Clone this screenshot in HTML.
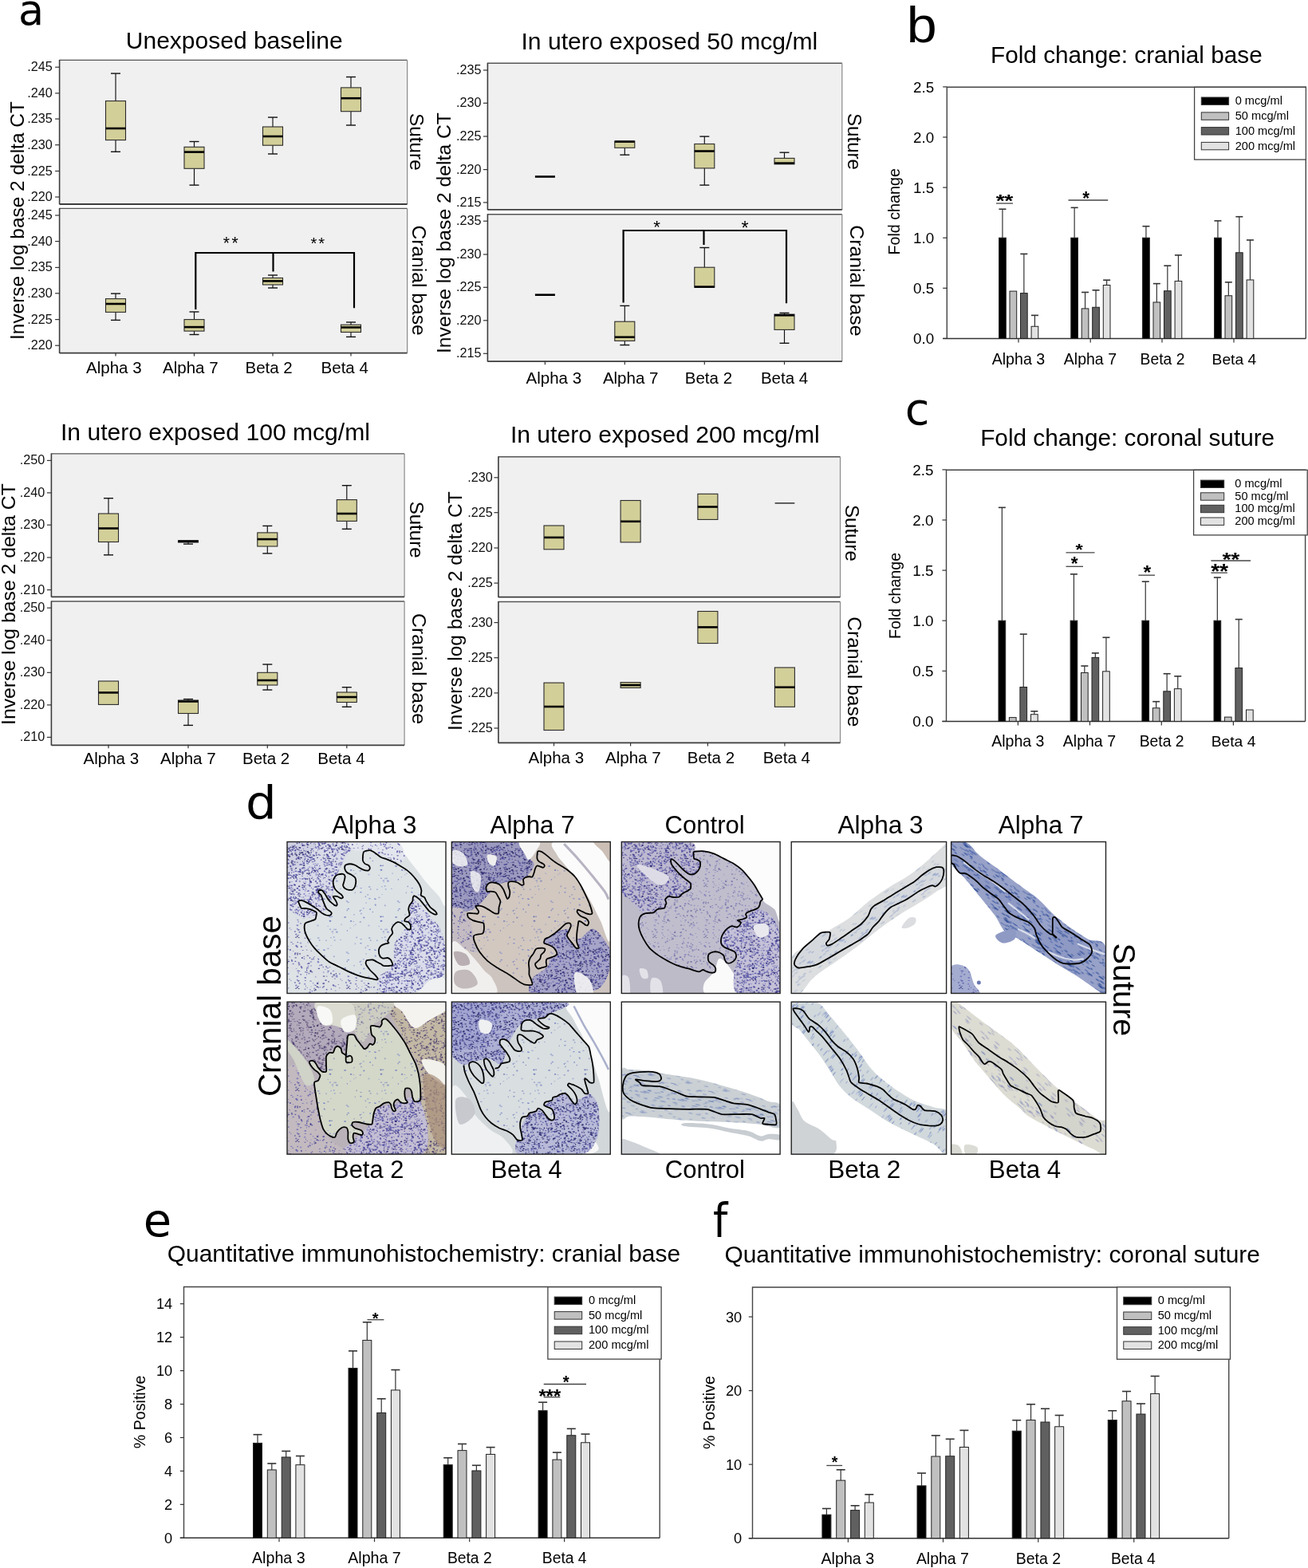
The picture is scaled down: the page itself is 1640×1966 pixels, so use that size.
<!DOCTYPE html>
<html><head><meta charset="utf-8"><title>Figure</title>
<style>html,body{margin:0;padding:0;background:#fff;}svg{display:block;}</style>
</head><body>
<svg width="1640" height="1966" viewBox="0 0 1640 1966">
<rect x="0" y="0" width="1640" height="1966" fill="#fff"/>
<g font-family="'Liberation Sans', Arial, Helvetica, sans-serif">
<text transform="matrix(0.5239 0 0 0.5397 22.96 31.26)" font-family="DejaVu Sans" font-size="100">a</text>
<rect x="74.60" y="75.40" width="436.00" height="180.10" fill="#f0f0f0" stroke="none" stroke-width="1" />
<line x1="74.60" y1="75.40" x2="510.60" y2="75.40" stroke="#555" stroke-width="1.4" />
<line x1="510.60" y1="75.40" x2="510.60" y2="256.00" stroke="#8a8a8a" stroke-width="1.2" />
<line x1="74.60" y1="74.90" x2="74.60" y2="256.30" stroke="#3c3c3c" stroke-width="1.6" />
<line x1="74.60" y1="256.00" x2="510.60" y2="256.00" stroke="#3c3c3c" stroke-width="1.8" />
<rect x="74.60" y="261.40" width="436.00" height="180.70" fill="#f0f0f0" stroke="none" stroke-width="1" />
<line x1="74.60" y1="261.40" x2="510.60" y2="261.40" stroke="#555" stroke-width="1.4" />
<line x1="510.60" y1="261.40" x2="510.60" y2="442.60" stroke="#8a8a8a" stroke-width="1.2" />
<line x1="74.60" y1="260.90" x2="74.60" y2="442.90" stroke="#3c3c3c" stroke-width="1.6" />
<line x1="74.60" y1="442.60" x2="510.60" y2="442.60" stroke="#3c3c3c" stroke-width="1.8" />
<line x1="69.10" y1="84.20" x2="74.60" y2="84.20" stroke="#333" stroke-width="1.2" />
<text x="34.19" y="89.23" font-size="16.20" fill="#111">.245</text>
<line x1="69.10" y1="116.90" x2="74.60" y2="116.90" stroke="#333" stroke-width="1.2" />
<text x="34.19" y="121.93" font-size="16.20" fill="#111">.240</text>
<line x1="69.10" y1="149.10" x2="74.60" y2="149.10" stroke="#333" stroke-width="1.2" />
<text x="34.19" y="154.13" font-size="16.20" fill="#111">.235</text>
<line x1="69.10" y1="181.70" x2="74.60" y2="181.70" stroke="#333" stroke-width="1.2" />
<text x="34.19" y="186.73" font-size="16.20" fill="#111">.230</text>
<line x1="69.10" y1="214.50" x2="74.60" y2="214.50" stroke="#333" stroke-width="1.2" />
<text x="34.19" y="219.53" font-size="16.20" fill="#111">.225</text>
<line x1="69.10" y1="247.00" x2="74.60" y2="247.00" stroke="#333" stroke-width="1.2" />
<text x="34.19" y="252.03" font-size="16.20" fill="#111">.220</text>
<line x1="69.10" y1="270.00" x2="74.60" y2="270.00" stroke="#333" stroke-width="1.2" />
<text x="34.19" y="275.03" font-size="16.20" fill="#111">.245</text>
<line x1="69.10" y1="302.60" x2="74.60" y2="302.60" stroke="#333" stroke-width="1.2" />
<text x="34.19" y="307.63" font-size="16.20" fill="#111">.240</text>
<line x1="69.10" y1="335.40" x2="74.60" y2="335.40" stroke="#333" stroke-width="1.2" />
<text x="34.19" y="340.43" font-size="16.20" fill="#111">.235</text>
<line x1="69.10" y1="367.80" x2="74.60" y2="367.80" stroke="#333" stroke-width="1.2" />
<text x="34.19" y="372.83" font-size="16.20" fill="#111">.230</text>
<line x1="69.10" y1="400.60" x2="74.60" y2="400.60" stroke="#333" stroke-width="1.2" />
<text x="34.19" y="405.63" font-size="16.20" fill="#111">.225</text>
<line x1="69.10" y1="433.20" x2="74.60" y2="433.20" stroke="#333" stroke-width="1.2" />
<text x="34.19" y="438.23" font-size="16.20" fill="#111">.220</text>
<line x1="145.00" y1="442.10" x2="145.00" y2="446.60" stroke="#333" stroke-width="1.2" />
<line x1="243.50" y1="442.10" x2="243.50" y2="446.60" stroke="#333" stroke-width="1.2" />
<line x1="342.00" y1="442.10" x2="342.00" y2="446.60" stroke="#333" stroke-width="1.2" />
<line x1="440.00" y1="442.10" x2="440.00" y2="446.60" stroke="#333" stroke-width="1.2" />
<line x1="145.00" y1="92.10" x2="145.00" y2="126.60" stroke="#111" stroke-width="1.15" />
<line x1="139.00" y1="92.10" x2="151.00" y2="92.10" stroke="#111" stroke-width="1.4" />
<line x1="145.00" y1="175.60" x2="145.00" y2="190.30" stroke="#111" stroke-width="1.15" />
<line x1="139.00" y1="190.30" x2="151.00" y2="190.30" stroke="#111" stroke-width="1.4" />
<rect x="132.50" y="126.60" width="25.00" height="49.00" fill="#d3cf99" stroke="#2a2a2a" stroke-width="1.1" />
<line x1="132.50" y1="161.00" x2="157.50" y2="161.00" stroke="#000" stroke-width="2.6" />
<line x1="243.50" y1="177.50" x2="243.50" y2="184.30" stroke="#111" stroke-width="1.15" />
<line x1="237.50" y1="177.50" x2="249.50" y2="177.50" stroke="#111" stroke-width="1.4" />
<line x1="243.50" y1="211.30" x2="243.50" y2="232.10" stroke="#111" stroke-width="1.15" />
<line x1="237.50" y1="232.10" x2="249.50" y2="232.10" stroke="#111" stroke-width="1.4" />
<rect x="231.00" y="184.30" width="25.00" height="27.00" fill="#d3cf99" stroke="#2a2a2a" stroke-width="1.1" />
<line x1="231.00" y1="190.60" x2="256.00" y2="190.60" stroke="#000" stroke-width="2.6" />
<line x1="342.00" y1="147.10" x2="342.00" y2="159.00" stroke="#111" stroke-width="1.15" />
<line x1="336.00" y1="147.10" x2="348.00" y2="147.10" stroke="#111" stroke-width="1.4" />
<line x1="342.00" y1="182.20" x2="342.00" y2="193.00" stroke="#111" stroke-width="1.15" />
<line x1="336.00" y1="193.00" x2="348.00" y2="193.00" stroke="#111" stroke-width="1.4" />
<rect x="329.50" y="159.00" width="25.00" height="23.20" fill="#d3cf99" stroke="#2a2a2a" stroke-width="1.1" />
<line x1="329.50" y1="171.00" x2="354.50" y2="171.00" stroke="#000" stroke-width="2.6" />
<line x1="440.00" y1="96.50" x2="440.00" y2="109.90" stroke="#111" stroke-width="1.15" />
<line x1="434.00" y1="96.50" x2="446.00" y2="96.50" stroke="#111" stroke-width="1.4" />
<line x1="440.00" y1="139.70" x2="440.00" y2="157.00" stroke="#111" stroke-width="1.15" />
<line x1="434.00" y1="157.00" x2="446.00" y2="157.00" stroke="#111" stroke-width="1.4" />
<rect x="427.50" y="109.90" width="25.00" height="29.80" fill="#d3cf99" stroke="#2a2a2a" stroke-width="1.1" />
<line x1="427.50" y1="123.20" x2="452.50" y2="123.20" stroke="#000" stroke-width="2.6" />
<line x1="145.00" y1="368.10" x2="145.00" y2="374.60" stroke="#111" stroke-width="1.15" />
<line x1="139.00" y1="368.10" x2="151.00" y2="368.10" stroke="#111" stroke-width="1.4" />
<line x1="145.00" y1="391.40" x2="145.00" y2="401.40" stroke="#111" stroke-width="1.15" />
<line x1="139.00" y1="401.40" x2="151.00" y2="401.40" stroke="#111" stroke-width="1.4" />
<rect x="132.50" y="374.60" width="25.00" height="16.80" fill="#d3cf99" stroke="#2a2a2a" stroke-width="1.1" />
<line x1="132.50" y1="381.00" x2="157.50" y2="381.00" stroke="#000" stroke-width="2.6" />
<line x1="243.50" y1="391.00" x2="243.50" y2="400.60" stroke="#111" stroke-width="1.15" />
<line x1="237.50" y1="391.00" x2="249.50" y2="391.00" stroke="#111" stroke-width="1.4" />
<line x1="243.50" y1="415.10" x2="243.50" y2="419.50" stroke="#111" stroke-width="1.15" />
<line x1="237.50" y1="419.50" x2="249.50" y2="419.50" stroke="#111" stroke-width="1.4" />
<rect x="231.00" y="400.60" width="25.00" height="14.50" fill="#d3cf99" stroke="#2a2a2a" stroke-width="1.1" />
<line x1="231.00" y1="410.10" x2="256.00" y2="410.10" stroke="#000" stroke-width="2.6" />
<line x1="342.00" y1="345.00" x2="342.00" y2="348.50" stroke="#111" stroke-width="1.15" />
<line x1="336.00" y1="345.00" x2="348.00" y2="345.00" stroke="#111" stroke-width="1.4" />
<line x1="342.00" y1="357.00" x2="342.00" y2="361.00" stroke="#111" stroke-width="1.15" />
<line x1="336.00" y1="361.00" x2="348.00" y2="361.00" stroke="#111" stroke-width="1.4" />
<rect x="329.50" y="348.50" width="25.00" height="8.50" fill="#d3cf99" stroke="#2a2a2a" stroke-width="1.1" />
<line x1="329.50" y1="352.40" x2="354.50" y2="352.40" stroke="#000" stroke-width="2.6" />
<line x1="440.00" y1="404.00" x2="440.00" y2="407.20" stroke="#111" stroke-width="1.15" />
<line x1="434.00" y1="404.00" x2="446.00" y2="404.00" stroke="#111" stroke-width="1.4" />
<line x1="440.00" y1="416.50" x2="440.00" y2="422.40" stroke="#111" stroke-width="1.15" />
<line x1="434.00" y1="422.40" x2="446.00" y2="422.40" stroke="#111" stroke-width="1.4" />
<rect x="427.50" y="407.20" width="25.00" height="9.30" fill="#d3cf99" stroke="#2a2a2a" stroke-width="1.1" />
<line x1="427.50" y1="410.50" x2="452.50" y2="410.50" stroke="#000" stroke-width="2.6" />
<text x="108.00" y="467.70" font-size="20.50" fill="#000" >Alpha 3</text>
<text x="204.00" y="467.70" font-size="20.50" fill="#000" >Alpha 7</text>
<text x="307.50" y="467.70" font-size="20.50" fill="#000" >Beta 2</text>
<text x="402.60" y="467.70" font-size="20.50" fill="#000" >Beta 4</text>
<polyline points="245.3,388 245.3,317 444,317 444,386.2" fill="none" stroke="#000" stroke-width="2.2"/>
<line x1="342.50" y1="317.00" x2="342.50" y2="340.50" stroke="#000" stroke-width="2.2" />
<text x="279.68" y="311.60" font-size="21.16">*</text>
<text x="290.57" y="311.60" font-size="21.16">*</text>
<text x="389.50" y="312.00" font-size="20.29">*</text>
<text x="399.29" y="312.00" font-size="20.29">*</text>
<text x="157.80" y="61.30" font-size="30.01" fill="#000" >Unexposed baseline</text>
<text transform="translate(514.07,142.00) rotate(90)" x="0" y="0" font-size="24.35">Suture</text>
<text transform="translate(517.36,282.40) rotate(90)" x="0" y="0" font-size="24.63">Cranial base</text>
<text transform="translate(30.00,426.00) rotate(-90)" x="0" y="0" font-size="24.45">Inverse log base 2 delta CT</text>
<rect x="611.40" y="79.20" width="444.40" height="183.20" fill="#f0f0f0" stroke="none" stroke-width="1" />
<line x1="611.40" y1="79.20" x2="1055.80" y2="79.20" stroke="#555" stroke-width="1.4" />
<line x1="1055.80" y1="79.20" x2="1055.80" y2="262.90" stroke="#8a8a8a" stroke-width="1.2" />
<line x1="611.40" y1="78.70" x2="611.40" y2="263.20" stroke="#3c3c3c" stroke-width="1.6" />
<line x1="611.40" y1="262.90" x2="1055.80" y2="262.90" stroke="#3c3c3c" stroke-width="1.8" />
<rect x="611.40" y="268.70" width="444.40" height="184.00" fill="#f0f0f0" stroke="none" stroke-width="1" />
<line x1="611.40" y1="268.70" x2="1055.80" y2="268.70" stroke="#555" stroke-width="1.4" />
<line x1="1055.80" y1="268.70" x2="1055.80" y2="453.20" stroke="#8a8a8a" stroke-width="1.2" />
<line x1="611.40" y1="268.20" x2="611.40" y2="453.50" stroke="#3c3c3c" stroke-width="1.6" />
<line x1="611.40" y1="453.20" x2="1055.80" y2="453.20" stroke="#3c3c3c" stroke-width="1.8" />
<line x1="605.90" y1="88.00" x2="611.40" y2="88.00" stroke="#333" stroke-width="1.2" />
<text x="571.99" y="93.03" font-size="16.20" fill="#111">.235</text>
<line x1="605.90" y1="129.30" x2="611.40" y2="129.30" stroke="#333" stroke-width="1.2" />
<text x="571.99" y="134.33" font-size="16.20" fill="#111">.230</text>
<line x1="605.90" y1="171.00" x2="611.40" y2="171.00" stroke="#333" stroke-width="1.2" />
<text x="571.99" y="176.03" font-size="16.20" fill="#111">.225</text>
<line x1="605.90" y1="212.60" x2="611.40" y2="212.60" stroke="#333" stroke-width="1.2" />
<text x="571.99" y="217.63" font-size="16.20" fill="#111">.220</text>
<line x1="605.90" y1="253.90" x2="611.40" y2="253.90" stroke="#333" stroke-width="1.2" />
<text x="571.99" y="258.93" font-size="16.20" fill="#111">.215</text>
<line x1="605.90" y1="277.20" x2="611.40" y2="277.20" stroke="#333" stroke-width="1.2" />
<text x="571.99" y="282.23" font-size="16.20" fill="#111">.235</text>
<line x1="605.90" y1="319.00" x2="611.40" y2="319.00" stroke="#333" stroke-width="1.2" />
<text x="571.99" y="324.03" font-size="16.20" fill="#111">.230</text>
<line x1="605.90" y1="360.30" x2="611.40" y2="360.30" stroke="#333" stroke-width="1.2" />
<text x="571.99" y="365.33" font-size="16.20" fill="#111">.225</text>
<line x1="605.90" y1="401.80" x2="611.40" y2="401.80" stroke="#333" stroke-width="1.2" />
<text x="571.99" y="406.83" font-size="16.20" fill="#111">.220</text>
<line x1="605.90" y1="443.30" x2="611.40" y2="443.30" stroke="#333" stroke-width="1.2" />
<text x="571.99" y="448.33" font-size="16.20" fill="#111">.215</text>
<line x1="683.40" y1="452.70" x2="683.40" y2="457.20" stroke="#333" stroke-width="1.2" />
<line x1="783.30" y1="452.70" x2="783.30" y2="457.20" stroke="#333" stroke-width="1.2" />
<line x1="883.30" y1="452.70" x2="883.30" y2="457.20" stroke="#333" stroke-width="1.2" />
<line x1="983.50" y1="452.70" x2="983.50" y2="457.20" stroke="#333" stroke-width="1.2" />
<line x1="670.90" y1="221.50" x2="695.90" y2="221.50" stroke="#000" stroke-width="2.6" />
<line x1="783.30" y1="185.30" x2="783.30" y2="194.20" stroke="#111" stroke-width="1.15" />
<line x1="777.30" y1="194.20" x2="789.30" y2="194.20" stroke="#111" stroke-width="1.4" />
<rect x="770.80" y="177.10" width="25.00" height="8.20" fill="#d3cf99" stroke="#2a2a2a" stroke-width="1.1" />
<line x1="770.80" y1="177.60" x2="795.80" y2="177.60" stroke="#000" stroke-width="2.6" />
<line x1="883.30" y1="171.10" x2="883.30" y2="180.50" stroke="#111" stroke-width="1.15" />
<line x1="877.30" y1="171.10" x2="889.30" y2="171.10" stroke="#111" stroke-width="1.4" />
<line x1="883.30" y1="210.90" x2="883.30" y2="232.10" stroke="#111" stroke-width="1.15" />
<line x1="877.30" y1="232.10" x2="889.30" y2="232.10" stroke="#111" stroke-width="1.4" />
<rect x="870.80" y="180.50" width="25.00" height="30.40" fill="#d3cf99" stroke="#2a2a2a" stroke-width="1.1" />
<line x1="870.80" y1="189.50" x2="895.80" y2="189.50" stroke="#000" stroke-width="2.6" />
<line x1="983.50" y1="191.20" x2="983.50" y2="198.40" stroke="#111" stroke-width="1.15" />
<line x1="977.50" y1="191.20" x2="989.50" y2="191.20" stroke="#111" stroke-width="1.4" />
<rect x="971.00" y="198.40" width="25.00" height="7.40" fill="#d3cf99" stroke="#2a2a2a" stroke-width="1.1" />
<line x1="971.00" y1="204.60" x2="996.00" y2="204.60" stroke="#000" stroke-width="2.6" />
<line x1="670.90" y1="369.70" x2="695.90" y2="369.70" stroke="#000" stroke-width="2.6" />
<line x1="783.30" y1="383.40" x2="783.30" y2="403.20" stroke="#111" stroke-width="1.15" />
<line x1="777.30" y1="383.40" x2="789.30" y2="383.40" stroke="#111" stroke-width="1.4" />
<line x1="783.30" y1="427.40" x2="783.30" y2="432.60" stroke="#111" stroke-width="1.15" />
<line x1="777.30" y1="432.60" x2="789.30" y2="432.60" stroke="#111" stroke-width="1.4" />
<rect x="770.80" y="403.20" width="25.00" height="24.20" fill="#d3cf99" stroke="#2a2a2a" stroke-width="1.1" />
<line x1="770.80" y1="422.70" x2="795.80" y2="422.70" stroke="#000" stroke-width="2.6" />
<line x1="883.30" y1="310.50" x2="883.30" y2="335.20" stroke="#111" stroke-width="1.15" />
<line x1="877.30" y1="310.50" x2="889.30" y2="310.50" stroke="#111" stroke-width="1.4" />
<rect x="870.80" y="335.20" width="25.00" height="25.10" fill="#d3cf99" stroke="#2a2a2a" stroke-width="1.1" />
<line x1="870.80" y1="359.60" x2="895.80" y2="359.60" stroke="#000" stroke-width="2.6" />
<line x1="983.50" y1="392.40" x2="983.50" y2="394.10" stroke="#111" stroke-width="1.15" />
<line x1="977.50" y1="392.40" x2="989.50" y2="392.40" stroke="#111" stroke-width="1.4" />
<line x1="983.50" y1="413.40" x2="983.50" y2="430.30" stroke="#111" stroke-width="1.15" />
<line x1="977.50" y1="430.30" x2="989.50" y2="430.30" stroke="#111" stroke-width="1.4" />
<rect x="971.00" y="394.10" width="25.00" height="19.30" fill="#d3cf99" stroke="#2a2a2a" stroke-width="1.1" />
<line x1="971.00" y1="395.30" x2="996.00" y2="395.30" stroke="#000" stroke-width="2.6" />
<text x="659.50" y="481.20" font-size="20.50" fill="#000" >Alpha 3</text>
<text x="755.90" y="481.20" font-size="20.50" fill="#000" >Alpha 7</text>
<text x="858.80" y="481.20" font-size="20.50" fill="#000" >Beta 2</text>
<text x="953.90" y="481.20" font-size="20.50" fill="#000" >Beta 4</text>
<polyline points="781.6,379.6 781.6,289 986,289 986,380.2" fill="none" stroke="#000" stroke-width="2.2"/>
<line x1="882.50" y1="289.00" x2="882.50" y2="307.00" stroke="#000" stroke-width="2.2" />
<text x="819.27" y="291.70" font-size="22.32">*</text>
<text x="929.45" y="294.00" font-size="23.19">*</text>
<text x="653.50" y="61.80" font-size="30.14" fill="#000" >In utero exposed 50 mcg/ml</text>
<text transform="translate(1062.74,142.00) rotate(90)" x="0" y="0" font-size="24.11">Suture</text>
<text transform="translate(1065.75,282.30) rotate(90)" x="0" y="0" font-size="24.79">Cranial base</text>
<text transform="translate(565.38,443.00) rotate(-90)" x="0" y="0" font-size="24.69">Inverse log base 2 delta CT</text>
<rect x="64.40" y="568.90" width="442.70" height="178.90" fill="#f0f0f0" stroke="none" stroke-width="1" />
<line x1="64.40" y1="568.90" x2="507.10" y2="568.90" stroke="#555" stroke-width="1.4" />
<line x1="507.10" y1="568.90" x2="507.10" y2="748.30" stroke="#8a8a8a" stroke-width="1.2" />
<line x1="64.40" y1="568.40" x2="64.40" y2="748.60" stroke="#3c3c3c" stroke-width="1.6" />
<line x1="64.40" y1="748.30" x2="507.10" y2="748.30" stroke="#3c3c3c" stroke-width="1.8" />
<rect x="64.40" y="754.00" width="442.70" height="179.80" fill="#f0f0f0" stroke="none" stroke-width="1" />
<line x1="64.40" y1="754.00" x2="507.10" y2="754.00" stroke="#555" stroke-width="1.4" />
<line x1="507.10" y1="754.00" x2="507.10" y2="934.30" stroke="#8a8a8a" stroke-width="1.2" />
<line x1="64.40" y1="753.50" x2="64.40" y2="934.60" stroke="#3c3c3c" stroke-width="1.6" />
<line x1="64.40" y1="934.30" x2="507.10" y2="934.30" stroke="#3c3c3c" stroke-width="1.8" />
<line x1="58.90" y1="577.40" x2="64.40" y2="577.40" stroke="#333" stroke-width="1.2" />
<text x="24.79" y="582.43" font-size="16.20" fill="#111">.250</text>
<line x1="58.90" y1="617.90" x2="64.40" y2="617.90" stroke="#333" stroke-width="1.2" />
<text x="24.79" y="622.93" font-size="16.20" fill="#111">.240</text>
<line x1="58.90" y1="658.20" x2="64.40" y2="658.20" stroke="#333" stroke-width="1.2" />
<text x="24.79" y="663.23" font-size="16.20" fill="#111">.230</text>
<line x1="58.90" y1="699.00" x2="64.40" y2="699.00" stroke="#333" stroke-width="1.2" />
<text x="24.79" y="704.03" font-size="16.20" fill="#111">.220</text>
<line x1="58.90" y1="739.60" x2="64.40" y2="739.60" stroke="#333" stroke-width="1.2" />
<text x="24.79" y="744.63" font-size="16.20" fill="#111">.210</text>
<line x1="58.90" y1="762.20" x2="64.40" y2="762.20" stroke="#333" stroke-width="1.2" />
<text x="24.79" y="767.23" font-size="16.20" fill="#111">.250</text>
<line x1="58.90" y1="802.80" x2="64.40" y2="802.80" stroke="#333" stroke-width="1.2" />
<text x="24.79" y="807.83" font-size="16.20" fill="#111">.240</text>
<line x1="58.90" y1="843.30" x2="64.40" y2="843.30" stroke="#333" stroke-width="1.2" />
<text x="24.79" y="848.33" font-size="16.20" fill="#111">.230</text>
<line x1="58.90" y1="883.90" x2="64.40" y2="883.90" stroke="#333" stroke-width="1.2" />
<text x="24.79" y="888.93" font-size="16.20" fill="#111">.220</text>
<line x1="58.90" y1="924.40" x2="64.40" y2="924.40" stroke="#333" stroke-width="1.2" />
<text x="24.79" y="929.43" font-size="16.20" fill="#111">.210</text>
<line x1="136.00" y1="933.80" x2="136.00" y2="938.30" stroke="#333" stroke-width="1.2" />
<line x1="236.00" y1="933.80" x2="236.00" y2="938.30" stroke="#333" stroke-width="1.2" />
<line x1="335.30" y1="933.80" x2="335.30" y2="938.30" stroke="#333" stroke-width="1.2" />
<line x1="434.80" y1="933.80" x2="434.80" y2="938.30" stroke="#333" stroke-width="1.2" />
<line x1="136.00" y1="624.70" x2="136.00" y2="644.00" stroke="#111" stroke-width="1.15" />
<line x1="130.00" y1="624.70" x2="142.00" y2="624.70" stroke="#111" stroke-width="1.4" />
<line x1="136.00" y1="679.50" x2="136.00" y2="695.80" stroke="#111" stroke-width="1.15" />
<line x1="130.00" y1="695.80" x2="142.00" y2="695.80" stroke="#111" stroke-width="1.4" />
<rect x="123.50" y="644.00" width="25.00" height="35.50" fill="#d3cf99" stroke="#2a2a2a" stroke-width="1.1" />
<line x1="123.50" y1="662.50" x2="148.50" y2="662.50" stroke="#000" stroke-width="2.6" />
<line x1="236.00" y1="680.00" x2="236.00" y2="682.10" stroke="#111" stroke-width="1.15" />
<line x1="230.00" y1="682.10" x2="242.00" y2="682.10" stroke="#111" stroke-width="1.4" />
<rect x="223.50" y="677.80" width="25.00" height="2.20" fill="#d3cf99" stroke="#2a2a2a" stroke-width="1.1" />
<line x1="223.50" y1="678.70" x2="248.50" y2="678.70" stroke="#000" stroke-width="2.6" />
<line x1="335.30" y1="659.40" x2="335.30" y2="667.90" stroke="#111" stroke-width="1.15" />
<line x1="329.30" y1="659.40" x2="341.30" y2="659.40" stroke="#111" stroke-width="1.4" />
<line x1="335.30" y1="685.00" x2="335.30" y2="693.90" stroke="#111" stroke-width="1.15" />
<line x1="329.30" y1="693.90" x2="341.30" y2="693.90" stroke="#111" stroke-width="1.4" />
<rect x="322.80" y="667.90" width="25.00" height="17.10" fill="#d3cf99" stroke="#2a2a2a" stroke-width="1.1" />
<line x1="322.80" y1="676.10" x2="347.80" y2="676.10" stroke="#000" stroke-width="2.6" />
<line x1="434.80" y1="608.70" x2="434.80" y2="626.60" stroke="#111" stroke-width="1.15" />
<line x1="428.80" y1="608.70" x2="440.80" y2="608.70" stroke="#111" stroke-width="1.4" />
<line x1="434.80" y1="653.40" x2="434.80" y2="663.30" stroke="#111" stroke-width="1.15" />
<line x1="428.80" y1="663.30" x2="440.80" y2="663.30" stroke="#111" stroke-width="1.4" />
<rect x="422.30" y="626.60" width="25.00" height="26.80" fill="#d3cf99" stroke="#2a2a2a" stroke-width="1.1" />
<line x1="422.30" y1="644.00" x2="447.30" y2="644.00" stroke="#000" stroke-width="2.6" />
<rect x="123.50" y="854.00" width="25.00" height="29.40" fill="#d3cf99" stroke="#2a2a2a" stroke-width="1.1" />
<line x1="123.50" y1="868.40" x2="148.50" y2="868.40" stroke="#000" stroke-width="2.6" />
<line x1="236.00" y1="876.60" x2="236.00" y2="878.00" stroke="#111" stroke-width="1.15" />
<line x1="230.00" y1="876.60" x2="242.00" y2="876.60" stroke="#111" stroke-width="1.4" />
<line x1="236.00" y1="894.50" x2="236.00" y2="909.40" stroke="#111" stroke-width="1.15" />
<line x1="230.00" y1="909.40" x2="242.00" y2="909.40" stroke="#111" stroke-width="1.4" />
<rect x="223.50" y="878.00" width="25.00" height="16.50" fill="#d3cf99" stroke="#2a2a2a" stroke-width="1.1" />
<line x1="223.50" y1="879.50" x2="248.50" y2="879.50" stroke="#000" stroke-width="2.6" />
<line x1="335.30" y1="833.00" x2="335.30" y2="843.30" stroke="#111" stroke-width="1.15" />
<line x1="329.30" y1="833.00" x2="341.30" y2="833.00" stroke="#111" stroke-width="1.4" />
<line x1="335.30" y1="859.00" x2="335.30" y2="865.00" stroke="#111" stroke-width="1.15" />
<line x1="329.30" y1="865.00" x2="341.30" y2="865.00" stroke="#111" stroke-width="1.4" />
<rect x="322.80" y="843.30" width="25.00" height="15.70" fill="#d3cf99" stroke="#2a2a2a" stroke-width="1.1" />
<line x1="322.80" y1="853.00" x2="347.80" y2="853.00" stroke="#000" stroke-width="2.6" />
<line x1="434.80" y1="861.70" x2="434.80" y2="868.00" stroke="#111" stroke-width="1.15" />
<line x1="428.80" y1="861.70" x2="440.80" y2="861.70" stroke="#111" stroke-width="1.4" />
<line x1="434.80" y1="880.50" x2="434.80" y2="886.30" stroke="#111" stroke-width="1.15" />
<line x1="428.80" y1="886.30" x2="440.80" y2="886.30" stroke="#111" stroke-width="1.4" />
<rect x="422.30" y="868.00" width="25.00" height="12.50" fill="#d3cf99" stroke="#2a2a2a" stroke-width="1.1" />
<line x1="422.30" y1="874.00" x2="447.30" y2="874.00" stroke="#000" stroke-width="2.6" />
<text x="104.50" y="958.00" font-size="20.50" fill="#000" >Alpha 3</text>
<text x="201.10" y="958.00" font-size="20.50" fill="#000" >Alpha 7</text>
<text x="304.00" y="958.00" font-size="20.50" fill="#000" >Beta 2</text>
<text x="398.30" y="958.00" font-size="20.50" fill="#000" >Beta 4</text>
<text x="76.00" y="551.80" font-size="30.09" fill="#000" >In utero exposed 100 mcg/ml</text>
<text transform="translate(514.29,628.70) rotate(90)" x="0" y="0" font-size="24.04">Suture</text>
<text transform="translate(517.25,769.00) rotate(90)" x="0" y="0" font-size="24.79">Cranial base</text>
<text transform="translate(19.44,909.00) rotate(-90)" x="0" y="0" font-size="24.78">Inverse log base 2 delta CT</text>
<rect x="624.90" y="572.70" width="428.60" height="175.50" fill="#f0f0f0" stroke="none" stroke-width="1" />
<line x1="624.90" y1="572.70" x2="1053.50" y2="572.70" stroke="#555" stroke-width="1.4" />
<line x1="1053.50" y1="572.70" x2="1053.50" y2="748.70" stroke="#8a8a8a" stroke-width="1.2" />
<line x1="624.90" y1="572.20" x2="624.90" y2="749.00" stroke="#3c3c3c" stroke-width="1.6" />
<line x1="624.90" y1="748.70" x2="1053.50" y2="748.70" stroke="#3c3c3c" stroke-width="1.8" />
<rect x="624.90" y="754.50" width="428.60" height="176.40" fill="#f0f0f0" stroke="none" stroke-width="1" />
<line x1="624.90" y1="754.50" x2="1053.50" y2="754.50" stroke="#555" stroke-width="1.4" />
<line x1="1053.50" y1="754.50" x2="1053.50" y2="931.40" stroke="#8a8a8a" stroke-width="1.2" />
<line x1="624.90" y1="754.00" x2="624.90" y2="931.70" stroke="#3c3c3c" stroke-width="1.6" />
<line x1="624.90" y1="931.40" x2="1053.50" y2="931.40" stroke="#3c3c3c" stroke-width="1.8" />
<line x1="619.40" y1="598.80" x2="624.90" y2="598.80" stroke="#333" stroke-width="1.2" />
<text x="586.19" y="603.83" font-size="16.20" fill="#111">.230</text>
<line x1="619.40" y1="642.70" x2="624.90" y2="642.70" stroke="#333" stroke-width="1.2" />
<text x="586.19" y="647.73" font-size="16.20" fill="#111">.225</text>
<line x1="619.40" y1="687.00" x2="624.90" y2="687.00" stroke="#333" stroke-width="1.2" />
<text x="586.19" y="692.03" font-size="16.20" fill="#111">.220</text>
<line x1="619.40" y1="731.10" x2="624.90" y2="731.10" stroke="#333" stroke-width="1.2" />
<text x="586.19" y="736.13" font-size="16.20" fill="#111">.225</text>
<line x1="619.40" y1="780.60" x2="624.90" y2="780.60" stroke="#333" stroke-width="1.2" />
<text x="586.19" y="785.63" font-size="16.20" fill="#111">.230</text>
<line x1="619.40" y1="824.70" x2="624.90" y2="824.70" stroke="#333" stroke-width="1.2" />
<text x="586.19" y="829.73" font-size="16.20" fill="#111">.225</text>
<line x1="619.40" y1="868.90" x2="624.90" y2="868.90" stroke="#333" stroke-width="1.2" />
<text x="586.19" y="873.93" font-size="16.20" fill="#111">.220</text>
<line x1="619.40" y1="913.00" x2="624.90" y2="913.00" stroke="#333" stroke-width="1.2" />
<text x="586.19" y="918.03" font-size="16.20" fill="#111">.225</text>
<line x1="694.50" y1="930.90" x2="694.50" y2="935.40" stroke="#333" stroke-width="1.2" />
<line x1="790.60" y1="930.90" x2="790.60" y2="935.40" stroke="#333" stroke-width="1.2" />
<line x1="887.40" y1="930.90" x2="887.40" y2="935.40" stroke="#333" stroke-width="1.2" />
<line x1="983.90" y1="930.90" x2="983.90" y2="935.40" stroke="#333" stroke-width="1.2" />
<rect x="682.00" y="659.00" width="25.00" height="29.80" fill="#d3cf99" stroke="#2a2a2a" stroke-width="1.1" />
<line x1="682.00" y1="673.90" x2="707.00" y2="673.90" stroke="#000" stroke-width="2.6" />
<rect x="778.10" y="627.50" width="25.00" height="52.40" fill="#d3cf99" stroke="#2a2a2a" stroke-width="1.1" />
<line x1="778.10" y1="653.80" x2="803.10" y2="653.80" stroke="#000" stroke-width="2.6" />
<rect x="874.90" y="619.30" width="25.00" height="32.10" fill="#d3cf99" stroke="#2a2a2a" stroke-width="1.1" />
<line x1="874.90" y1="635.50" x2="899.90" y2="635.50" stroke="#000" stroke-width="2.6" />
<rect x="682.00" y="856.10" width="25.00" height="59.40" fill="#d3cf99" stroke="#2a2a2a" stroke-width="1.1" />
<line x1="682.00" y1="886.00" x2="707.00" y2="886.00" stroke="#000" stroke-width="2.6" />
<rect x="778.10" y="855.60" width="25.00" height="6.80" fill="#d3cf99" stroke="#2a2a2a" stroke-width="1.1" />
<line x1="778.10" y1="859.00" x2="803.10" y2="859.00" stroke="#000" stroke-width="2.6" />
<rect x="874.90" y="766.50" width="25.00" height="40.10" fill="#d3cf99" stroke="#2a2a2a" stroke-width="1.1" />
<line x1="874.90" y1="786.40" x2="899.90" y2="786.40" stroke="#000" stroke-width="2.6" />
<rect x="971.40" y="837.00" width="25.00" height="49.30" fill="#d3cf99" stroke="#2a2a2a" stroke-width="1.1" />
<line x1="971.40" y1="861.70" x2="996.40" y2="861.70" stroke="#000" stroke-width="2.6" />
<text x="662.60" y="957.20" font-size="20.50" fill="#000" >Alpha 3</text>
<text x="759.00" y="957.20" font-size="20.50" fill="#000" >Alpha 7</text>
<text x="861.80" y="957.20" font-size="20.50" fill="#000" >Beta 2</text>
<text x="956.70" y="957.20" font-size="20.50" fill="#000" >Beta 4</text>
<line x1="971.60" y1="630.90" x2="996.30" y2="630.90" stroke="#111" stroke-width="1.3" />
<text x="639.90" y="555.20" font-size="30.09" fill="#000" >In utero exposed 200 mcg/ml</text>
<text transform="translate(1060.19,633.00) rotate(90)" x="0" y="0" font-size="24.04">Suture</text>
<text transform="translate(1063.36,773.30) rotate(90)" x="0" y="0" font-size="24.63">Cranial base</text>
<text transform="translate(579.16,916.00) rotate(-90)" x="0" y="0" font-size="24.53">Inverse log base 2 delta CT</text>
<polyline points="1187.3,424.4 1187.3,109.3 1637.3,109.3 1637.3,424.4" fill="none" stroke="#444" stroke-width="1.4"/>
<line x1="1182.20" y1="424.40" x2="1637.30" y2="424.40" stroke="#333" stroke-width="1.5" />
<line x1="1182.20" y1="424.40" x2="1187.30" y2="424.40" stroke="#333" stroke-width="1.2" />
<text x="1144.97" y="431.17" font-size="18.80" fill="#000">0.0</text>
<line x1="1182.20" y1="361.30" x2="1187.30" y2="361.30" stroke="#333" stroke-width="1.2" />
<text x="1144.97" y="368.07" font-size="18.80" fill="#000">0.5</text>
<line x1="1182.20" y1="298.20" x2="1187.30" y2="298.20" stroke="#333" stroke-width="1.2" />
<text x="1144.97" y="304.97" font-size="18.80" fill="#000">1.0</text>
<line x1="1182.20" y1="235.10" x2="1187.30" y2="235.10" stroke="#333" stroke-width="1.2" />
<text x="1144.97" y="241.87" font-size="18.80" fill="#000">1.5</text>
<line x1="1182.20" y1="172.00" x2="1187.30" y2="172.00" stroke="#333" stroke-width="1.2" />
<text x="1144.97" y="178.77" font-size="18.80" fill="#000">2.0</text>
<line x1="1182.20" y1="108.90" x2="1187.30" y2="108.90" stroke="#333" stroke-width="1.2" />
<text x="1144.97" y="115.67" font-size="18.80" fill="#000">2.5</text>
<line x1="1277.00" y1="424.40" x2="1277.00" y2="429.40" stroke="#333" stroke-width="1.2" />
<line x1="1367.20" y1="424.40" x2="1367.20" y2="429.40" stroke="#333" stroke-width="1.2" />
<line x1="1457.00" y1="424.40" x2="1457.00" y2="429.40" stroke="#333" stroke-width="1.2" />
<line x1="1547.00" y1="424.40" x2="1547.00" y2="429.40" stroke="#333" stroke-width="1.2" />
<line x1="1256.95" y1="262.23" x2="1256.95" y2="298.20" stroke="#333" stroke-width="1.2" />
<line x1="1252.45" y1="262.23" x2="1261.45" y2="262.23" stroke="#333" stroke-width="1.6" />
<rect x="1252.60" y="298.20" width="8.70" height="126.20" fill="#000000" stroke="#222" stroke-width="1.0" />
<rect x="1266.00" y="365.09" width="8.70" height="59.31" fill="#c0c0c0" stroke="#222" stroke-width="1.0" />
<line x1="1283.85" y1="318.39" x2="1283.85" y2="367.61" stroke="#333" stroke-width="1.2" />
<line x1="1279.35" y1="318.39" x2="1288.35" y2="318.39" stroke="#333" stroke-width="1.6" />
<rect x="1279.50" y="367.61" width="8.70" height="56.79" fill="#606060" stroke="#222" stroke-width="1.0" />
<line x1="1297.45" y1="395.37" x2="1297.45" y2="409.26" stroke="#333" stroke-width="1.2" />
<line x1="1292.95" y1="395.37" x2="1301.95" y2="395.37" stroke="#333" stroke-width="1.6" />
<rect x="1293.10" y="409.26" width="8.70" height="15.14" fill="#e2e2e2" stroke="#222" stroke-width="1.0" />
<line x1="1347.15" y1="260.34" x2="1347.15" y2="298.20" stroke="#333" stroke-width="1.2" />
<line x1="1342.65" y1="260.34" x2="1351.65" y2="260.34" stroke="#333" stroke-width="1.6" />
<rect x="1342.80" y="298.20" width="8.70" height="126.20" fill="#000000" stroke="#222" stroke-width="1.0" />
<line x1="1360.55" y1="366.47" x2="1360.55" y2="386.92" stroke="#333" stroke-width="1.2" />
<line x1="1356.05" y1="366.47" x2="1365.05" y2="366.47" stroke="#333" stroke-width="1.6" />
<rect x="1356.20" y="386.92" width="8.70" height="37.48" fill="#c0c0c0" stroke="#222" stroke-width="1.0" />
<line x1="1374.05" y1="363.82" x2="1374.05" y2="385.28" stroke="#333" stroke-width="1.2" />
<line x1="1369.55" y1="363.82" x2="1378.55" y2="363.82" stroke="#333" stroke-width="1.6" />
<rect x="1369.70" y="385.28" width="8.70" height="39.12" fill="#606060" stroke="#222" stroke-width="1.0" />
<line x1="1387.65" y1="351.20" x2="1387.65" y2="357.51" stroke="#333" stroke-width="1.2" />
<line x1="1383.15" y1="351.20" x2="1392.15" y2="351.20" stroke="#333" stroke-width="1.6" />
<rect x="1383.30" y="357.51" width="8.70" height="66.89" fill="#e2e2e2" stroke="#222" stroke-width="1.0" />
<line x1="1436.95" y1="283.69" x2="1436.95" y2="298.20" stroke="#333" stroke-width="1.2" />
<line x1="1432.45" y1="283.69" x2="1441.45" y2="283.69" stroke="#333" stroke-width="1.6" />
<rect x="1432.60" y="298.20" width="8.70" height="126.20" fill="#000000" stroke="#222" stroke-width="1.0" />
<line x1="1450.35" y1="355.62" x2="1450.35" y2="378.97" stroke="#333" stroke-width="1.2" />
<line x1="1445.85" y1="355.62" x2="1454.85" y2="355.62" stroke="#333" stroke-width="1.6" />
<rect x="1446.00" y="378.97" width="8.70" height="45.43" fill="#c0c0c0" stroke="#222" stroke-width="1.0" />
<line x1="1463.85" y1="333.16" x2="1463.85" y2="364.71" stroke="#333" stroke-width="1.2" />
<line x1="1459.35" y1="333.16" x2="1468.35" y2="333.16" stroke="#333" stroke-width="1.6" />
<rect x="1459.50" y="364.71" width="8.70" height="59.69" fill="#606060" stroke="#222" stroke-width="1.0" />
<line x1="1477.45" y1="319.91" x2="1477.45" y2="352.47" stroke="#333" stroke-width="1.2" />
<line x1="1472.95" y1="319.91" x2="1481.95" y2="319.91" stroke="#333" stroke-width="1.6" />
<rect x="1473.10" y="352.47" width="8.70" height="71.93" fill="#e2e2e2" stroke="#222" stroke-width="1.0" />
<line x1="1526.95" y1="276.87" x2="1526.95" y2="298.20" stroke="#333" stroke-width="1.2" />
<line x1="1522.45" y1="276.87" x2="1531.45" y2="276.87" stroke="#333" stroke-width="1.6" />
<rect x="1522.60" y="298.20" width="8.70" height="126.20" fill="#000000" stroke="#222" stroke-width="1.0" />
<line x1="1540.35" y1="353.85" x2="1540.35" y2="370.76" stroke="#333" stroke-width="1.2" />
<line x1="1535.85" y1="353.85" x2="1544.85" y2="353.85" stroke="#333" stroke-width="1.6" />
<rect x="1536.00" y="370.76" width="8.70" height="53.63" fill="#c0c0c0" stroke="#222" stroke-width="1.0" />
<line x1="1553.85" y1="271.70" x2="1553.85" y2="316.75" stroke="#333" stroke-width="1.2" />
<line x1="1549.35" y1="271.70" x2="1558.35" y2="271.70" stroke="#333" stroke-width="1.6" />
<rect x="1549.50" y="316.75" width="8.70" height="107.65" fill="#606060" stroke="#222" stroke-width="1.0" />
<line x1="1567.45" y1="300.98" x2="1567.45" y2="350.95" stroke="#333" stroke-width="1.2" />
<line x1="1562.95" y1="300.98" x2="1571.95" y2="300.98" stroke="#333" stroke-width="1.6" />
<rect x="1563.10" y="350.95" width="8.70" height="73.45" fill="#e2e2e2" stroke="#222" stroke-width="1.0" />
<rect x="1497.60" y="109.30" width="139.80" height="90.80" fill="#fff" stroke="#444" stroke-width="1.3" />
<rect x="1506.30" y="122.00" width="34.30" height="9.40" fill="#000000" stroke="#333" stroke-width="1.0" />
<text x="1548.70" y="131.10" font-size="14.60" fill="#000" >0 mcg/ml</text>
<rect x="1506.30" y="140.90" width="34.30" height="9.40" fill="#c0c0c0" stroke="#333" stroke-width="1.0" />
<text x="1548.70" y="150.00" font-size="14.60" fill="#000" >50 mcg/ml</text>
<rect x="1506.30" y="159.60" width="34.30" height="9.40" fill="#606060" stroke="#333" stroke-width="1.0" />
<text x="1548.70" y="168.70" font-size="14.60" fill="#000" >100 mcg/ml</text>
<rect x="1506.30" y="178.40" width="34.30" height="9.40" fill="#e2e2e2" stroke="#333" stroke-width="1.0" />
<text x="1548.70" y="187.50" font-size="14.60" fill="#000" >200 mcg/ml</text>
<text x="1243.70" y="457.00" font-size="19.62" fill="#000" >Alpha 3</text>
<text x="1333.80" y="457.00" font-size="19.53" fill="#000" >Alpha 7</text>
<text x="1429.60" y="457.00" font-size="19.31" fill="#000" >Beta 2</text>
<text x="1519.60" y="457.00" font-size="19.24" fill="#000" >Beta 4</text>
<line x1="1249.00" y1="255.00" x2="1270.00" y2="255.00" stroke="#444" stroke-width="1.3" />
<text transform="translate(1248.66,259.12) scale(1.296,1)" font-size="21.92" font-weight="bold">*</text>
<text transform="translate(1259.31,259.12) scale(1.296,1)" font-size="21.92" font-weight="bold">*</text>
<line x1="1339.50" y1="251.00" x2="1389.20" y2="251.00" stroke="#444" stroke-width="1.3" />
<text transform="translate(1357.29,256.64) scale(0.940,1)" font-size="24.11" font-weight="bold">*</text>
<text transform="matrix(0.6822 0 0 0.6205 1136.81 53.18)" font-family="Liberation Sans" font-size="100">b</text>
<text x="1242.00" y="78.50" font-size="29.76" fill="#000" >Fold change: cranial base</text>
<text transform="translate(1128.00,319.50) rotate(-90)" x="0" y="0" font-size="19.69">Fold change</text>
<polyline points="1186.5,904.4 1186.5,589.3 1636.6,589.3 1636.6,904.4" fill="none" stroke="#444" stroke-width="1.4"/>
<line x1="1181.40" y1="904.40" x2="1636.60" y2="904.40" stroke="#333" stroke-width="1.5" />
<line x1="1181.40" y1="904.40" x2="1186.50" y2="904.40" stroke="#333" stroke-width="1.2" />
<text x="1144.37" y="911.17" font-size="18.80" fill="#000">0.0</text>
<line x1="1181.40" y1="841.30" x2="1186.50" y2="841.30" stroke="#333" stroke-width="1.2" />
<text x="1144.37" y="848.07" font-size="18.80" fill="#000">0.5</text>
<line x1="1181.40" y1="778.20" x2="1186.50" y2="778.20" stroke="#333" stroke-width="1.2" />
<text x="1144.37" y="784.97" font-size="18.80" fill="#000">1.0</text>
<line x1="1181.40" y1="715.10" x2="1186.50" y2="715.10" stroke="#333" stroke-width="1.2" />
<text x="1144.37" y="721.87" font-size="18.80" fill="#000">1.5</text>
<line x1="1181.40" y1="652.00" x2="1186.50" y2="652.00" stroke="#333" stroke-width="1.2" />
<text x="1144.37" y="658.77" font-size="18.80" fill="#000">2.0</text>
<line x1="1181.40" y1="588.90" x2="1186.50" y2="588.90" stroke="#333" stroke-width="1.2" />
<text x="1144.37" y="595.67" font-size="18.80" fill="#000">2.5</text>
<line x1="1276.40" y1="904.40" x2="1276.40" y2="909.40" stroke="#333" stroke-width="1.2" />
<line x1="1366.50" y1="904.40" x2="1366.50" y2="909.40" stroke="#333" stroke-width="1.2" />
<line x1="1456.30" y1="904.40" x2="1456.30" y2="909.40" stroke="#333" stroke-width="1.2" />
<line x1="1546.40" y1="904.40" x2="1546.40" y2="909.40" stroke="#333" stroke-width="1.2" />
<line x1="1256.35" y1="636.35" x2="1256.35" y2="778.20" stroke="#333" stroke-width="1.2" />
<line x1="1251.85" y1="636.35" x2="1260.85" y2="636.35" stroke="#333" stroke-width="1.6" />
<rect x="1252.00" y="778.20" width="8.70" height="126.20" fill="#000000" stroke="#222" stroke-width="1.0" />
<rect x="1265.40" y="899.60" width="8.70" height="4.80" fill="#c0c0c0" stroke="#222" stroke-width="1.0" />
<line x1="1283.25" y1="795.11" x2="1283.25" y2="861.49" stroke="#333" stroke-width="1.2" />
<line x1="1278.75" y1="795.11" x2="1287.75" y2="795.11" stroke="#333" stroke-width="1.6" />
<rect x="1278.90" y="861.49" width="8.70" height="42.91" fill="#606060" stroke="#222" stroke-width="1.0" />
<line x1="1296.85" y1="891.78" x2="1296.85" y2="895.69" stroke="#333" stroke-width="1.2" />
<line x1="1292.35" y1="891.78" x2="1301.35" y2="891.78" stroke="#333" stroke-width="1.6" />
<rect x="1292.50" y="895.69" width="8.70" height="8.71" fill="#e2e2e2" stroke="#222" stroke-width="1.0" />
<line x1="1346.45" y1="719.90" x2="1346.45" y2="778.20" stroke="#333" stroke-width="1.2" />
<line x1="1341.95" y1="719.90" x2="1350.95" y2="719.90" stroke="#333" stroke-width="1.6" />
<rect x="1342.10" y="778.20" width="8.70" height="126.20" fill="#000000" stroke="#222" stroke-width="1.0" />
<line x1="1359.85" y1="834.99" x2="1359.85" y2="843.45" stroke="#333" stroke-width="1.2" />
<line x1="1355.35" y1="834.99" x2="1364.35" y2="834.99" stroke="#333" stroke-width="1.6" />
<rect x="1355.50" y="843.45" width="8.70" height="60.95" fill="#c0c0c0" stroke="#222" stroke-width="1.0" />
<line x1="1373.35" y1="818.84" x2="1373.35" y2="824.39" stroke="#333" stroke-width="1.2" />
<line x1="1368.85" y1="818.84" x2="1377.85" y2="818.84" stroke="#333" stroke-width="1.6" />
<rect x="1369.00" y="824.39" width="8.70" height="80.01" fill="#606060" stroke="#222" stroke-width="1.0" />
<line x1="1386.95" y1="799.28" x2="1386.95" y2="841.80" stroke="#333" stroke-width="1.2" />
<line x1="1382.45" y1="799.28" x2="1391.45" y2="799.28" stroke="#333" stroke-width="1.6" />
<rect x="1382.60" y="841.80" width="8.70" height="62.60" fill="#e2e2e2" stroke="#222" stroke-width="1.0" />
<line x1="1436.25" y1="729.23" x2="1436.25" y2="778.20" stroke="#333" stroke-width="1.2" />
<line x1="1431.75" y1="729.23" x2="1440.75" y2="729.23" stroke="#333" stroke-width="1.6" />
<rect x="1431.90" y="778.20" width="8.70" height="126.20" fill="#000000" stroke="#222" stroke-width="1.0" />
<line x1="1449.65" y1="879.66" x2="1449.65" y2="887.74" stroke="#333" stroke-width="1.2" />
<line x1="1445.15" y1="879.66" x2="1454.15" y2="879.66" stroke="#333" stroke-width="1.6" />
<rect x="1445.30" y="887.74" width="8.70" height="16.66" fill="#c0c0c0" stroke="#222" stroke-width="1.0" />
<line x1="1463.15" y1="844.71" x2="1463.15" y2="866.79" stroke="#333" stroke-width="1.2" />
<line x1="1458.65" y1="844.71" x2="1467.65" y2="844.71" stroke="#333" stroke-width="1.6" />
<rect x="1458.80" y="866.79" width="8.70" height="37.61" fill="#606060" stroke="#222" stroke-width="1.0" />
<line x1="1476.75" y1="847.86" x2="1476.75" y2="863.64" stroke="#333" stroke-width="1.2" />
<line x1="1472.25" y1="847.86" x2="1481.25" y2="847.86" stroke="#333" stroke-width="1.6" />
<rect x="1472.40" y="863.64" width="8.70" height="40.76" fill="#e2e2e2" stroke="#222" stroke-width="1.0" />
<line x1="1526.35" y1="724.06" x2="1526.35" y2="778.20" stroke="#333" stroke-width="1.2" />
<line x1="1521.85" y1="724.06" x2="1530.85" y2="724.06" stroke="#333" stroke-width="1.6" />
<rect x="1522.00" y="778.20" width="8.70" height="126.20" fill="#000000" stroke="#222" stroke-width="1.0" />
<rect x="1535.40" y="899.10" width="8.70" height="5.30" fill="#c0c0c0" stroke="#222" stroke-width="1.0" />
<line x1="1553.25" y1="776.56" x2="1553.25" y2="837.51" stroke="#333" stroke-width="1.2" />
<line x1="1548.75" y1="776.56" x2="1557.75" y2="776.56" stroke="#333" stroke-width="1.6" />
<rect x="1548.90" y="837.51" width="8.70" height="66.89" fill="#606060" stroke="#222" stroke-width="1.0" />
<rect x="1562.50" y="890.01" width="8.70" height="14.39" fill="#e2e2e2" stroke="#222" stroke-width="1.0" />
<rect x="1496.60" y="589.30" width="142.60" height="81.60" fill="#fff" stroke="#444" stroke-width="1.3" />
<rect x="1505.50" y="602.10" width="29.20" height="9.40" fill="#000000" stroke="#333" stroke-width="1.0" />
<text x="1548.30" y="611.20" font-size="14.60" fill="#000" >0 mcg/ml</text>
<rect x="1505.50" y="617.80" width="29.20" height="9.40" fill="#c0c0c0" stroke="#333" stroke-width="1.0" />
<text x="1548.30" y="626.90" font-size="14.60" fill="#000" >50 mcg/ml</text>
<rect x="1505.50" y="633.30" width="29.20" height="9.40" fill="#606060" stroke="#333" stroke-width="1.0" />
<text x="1548.30" y="642.40" font-size="14.60" fill="#000" >100 mcg/ml</text>
<rect x="1505.50" y="649.00" width="29.20" height="9.40" fill="#e2e2e2" stroke="#333" stroke-width="1.0" />
<text x="1548.30" y="658.10" font-size="14.60" fill="#000" >200 mcg/ml</text>
<text x="1243.20" y="936.30" font-size="19.53" fill="#000" >Alpha 3</text>
<text x="1332.80" y="936.30" font-size="19.53" fill="#000" >Alpha 7</text>
<text x="1428.70" y="936.30" font-size="19.34" fill="#000" >Beta 2</text>
<text x="1518.70" y="936.30" font-size="19.27" fill="#000" >Beta 4</text>
<line x1="1336.50" y1="692.90" x2="1372.50" y2="692.90" stroke="#444" stroke-width="1.3" />
<text transform="translate(1348.38,696.48) scale(1.155,1)" font-size="20.55" font-weight="bold">*</text>
<line x1="1336.50" y1="710.30" x2="1358.00" y2="710.30" stroke="#444" stroke-width="1.3" />
<text transform="translate(1342.79,714.97) scale(0.973,1)" font-size="23.29" font-weight="bold">*</text>
<line x1="1427.40" y1="721.20" x2="1448.00" y2="721.20" stroke="#444" stroke-width="1.3" />
<text transform="translate(1433.47,726.46) scale(1.064,1)" font-size="23.56" font-weight="bold">*</text>
<line x1="1518.40" y1="703.00" x2="1568.00" y2="703.00" stroke="#444" stroke-width="1.3" />
<text transform="translate(1532.46,710.02) scale(1.170,1)" font-size="24.38" font-weight="bold">*</text>
<text transform="translate(1543.16,710.02) scale(1.170,1)" font-size="24.38" font-weight="bold">*</text>
<line x1="1518.40" y1="718.20" x2="1538.90" y2="718.20" stroke="#444" stroke-width="1.3" />
<text transform="translate(1518.36,725.39) scale(1.127,1)" font-size="25.21" font-weight="bold">*</text>
<text transform="translate(1529.01,725.39) scale(1.127,1)" font-size="25.21" font-weight="bold">*</text>
<text transform="matrix(0.5581 0 0 0.5466 1134.65 532.45)" font-family="DejaVu Sans" font-size="100">c</text>
<text x="1229.20" y="558.50" font-size="29.77" fill="#000" >Fold change: coronal suture</text>
<text transform="translate(1128.86,800.90) rotate(-90)" x="0" y="0" font-size="19.64">Fold change</text>
<polyline points="230.5,1928.3 230.5,1613.5 827.2,1613.5 827.2,1928.3" fill="none" stroke="#444" stroke-width="1.4"/>
<line x1="225.80" y1="1928.30" x2="827.20" y2="1928.30" stroke="#333" stroke-width="1.5" />
<line x1="225.80" y1="1928.30" x2="230.50" y2="1928.30" stroke="#333" stroke-width="1.2" />
<text x="206.10" y="1934.85" font-size="18.20" fill="#000">0</text>
<line x1="225.80" y1="1886.36" x2="230.50" y2="1886.36" stroke="#333" stroke-width="1.2" />
<text x="206.10" y="1892.91" font-size="18.20" fill="#000">2</text>
<line x1="225.80" y1="1844.42" x2="230.50" y2="1844.42" stroke="#333" stroke-width="1.2" />
<text x="206.10" y="1850.97" font-size="18.20" fill="#000">4</text>
<line x1="225.80" y1="1802.48" x2="230.50" y2="1802.48" stroke="#333" stroke-width="1.2" />
<text x="206.10" y="1809.03" font-size="18.20" fill="#000">6</text>
<line x1="225.80" y1="1760.54" x2="230.50" y2="1760.54" stroke="#333" stroke-width="1.2" />
<text x="206.10" y="1767.09" font-size="18.20" fill="#000">8</text>
<line x1="225.80" y1="1718.60" x2="230.50" y2="1718.60" stroke="#333" stroke-width="1.2" />
<text x="196.00" y="1725.15" font-size="18.20" fill="#000">10</text>
<line x1="225.80" y1="1676.66" x2="230.50" y2="1676.66" stroke="#333" stroke-width="1.2" />
<text x="196.00" y="1683.21" font-size="18.20" fill="#000">12</text>
<line x1="225.80" y1="1634.72" x2="230.50" y2="1634.72" stroke="#333" stroke-width="1.2" />
<text x="196.00" y="1641.27" font-size="18.20" fill="#000">14</text>
<line x1="350.00" y1="1928.30" x2="350.00" y2="1933.30" stroke="#333" stroke-width="1.2" />
<line x1="469.50" y1="1928.30" x2="469.50" y2="1933.30" stroke="#333" stroke-width="1.2" />
<line x1="588.70" y1="1928.30" x2="588.70" y2="1933.30" stroke="#333" stroke-width="1.2" />
<line x1="707.60" y1="1928.30" x2="707.60" y2="1933.30" stroke="#333" stroke-width="1.2" />
<line x1="323.00" y1="1798.71" x2="323.00" y2="1809.40" stroke="#333" stroke-width="1.2" />
<line x1="317.50" y1="1798.71" x2="328.50" y2="1798.71" stroke="#333" stroke-width="1.6" />
<rect x="317.50" y="1809.40" width="11.00" height="118.90" fill="#000000" stroke="#222" stroke-width="1.0" />
<line x1="340.80" y1="1834.98" x2="340.80" y2="1842.95" stroke="#333" stroke-width="1.2" />
<line x1="335.30" y1="1834.98" x2="346.30" y2="1834.98" stroke="#333" stroke-width="1.6" />
<rect x="335.30" y="1842.95" width="11.00" height="85.35" fill="#c0c0c0" stroke="#222" stroke-width="1.0" />
<line x1="358.70" y1="1819.47" x2="358.70" y2="1827.01" stroke="#333" stroke-width="1.2" />
<line x1="353.20" y1="1819.47" x2="364.20" y2="1819.47" stroke="#333" stroke-width="1.6" />
<rect x="353.20" y="1827.01" width="11.00" height="101.29" fill="#606060" stroke="#222" stroke-width="1.0" />
<line x1="376.40" y1="1825.55" x2="376.40" y2="1836.66" stroke="#333" stroke-width="1.2" />
<line x1="370.90" y1="1825.55" x2="381.90" y2="1825.55" stroke="#333" stroke-width="1.6" />
<rect x="370.90" y="1836.66" width="11.00" height="91.64" fill="#e2e2e2" stroke="#222" stroke-width="1.0" />
<line x1="442.50" y1="1693.86" x2="442.50" y2="1715.45" stroke="#333" stroke-width="1.2" />
<line x1="437.00" y1="1693.86" x2="448.00" y2="1693.86" stroke="#333" stroke-width="1.6" />
<rect x="437.00" y="1715.45" width="11.00" height="212.85" fill="#000000" stroke="#222" stroke-width="1.0" />
<line x1="460.30" y1="1657.79" x2="460.30" y2="1680.43" stroke="#333" stroke-width="1.2" />
<line x1="454.80" y1="1657.79" x2="465.80" y2="1657.79" stroke="#333" stroke-width="1.6" />
<rect x="454.80" y="1680.43" width="11.00" height="247.87" fill="#c0c0c0" stroke="#222" stroke-width="1.0" />
<line x1="478.20" y1="1753.83" x2="478.20" y2="1771.44" stroke="#333" stroke-width="1.2" />
<line x1="472.70" y1="1753.83" x2="483.70" y2="1753.83" stroke="#333" stroke-width="1.6" />
<rect x="472.70" y="1771.44" width="11.00" height="156.86" fill="#606060" stroke="#222" stroke-width="1.0" />
<line x1="495.90" y1="1717.55" x2="495.90" y2="1742.93" stroke="#333" stroke-width="1.2" />
<line x1="490.40" y1="1717.55" x2="501.40" y2="1717.55" stroke="#333" stroke-width="1.6" />
<rect x="490.40" y="1742.93" width="11.00" height="185.37" fill="#e2e2e2" stroke="#222" stroke-width="1.0" />
<line x1="561.70" y1="1827.85" x2="561.70" y2="1836.66" stroke="#333" stroke-width="1.2" />
<line x1="556.20" y1="1827.85" x2="567.20" y2="1827.85" stroke="#333" stroke-width="1.6" />
<rect x="556.20" y="1836.66" width="11.00" height="91.64" fill="#000000" stroke="#222" stroke-width="1.0" />
<line x1="579.50" y1="1810.45" x2="579.50" y2="1818.63" stroke="#333" stroke-width="1.2" />
<line x1="574.00" y1="1810.45" x2="585.00" y2="1810.45" stroke="#333" stroke-width="1.6" />
<rect x="574.00" y="1818.63" width="11.00" height="109.67" fill="#c0c0c0" stroke="#222" stroke-width="1.0" />
<line x1="597.40" y1="1837.29" x2="597.40" y2="1844.00" stroke="#333" stroke-width="1.2" />
<line x1="591.90" y1="1837.29" x2="602.90" y2="1837.29" stroke="#333" stroke-width="1.6" />
<rect x="591.90" y="1844.00" width="11.00" height="84.30" fill="#606060" stroke="#222" stroke-width="1.0" />
<line x1="615.10" y1="1814.64" x2="615.10" y2="1823.45" stroke="#333" stroke-width="1.2" />
<line x1="609.60" y1="1814.64" x2="620.60" y2="1814.64" stroke="#333" stroke-width="1.6" />
<rect x="609.60" y="1823.45" width="11.00" height="104.85" fill="#e2e2e2" stroke="#222" stroke-width="1.0" />
<line x1="680.60" y1="1758.23" x2="680.60" y2="1768.72" stroke="#333" stroke-width="1.2" />
<line x1="675.10" y1="1758.23" x2="686.10" y2="1758.23" stroke="#333" stroke-width="1.6" />
<rect x="675.10" y="1768.72" width="11.00" height="159.58" fill="#000000" stroke="#222" stroke-width="1.0" />
<line x1="698.40" y1="1821.14" x2="698.40" y2="1830.16" stroke="#333" stroke-width="1.2" />
<line x1="692.90" y1="1821.14" x2="703.90" y2="1821.14" stroke="#333" stroke-width="1.6" />
<rect x="692.90" y="1830.16" width="11.00" height="98.14" fill="#c0c0c0" stroke="#222" stroke-width="1.0" />
<line x1="716.30" y1="1791.37" x2="716.30" y2="1799.75" stroke="#333" stroke-width="1.2" />
<line x1="710.80" y1="1791.37" x2="721.80" y2="1791.37" stroke="#333" stroke-width="1.6" />
<rect x="710.80" y="1799.75" width="11.00" height="128.55" fill="#606060" stroke="#222" stroke-width="1.0" />
<line x1="734.00" y1="1798.08" x2="734.00" y2="1808.77" stroke="#333" stroke-width="1.2" />
<line x1="728.50" y1="1798.08" x2="739.50" y2="1798.08" stroke="#333" stroke-width="1.6" />
<rect x="728.50" y="1808.77" width="11.00" height="119.53" fill="#e2e2e2" stroke="#222" stroke-width="1.0" />
<rect x="686.90" y="1613.70" width="142.20" height="90.40" fill="#fff" stroke="#444" stroke-width="1.3" />
<rect x="695.20" y="1626.10" width="34.50" height="9.50" fill="#000000" stroke="#333" stroke-width="1.0" />
<text x="738.00" y="1635.30" font-size="14.60" fill="#000" >0 mcg/ml</text>
<rect x="695.20" y="1644.60" width="34.50" height="9.50" fill="#c0c0c0" stroke="#333" stroke-width="1.0" />
<text x="738.00" y="1653.80" font-size="14.60" fill="#000" >50 mcg/ml</text>
<rect x="695.20" y="1663.20" width="34.50" height="9.50" fill="#606060" stroke="#333" stroke-width="1.0" />
<text x="738.00" y="1672.40" font-size="14.60" fill="#000" >100 mcg/ml</text>
<rect x="695.20" y="1682.00" width="34.50" height="9.50" fill="#e2e2e2" stroke="#333" stroke-width="1.0" />
<text x="738.00" y="1691.20" font-size="14.60" fill="#000" >200 mcg/ml</text>
<text x="316.00" y="1960.00" font-size="19.65" fill="#000" >Alpha 3</text>
<text x="436.30" y="1960.00" font-size="19.59" fill="#000" >Alpha 7</text>
<text x="560.90" y="1960.00" font-size="19.31" fill="#000" >Beta 2</text>
<text x="679.80" y="1960.00" font-size="19.31" fill="#000" >Beta 4</text>
<line x1="460.50" y1="1654.70" x2="481.40" y2="1654.70" stroke="#444" stroke-width="1.3" />
<text transform="translate(466.80,1659.79) scale(0.986,1)" font-size="20.27" font-weight="bold">*</text>
<line x1="681.70" y1="1751.70" x2="702.40" y2="1751.70" stroke="#444" stroke-width="1.3" />
<text transform="translate(675.38,1758.86) scale(1.037,1)" font-size="23.56" font-weight="bold">*</text>
<text transform="translate(684.54,1758.86) scale(1.037,1)" font-size="23.56" font-weight="bold">*</text>
<text transform="translate(693.71,1758.86) scale(1.037,1)" font-size="23.56" font-weight="bold">*</text>
<line x1="681.70" y1="1735.50" x2="735.00" y2="1735.50" stroke="#444" stroke-width="1.3" />
<text transform="translate(705.80,1740.31) scale(0.913,1)" font-size="22.19" font-weight="bold">*</text>
<text transform="matrix(0.5760 0 0 0.5707 179.64 1550.23)" font-family="DejaVu Sans" font-size="100">e</text>
<text x="209.80" y="1582.20" font-size="29.92" fill="#000" >Quantitative immunohistochemistry: cranial base</text>
<text transform="translate(182.17,1816.30) rotate(-90)" x="0" y="0" font-size="19.66">% Positive</text>
<polyline points="943.5,1928.7 943.5,1614.0 1540.75,1614.0 1540.75,1928.7" fill="none" stroke="#444" stroke-width="1.4"/>
<line x1="938.80" y1="1928.70" x2="1540.75" y2="1928.70" stroke="#333" stroke-width="1.5" />
<line x1="938.80" y1="1928.70" x2="943.50" y2="1928.70" stroke="#333" stroke-width="1.2" />
<text x="920.10" y="1935.25" font-size="18.20" fill="#000">0</text>
<line x1="938.80" y1="1836.15" x2="943.50" y2="1836.15" stroke="#333" stroke-width="1.2" />
<text x="910.00" y="1842.70" font-size="18.20" fill="#000">10</text>
<line x1="938.80" y1="1743.60" x2="943.50" y2="1743.60" stroke="#333" stroke-width="1.2" />
<text x="910.00" y="1750.15" font-size="18.20" fill="#000">20</text>
<line x1="938.80" y1="1651.05" x2="943.50" y2="1651.05" stroke="#333" stroke-width="1.2" />
<text x="910.00" y="1657.60" font-size="18.20" fill="#000">30</text>
<line x1="1063.40" y1="1928.70" x2="1063.40" y2="1933.70" stroke="#333" stroke-width="1.2" />
<line x1="1182.50" y1="1928.70" x2="1182.50" y2="1933.70" stroke="#333" stroke-width="1.2" />
<line x1="1301.75" y1="1928.70" x2="1301.75" y2="1933.70" stroke="#333" stroke-width="1.2" />
<line x1="1421.75" y1="1928.70" x2="1421.75" y2="1933.70" stroke="#333" stroke-width="1.2" />
<line x1="1036.40" y1="1891.49" x2="1036.40" y2="1899.18" stroke="#333" stroke-width="1.2" />
<line x1="1030.90" y1="1891.49" x2="1041.90" y2="1891.49" stroke="#333" stroke-width="1.6" />
<rect x="1030.90" y="1899.18" width="11.00" height="29.52" fill="#000000" stroke="#222" stroke-width="1.0" />
<line x1="1054.20" y1="1842.81" x2="1054.20" y2="1856.14" stroke="#333" stroke-width="1.2" />
<line x1="1048.70" y1="1842.81" x2="1059.70" y2="1842.81" stroke="#333" stroke-width="1.6" />
<rect x="1048.70" y="1856.14" width="11.00" height="72.56" fill="#c0c0c0" stroke="#222" stroke-width="1.0" />
<line x1="1072.10" y1="1887.79" x2="1072.10" y2="1893.62" stroke="#333" stroke-width="1.2" />
<line x1="1066.60" y1="1887.79" x2="1077.60" y2="1887.79" stroke="#333" stroke-width="1.6" />
<rect x="1066.60" y="1893.62" width="11.00" height="35.08" fill="#606060" stroke="#222" stroke-width="1.0" />
<line x1="1089.80" y1="1873.82" x2="1089.80" y2="1884.00" stroke="#333" stroke-width="1.2" />
<line x1="1084.30" y1="1873.82" x2="1095.30" y2="1873.82" stroke="#333" stroke-width="1.6" />
<rect x="1084.30" y="1884.00" width="11.00" height="44.70" fill="#e2e2e2" stroke="#222" stroke-width="1.0" />
<line x1="1155.50" y1="1847.07" x2="1155.50" y2="1862.90" stroke="#333" stroke-width="1.2" />
<line x1="1150.00" y1="1847.07" x2="1161.00" y2="1847.07" stroke="#333" stroke-width="1.6" />
<rect x="1150.00" y="1862.90" width="11.00" height="65.80" fill="#000000" stroke="#222" stroke-width="1.0" />
<line x1="1173.30" y1="1799.87" x2="1173.30" y2="1826.06" stroke="#333" stroke-width="1.2" />
<line x1="1167.80" y1="1799.87" x2="1178.80" y2="1799.87" stroke="#333" stroke-width="1.6" />
<rect x="1167.80" y="1826.06" width="11.00" height="102.64" fill="#c0c0c0" stroke="#222" stroke-width="1.0" />
<line x1="1191.20" y1="1804.31" x2="1191.20" y2="1825.78" stroke="#333" stroke-width="1.2" />
<line x1="1185.70" y1="1804.31" x2="1196.70" y2="1804.31" stroke="#333" stroke-width="1.6" />
<rect x="1185.70" y="1825.78" width="11.00" height="102.92" fill="#606060" stroke="#222" stroke-width="1.0" />
<line x1="1208.90" y1="1793.39" x2="1208.90" y2="1814.49" stroke="#333" stroke-width="1.2" />
<line x1="1203.40" y1="1793.39" x2="1214.40" y2="1793.39" stroke="#333" stroke-width="1.6" />
<rect x="1203.40" y="1814.49" width="11.00" height="114.21" fill="#e2e2e2" stroke="#222" stroke-width="1.0" />
<line x1="1274.75" y1="1780.71" x2="1274.75" y2="1794.22" stroke="#333" stroke-width="1.2" />
<line x1="1269.25" y1="1780.71" x2="1280.25" y2="1780.71" stroke="#333" stroke-width="1.6" />
<rect x="1269.25" y="1794.22" width="11.00" height="134.48" fill="#000000" stroke="#222" stroke-width="1.0" />
<line x1="1292.55" y1="1760.72" x2="1292.55" y2="1780.53" stroke="#333" stroke-width="1.2" />
<line x1="1287.05" y1="1760.72" x2="1298.05" y2="1760.72" stroke="#333" stroke-width="1.6" />
<rect x="1287.05" y="1780.53" width="11.00" height="148.17" fill="#c0c0c0" stroke="#222" stroke-width="1.0" />
<line x1="1310.45" y1="1766.27" x2="1310.45" y2="1783.03" stroke="#333" stroke-width="1.2" />
<line x1="1304.95" y1="1766.27" x2="1315.95" y2="1766.27" stroke="#333" stroke-width="1.6" />
<rect x="1304.95" y="1783.03" width="11.00" height="145.67" fill="#606060" stroke="#222" stroke-width="1.0" />
<line x1="1328.15" y1="1774.51" x2="1328.15" y2="1788.76" stroke="#333" stroke-width="1.2" />
<line x1="1322.65" y1="1774.51" x2="1333.65" y2="1774.51" stroke="#333" stroke-width="1.6" />
<rect x="1322.65" y="1788.76" width="11.00" height="139.94" fill="#e2e2e2" stroke="#222" stroke-width="1.0" />
<line x1="1394.75" y1="1768.77" x2="1394.75" y2="1780.53" stroke="#333" stroke-width="1.2" />
<line x1="1389.25" y1="1768.77" x2="1400.25" y2="1768.77" stroke="#333" stroke-width="1.6" />
<rect x="1389.25" y="1780.53" width="11.00" height="148.17" fill="#000000" stroke="#222" stroke-width="1.0" />
<line x1="1412.55" y1="1744.53" x2="1412.55" y2="1756.74" stroke="#333" stroke-width="1.2" />
<line x1="1407.05" y1="1744.53" x2="1418.05" y2="1744.53" stroke="#333" stroke-width="1.6" />
<rect x="1407.05" y="1756.74" width="11.00" height="171.96" fill="#c0c0c0" stroke="#222" stroke-width="1.0" />
<line x1="1430.45" y1="1759.98" x2="1430.45" y2="1773.03" stroke="#333" stroke-width="1.2" />
<line x1="1424.95" y1="1759.98" x2="1435.95" y2="1759.98" stroke="#333" stroke-width="1.6" />
<rect x="1424.95" y="1773.03" width="11.00" height="155.67" fill="#606060" stroke="#222" stroke-width="1.0" />
<line x1="1448.15" y1="1725.46" x2="1448.15" y2="1747.49" stroke="#333" stroke-width="1.2" />
<line x1="1442.65" y1="1725.46" x2="1453.65" y2="1725.46" stroke="#333" stroke-width="1.6" />
<rect x="1442.65" y="1747.49" width="11.00" height="181.21" fill="#e2e2e2" stroke="#222" stroke-width="1.0" />
<rect x="1400.50" y="1613.75" width="142.00" height="90.50" fill="#fff" stroke="#444" stroke-width="1.3" />
<rect x="1408.75" y="1626.25" width="35.00" height="9.50" fill="#000000" stroke="#333" stroke-width="1.0" />
<text x="1451.75" y="1635.45" font-size="14.60" fill="#000" >0 mcg/ml</text>
<rect x="1408.75" y="1645.00" width="35.00" height="9.50" fill="#c0c0c0" stroke="#333" stroke-width="1.0" />
<text x="1451.75" y="1654.20" font-size="14.60" fill="#000" >50 mcg/ml</text>
<rect x="1408.75" y="1663.75" width="35.00" height="9.50" fill="#606060" stroke="#333" stroke-width="1.0" />
<text x="1451.75" y="1672.95" font-size="14.60" fill="#000" >100 mcg/ml</text>
<rect x="1408.75" y="1682.00" width="35.00" height="9.50" fill="#e2e2e2" stroke="#333" stroke-width="1.0" />
<text x="1451.75" y="1691.20" font-size="14.60" fill="#000" >200 mcg/ml</text>
<text x="1029.50" y="1961.00" font-size="19.65" fill="#000" >Alpha 3</text>
<text x="1148.90" y="1961.00" font-size="19.41" fill="#000" >Alpha 7</text>
<text x="1273.75" y="1961.00" font-size="19.46" fill="#000" >Beta 2</text>
<text x="1393.00" y="1961.00" font-size="19.29" fill="#000" >Beta 4</text>
<line x1="1036.30" y1="1837.50" x2="1056.10" y2="1837.50" stroke="#444" stroke-width="1.3" />
<text transform="translate(1042.70,1840.21) scale(0.987,1)" font-size="19.73" font-weight="bold">*</text>
<text transform="matrix(0.5200 0 0 0.5855 894.06 1551.00)" font-family="DejaVu Sans" font-size="100">f</text>
<text x="908.40" y="1582.70" font-size="29.91" fill="#000" >Quantitative immunohistochemistry: coronal suture</text>
<text transform="translate(895.91,1816.90) rotate(-90)" x="0" y="0" font-size="19.70">% Positive</text>
<defs><pattern id="cdense" width="64" height="64" patternUnits="userSpaceOnUse"><ellipse cx="20.7" cy="9.7" rx="0.7" ry="0.8" fill="#5552a8" fill-opacity="0.66"/><ellipse cx="3.7" cy="32.5" rx="0.7" ry="0.8" fill="#5552a8" fill-opacity="0.61"/><ellipse cx="35.3" cy="3.8" rx="0.7" ry="0.6" fill="#4a4aa0" fill-opacity="0.78"/><ellipse cx="60.7" cy="36.9" rx="0.6" ry="0.6" fill="#2c2870" fill-opacity="0.75"/><ellipse cx="8.5" cy="26.8" rx="0.7" ry="0.7" fill="#4a4aa0" fill-opacity="0.87"/><ellipse cx="11.6" cy="37.2" rx="0.9" ry="0.8" fill="#3f3a90" fill-opacity="0.53"/><ellipse cx="3.8" cy="13.2" rx="1.0" ry="0.7" fill="#4a4aa0" fill-opacity="0.76"/><ellipse cx="29.0" cy="19.2" rx="1.2" ry="0.6" fill="#3f3a90" fill-opacity="0.76"/><ellipse cx="33.6" cy="56.0" rx="0.9" ry="1.1" fill="#2c2870" fill-opacity="0.55"/><ellipse cx="26.8" cy="48.5" rx="1.4" ry="0.8" fill="#3f3a90" fill-opacity="0.93"/><ellipse cx="5.0" cy="35.7" rx="0.9" ry="0.7" fill="#6a68b8" fill-opacity="0.72"/><ellipse cx="51.0" cy="4.4" rx="1.5" ry="0.8" fill="#5552a8" fill-opacity="0.80"/><ellipse cx="3.9" cy="44.9" rx="1.5" ry="1.0" fill="#4a4aa0" fill-opacity="0.63"/><ellipse cx="24.7" cy="42.8" rx="1.4" ry="0.7" fill="#5552a8" fill-opacity="0.77"/><ellipse cx="31.6" cy="14.0" rx="0.7" ry="0.6" fill="#6a68b8" fill-opacity="0.68"/><ellipse cx="55.8" cy="5.2" rx="1.0" ry="0.7" fill="#2c2870" fill-opacity="0.56"/><ellipse cx="27.6" cy="35.2" rx="1.5" ry="0.9" fill="#2c2870" fill-opacity="0.67"/><ellipse cx="14.8" cy="5.3" rx="0.8" ry="0.6" fill="#3f3a90" fill-opacity="0.72"/><ellipse cx="37.7" cy="16.8" rx="0.7" ry="0.8" fill="#5552a8" fill-opacity="0.77"/><ellipse cx="20.4" cy="8.0" rx="1.5" ry="0.9" fill="#4a4aa0" fill-opacity="0.83"/><ellipse cx="29.2" cy="55.7" rx="1.0" ry="0.7" fill="#4a4aa0" fill-opacity="0.55"/><ellipse cx="40.6" cy="4.0" rx="1.5" ry="0.8" fill="#5552a8" fill-opacity="0.55"/><ellipse cx="38.4" cy="6.6" rx="0.7" ry="0.6" fill="#4a4aa0" fill-opacity="0.66"/><ellipse cx="1.6" cy="56.0" rx="0.9" ry="0.9" fill="#4a4aa0" fill-opacity="0.93"/><ellipse cx="38.5" cy="30.3" rx="1.4" ry="1.1" fill="#5552a8" fill-opacity="0.71"/><ellipse cx="31.0" cy="5.5" rx="1.3" ry="0.9" fill="#5552a8" fill-opacity="0.72"/><ellipse cx="44.3" cy="33.0" rx="1.5" ry="0.8" fill="#3f3a90" fill-opacity="0.57"/><ellipse cx="34.8" cy="1.7" rx="0.9" ry="0.9" fill="#4a4aa0" fill-opacity="0.54"/><ellipse cx="54.1" cy="33.2" rx="0.9" ry="0.6" fill="#3f3a90" fill-opacity="0.74"/><ellipse cx="32.2" cy="40.7" rx="1.3" ry="1.1" fill="#4a4aa0" fill-opacity="0.88"/><ellipse cx="51.6" cy="52.4" rx="0.8" ry="0.8" fill="#3f3a90" fill-opacity="0.83"/><ellipse cx="63.3" cy="50.6" rx="0.8" ry="0.9" fill="#2c2870" fill-opacity="0.93"/><ellipse cx="28.6" cy="60.0" rx="1.5" ry="0.7" fill="#6a68b8" fill-opacity="0.60"/><ellipse cx="14.5" cy="12.6" rx="1.0" ry="1.1" fill="#3f3a90" fill-opacity="0.77"/><ellipse cx="0.1" cy="58.2" rx="1.3" ry="0.6" fill="#6a68b8" fill-opacity="0.80"/><ellipse cx="58.2" cy="50.1" rx="1.0" ry="0.6" fill="#3f3a90" fill-opacity="0.86"/><ellipse cx="21.3" cy="51.3" rx="1.0" ry="0.9" fill="#2c2870" fill-opacity="0.54"/><ellipse cx="10.2" cy="63.6" rx="0.7" ry="1.0" fill="#5552a8" fill-opacity="0.86"/><ellipse cx="9.4" cy="52.9" rx="1.2" ry="0.7" fill="#2c2870" fill-opacity="0.75"/><ellipse cx="8.4" cy="0.9" rx="1.1" ry="1.1" fill="#5552a8" fill-opacity="0.70"/><ellipse cx="55.8" cy="52.9" rx="0.6" ry="0.6" fill="#3f3a90" fill-opacity="0.73"/><ellipse cx="48.9" cy="20.9" rx="1.0" ry="0.6" fill="#4a4aa0" fill-opacity="0.91"/><ellipse cx="22.6" cy="29.3" rx="1.3" ry="0.8" fill="#4a4aa0" fill-opacity="0.87"/><ellipse cx="56.2" cy="8.4" rx="1.1" ry="0.5" fill="#3f3a90" fill-opacity="0.70"/><ellipse cx="11.7" cy="0.3" rx="0.8" ry="0.8" fill="#3f3a90" fill-opacity="0.83"/><ellipse cx="35.6" cy="20.9" rx="1.1" ry="0.8" fill="#4a4aa0" fill-opacity="0.85"/><ellipse cx="56.5" cy="3.6" rx="0.8" ry="1.0" fill="#3f3a90" fill-opacity="0.73"/><ellipse cx="36.0" cy="48.6" rx="1.0" ry="0.9" fill="#5552a8" fill-opacity="0.73"/><ellipse cx="32.8" cy="44.3" rx="1.1" ry="1.0" fill="#2c2870" fill-opacity="0.73"/><ellipse cx="15.8" cy="33.5" rx="1.4" ry="1.0" fill="#6a68b8" fill-opacity="0.59"/><ellipse cx="28.6" cy="26.7" rx="1.0" ry="0.5" fill="#2c2870" fill-opacity="0.61"/><ellipse cx="4.7" cy="42.8" rx="1.4" ry="0.6" fill="#5552a8" fill-opacity="0.82"/><ellipse cx="42.3" cy="9.2" rx="1.5" ry="0.6" fill="#3f3a90" fill-opacity="0.93"/><ellipse cx="25.5" cy="31.2" rx="0.7" ry="0.8" fill="#3f3a90" fill-opacity="0.73"/><ellipse cx="21.7" cy="12.5" rx="0.7" ry="0.7" fill="#6a68b8" fill-opacity="0.65"/><ellipse cx="29.4" cy="45.0" rx="0.9" ry="0.9" fill="#2c2870" fill-opacity="0.73"/><ellipse cx="4.1" cy="63.0" rx="1.5" ry="0.6" fill="#3f3a90" fill-opacity="0.62"/><ellipse cx="2.5" cy="49.9" rx="1.3" ry="1.0" fill="#6a68b8" fill-opacity="0.88"/><ellipse cx="43.3" cy="60.5" rx="0.7" ry="1.1" fill="#2c2870" fill-opacity="0.76"/><ellipse cx="44.8" cy="5.7" rx="1.3" ry="0.6" fill="#5552a8" fill-opacity="0.90"/><ellipse cx="17.2" cy="1.1" rx="1.3" ry="0.6" fill="#5552a8" fill-opacity="0.89"/><ellipse cx="4.3" cy="55.2" rx="0.6" ry="1.1" fill="#2c2870" fill-opacity="0.69"/><ellipse cx="58.6" cy="39.8" rx="1.1" ry="0.6" fill="#5552a8" fill-opacity="0.55"/><ellipse cx="10.3" cy="3.2" rx="1.4" ry="0.9" fill="#3f3a90" fill-opacity="0.74"/><ellipse cx="13.2" cy="28.5" rx="0.8" ry="1.0" fill="#3f3a90" fill-opacity="0.95"/><ellipse cx="2.4" cy="1.2" rx="1.1" ry="0.6" fill="#4a4aa0" fill-opacity="0.71"/><ellipse cx="59.8" cy="6.8" rx="1.2" ry="0.8" fill="#2c2870" fill-opacity="0.90"/><ellipse cx="62.1" cy="19.7" rx="1.5" ry="0.7" fill="#3f3a90" fill-opacity="0.87"/><ellipse cx="45.2" cy="40.7" rx="1.5" ry="1.1" fill="#2c2870" fill-opacity="0.88"/><ellipse cx="0.9" cy="40.0" rx="1.0" ry="0.5" fill="#6a68b8" fill-opacity="0.80"/><ellipse cx="24.4" cy="32.4" rx="1.1" ry="0.9" fill="#6a68b8" fill-opacity="0.52"/><ellipse cx="11.9" cy="17.2" rx="0.8" ry="1.1" fill="#5552a8" fill-opacity="0.94"/><ellipse cx="35.0" cy="15.6" rx="0.8" ry="0.6" fill="#6a68b8" fill-opacity="0.65"/><ellipse cx="5.4" cy="17.9" rx="0.8" ry="1.0" fill="#3f3a90" fill-opacity="0.54"/><ellipse cx="52.3" cy="9.2" rx="0.6" ry="0.5" fill="#4a4aa0" fill-opacity="0.64"/><ellipse cx="14.9" cy="37.5" rx="1.4" ry="0.6" fill="#4a4aa0" fill-opacity="0.90"/><ellipse cx="50.2" cy="38.2" rx="1.2" ry="0.8" fill="#6a68b8" fill-opacity="0.63"/><ellipse cx="39.6" cy="9.3" rx="1.2" ry="0.9" fill="#4a4aa0" fill-opacity="0.87"/><ellipse cx="8.9" cy="33.5" rx="1.1" ry="1.0" fill="#4a4aa0" fill-opacity="0.51"/><ellipse cx="43.9" cy="51.1" rx="0.7" ry="0.5" fill="#3f3a90" fill-opacity="0.79"/><ellipse cx="61.4" cy="24.1" rx="1.1" ry="0.9" fill="#2c2870" fill-opacity="0.78"/><ellipse cx="43.6" cy="31.3" rx="1.0" ry="0.5" fill="#5552a8" fill-opacity="0.92"/><ellipse cx="57.5" cy="5.9" rx="0.7" ry="0.9" fill="#4a4aa0" fill-opacity="0.61"/><ellipse cx="4.8" cy="17.0" rx="0.8" ry="0.9" fill="#3f3a90" fill-opacity="0.71"/><ellipse cx="54.1" cy="4.9" rx="1.3" ry="0.9" fill="#6a68b8" fill-opacity="0.79"/><ellipse cx="5.0" cy="9.4" rx="1.2" ry="0.9" fill="#6a68b8" fill-opacity="0.78"/><ellipse cx="8.5" cy="30.9" rx="0.8" ry="0.9" fill="#2c2870" fill-opacity="0.81"/><ellipse cx="43.2" cy="18.6" rx="0.9" ry="0.8" fill="#4a4aa0" fill-opacity="0.85"/><ellipse cx="63.6" cy="35.1" rx="1.5" ry="1.1" fill="#6a68b8" fill-opacity="0.51"/><ellipse cx="29.4" cy="52.5" rx="1.5" ry="0.7" fill="#2c2870" fill-opacity="0.91"/><ellipse cx="59.6" cy="4.8" rx="0.7" ry="0.8" fill="#5552a8" fill-opacity="0.93"/><ellipse cx="8.5" cy="52.5" rx="0.9" ry="0.6" fill="#4a4aa0" fill-opacity="0.66"/><ellipse cx="31.9" cy="56.1" rx="0.6" ry="0.5" fill="#2c2870" fill-opacity="0.72"/><ellipse cx="28.8" cy="19.3" rx="1.0" ry="0.7" fill="#3f3a90" fill-opacity="0.55"/><ellipse cx="21.2" cy="20.8" rx="1.4" ry="0.6" fill="#6a68b8" fill-opacity="0.92"/><ellipse cx="45.6" cy="57.7" rx="0.8" ry="0.5" fill="#6a68b8" fill-opacity="0.68"/><ellipse cx="55.7" cy="4.9" rx="1.3" ry="1.0" fill="#2c2870" fill-opacity="0.63"/><ellipse cx="3.3" cy="42.4" rx="0.8" ry="0.7" fill="#3f3a90" fill-opacity="0.73"/><ellipse cx="12.2" cy="23.9" rx="1.4" ry="1.0" fill="#2c2870" fill-opacity="0.78"/><ellipse cx="58.5" cy="60.2" rx="0.8" ry="0.5" fill="#4a4aa0" fill-opacity="0.92"/><ellipse cx="26.3" cy="39.4" rx="1.2" ry="0.7" fill="#3f3a90" fill-opacity="0.52"/><ellipse cx="59.3" cy="8.1" rx="1.0" ry="0.7" fill="#2c2870" fill-opacity="0.62"/><ellipse cx="47.3" cy="41.8" rx="1.2" ry="0.7" fill="#2c2870" fill-opacity="0.75"/><ellipse cx="25.2" cy="10.7" rx="0.7" ry="0.8" fill="#3f3a90" fill-opacity="0.87"/><ellipse cx="35.2" cy="29.0" rx="1.5" ry="0.8" fill="#6a68b8" fill-opacity="0.56"/><ellipse cx="12.3" cy="5.8" rx="1.1" ry="0.7" fill="#6a68b8" fill-opacity="0.67"/><ellipse cx="51.8" cy="12.9" rx="1.3" ry="0.7" fill="#5552a8" fill-opacity="0.69"/><ellipse cx="33.5" cy="24.1" rx="1.3" ry="0.8" fill="#6a68b8" fill-opacity="0.76"/><ellipse cx="23.0" cy="44.0" rx="1.2" ry="1.0" fill="#4a4aa0" fill-opacity="0.60"/><ellipse cx="17.3" cy="15.9" rx="1.2" ry="0.8" fill="#2c2870" fill-opacity="0.64"/><ellipse cx="52.1" cy="62.0" rx="0.6" ry="0.9" fill="#3f3a90" fill-opacity="0.90"/><ellipse cx="30.3" cy="37.6" rx="0.7" ry="1.1" fill="#5552a8" fill-opacity="0.92"/><ellipse cx="33.8" cy="30.0" rx="0.8" ry="0.6" fill="#2c2870" fill-opacity="0.57"/><ellipse cx="33.4" cy="43.7" rx="0.7" ry="1.0" fill="#2c2870" fill-opacity="0.50"/><ellipse cx="8.0" cy="36.4" rx="1.2" ry="0.7" fill="#5552a8" fill-opacity="0.56"/><ellipse cx="16.1" cy="40.7" rx="0.7" ry="0.7" fill="#5552a8" fill-opacity="0.92"/><ellipse cx="12.3" cy="16.7" rx="0.6" ry="0.8" fill="#4a4aa0" fill-opacity="0.95"/><ellipse cx="17.8" cy="20.2" rx="1.0" ry="0.6" fill="#3f3a90" fill-opacity="0.61"/><ellipse cx="61.5" cy="45.1" rx="0.6" ry="0.6" fill="#6a68b8" fill-opacity="0.90"/><ellipse cx="41.4" cy="5.2" rx="1.2" ry="1.1" fill="#3f3a90" fill-opacity="0.60"/><ellipse cx="2.2" cy="21.6" rx="0.9" ry="0.7" fill="#2c2870" fill-opacity="0.50"/><ellipse cx="18.7" cy="54.1" rx="0.8" ry="1.1" fill="#5552a8" fill-opacity="0.64"/><ellipse cx="52.5" cy="14.8" rx="0.8" ry="1.0" fill="#3f3a90" fill-opacity="0.55"/><ellipse cx="39.9" cy="39.0" rx="1.0" ry="1.0" fill="#3f3a90" fill-opacity="0.53"/><ellipse cx="38.1" cy="59.0" rx="0.8" ry="1.1" fill="#5552a8" fill-opacity="0.56"/><ellipse cx="3.3" cy="3.8" rx="1.0" ry="0.9" fill="#2c2870" fill-opacity="0.64"/><ellipse cx="7.2" cy="5.1" rx="0.9" ry="0.6" fill="#3f3a90" fill-opacity="0.92"/><ellipse cx="47.8" cy="2.0" rx="1.4" ry="1.1" fill="#2c2870" fill-opacity="0.70"/><ellipse cx="7.0" cy="5.0" rx="0.9" ry="1.1" fill="#5552a8" fill-opacity="0.56"/><ellipse cx="61.7" cy="13.3" rx="1.3" ry="0.7" fill="#6a68b8" fill-opacity="0.86"/><ellipse cx="5.6" cy="45.1" rx="0.9" ry="1.1" fill="#3f3a90" fill-opacity="0.59"/><ellipse cx="23.3" cy="57.4" rx="1.2" ry="0.6" fill="#5552a8" fill-opacity="0.78"/><ellipse cx="25.9" cy="24.0" rx="0.7" ry="1.1" fill="#2c2870" fill-opacity="0.62"/><ellipse cx="47.8" cy="57.5" rx="0.9" ry="0.7" fill="#6a68b8" fill-opacity="0.93"/><ellipse cx="2.8" cy="47.8" rx="1.4" ry="0.7" fill="#6a68b8" fill-opacity="0.82"/><ellipse cx="38.1" cy="51.6" rx="0.6" ry="0.6" fill="#5552a8" fill-opacity="0.71"/><ellipse cx="61.2" cy="61.1" rx="1.3" ry="1.0" fill="#2c2870" fill-opacity="0.87"/><ellipse cx="8.5" cy="31.8" rx="1.3" ry="0.9" fill="#5552a8" fill-opacity="0.87"/><ellipse cx="49.5" cy="38.9" rx="1.4" ry="0.8" fill="#6a68b8" fill-opacity="0.85"/><ellipse cx="38.1" cy="32.8" rx="1.3" ry="0.6" fill="#2c2870" fill-opacity="0.53"/><ellipse cx="2.2" cy="35.4" rx="0.7" ry="0.8" fill="#6a68b8" fill-opacity="0.55"/><ellipse cx="4.6" cy="40.0" rx="0.7" ry="0.8" fill="#3f3a90" fill-opacity="0.82"/><ellipse cx="28.6" cy="15.0" rx="1.0" ry="1.0" fill="#2c2870" fill-opacity="0.61"/><ellipse cx="34.5" cy="49.5" rx="1.3" ry="0.7" fill="#5552a8" fill-opacity="0.63"/><ellipse cx="17.1" cy="16.3" rx="0.8" ry="0.6" fill="#6a68b8" fill-opacity="0.61"/><ellipse cx="9.8" cy="56.6" rx="0.8" ry="0.5" fill="#4a4aa0" fill-opacity="0.61"/><ellipse cx="15.7" cy="33.7" rx="1.2" ry="1.1" fill="#5552a8" fill-opacity="0.55"/><ellipse cx="30.4" cy="52.4" rx="1.4" ry="0.5" fill="#2c2870" fill-opacity="0.63"/><ellipse cx="7.6" cy="12.1" rx="0.8" ry="0.5" fill="#4a4aa0" fill-opacity="0.73"/><ellipse cx="11.4" cy="38.6" rx="0.7" ry="0.9" fill="#5552a8" fill-opacity="0.78"/><ellipse cx="13.9" cy="23.6" rx="0.6" ry="1.1" fill="#3f3a90" fill-opacity="0.52"/><ellipse cx="46.9" cy="58.5" rx="1.3" ry="0.7" fill="#5552a8" fill-opacity="0.67"/><ellipse cx="39.7" cy="5.0" rx="1.3" ry="0.8" fill="#5552a8" fill-opacity="0.53"/><ellipse cx="6.5" cy="25.3" rx="0.7" ry="0.8" fill="#4a4aa0" fill-opacity="0.79"/><ellipse cx="25.5" cy="17.4" rx="1.2" ry="0.8" fill="#6a68b8" fill-opacity="0.52"/><ellipse cx="47.7" cy="56.6" rx="1.0" ry="1.0" fill="#2c2870" fill-opacity="0.95"/><ellipse cx="23.3" cy="12.6" rx="0.8" ry="0.5" fill="#2c2870" fill-opacity="0.91"/><ellipse cx="27.1" cy="52.5" rx="1.1" ry="0.7" fill="#2c2870" fill-opacity="0.85"/><ellipse cx="8.3" cy="3.3" rx="1.2" ry="1.0" fill="#3f3a90" fill-opacity="0.54"/><ellipse cx="39.8" cy="23.7" rx="0.8" ry="0.7" fill="#4a4aa0" fill-opacity="0.57"/><ellipse cx="11.0" cy="4.3" rx="1.0" ry="1.0" fill="#2c2870" fill-opacity="0.94"/><ellipse cx="12.6" cy="8.1" rx="1.5" ry="0.8" fill="#5552a8" fill-opacity="0.52"/><ellipse cx="59.3" cy="24.8" rx="1.2" ry="1.0" fill="#4a4aa0" fill-opacity="0.79"/><ellipse cx="54.8" cy="39.7" rx="1.4" ry="1.0" fill="#4a4aa0" fill-opacity="0.58"/><ellipse cx="14.0" cy="25.6" rx="0.7" ry="0.7" fill="#4a4aa0" fill-opacity="0.57"/><ellipse cx="62.1" cy="52.2" rx="0.6" ry="0.8" fill="#3f3a90" fill-opacity="0.84"/><ellipse cx="2.4" cy="53.6" rx="1.0" ry="0.8" fill="#5552a8" fill-opacity="0.88"/><ellipse cx="49.8" cy="41.5" rx="1.1" ry="0.8" fill="#6a68b8" fill-opacity="0.80"/><ellipse cx="28.6" cy="28.1" rx="0.6" ry="1.1" fill="#5552a8" fill-opacity="0.71"/><ellipse cx="28.6" cy="39.6" rx="1.4" ry="1.0" fill="#2c2870" fill-opacity="0.68"/><ellipse cx="4.3" cy="22.9" rx="0.7" ry="0.8" fill="#6a68b8" fill-opacity="0.73"/><ellipse cx="2.6" cy="40.7" rx="1.4" ry="0.7" fill="#5552a8" fill-opacity="0.82"/><ellipse cx="5.1" cy="48.1" rx="1.2" ry="1.0" fill="#2c2870" fill-opacity="0.51"/><ellipse cx="4.2" cy="39.3" rx="0.8" ry="1.1" fill="#5552a8" fill-opacity="0.72"/><ellipse cx="61.2" cy="58.6" rx="1.2" ry="0.9" fill="#3f3a90" fill-opacity="0.60"/><ellipse cx="53.3" cy="39.1" rx="0.7" ry="1.0" fill="#6a68b8" fill-opacity="0.62"/><ellipse cx="52.2" cy="9.2" rx="1.5" ry="0.8" fill="#4a4aa0" fill-opacity="0.77"/><ellipse cx="39.4" cy="15.2" rx="0.6" ry="0.6" fill="#6a68b8" fill-opacity="0.57"/><ellipse cx="59.9" cy="43.5" rx="0.8" ry="1.0" fill="#2c2870" fill-opacity="0.55"/><ellipse cx="34.0" cy="40.7" rx="1.5" ry="0.8" fill="#6a68b8" fill-opacity="0.73"/><ellipse cx="44.1" cy="57.4" rx="1.5" ry="0.9" fill="#6a68b8" fill-opacity="0.68"/><ellipse cx="51.1" cy="16.9" rx="1.1" ry="0.7" fill="#6a68b8" fill-opacity="0.84"/><ellipse cx="28.3" cy="11.3" rx="0.9" ry="0.8" fill="#5552a8" fill-opacity="0.64"/><ellipse cx="61.8" cy="55.7" rx="1.3" ry="0.9" fill="#6a68b8" fill-opacity="0.60"/><ellipse cx="18.6" cy="40.0" rx="1.1" ry="1.0" fill="#2c2870" fill-opacity="0.56"/><ellipse cx="14.5" cy="41.8" rx="0.6" ry="0.8" fill="#5552a8" fill-opacity="0.64"/><ellipse cx="33.5" cy="34.2" rx="1.1" ry="0.9" fill="#2c2870" fill-opacity="0.59"/><ellipse cx="39.9" cy="30.4" rx="0.6" ry="1.0" fill="#3f3a90" fill-opacity="0.82"/><ellipse cx="28.9" cy="4.1" rx="1.4" ry="1.0" fill="#3f3a90" fill-opacity="0.68"/><ellipse cx="16.9" cy="0.7" rx="1.4" ry="0.9" fill="#4a4aa0" fill-opacity="0.76"/><ellipse cx="38.5" cy="33.1" rx="0.8" ry="1.0" fill="#2c2870" fill-opacity="0.52"/><ellipse cx="34.0" cy="26.0" rx="0.7" ry="1.0" fill="#3f3a90" fill-opacity="0.55"/><ellipse cx="39.2" cy="42.0" rx="0.7" ry="0.6" fill="#3f3a90" fill-opacity="0.77"/><ellipse cx="32.4" cy="41.1" rx="0.8" ry="0.7" fill="#4a4aa0" fill-opacity="0.64"/><ellipse cx="3.1" cy="56.9" rx="1.2" ry="0.5" fill="#2c2870" fill-opacity="0.88"/><ellipse cx="47.7" cy="29.8" rx="0.8" ry="1.1" fill="#2c2870" fill-opacity="0.62"/><ellipse cx="41.2" cy="7.9" rx="1.2" ry="0.7" fill="#6a68b8" fill-opacity="0.75"/><ellipse cx="27.9" cy="50.5" rx="1.5" ry="0.7" fill="#4a4aa0" fill-opacity="0.92"/><ellipse cx="57.2" cy="5.5" rx="0.6" ry="0.7" fill="#4a4aa0" fill-opacity="0.61"/><ellipse cx="47.6" cy="60.5" rx="0.8" ry="0.7" fill="#6a68b8" fill-opacity="0.77"/><ellipse cx="24.3" cy="54.5" rx="1.0" ry="1.0" fill="#4a4aa0" fill-opacity="0.81"/><ellipse cx="54.9" cy="28.0" rx="1.1" ry="0.7" fill="#3f3a90" fill-opacity="0.60"/><ellipse cx="39.8" cy="5.0" rx="0.7" ry="0.5" fill="#3f3a90" fill-opacity="0.55"/><ellipse cx="59.5" cy="22.1" rx="1.2" ry="0.5" fill="#3f3a90" fill-opacity="0.56"/><ellipse cx="41.2" cy="2.7" rx="1.3" ry="0.5" fill="#5552a8" fill-opacity="0.77"/><ellipse cx="23.3" cy="52.3" rx="1.4" ry="0.5" fill="#4a4aa0" fill-opacity="0.89"/><ellipse cx="58.5" cy="60.4" rx="0.8" ry="0.6" fill="#5552a8" fill-opacity="0.52"/><ellipse cx="60.8" cy="58.3" rx="1.3" ry="0.9" fill="#5552a8" fill-opacity="0.63"/><ellipse cx="6.4" cy="6.3" rx="0.9" ry="0.7" fill="#3f3a90" fill-opacity="0.62"/><ellipse cx="22.5" cy="59.5" rx="1.2" ry="0.7" fill="#5552a8" fill-opacity="0.64"/><ellipse cx="61.7" cy="32.2" rx="1.2" ry="0.5" fill="#6a68b8" fill-opacity="0.69"/><ellipse cx="27.9" cy="49.5" rx="1.0" ry="0.5" fill="#6a68b8" fill-opacity="0.75"/><ellipse cx="45.7" cy="53.0" rx="1.3" ry="0.6" fill="#4a4aa0" fill-opacity="0.50"/><ellipse cx="12.9" cy="48.8" rx="0.6" ry="0.8" fill="#5552a8" fill-opacity="0.72"/><ellipse cx="51.0" cy="11.8" rx="1.1" ry="1.1" fill="#2c2870" fill-opacity="0.73"/><ellipse cx="37.0" cy="10.2" rx="1.4" ry="0.6" fill="#3f3a90" fill-opacity="0.57"/><ellipse cx="60.1" cy="49.1" rx="1.3" ry="0.9" fill="#2c2870" fill-opacity="0.85"/><ellipse cx="40.2" cy="22.8" rx="1.4" ry="1.0" fill="#2c2870" fill-opacity="0.84"/><ellipse cx="27.0" cy="41.3" rx="0.8" ry="0.7" fill="#6a68b8" fill-opacity="0.91"/><ellipse cx="32.1" cy="24.3" rx="1.4" ry="0.6" fill="#3f3a90" fill-opacity="0.77"/><ellipse cx="44.1" cy="38.7" rx="0.9" ry="0.7" fill="#5552a8" fill-opacity="0.57"/><ellipse cx="54.0" cy="42.4" rx="0.8" ry="0.8" fill="#6a68b8" fill-opacity="0.85"/><ellipse cx="37.1" cy="8.1" rx="1.2" ry="0.9" fill="#2c2870" fill-opacity="0.73"/><ellipse cx="17.1" cy="48.3" rx="0.7" ry="0.6" fill="#4a4aa0" fill-opacity="0.61"/><ellipse cx="20.9" cy="33.4" rx="0.8" ry="1.1" fill="#3f3a90" fill-opacity="0.62"/><ellipse cx="61.1" cy="63.7" rx="1.5" ry="0.6" fill="#3f3a90" fill-opacity="0.67"/><ellipse cx="63.0" cy="50.9" rx="1.0" ry="0.6" fill="#6a68b8" fill-opacity="0.79"/><ellipse cx="6.8" cy="13.2" rx="1.0" ry="0.5" fill="#2c2870" fill-opacity="0.88"/><ellipse cx="27.9" cy="14.2" rx="1.0" ry="0.6" fill="#6a68b8" fill-opacity="0.77"/><ellipse cx="25.9" cy="47.4" rx="1.2" ry="0.9" fill="#2c2870" fill-opacity="0.79"/><ellipse cx="54.1" cy="42.7" rx="1.4" ry="0.9" fill="#4a4aa0" fill-opacity="0.79"/><ellipse cx="29.0" cy="20.0" rx="1.4" ry="0.6" fill="#5552a8" fill-opacity="0.68"/><ellipse cx="45.6" cy="10.0" rx="1.0" ry="0.5" fill="#2c2870" fill-opacity="0.89"/><ellipse cx="33.2" cy="42.3" rx="1.4" ry="0.7" fill="#3f3a90" fill-opacity="0.50"/><ellipse cx="53.2" cy="58.1" rx="0.6" ry="0.8" fill="#5552a8" fill-opacity="0.57"/><ellipse cx="50.0" cy="60.2" rx="0.9" ry="1.0" fill="#4a4aa0" fill-opacity="0.71"/><ellipse cx="13.1" cy="30.4" rx="1.2" ry="1.0" fill="#5552a8" fill-opacity="0.73"/><ellipse cx="26.3" cy="60.7" rx="1.5" ry="0.6" fill="#3f3a90" fill-opacity="0.73"/><ellipse cx="59.7" cy="46.7" rx="0.9" ry="0.5" fill="#4a4aa0" fill-opacity="0.62"/><ellipse cx="25.6" cy="0.9" rx="1.4" ry="0.9" fill="#2c2870" fill-opacity="0.80"/><ellipse cx="37.1" cy="7.0" rx="1.3" ry="1.1" fill="#6a68b8" fill-opacity="0.74"/><ellipse cx="14.0" cy="51.3" rx="1.0" ry="0.6" fill="#2c2870" fill-opacity="0.92"/><ellipse cx="4.4" cy="51.1" rx="1.0" ry="0.8" fill="#3f3a90" fill-opacity="0.60"/><ellipse cx="61.7" cy="22.6" rx="1.0" ry="0.7" fill="#2c2870" fill-opacity="0.75"/><ellipse cx="8.0" cy="53.4" rx="1.3" ry="0.6" fill="#6a68b8" fill-opacity="0.82"/><ellipse cx="44.0" cy="62.9" rx="1.0" ry="1.0" fill="#3f3a90" fill-opacity="0.86"/><ellipse cx="22.9" cy="41.9" rx="1.0" ry="0.8" fill="#6a68b8" fill-opacity="0.79"/><ellipse cx="42.2" cy="23.2" rx="1.4" ry="0.5" fill="#6a68b8" fill-opacity="0.87"/><ellipse cx="58.0" cy="50.2" rx="1.1" ry="0.7" fill="#3f3a90" fill-opacity="0.76"/><ellipse cx="42.1" cy="13.4" rx="1.2" ry="0.7" fill="#5552a8" fill-opacity="0.55"/><ellipse cx="9.1" cy="15.0" rx="0.9" ry="0.6" fill="#2c2870" fill-opacity="0.91"/><ellipse cx="50.7" cy="10.7" rx="1.5" ry="0.6" fill="#4a4aa0" fill-opacity="0.91"/><ellipse cx="35.1" cy="40.7" rx="0.8" ry="0.9" fill="#6a68b8" fill-opacity="0.74"/><ellipse cx="47.5" cy="28.1" rx="1.1" ry="0.7" fill="#5552a8" fill-opacity="0.61"/><ellipse cx="8.9" cy="31.6" rx="1.0" ry="1.0" fill="#5552a8" fill-opacity="0.82"/><ellipse cx="15.8" cy="10.5" rx="1.4" ry="0.5" fill="#4a4aa0" fill-opacity="0.88"/><ellipse cx="29.9" cy="36.0" rx="1.4" ry="0.7" fill="#6a68b8" fill-opacity="0.69"/><ellipse cx="61.5" cy="4.8" rx="1.2" ry="0.5" fill="#6a68b8" fill-opacity="0.77"/><ellipse cx="43.7" cy="59.6" rx="1.3" ry="0.6" fill="#6a68b8" fill-opacity="0.72"/><ellipse cx="48.5" cy="9.2" rx="1.2" ry="0.9" fill="#3f3a90" fill-opacity="0.65"/><ellipse cx="55.1" cy="23.4" rx="1.3" ry="0.8" fill="#2c2870" fill-opacity="0.91"/><ellipse cx="18.2" cy="21.9" rx="1.1" ry="1.0" fill="#6a68b8" fill-opacity="0.63"/><ellipse cx="53.0" cy="25.8" rx="1.5" ry="1.0" fill="#4a4aa0" fill-opacity="0.66"/><ellipse cx="13.0" cy="31.5" rx="0.9" ry="0.7" fill="#5552a8" fill-opacity="0.63"/><ellipse cx="37.5" cy="40.6" rx="1.0" ry="0.8" fill="#5552a8" fill-opacity="0.68"/><ellipse cx="36.7" cy="25.5" rx="0.6" ry="0.6" fill="#5552a8" fill-opacity="0.91"/><ellipse cx="39.0" cy="42.1" rx="1.4" ry="0.9" fill="#4a4aa0" fill-opacity="0.78"/><ellipse cx="40.1" cy="44.6" rx="1.4" ry="0.5" fill="#4a4aa0" fill-opacity="0.52"/><ellipse cx="40.5" cy="40.0" rx="0.7" ry="0.6" fill="#3f3a90" fill-opacity="0.52"/><ellipse cx="49.6" cy="58.5" rx="0.9" ry="1.0" fill="#5552a8" fill-opacity="0.85"/><ellipse cx="36.0" cy="16.5" rx="0.8" ry="0.5" fill="#6a68b8" fill-opacity="0.51"/><ellipse cx="36.2" cy="37.0" rx="1.0" ry="0.8" fill="#5552a8" fill-opacity="0.87"/><ellipse cx="49.5" cy="26.9" rx="1.0" ry="0.5" fill="#2c2870" fill-opacity="0.67"/><ellipse cx="37.9" cy="60.0" rx="1.0" ry="0.7" fill="#3f3a90" fill-opacity="0.55"/><ellipse cx="41.2" cy="13.6" rx="1.2" ry="0.8" fill="#3f3a90" fill-opacity="0.50"/><ellipse cx="42.8" cy="63.1" rx="0.8" ry="0.6" fill="#5552a8" fill-opacity="0.71"/><ellipse cx="17.6" cy="36.4" rx="1.3" ry="0.6" fill="#2c2870" fill-opacity="0.52"/><ellipse cx="49.5" cy="45.7" rx="1.3" ry="0.6" fill="#3f3a90" fill-opacity="0.78"/><ellipse cx="45.4" cy="29.5" rx="1.4" ry="0.5" fill="#6a68b8" fill-opacity="0.51"/><ellipse cx="3.9" cy="56.5" rx="0.7" ry="0.7" fill="#4a4aa0" fill-opacity="0.83"/><ellipse cx="10.6" cy="55.1" rx="1.1" ry="0.7" fill="#2c2870" fill-opacity="0.93"/><ellipse cx="46.6" cy="30.1" rx="0.7" ry="1.0" fill="#3f3a90" fill-opacity="0.66"/><ellipse cx="41.3" cy="40.3" rx="1.0" ry="1.0" fill="#2c2870" fill-opacity="0.70"/><ellipse cx="17.4" cy="48.3" rx="0.9" ry="0.5" fill="#6a68b8" fill-opacity="0.94"/><ellipse cx="45.0" cy="53.0" rx="1.4" ry="0.9" fill="#6a68b8" fill-opacity="0.51"/><ellipse cx="9.7" cy="53.3" rx="1.0" ry="1.0" fill="#4a4aa0" fill-opacity="0.67"/><ellipse cx="43.8" cy="38.5" rx="1.3" ry="0.7" fill="#3f3a90" fill-opacity="0.50"/><ellipse cx="16.8" cy="27.0" rx="1.4" ry="1.0" fill="#4a4aa0" fill-opacity="0.85"/><ellipse cx="18.5" cy="9.0" rx="0.7" ry="1.1" fill="#4a4aa0" fill-opacity="0.86"/><ellipse cx="35.1" cy="49.7" rx="0.9" ry="0.6" fill="#2c2870" fill-opacity="0.75"/><ellipse cx="51.0" cy="12.8" rx="0.9" ry="0.5" fill="#3f3a90" fill-opacity="0.68"/><ellipse cx="45.3" cy="59.3" rx="1.3" ry="1.0" fill="#4a4aa0" fill-opacity="0.71"/><ellipse cx="5.6" cy="51.6" rx="0.8" ry="0.8" fill="#5552a8" fill-opacity="0.90"/><ellipse cx="56.6" cy="33.4" rx="1.1" ry="0.6" fill="#2c2870" fill-opacity="0.60"/><ellipse cx="5.9" cy="51.6" rx="0.9" ry="0.8" fill="#6a68b8" fill-opacity="0.68"/><ellipse cx="33.1" cy="9.5" rx="1.4" ry="0.8" fill="#5552a8" fill-opacity="0.89"/><ellipse cx="23.8" cy="29.7" rx="0.7" ry="0.9" fill="#5552a8" fill-opacity="0.66"/><ellipse cx="33.2" cy="1.3" rx="0.8" ry="1.0" fill="#5552a8" fill-opacity="0.75"/><ellipse cx="37.5" cy="13.7" rx="1.0" ry="1.1" fill="#6a68b8" fill-opacity="0.85"/><ellipse cx="52.4" cy="61.7" rx="1.4" ry="0.7" fill="#6a68b8" fill-opacity="0.95"/><ellipse cx="24.2" cy="1.8" rx="1.1" ry="1.0" fill="#5552a8" fill-opacity="0.71"/><ellipse cx="60.6" cy="58.2" rx="1.4" ry="0.9" fill="#5552a8" fill-opacity="0.91"/><ellipse cx="45.2" cy="5.8" rx="1.1" ry="0.9" fill="#6a68b8" fill-opacity="0.93"/><ellipse cx="42.9" cy="25.2" rx="1.4" ry="0.7" fill="#2c2870" fill-opacity="0.61"/><ellipse cx="46.1" cy="11.0" rx="1.4" ry="0.5" fill="#6a68b8" fill-opacity="0.75"/><ellipse cx="1.8" cy="58.8" rx="1.3" ry="0.9" fill="#6a68b8" fill-opacity="0.79"/><ellipse cx="63.1" cy="3.6" rx="0.9" ry="0.5" fill="#3f3a90" fill-opacity="0.59"/><ellipse cx="47.9" cy="37.7" rx="1.3" ry="0.6" fill="#2c2870" fill-opacity="0.65"/><ellipse cx="16.4" cy="7.9" rx="0.9" ry="0.8" fill="#2c2870" fill-opacity="0.86"/><ellipse cx="58.5" cy="57.1" rx="1.2" ry="0.6" fill="#2c2870" fill-opacity="0.52"/><ellipse cx="59.4" cy="14.1" rx="1.4" ry="1.0" fill="#4a4aa0" fill-opacity="0.56"/><ellipse cx="28.6" cy="6.2" rx="1.4" ry="0.9" fill="#2c2870" fill-opacity="0.70"/><ellipse cx="21.7" cy="52.7" rx="0.7" ry="0.7" fill="#2c2870" fill-opacity="0.65"/><ellipse cx="47.1" cy="11.5" rx="1.1" ry="0.6" fill="#2c2870" fill-opacity="0.89"/><ellipse cx="17.0" cy="26.4" rx="0.6" ry="0.8" fill="#3f3a90" fill-opacity="0.63"/><ellipse cx="51.5" cy="16.7" rx="0.9" ry="1.0" fill="#5552a8" fill-opacity="0.55"/><ellipse cx="62.6" cy="3.6" rx="1.1" ry="1.0" fill="#3f3a90" fill-opacity="0.55"/><ellipse cx="48.3" cy="62.1" rx="1.5" ry="1.1" fill="#2c2870" fill-opacity="0.92"/><ellipse cx="6.2" cy="18.5" rx="0.7" ry="0.9" fill="#3f3a90" fill-opacity="0.63"/><ellipse cx="62.6" cy="1.0" rx="0.9" ry="0.6" fill="#4a4aa0" fill-opacity="0.50"/><ellipse cx="53.3" cy="33.7" rx="0.9" ry="0.5" fill="#3f3a90" fill-opacity="0.68"/><ellipse cx="17.7" cy="11.6" rx="1.1" ry="0.6" fill="#3f3a90" fill-opacity="0.58"/><ellipse cx="38.4" cy="53.1" rx="1.3" ry="1.0" fill="#4a4aa0" fill-opacity="0.58"/><ellipse cx="8.8" cy="42.9" rx="1.1" ry="0.6" fill="#3f3a90" fill-opacity="0.53"/><ellipse cx="46.9" cy="26.1" rx="1.1" ry="0.7" fill="#5552a8" fill-opacity="0.63"/><ellipse cx="40.9" cy="60.5" rx="0.6" ry="1.0" fill="#5552a8" fill-opacity="0.71"/><ellipse cx="55.8" cy="17.0" rx="1.1" ry="1.1" fill="#3f3a90" fill-opacity="0.52"/><ellipse cx="44.9" cy="36.8" rx="0.9" ry="1.1" fill="#5552a8" fill-opacity="0.94"/><ellipse cx="4.6" cy="22.8" rx="1.3" ry="1.0" fill="#3f3a90" fill-opacity="0.64"/><ellipse cx="45.5" cy="24.4" rx="0.9" ry="0.6" fill="#5552a8" fill-opacity="0.83"/><ellipse cx="28.6" cy="1.6" rx="0.7" ry="0.6" fill="#4a4aa0" fill-opacity="0.54"/><ellipse cx="39.6" cy="10.7" rx="0.8" ry="1.0" fill="#6a68b8" fill-opacity="0.51"/><ellipse cx="6.2" cy="44.7" rx="0.8" ry="1.0" fill="#3f3a90" fill-opacity="0.79"/><ellipse cx="29.7" cy="15.3" rx="0.7" ry="1.0" fill="#2c2870" fill-opacity="0.82"/><ellipse cx="2.9" cy="7.9" rx="1.1" ry="1.0" fill="#2c2870" fill-opacity="0.55"/><ellipse cx="7.8" cy="56.6" rx="1.1" ry="1.0" fill="#4a4aa0" fill-opacity="0.57"/><ellipse cx="36.7" cy="47.8" rx="1.5" ry="0.5" fill="#3f3a90" fill-opacity="0.79"/><ellipse cx="44.4" cy="38.2" rx="1.1" ry="0.7" fill="#4a4aa0" fill-opacity="0.92"/><ellipse cx="49.7" cy="21.7" rx="1.4" ry="0.9" fill="#3f3a90" fill-opacity="0.88"/><ellipse cx="36.1" cy="63.1" rx="1.3" ry="1.0" fill="#6a68b8" fill-opacity="0.52"/><ellipse cx="33.1" cy="61.3" rx="0.8" ry="0.8" fill="#6a68b8" fill-opacity="0.78"/><ellipse cx="23.3" cy="34.0" rx="0.9" ry="0.6" fill="#5552a8" fill-opacity="0.80"/><ellipse cx="14.4" cy="26.9" rx="1.3" ry="1.1" fill="#2c2870" fill-opacity="0.78"/><ellipse cx="51.8" cy="56.6" rx="0.6" ry="0.9" fill="#5552a8" fill-opacity="0.62"/><ellipse cx="43.4" cy="17.5" rx="1.3" ry="0.5" fill="#4a4aa0" fill-opacity="0.55"/><ellipse cx="7.8" cy="0.9" rx="1.5" ry="0.7" fill="#3f3a90" fill-opacity="0.64"/><ellipse cx="41.4" cy="7.7" rx="1.5" ry="1.1" fill="#4a4aa0" fill-opacity="0.91"/><ellipse cx="5.4" cy="37.8" rx="1.0" ry="0.8" fill="#3f3a90" fill-opacity="0.90"/><ellipse cx="58.6" cy="37.0" rx="0.8" ry="0.6" fill="#6a68b8" fill-opacity="0.75"/><ellipse cx="53.7" cy="39.0" rx="0.8" ry="0.7" fill="#4a4aa0" fill-opacity="0.75"/><ellipse cx="23.5" cy="57.1" rx="1.2" ry="0.8" fill="#6a68b8" fill-opacity="0.64"/><ellipse cx="15.5" cy="14.2" rx="1.1" ry="1.1" fill="#4a4aa0" fill-opacity="0.68"/><ellipse cx="59.1" cy="10.4" rx="0.9" ry="0.7" fill="#3f3a90" fill-opacity="0.62"/><ellipse cx="56.2" cy="13.8" rx="1.3" ry="0.6" fill="#5552a8" fill-opacity="0.53"/><ellipse cx="55.8" cy="28.2" rx="1.1" ry="1.0" fill="#5552a8" fill-opacity="0.66"/><ellipse cx="48.8" cy="33.3" rx="1.0" ry="0.9" fill="#3f3a90" fill-opacity="0.56"/><ellipse cx="13.0" cy="39.1" rx="1.3" ry="0.8" fill="#6a68b8" fill-opacity="0.83"/><ellipse cx="47.6" cy="48.6" rx="0.8" ry="0.9" fill="#2c2870" fill-opacity="0.78"/><ellipse cx="45.0" cy="26.4" rx="0.6" ry="1.0" fill="#5552a8" fill-opacity="0.76"/><ellipse cx="31.9" cy="61.6" rx="0.7" ry="1.0" fill="#4a4aa0" fill-opacity="0.63"/><ellipse cx="39.8" cy="7.1" rx="1.2" ry="0.7" fill="#2c2870" fill-opacity="0.66"/><ellipse cx="22.6" cy="33.7" rx="0.9" ry="0.7" fill="#4a4aa0" fill-opacity="0.85"/><ellipse cx="54.4" cy="32.0" rx="0.9" ry="0.8" fill="#2c2870" fill-opacity="0.86"/><ellipse cx="27.9" cy="24.1" rx="0.7" ry="1.1" fill="#3f3a90" fill-opacity="0.65"/><ellipse cx="54.0" cy="53.6" rx="0.8" ry="0.8" fill="#6a68b8" fill-opacity="0.91"/><ellipse cx="0.7" cy="3.0" rx="1.4" ry="0.7" fill="#4a4aa0" fill-opacity="0.74"/><ellipse cx="20.0" cy="39.7" rx="1.1" ry="0.8" fill="#2c2870" fill-opacity="0.81"/><ellipse cx="24.9" cy="22.9" rx="1.2" ry="0.8" fill="#4a4aa0" fill-opacity="0.50"/><ellipse cx="4.4" cy="14.7" rx="0.9" ry="0.7" fill="#2c2870" fill-opacity="0.75"/><ellipse cx="36.7" cy="56.3" rx="1.0" ry="0.8" fill="#2c2870" fill-opacity="0.78"/><ellipse cx="63.8" cy="22.0" rx="1.3" ry="0.6" fill="#4a4aa0" fill-opacity="0.66"/><ellipse cx="23.5" cy="4.8" rx="1.1" ry="0.6" fill="#6a68b8" fill-opacity="0.90"/><ellipse cx="44.2" cy="52.5" rx="1.4" ry="0.8" fill="#4a4aa0" fill-opacity="0.57"/><ellipse cx="18.6" cy="32.7" rx="1.4" ry="0.7" fill="#4a4aa0" fill-opacity="0.53"/><ellipse cx="36.2" cy="6.8" rx="1.5" ry="0.9" fill="#4a4aa0" fill-opacity="0.52"/><ellipse cx="26.3" cy="50.4" rx="1.2" ry="0.8" fill="#6a68b8" fill-opacity="0.91"/><ellipse cx="25.4" cy="6.3" rx="1.2" ry="0.6" fill="#5552a8" fill-opacity="0.72"/><ellipse cx="35.4" cy="17.0" rx="1.1" ry="0.6" fill="#4a4aa0" fill-opacity="0.59"/><ellipse cx="38.5" cy="9.3" rx="1.3" ry="0.6" fill="#4a4aa0" fill-opacity="0.55"/><ellipse cx="10.9" cy="33.4" rx="1.2" ry="1.0" fill="#2c2870" fill-opacity="0.53"/><ellipse cx="0.8" cy="49.3" rx="0.7" ry="0.6" fill="#6a68b8" fill-opacity="0.62"/><ellipse cx="2.1" cy="40.2" rx="0.7" ry="0.6" fill="#4a4aa0" fill-opacity="0.78"/><ellipse cx="1.3" cy="14.1" rx="1.1" ry="1.1" fill="#2c2870" fill-opacity="0.70"/><ellipse cx="39.7" cy="16.0" rx="0.7" ry="0.9" fill="#5552a8" fill-opacity="0.58"/><ellipse cx="0.4" cy="55.5" rx="0.9" ry="0.9" fill="#2c2870" fill-opacity="0.93"/><ellipse cx="31.7" cy="60.8" rx="1.2" ry="0.9" fill="#3f3a90" fill-opacity="0.76"/><ellipse cx="26.5" cy="25.5" rx="0.6" ry="1.0" fill="#2c2870" fill-opacity="0.54"/><ellipse cx="10.9" cy="24.3" rx="1.5" ry="0.7" fill="#5552a8" fill-opacity="0.75"/><ellipse cx="7.4" cy="34.2" rx="0.9" ry="0.9" fill="#2c2870" fill-opacity="0.93"/><ellipse cx="27.0" cy="58.4" rx="0.8" ry="0.6" fill="#4a4aa0" fill-opacity="0.63"/><ellipse cx="15.2" cy="2.2" rx="0.9" ry="0.6" fill="#5552a8" fill-opacity="0.82"/><ellipse cx="5.9" cy="17.3" rx="1.1" ry="0.8" fill="#3f3a90" fill-opacity="0.86"/><ellipse cx="15.4" cy="23.5" rx="1.3" ry="0.7" fill="#3f3a90" fill-opacity="0.93"/><ellipse cx="13.3" cy="60.9" rx="0.8" ry="1.0" fill="#4a4aa0" fill-opacity="0.80"/><ellipse cx="60.3" cy="63.9" rx="1.4" ry="0.9" fill="#4a4aa0" fill-opacity="0.67"/><ellipse cx="15.8" cy="38.9" rx="0.7" ry="1.0" fill="#3f3a90" fill-opacity="0.81"/><ellipse cx="5.9" cy="54.5" rx="0.6" ry="0.9" fill="#2c2870" fill-opacity="0.57"/><ellipse cx="1.0" cy="45.5" rx="1.3" ry="0.6" fill="#3f3a90" fill-opacity="0.58"/><ellipse cx="57.0" cy="4.4" rx="1.3" ry="1.0" fill="#6a68b8" fill-opacity="0.59"/><ellipse cx="46.0" cy="5.6" rx="0.7" ry="0.9" fill="#6a68b8" fill-opacity="0.63"/><ellipse cx="25.8" cy="58.2" rx="1.4" ry="0.6" fill="#3f3a90" fill-opacity="0.66"/><ellipse cx="51.2" cy="44.2" rx="0.6" ry="0.9" fill="#2c2870" fill-opacity="0.71"/><ellipse cx="64.0" cy="25.6" rx="0.8" ry="0.6" fill="#5552a8" fill-opacity="0.91"/><ellipse cx="47.0" cy="45.6" rx="1.0" ry="0.9" fill="#5552a8" fill-opacity="0.69"/><ellipse cx="48.4" cy="10.0" rx="1.1" ry="0.9" fill="#5552a8" fill-opacity="0.92"/><ellipse cx="36.1" cy="14.6" rx="1.2" ry="0.7" fill="#2c2870" fill-opacity="0.70"/><ellipse cx="43.8" cy="22.3" rx="0.7" ry="1.0" fill="#5552a8" fill-opacity="0.79"/><ellipse cx="57.7" cy="56.0" rx="1.1" ry="0.5" fill="#4a4aa0" fill-opacity="0.61"/><ellipse cx="7.1" cy="50.7" rx="1.3" ry="0.7" fill="#3f3a90" fill-opacity="0.91"/><ellipse cx="26.7" cy="47.6" rx="1.3" ry="0.7" fill="#4a4aa0" fill-opacity="0.54"/><ellipse cx="60.6" cy="27.1" rx="1.2" ry="0.9" fill="#6a68b8" fill-opacity="0.87"/><ellipse cx="40.2" cy="29.0" rx="1.2" ry="0.6" fill="#5552a8" fill-opacity="0.80"/><ellipse cx="54.2" cy="49.8" rx="1.3" ry="0.5" fill="#2c2870" fill-opacity="0.82"/><ellipse cx="51.6" cy="16.7" rx="0.7" ry="1.0" fill="#4a4aa0" fill-opacity="0.61"/><ellipse cx="16.7" cy="61.7" rx="0.9" ry="0.7" fill="#3f3a90" fill-opacity="0.59"/><ellipse cx="19.9" cy="8.7" rx="1.2" ry="0.6" fill="#2c2870" fill-opacity="0.61"/><ellipse cx="33.0" cy="28.5" rx="1.2" ry="0.6" fill="#6a68b8" fill-opacity="0.82"/><ellipse cx="37.6" cy="15.4" rx="1.1" ry="1.0" fill="#5552a8" fill-opacity="0.58"/><ellipse cx="42.7" cy="38.3" rx="1.4" ry="0.7" fill="#2c2870" fill-opacity="0.59"/><ellipse cx="44.2" cy="0.8" rx="0.8" ry="0.5" fill="#2c2870" fill-opacity="0.63"/><ellipse cx="12.6" cy="44.9" rx="1.5" ry="0.6" fill="#2c2870" fill-opacity="0.70"/><ellipse cx="36.4" cy="18.5" rx="0.7" ry="0.5" fill="#4a4aa0" fill-opacity="0.95"/><ellipse cx="48.0" cy="5.4" rx="1.5" ry="0.8" fill="#6a68b8" fill-opacity="0.55"/><ellipse cx="31.3" cy="27.8" rx="1.3" ry="0.7" fill="#3f3a90" fill-opacity="0.66"/><ellipse cx="5.8" cy="18.3" rx="1.4" ry="0.9" fill="#4a4aa0" fill-opacity="0.61"/><ellipse cx="15.7" cy="8.9" rx="0.6" ry="0.7" fill="#5552a8" fill-opacity="0.57"/><ellipse cx="23.5" cy="61.6" rx="1.4" ry="1.1" fill="#4a4aa0" fill-opacity="0.58"/><ellipse cx="50.2" cy="53.1" rx="0.9" ry="0.6" fill="#4a4aa0" fill-opacity="0.87"/><ellipse cx="20.5" cy="23.6" rx="1.4" ry="1.0" fill="#4a4aa0" fill-opacity="0.61"/><ellipse cx="3.7" cy="6.9" rx="1.4" ry="1.1" fill="#2c2870" fill-opacity="0.72"/><ellipse cx="32.0" cy="10.1" rx="1.1" ry="0.9" fill="#6a68b8" fill-opacity="0.56"/><ellipse cx="14.6" cy="8.9" rx="0.7" ry="0.5" fill="#2c2870" fill-opacity="0.70"/><ellipse cx="12.2" cy="46.3" rx="0.6" ry="0.9" fill="#5552a8" fill-opacity="0.88"/><ellipse cx="32.7" cy="9.2" rx="1.2" ry="0.8" fill="#5552a8" fill-opacity="0.69"/><ellipse cx="21.7" cy="28.1" rx="1.4" ry="0.6" fill="#3f3a90" fill-opacity="0.63"/><ellipse cx="28.4" cy="36.1" rx="1.1" ry="0.8" fill="#6a68b8" fill-opacity="0.74"/><ellipse cx="33.1" cy="27.4" rx="1.4" ry="1.0" fill="#4a4aa0" fill-opacity="0.94"/><ellipse cx="61.6" cy="39.7" rx="1.3" ry="0.7" fill="#5552a8" fill-opacity="0.80"/><ellipse cx="36.2" cy="27.0" rx="1.0" ry="0.9" fill="#6a68b8" fill-opacity="0.63"/><ellipse cx="22.0" cy="56.6" rx="1.4" ry="0.6" fill="#5552a8" fill-opacity="0.83"/><ellipse cx="44.2" cy="9.4" rx="0.9" ry="0.8" fill="#4a4aa0" fill-opacity="0.69"/><ellipse cx="33.9" cy="36.1" rx="0.8" ry="0.6" fill="#2c2870" fill-opacity="0.94"/><ellipse cx="13.0" cy="48.0" rx="1.4" ry="0.7" fill="#3f3a90" fill-opacity="0.54"/><ellipse cx="34.0" cy="16.1" rx="0.8" ry="0.8" fill="#2c2870" fill-opacity="0.74"/><ellipse cx="44.6" cy="47.1" rx="1.1" ry="1.0" fill="#4a4aa0" fill-opacity="0.81"/><ellipse cx="51.2" cy="8.6" rx="1.1" ry="0.9" fill="#4a4aa0" fill-opacity="0.84"/><ellipse cx="7.3" cy="63.4" rx="0.7" ry="1.0" fill="#4a4aa0" fill-opacity="0.68"/><ellipse cx="11.0" cy="61.4" rx="1.0" ry="0.6" fill="#4a4aa0" fill-opacity="0.67"/><ellipse cx="39.6" cy="25.9" rx="0.9" ry="0.5" fill="#5552a8" fill-opacity="0.77"/><ellipse cx="13.6" cy="19.2" rx="1.0" ry="1.0" fill="#3f3a90" fill-opacity="0.78"/><ellipse cx="55.8" cy="36.0" rx="0.8" ry="0.9" fill="#6a68b8" fill-opacity="0.65"/><ellipse cx="48.9" cy="43.6" rx="0.7" ry="0.7" fill="#6a68b8" fill-opacity="0.83"/><ellipse cx="60.7" cy="46.2" rx="1.3" ry="0.7" fill="#5552a8" fill-opacity="0.66"/><ellipse cx="21.0" cy="38.6" rx="1.4" ry="0.9" fill="#5552a8" fill-opacity="0.61"/><ellipse cx="12.4" cy="28.6" rx="1.0" ry="1.0" fill="#4a4aa0" fill-opacity="0.72"/><ellipse cx="4.7" cy="16.5" rx="1.1" ry="0.7" fill="#3f3a90" fill-opacity="0.81"/><ellipse cx="24.4" cy="9.2" rx="1.1" ry="0.9" fill="#6a68b8" fill-opacity="0.86"/><ellipse cx="60.7" cy="0.9" rx="1.5" ry="0.8" fill="#6a68b8" fill-opacity="0.72"/><ellipse cx="2.0" cy="53.6" rx="0.8" ry="1.0" fill="#5552a8" fill-opacity="0.81"/><ellipse cx="25.1" cy="30.4" rx="1.2" ry="0.8" fill="#3f3a90" fill-opacity="0.60"/><ellipse cx="61.3" cy="33.1" rx="0.9" ry="0.6" fill="#6a68b8" fill-opacity="0.90"/><ellipse cx="37.7" cy="2.8" rx="1.3" ry="0.9" fill="#3f3a90" fill-opacity="0.65"/><ellipse cx="30.0" cy="60.0" rx="0.6" ry="0.8" fill="#6a68b8" fill-opacity="0.65"/><ellipse cx="1.3" cy="29.4" rx="0.6" ry="0.6" fill="#4a4aa0" fill-opacity="0.80"/><ellipse cx="17.5" cy="17.5" rx="1.5" ry="0.7" fill="#4a4aa0" fill-opacity="0.76"/><ellipse cx="37.4" cy="8.9" rx="1.4" ry="1.0" fill="#5552a8" fill-opacity="0.54"/><ellipse cx="12.8" cy="27.3" rx="1.2" ry="0.7" fill="#4a4aa0" fill-opacity="0.63"/><ellipse cx="50.9" cy="55.9" rx="1.2" ry="0.7" fill="#3f3a90" fill-opacity="0.84"/><ellipse cx="47.3" cy="32.6" rx="0.9" ry="0.8" fill="#3f3a90" fill-opacity="0.68"/><ellipse cx="3.9" cy="21.6" rx="1.4" ry="1.0" fill="#6a68b8" fill-opacity="0.73"/><ellipse cx="57.2" cy="51.8" rx="0.7" ry="0.6" fill="#6a68b8" fill-opacity="0.90"/><ellipse cx="43.0" cy="25.9" rx="1.1" ry="0.7" fill="#2c2870" fill-opacity="0.58"/><ellipse cx="4.2" cy="19.3" rx="0.8" ry="0.8" fill="#6a68b8" fill-opacity="0.80"/><ellipse cx="61.8" cy="4.7" rx="1.1" ry="0.5" fill="#3f3a90" fill-opacity="0.58"/><ellipse cx="37.2" cy="63.2" rx="1.5" ry="0.9" fill="#6a68b8" fill-opacity="0.82"/><ellipse cx="59.0" cy="53.7" rx="1.4" ry="0.7" fill="#6a68b8" fill-opacity="0.62"/><ellipse cx="1.5" cy="10.5" rx="0.8" ry="0.5" fill="#6a68b8" fill-opacity="0.52"/><ellipse cx="28.7" cy="57.1" rx="1.4" ry="0.9" fill="#6a68b8" fill-opacity="0.59"/><ellipse cx="47.0" cy="61.6" rx="0.6" ry="0.5" fill="#4a4aa0" fill-opacity="0.87"/><ellipse cx="36.8" cy="46.0" rx="0.8" ry="0.8" fill="#5552a8" fill-opacity="0.89"/><ellipse cx="41.0" cy="59.1" rx="0.9" ry="1.0" fill="#3f3a90" fill-opacity="0.51"/><ellipse cx="31.1" cy="39.0" rx="0.8" ry="1.0" fill="#6a68b8" fill-opacity="0.86"/><ellipse cx="5.6" cy="39.2" rx="1.5" ry="0.7" fill="#2c2870" fill-opacity="0.92"/><ellipse cx="55.9" cy="1.6" rx="1.1" ry="1.1" fill="#6a68b8" fill-opacity="0.53"/><ellipse cx="39.3" cy="46.3" rx="0.7" ry="0.5" fill="#6a68b8" fill-opacity="0.59"/><ellipse cx="33.9" cy="53.8" rx="1.3" ry="0.8" fill="#6a68b8" fill-opacity="0.74"/><ellipse cx="37.7" cy="35.5" rx="1.1" ry="0.6" fill="#4a4aa0" fill-opacity="0.78"/><ellipse cx="52.1" cy="30.6" rx="1.3" ry="0.7" fill="#5552a8" fill-opacity="0.85"/><ellipse cx="62.6" cy="29.0" rx="0.9" ry="0.8" fill="#6a68b8" fill-opacity="0.62"/><ellipse cx="16.2" cy="35.7" rx="1.2" ry="1.0" fill="#5552a8" fill-opacity="0.66"/><ellipse cx="63.3" cy="14.6" rx="1.4" ry="0.9" fill="#5552a8" fill-opacity="0.56"/><ellipse cx="34.8" cy="13.1" rx="0.8" ry="0.9" fill="#3f3a90" fill-opacity="0.83"/><ellipse cx="57.8" cy="55.7" rx="1.1" ry="0.7" fill="#3f3a90" fill-opacity="0.82"/><ellipse cx="28.3" cy="55.0" rx="1.2" ry="0.7" fill="#3f3a90" fill-opacity="0.86"/><ellipse cx="29.4" cy="20.7" rx="0.7" ry="0.9" fill="#5552a8" fill-opacity="0.53"/><ellipse cx="41.3" cy="25.7" rx="0.7" ry="0.8" fill="#6a68b8" fill-opacity="0.68"/><ellipse cx="58.8" cy="60.5" rx="0.6" ry="0.5" fill="#3f3a90" fill-opacity="0.82"/><ellipse cx="15.5" cy="22.7" rx="1.3" ry="0.9" fill="#6a68b8" fill-opacity="0.63"/><ellipse cx="63.6" cy="13.9" rx="1.3" ry="0.8" fill="#4a4aa0" fill-opacity="0.92"/><ellipse cx="49.2" cy="61.1" rx="1.3" ry="0.7" fill="#3f3a90" fill-opacity="0.65"/><ellipse cx="31.1" cy="57.0" rx="0.9" ry="0.9" fill="#3f3a90" fill-opacity="0.93"/><ellipse cx="13.6" cy="3.3" rx="1.4" ry="0.9" fill="#3f3a90" fill-opacity="0.52"/><ellipse cx="49.5" cy="28.1" rx="1.4" ry="1.1" fill="#2c2870" fill-opacity="0.63"/><ellipse cx="1.6" cy="7.1" rx="0.7" ry="0.7" fill="#5552a8" fill-opacity="0.73"/><ellipse cx="22.5" cy="48.1" rx="1.2" ry="0.6" fill="#2c2870" fill-opacity="0.65"/><ellipse cx="58.8" cy="45.8" rx="1.5" ry="0.5" fill="#6a68b8" fill-opacity="0.61"/><ellipse cx="50.7" cy="44.1" rx="0.7" ry="0.9" fill="#5552a8" fill-opacity="0.76"/><ellipse cx="44.7" cy="46.6" rx="1.5" ry="0.7" fill="#5552a8" fill-opacity="0.90"/><ellipse cx="7.7" cy="31.2" rx="1.1" ry="0.5" fill="#3f3a90" fill-opacity="0.60"/><ellipse cx="34.6" cy="40.5" rx="1.1" ry="0.6" fill="#4a4aa0" fill-opacity="0.66"/><ellipse cx="31.8" cy="58.8" rx="1.5" ry="1.0" fill="#6a68b8" fill-opacity="0.94"/><ellipse cx="14.3" cy="4.6" rx="0.6" ry="0.7" fill="#3f3a90" fill-opacity="0.93"/><ellipse cx="12.6" cy="3.1" rx="1.5" ry="0.7" fill="#4a4aa0" fill-opacity="0.65"/><ellipse cx="2.7" cy="29.0" rx="1.1" ry="0.9" fill="#6a68b8" fill-opacity="0.94"/><ellipse cx="55.9" cy="45.9" rx="1.0" ry="0.8" fill="#2c2870" fill-opacity="0.67"/><ellipse cx="9.7" cy="48.7" rx="1.3" ry="1.0" fill="#2c2870" fill-opacity="0.79"/><ellipse cx="15.3" cy="32.1" rx="1.2" ry="0.9" fill="#6a68b8" fill-opacity="0.95"/><ellipse cx="52.8" cy="42.5" rx="1.4" ry="1.0" fill="#5552a8" fill-opacity="0.91"/><ellipse cx="3.2" cy="44.4" rx="1.2" ry="0.8" fill="#6a68b8" fill-opacity="0.80"/><ellipse cx="29.2" cy="37.0" rx="1.3" ry="1.0" fill="#2c2870" fill-opacity="0.73"/><ellipse cx="37.9" cy="63.7" rx="1.3" ry="1.0" fill="#3f3a90" fill-opacity="0.89"/><ellipse cx="22.7" cy="4.1" rx="0.8" ry="0.9" fill="#4a4aa0" fill-opacity="0.87"/><ellipse cx="4.6" cy="51.0" rx="1.4" ry="1.0" fill="#3f3a90" fill-opacity="0.62"/><ellipse cx="53.8" cy="54.9" rx="1.1" ry="0.8" fill="#6a68b8" fill-opacity="0.60"/><ellipse cx="9.1" cy="59.3" rx="0.9" ry="0.6" fill="#4a4aa0" fill-opacity="0.58"/><ellipse cx="23.4" cy="43.1" rx="1.3" ry="0.8" fill="#3f3a90" fill-opacity="0.79"/><ellipse cx="53.0" cy="57.2" rx="0.9" ry="0.7" fill="#5552a8" fill-opacity="0.89"/><ellipse cx="27.4" cy="26.2" rx="0.9" ry="0.7" fill="#6a68b8" fill-opacity="0.80"/><ellipse cx="33.4" cy="19.4" rx="0.8" ry="0.7" fill="#5552a8" fill-opacity="0.70"/><ellipse cx="7.2" cy="40.6" rx="1.3" ry="0.6" fill="#3f3a90" fill-opacity="0.81"/><ellipse cx="23.5" cy="33.3" rx="1.2" ry="0.8" fill="#3f3a90" fill-opacity="0.86"/><ellipse cx="16.2" cy="35.6" rx="1.1" ry="0.5" fill="#5552a8" fill-opacity="0.58"/><ellipse cx="46.0" cy="17.6" rx="0.8" ry="0.7" fill="#6a68b8" fill-opacity="0.70"/><ellipse cx="33.6" cy="31.6" rx="0.8" ry="0.8" fill="#5552a8" fill-opacity="0.86"/><ellipse cx="39.5" cy="23.8" rx="1.2" ry="0.7" fill="#5552a8" fill-opacity="0.52"/><ellipse cx="48.2" cy="62.1" rx="1.2" ry="1.0" fill="#2c2870" fill-opacity="0.66"/><ellipse cx="24.7" cy="37.0" rx="0.8" ry="1.1" fill="#4a4aa0" fill-opacity="0.82"/><ellipse cx="23.8" cy="42.6" rx="1.4" ry="0.5" fill="#6a68b8" fill-opacity="0.70"/><ellipse cx="25.2" cy="26.5" rx="0.7" ry="0.8" fill="#5552a8" fill-opacity="0.92"/><ellipse cx="44.9" cy="27.9" rx="0.8" ry="0.5" fill="#2c2870" fill-opacity="0.68"/><ellipse cx="8.7" cy="48.2" rx="1.2" ry="0.9" fill="#5552a8" fill-opacity="0.68"/><ellipse cx="2.6" cy="43.5" rx="0.9" ry="0.7" fill="#4a4aa0" fill-opacity="0.71"/><ellipse cx="5.8" cy="54.3" rx="1.3" ry="0.6" fill="#4a4aa0" fill-opacity="0.54"/><ellipse cx="48.2" cy="36.1" rx="1.3" ry="0.6" fill="#5552a8" fill-opacity="0.65"/><ellipse cx="55.2" cy="35.2" rx="1.4" ry="0.6" fill="#2c2870" fill-opacity="0.68"/><ellipse cx="3.2" cy="40.1" rx="0.9" ry="0.8" fill="#6a68b8" fill-opacity="0.50"/><ellipse cx="63.3" cy="17.6" rx="0.7" ry="0.7" fill="#6a68b8" fill-opacity="0.80"/><ellipse cx="19.1" cy="25.3" rx="1.2" ry="0.7" fill="#2c2870" fill-opacity="0.61"/><ellipse cx="24.3" cy="27.9" rx="0.8" ry="0.6" fill="#4a4aa0" fill-opacity="0.52"/><ellipse cx="34.4" cy="23.9" rx="1.2" ry="0.9" fill="#2c2870" fill-opacity="0.56"/><ellipse cx="59.5" cy="21.9" rx="1.4" ry="0.8" fill="#2c2870" fill-opacity="0.52"/><ellipse cx="20.1" cy="34.1" rx="1.5" ry="1.0" fill="#2c2870" fill-opacity="0.52"/><ellipse cx="14.1" cy="28.1" rx="1.2" ry="1.0" fill="#3f3a90" fill-opacity="0.77"/><ellipse cx="29.1" cy="59.8" rx="0.8" ry="0.6" fill="#2c2870" fill-opacity="0.58"/><ellipse cx="54.9" cy="8.0" rx="1.4" ry="0.5" fill="#3f3a90" fill-opacity="0.77"/><ellipse cx="11.5" cy="59.0" rx="1.3" ry="0.6" fill="#4a4aa0" fill-opacity="0.60"/><ellipse cx="46.1" cy="47.9" rx="1.1" ry="0.6" fill="#3f3a90" fill-opacity="0.85"/><ellipse cx="45.8" cy="33.0" rx="0.7" ry="1.0" fill="#2c2870" fill-opacity="0.93"/><ellipse cx="26.5" cy="42.2" rx="1.2" ry="0.8" fill="#6a68b8" fill-opacity="0.69"/><ellipse cx="55.6" cy="59.1" rx="0.6" ry="1.0" fill="#3f3a90" fill-opacity="0.63"/><ellipse cx="14.9" cy="37.3" rx="1.2" ry="0.9" fill="#6a68b8" fill-opacity="0.64"/><ellipse cx="16.5" cy="35.1" rx="0.7" ry="1.0" fill="#3f3a90" fill-opacity="0.94"/><ellipse cx="25.1" cy="2.1" rx="0.7" ry="0.7" fill="#2c2870" fill-opacity="0.79"/><ellipse cx="44.4" cy="12.7" rx="1.3" ry="0.8" fill="#3f3a90" fill-opacity="0.81"/><ellipse cx="7.3" cy="53.0" rx="1.2" ry="0.6" fill="#5552a8" fill-opacity="0.80"/><ellipse cx="33.6" cy="4.7" rx="0.9" ry="1.0" fill="#2c2870" fill-opacity="0.72"/><ellipse cx="59.5" cy="6.0" rx="0.9" ry="0.7" fill="#2c2870" fill-opacity="0.76"/><ellipse cx="48.4" cy="12.9" rx="0.8" ry="1.0" fill="#2c2870" fill-opacity="0.88"/><ellipse cx="14.5" cy="59.2" rx="1.1" ry="0.6" fill="#5552a8" fill-opacity="0.50"/><ellipse cx="12.4" cy="9.7" rx="0.6" ry="0.7" fill="#6a68b8" fill-opacity="0.70"/><ellipse cx="15.8" cy="47.5" rx="0.7" ry="1.0" fill="#3f3a90" fill-opacity="0.86"/><ellipse cx="46.3" cy="29.1" rx="0.7" ry="0.6" fill="#4a4aa0" fill-opacity="0.68"/><ellipse cx="2.3" cy="2.5" rx="0.7" ry="0.9" fill="#4a4aa0" fill-opacity="0.56"/><ellipse cx="37.0" cy="22.6" rx="1.3" ry="0.9" fill="#6a68b8" fill-opacity="0.66"/><ellipse cx="42.4" cy="5.8" rx="1.4" ry="1.0" fill="#5552a8" fill-opacity="0.72"/><ellipse cx="9.5" cy="6.0" rx="0.7" ry="0.8" fill="#3f3a90" fill-opacity="0.74"/><ellipse cx="7.5" cy="29.9" rx="1.1" ry="0.5" fill="#3f3a90" fill-opacity="0.62"/><ellipse cx="60.8" cy="18.1" rx="0.8" ry="0.6" fill="#4a4aa0" fill-opacity="0.61"/><ellipse cx="55.8" cy="32.1" rx="0.6" ry="1.1" fill="#5552a8" fill-opacity="0.72"/><ellipse cx="50.6" cy="36.5" rx="0.7" ry="0.6" fill="#3f3a90" fill-opacity="0.88"/><ellipse cx="63.9" cy="27.1" rx="1.1" ry="0.7" fill="#4a4aa0" fill-opacity="0.90"/><ellipse cx="5.4" cy="37.0" rx="0.8" ry="1.0" fill="#3f3a90" fill-opacity="0.73"/><ellipse cx="52.4" cy="52.6" rx="1.1" ry="1.1" fill="#5552a8" fill-opacity="0.52"/><ellipse cx="39.6" cy="44.3" rx="0.9" ry="1.0" fill="#6a68b8" fill-opacity="0.71"/><ellipse cx="58.9" cy="0.7" rx="1.3" ry="0.5" fill="#2c2870" fill-opacity="0.85"/><ellipse cx="9.5" cy="32.7" rx="0.7" ry="0.7" fill="#3f3a90" fill-opacity="0.56"/><ellipse cx="12.7" cy="14.1" rx="1.2" ry="0.5" fill="#6a68b8" fill-opacity="0.50"/><ellipse cx="56.4" cy="2.4" rx="1.3" ry="1.0" fill="#4a4aa0" fill-opacity="0.84"/><ellipse cx="40.7" cy="12.7" rx="1.4" ry="1.0" fill="#5552a8" fill-opacity="0.54"/><ellipse cx="45.9" cy="22.3" rx="1.3" ry="0.8" fill="#3f3a90" fill-opacity="0.85"/><ellipse cx="31.8" cy="16.6" rx="1.4" ry="0.9" fill="#6a68b8" fill-opacity="0.87"/><ellipse cx="51.3" cy="37.8" rx="0.9" ry="0.9" fill="#2c2870" fill-opacity="0.92"/><ellipse cx="32.8" cy="47.9" rx="1.1" ry="1.1" fill="#4a4aa0" fill-opacity="0.55"/><ellipse cx="62.0" cy="50.4" rx="1.3" ry="1.0" fill="#6a68b8" fill-opacity="0.61"/><ellipse cx="37.6" cy="35.9" rx="1.1" ry="1.1" fill="#2c2870" fill-opacity="0.90"/><ellipse cx="3.2" cy="42.5" rx="1.3" ry="0.9" fill="#2c2870" fill-opacity="0.92"/><ellipse cx="52.8" cy="26.0" rx="0.8" ry="0.9" fill="#5552a8" fill-opacity="0.86"/><ellipse cx="42.4" cy="57.9" rx="1.3" ry="0.5" fill="#2c2870" fill-opacity="0.72"/><ellipse cx="1.0" cy="7.1" rx="1.0" ry="0.9" fill="#2c2870" fill-opacity="0.71"/><ellipse cx="21.5" cy="13.7" rx="1.0" ry="0.8" fill="#6a68b8" fill-opacity="0.51"/></pattern><pattern id="cdark" width="64" height="64" patternUnits="userSpaceOnUse"><ellipse cx="21.5" cy="63.5" rx="1.2" ry="0.8" fill="#2a2670" fill-opacity="0.80"/><ellipse cx="51.7" cy="7.7" rx="0.9" ry="1.0" fill="#3a3688" fill-opacity="0.68"/><ellipse cx="21.3" cy="9.7" rx="0.8" ry="1.0" fill="#2a2670" fill-opacity="0.77"/><ellipse cx="57.2" cy="25.2" rx="0.9" ry="1.0" fill="#1e1c5a" fill-opacity="0.86"/><ellipse cx="38.8" cy="54.8" rx="1.0" ry="0.5" fill="#2a2670" fill-opacity="0.88"/><ellipse cx="6.6" cy="15.7" rx="1.3" ry="0.9" fill="#4a48a0" fill-opacity="0.94"/><ellipse cx="47.0" cy="48.2" rx="0.7" ry="1.0" fill="#1e1c5a" fill-opacity="0.61"/><ellipse cx="26.6" cy="32.9" rx="1.0" ry="1.1" fill="#4a48a0" fill-opacity="0.66"/><ellipse cx="42.3" cy="40.4" rx="1.4" ry="1.0" fill="#1e1c5a" fill-opacity="0.53"/><ellipse cx="41.9" cy="31.6" rx="0.7" ry="1.0" fill="#3a3688" fill-opacity="0.81"/><ellipse cx="35.7" cy="28.7" rx="1.3" ry="0.9" fill="#2a2670" fill-opacity="0.52"/><ellipse cx="20.8" cy="8.8" rx="0.7" ry="0.9" fill="#4a48a0" fill-opacity="0.76"/><ellipse cx="3.0" cy="25.1" rx="1.2" ry="0.6" fill="#4a48a0" fill-opacity="0.85"/><ellipse cx="1.7" cy="35.1" rx="1.2" ry="1.0" fill="#1e1c5a" fill-opacity="0.80"/><ellipse cx="24.4" cy="61.6" rx="1.2" ry="0.7" fill="#4a48a0" fill-opacity="0.57"/><ellipse cx="36.8" cy="52.9" rx="1.4" ry="0.6" fill="#4a48a0" fill-opacity="0.86"/><ellipse cx="3.9" cy="19.7" rx="1.2" ry="1.0" fill="#2a2670" fill-opacity="0.76"/><ellipse cx="62.2" cy="49.7" rx="1.5" ry="0.6" fill="#4a48a0" fill-opacity="0.64"/><ellipse cx="60.4" cy="12.6" rx="1.4" ry="0.7" fill="#4a48a0" fill-opacity="0.81"/><ellipse cx="23.2" cy="20.5" rx="0.8" ry="0.6" fill="#1e1c5a" fill-opacity="0.91"/><ellipse cx="28.8" cy="53.6" rx="1.3" ry="0.7" fill="#2a2670" fill-opacity="0.57"/><ellipse cx="48.5" cy="30.1" rx="1.3" ry="0.7" fill="#1e1c5a" fill-opacity="0.66"/><ellipse cx="58.7" cy="33.9" rx="1.4" ry="0.6" fill="#4a48a0" fill-opacity="0.70"/><ellipse cx="0.8" cy="34.1" rx="0.9" ry="1.1" fill="#4a48a0" fill-opacity="0.62"/><ellipse cx="15.6" cy="4.5" rx="1.3" ry="0.9" fill="#3a3688" fill-opacity="0.69"/><ellipse cx="51.7" cy="7.1" rx="0.7" ry="0.6" fill="#4a48a0" fill-opacity="0.83"/><ellipse cx="47.5" cy="7.5" rx="1.0" ry="1.1" fill="#1e1c5a" fill-opacity="0.83"/><ellipse cx="21.9" cy="25.1" rx="0.9" ry="0.6" fill="#4a48a0" fill-opacity="0.89"/><ellipse cx="34.0" cy="33.4" rx="0.7" ry="0.7" fill="#4a48a0" fill-opacity="0.53"/><ellipse cx="26.4" cy="32.1" rx="1.1" ry="0.7" fill="#2a2670" fill-opacity="0.76"/><ellipse cx="17.5" cy="54.1" rx="0.7" ry="0.9" fill="#2a2670" fill-opacity="0.84"/><ellipse cx="32.0" cy="57.5" rx="1.3" ry="1.0" fill="#3a3688" fill-opacity="0.79"/><ellipse cx="56.2" cy="8.4" rx="1.2" ry="0.7" fill="#1e1c5a" fill-opacity="0.53"/><ellipse cx="38.6" cy="52.8" rx="1.1" ry="1.0" fill="#4a48a0" fill-opacity="0.64"/><ellipse cx="23.0" cy="36.4" rx="0.9" ry="0.9" fill="#3a3688" fill-opacity="0.53"/><ellipse cx="53.7" cy="20.8" rx="1.0" ry="1.0" fill="#3a3688" fill-opacity="0.70"/><ellipse cx="32.2" cy="62.5" rx="0.6" ry="1.0" fill="#3a3688" fill-opacity="0.55"/><ellipse cx="14.4" cy="40.3" rx="1.5" ry="0.8" fill="#4a48a0" fill-opacity="0.60"/><ellipse cx="35.6" cy="52.5" rx="1.4" ry="1.0" fill="#4a48a0" fill-opacity="0.74"/><ellipse cx="2.0" cy="49.8" rx="1.3" ry="0.7" fill="#3a3688" fill-opacity="0.67"/><ellipse cx="61.1" cy="17.5" rx="1.1" ry="0.7" fill="#3a3688" fill-opacity="0.73"/><ellipse cx="37.7" cy="14.5" rx="1.3" ry="1.1" fill="#3a3688" fill-opacity="0.65"/><ellipse cx="63.1" cy="4.6" rx="1.1" ry="0.8" fill="#1e1c5a" fill-opacity="0.94"/><ellipse cx="56.3" cy="39.5" rx="0.9" ry="0.6" fill="#2a2670" fill-opacity="0.68"/><ellipse cx="18.1" cy="12.4" rx="1.0" ry="0.6" fill="#3a3688" fill-opacity="0.82"/><ellipse cx="12.6" cy="17.0" rx="1.3" ry="1.1" fill="#4a48a0" fill-opacity="0.91"/><ellipse cx="46.2" cy="46.0" rx="0.9" ry="0.8" fill="#3a3688" fill-opacity="0.88"/><ellipse cx="41.1" cy="47.8" rx="1.1" ry="0.9" fill="#4a48a0" fill-opacity="0.75"/><ellipse cx="20.2" cy="22.7" rx="0.6" ry="0.6" fill="#3a3688" fill-opacity="0.66"/><ellipse cx="57.5" cy="51.5" rx="1.3" ry="0.7" fill="#1e1c5a" fill-opacity="0.89"/><ellipse cx="23.3" cy="56.6" rx="1.5" ry="1.0" fill="#1e1c5a" fill-opacity="0.86"/><ellipse cx="30.5" cy="52.6" rx="1.4" ry="0.8" fill="#2a2670" fill-opacity="0.61"/><ellipse cx="24.9" cy="22.6" rx="1.4" ry="0.6" fill="#3a3688" fill-opacity="0.63"/><ellipse cx="52.2" cy="33.2" rx="0.7" ry="1.0" fill="#1e1c5a" fill-opacity="0.70"/><ellipse cx="8.9" cy="7.1" rx="0.6" ry="1.0" fill="#1e1c5a" fill-opacity="0.94"/><ellipse cx="5.5" cy="49.9" rx="1.4" ry="0.8" fill="#2a2670" fill-opacity="0.53"/><ellipse cx="20.7" cy="40.0" rx="1.0" ry="0.9" fill="#1e1c5a" fill-opacity="0.59"/><ellipse cx="15.6" cy="58.0" rx="1.4" ry="0.6" fill="#1e1c5a" fill-opacity="0.89"/><ellipse cx="60.5" cy="28.2" rx="1.3" ry="0.8" fill="#1e1c5a" fill-opacity="0.82"/><ellipse cx="55.1" cy="10.8" rx="1.2" ry="0.8" fill="#2a2670" fill-opacity="0.90"/><ellipse cx="38.8" cy="7.6" rx="1.1" ry="0.5" fill="#1e1c5a" fill-opacity="0.61"/><ellipse cx="63.2" cy="14.6" rx="1.1" ry="0.9" fill="#1e1c5a" fill-opacity="0.60"/><ellipse cx="47.3" cy="41.5" rx="0.7" ry="1.1" fill="#2a2670" fill-opacity="0.86"/><ellipse cx="2.4" cy="3.1" rx="1.4" ry="1.1" fill="#2a2670" fill-opacity="0.85"/><ellipse cx="2.8" cy="35.6" rx="0.8" ry="0.6" fill="#1e1c5a" fill-opacity="0.51"/><ellipse cx="48.5" cy="6.6" rx="0.8" ry="1.0" fill="#3a3688" fill-opacity="0.57"/><ellipse cx="32.8" cy="6.8" rx="1.4" ry="0.5" fill="#1e1c5a" fill-opacity="0.88"/><ellipse cx="35.6" cy="52.6" rx="1.2" ry="0.9" fill="#3a3688" fill-opacity="0.78"/><ellipse cx="29.3" cy="42.9" rx="0.6" ry="1.0" fill="#2a2670" fill-opacity="0.87"/><ellipse cx="29.3" cy="7.8" rx="1.2" ry="1.1" fill="#2a2670" fill-opacity="0.78"/><ellipse cx="5.5" cy="33.3" rx="0.7" ry="0.6" fill="#3a3688" fill-opacity="0.90"/><ellipse cx="63.0" cy="5.7" rx="0.9" ry="1.0" fill="#4a48a0" fill-opacity="0.57"/><ellipse cx="38.8" cy="62.6" rx="0.6" ry="0.5" fill="#2a2670" fill-opacity="0.55"/><ellipse cx="44.3" cy="38.3" rx="1.0" ry="0.7" fill="#1e1c5a" fill-opacity="0.77"/><ellipse cx="41.5" cy="58.6" rx="1.4" ry="1.0" fill="#3a3688" fill-opacity="0.82"/><ellipse cx="2.0" cy="43.6" rx="1.3" ry="0.5" fill="#1e1c5a" fill-opacity="0.78"/><ellipse cx="18.8" cy="16.3" rx="0.8" ry="0.7" fill="#2a2670" fill-opacity="0.66"/><ellipse cx="20.8" cy="6.1" rx="0.7" ry="1.1" fill="#1e1c5a" fill-opacity="0.80"/><ellipse cx="30.3" cy="39.9" rx="0.8" ry="0.6" fill="#4a48a0" fill-opacity="0.69"/><ellipse cx="1.3" cy="14.8" rx="1.4" ry="0.7" fill="#4a48a0" fill-opacity="0.85"/><ellipse cx="49.6" cy="56.9" rx="1.1" ry="0.6" fill="#3a3688" fill-opacity="0.87"/><ellipse cx="20.1" cy="40.1" rx="0.7" ry="0.6" fill="#4a48a0" fill-opacity="0.71"/><ellipse cx="13.5" cy="3.4" rx="1.4" ry="0.7" fill="#2a2670" fill-opacity="0.91"/><ellipse cx="44.1" cy="61.9" rx="1.2" ry="0.6" fill="#3a3688" fill-opacity="0.84"/><ellipse cx="56.7" cy="45.7" rx="1.2" ry="1.1" fill="#1e1c5a" fill-opacity="0.58"/><ellipse cx="28.0" cy="44.0" rx="1.3" ry="0.6" fill="#4a48a0" fill-opacity="0.62"/><ellipse cx="1.8" cy="44.2" rx="1.2" ry="0.9" fill="#2a2670" fill-opacity="0.80"/><ellipse cx="47.4" cy="9.1" rx="1.1" ry="0.9" fill="#3a3688" fill-opacity="0.64"/><ellipse cx="4.1" cy="4.3" rx="0.7" ry="0.5" fill="#3a3688" fill-opacity="0.75"/><ellipse cx="46.2" cy="41.5" rx="1.4" ry="0.8" fill="#4a48a0" fill-opacity="0.90"/><ellipse cx="16.3" cy="25.3" rx="1.0" ry="0.9" fill="#2a2670" fill-opacity="0.54"/><ellipse cx="59.7" cy="21.9" rx="0.6" ry="1.0" fill="#2a2670" fill-opacity="0.60"/><ellipse cx="54.7" cy="51.4" rx="0.8" ry="0.5" fill="#4a48a0" fill-opacity="0.59"/><ellipse cx="57.9" cy="10.1" rx="1.2" ry="0.6" fill="#4a48a0" fill-opacity="0.56"/><ellipse cx="6.2" cy="62.9" rx="0.8" ry="0.6" fill="#1e1c5a" fill-opacity="0.76"/><ellipse cx="4.0" cy="18.9" rx="1.4" ry="0.6" fill="#4a48a0" fill-opacity="0.93"/><ellipse cx="23.3" cy="46.2" rx="0.9" ry="0.9" fill="#2a2670" fill-opacity="0.67"/><ellipse cx="10.6" cy="42.4" rx="1.4" ry="0.6" fill="#2a2670" fill-opacity="0.84"/><ellipse cx="59.7" cy="1.9" rx="1.4" ry="1.0" fill="#2a2670" fill-opacity="0.88"/><ellipse cx="15.4" cy="57.1" rx="1.4" ry="0.5" fill="#4a48a0" fill-opacity="0.80"/><ellipse cx="53.5" cy="15.0" rx="1.0" ry="0.8" fill="#3a3688" fill-opacity="0.55"/><ellipse cx="35.5" cy="31.5" rx="0.7" ry="0.8" fill="#1e1c5a" fill-opacity="0.58"/><ellipse cx="14.8" cy="28.2" rx="0.8" ry="0.7" fill="#3a3688" fill-opacity="0.70"/><ellipse cx="15.3" cy="21.7" rx="0.7" ry="0.6" fill="#3a3688" fill-opacity="0.83"/><ellipse cx="36.0" cy="55.7" rx="0.7" ry="1.1" fill="#1e1c5a" fill-opacity="0.74"/><ellipse cx="15.3" cy="10.9" rx="0.8" ry="0.5" fill="#4a48a0" fill-opacity="0.62"/><ellipse cx="59.1" cy="29.5" rx="0.7" ry="0.8" fill="#2a2670" fill-opacity="0.64"/><ellipse cx="13.1" cy="42.4" rx="0.7" ry="0.9" fill="#4a48a0" fill-opacity="0.71"/><ellipse cx="16.5" cy="32.6" rx="1.2" ry="0.9" fill="#3a3688" fill-opacity="0.51"/><ellipse cx="41.5" cy="49.4" rx="1.2" ry="0.6" fill="#2a2670" fill-opacity="0.86"/><ellipse cx="60.5" cy="47.4" rx="1.2" ry="0.9" fill="#4a48a0" fill-opacity="0.81"/><ellipse cx="1.0" cy="29.3" rx="1.0" ry="1.0" fill="#3a3688" fill-opacity="0.63"/><ellipse cx="62.4" cy="53.7" rx="1.3" ry="0.8" fill="#4a48a0" fill-opacity="0.92"/><ellipse cx="25.7" cy="43.5" rx="0.9" ry="0.8" fill="#3a3688" fill-opacity="0.53"/><ellipse cx="23.9" cy="54.6" rx="1.2" ry="0.6" fill="#1e1c5a" fill-opacity="0.91"/><ellipse cx="12.3" cy="30.1" rx="1.5" ry="0.8" fill="#4a48a0" fill-opacity="0.60"/><ellipse cx="61.5" cy="20.6" rx="0.8" ry="0.7" fill="#1e1c5a" fill-opacity="0.82"/><ellipse cx="36.4" cy="49.3" rx="1.3" ry="0.5" fill="#2a2670" fill-opacity="0.77"/><ellipse cx="16.5" cy="29.1" rx="0.7" ry="0.6" fill="#1e1c5a" fill-opacity="0.55"/><ellipse cx="61.5" cy="9.5" rx="1.5" ry="0.6" fill="#2a2670" fill-opacity="0.64"/><ellipse cx="48.2" cy="10.7" rx="0.8" ry="0.9" fill="#1e1c5a" fill-opacity="0.70"/><ellipse cx="26.2" cy="56.9" rx="1.4" ry="1.1" fill="#2a2670" fill-opacity="0.62"/><ellipse cx="60.3" cy="26.1" rx="1.0" ry="1.0" fill="#3a3688" fill-opacity="0.94"/><ellipse cx="57.9" cy="4.5" rx="1.4" ry="0.8" fill="#2a2670" fill-opacity="0.74"/><ellipse cx="54.3" cy="51.7" rx="1.0" ry="0.8" fill="#3a3688" fill-opacity="0.74"/><ellipse cx="43.5" cy="23.7" rx="1.0" ry="0.9" fill="#2a2670" fill-opacity="0.61"/><ellipse cx="24.4" cy="55.0" rx="1.2" ry="0.7" fill="#4a48a0" fill-opacity="0.93"/><ellipse cx="16.5" cy="52.6" rx="1.2" ry="0.8" fill="#3a3688" fill-opacity="0.80"/><ellipse cx="51.2" cy="0.6" rx="0.9" ry="1.0" fill="#1e1c5a" fill-opacity="0.93"/><ellipse cx="56.9" cy="29.8" rx="1.3" ry="0.6" fill="#4a48a0" fill-opacity="0.69"/><ellipse cx="61.3" cy="13.3" rx="1.0" ry="0.6" fill="#1e1c5a" fill-opacity="0.84"/><ellipse cx="23.7" cy="45.3" rx="1.2" ry="1.0" fill="#1e1c5a" fill-opacity="0.56"/><ellipse cx="14.2" cy="13.8" rx="0.7" ry="0.8" fill="#4a48a0" fill-opacity="0.90"/><ellipse cx="39.4" cy="41.4" rx="1.1" ry="1.1" fill="#1e1c5a" fill-opacity="0.76"/><ellipse cx="22.8" cy="45.1" rx="0.9" ry="1.0" fill="#1e1c5a" fill-opacity="0.81"/><ellipse cx="43.3" cy="50.0" rx="0.9" ry="1.1" fill="#1e1c5a" fill-opacity="0.85"/><ellipse cx="53.5" cy="41.1" rx="1.2" ry="1.1" fill="#2a2670" fill-opacity="0.59"/><ellipse cx="49.0" cy="19.3" rx="0.7" ry="0.5" fill="#4a48a0" fill-opacity="0.70"/><ellipse cx="42.6" cy="49.1" rx="0.8" ry="0.5" fill="#3a3688" fill-opacity="0.74"/><ellipse cx="46.4" cy="17.4" rx="1.3" ry="1.0" fill="#3a3688" fill-opacity="0.54"/><ellipse cx="15.9" cy="11.1" rx="0.8" ry="0.9" fill="#2a2670" fill-opacity="0.94"/><ellipse cx="1.2" cy="7.3" rx="1.5" ry="0.6" fill="#3a3688" fill-opacity="0.65"/><ellipse cx="33.4" cy="20.5" rx="1.3" ry="1.0" fill="#1e1c5a" fill-opacity="0.65"/><ellipse cx="59.3" cy="16.9" rx="0.7" ry="0.9" fill="#4a48a0" fill-opacity="0.81"/><ellipse cx="16.8" cy="50.7" rx="0.9" ry="0.8" fill="#4a48a0" fill-opacity="0.58"/><ellipse cx="59.5" cy="35.9" rx="1.3" ry="1.0" fill="#3a3688" fill-opacity="0.69"/><ellipse cx="18.9" cy="1.1" rx="1.3" ry="1.0" fill="#4a48a0" fill-opacity="0.54"/><ellipse cx="37.5" cy="12.2" rx="1.3" ry="1.0" fill="#1e1c5a" fill-opacity="0.60"/><ellipse cx="6.0" cy="42.5" rx="0.7" ry="0.6" fill="#1e1c5a" fill-opacity="0.76"/><ellipse cx="6.9" cy="40.6" rx="1.3" ry="0.8" fill="#2a2670" fill-opacity="0.73"/><ellipse cx="21.2" cy="3.7" rx="1.3" ry="0.6" fill="#2a2670" fill-opacity="0.63"/><ellipse cx="40.9" cy="44.2" rx="1.4" ry="0.6" fill="#2a2670" fill-opacity="0.64"/><ellipse cx="42.4" cy="16.7" rx="0.7" ry="0.8" fill="#2a2670" fill-opacity="0.65"/><ellipse cx="45.1" cy="43.6" rx="1.0" ry="0.8" fill="#4a48a0" fill-opacity="0.64"/><ellipse cx="49.6" cy="20.2" rx="0.6" ry="0.8" fill="#4a48a0" fill-opacity="0.57"/><ellipse cx="59.6" cy="56.1" rx="0.6" ry="0.7" fill="#1e1c5a" fill-opacity="0.85"/><ellipse cx="46.0" cy="55.7" rx="1.1" ry="1.0" fill="#1e1c5a" fill-opacity="0.55"/><ellipse cx="4.5" cy="24.8" rx="0.7" ry="1.0" fill="#1e1c5a" fill-opacity="0.73"/><ellipse cx="28.8" cy="54.5" rx="1.3" ry="0.7" fill="#1e1c5a" fill-opacity="0.70"/><ellipse cx="59.4" cy="59.8" rx="0.7" ry="0.8" fill="#3a3688" fill-opacity="0.79"/><ellipse cx="17.8" cy="2.4" rx="0.7" ry="0.9" fill="#2a2670" fill-opacity="0.52"/><ellipse cx="42.1" cy="54.6" rx="1.0" ry="0.6" fill="#4a48a0" fill-opacity="0.68"/><ellipse cx="6.0" cy="61.7" rx="0.6" ry="1.0" fill="#3a3688" fill-opacity="0.80"/><ellipse cx="33.9" cy="44.8" rx="0.7" ry="0.8" fill="#4a48a0" fill-opacity="0.87"/><ellipse cx="10.8" cy="11.1" rx="1.2" ry="0.7" fill="#1e1c5a" fill-opacity="0.90"/><ellipse cx="29.3" cy="35.3" rx="0.8" ry="0.9" fill="#3a3688" fill-opacity="0.90"/><ellipse cx="57.9" cy="30.3" rx="1.1" ry="0.7" fill="#2a2670" fill-opacity="0.71"/><ellipse cx="45.8" cy="47.0" rx="1.3" ry="1.0" fill="#2a2670" fill-opacity="0.72"/><ellipse cx="55.5" cy="32.8" rx="0.6" ry="0.8" fill="#2a2670" fill-opacity="0.87"/><ellipse cx="44.5" cy="62.5" rx="0.9" ry="0.9" fill="#4a48a0" fill-opacity="0.88"/><ellipse cx="43.7" cy="42.2" rx="1.3" ry="1.0" fill="#3a3688" fill-opacity="0.76"/><ellipse cx="0.7" cy="48.9" rx="1.4" ry="1.1" fill="#3a3688" fill-opacity="0.65"/><ellipse cx="54.3" cy="52.4" rx="1.5" ry="0.7" fill="#4a48a0" fill-opacity="0.78"/><ellipse cx="25.2" cy="18.2" rx="0.6" ry="0.9" fill="#2a2670" fill-opacity="0.84"/><ellipse cx="49.3" cy="36.3" rx="1.3" ry="0.9" fill="#2a2670" fill-opacity="0.52"/><ellipse cx="56.9" cy="11.0" rx="1.3" ry="0.7" fill="#2a2670" fill-opacity="0.80"/><ellipse cx="24.4" cy="53.7" rx="0.8" ry="0.9" fill="#2a2670" fill-opacity="0.80"/><ellipse cx="3.5" cy="57.3" rx="1.4" ry="1.0" fill="#2a2670" fill-opacity="0.56"/><ellipse cx="60.0" cy="47.6" rx="1.3" ry="1.0" fill="#3a3688" fill-opacity="0.94"/><ellipse cx="60.6" cy="30.1" rx="1.3" ry="1.0" fill="#1e1c5a" fill-opacity="0.60"/><ellipse cx="21.8" cy="16.0" rx="0.7" ry="1.0" fill="#3a3688" fill-opacity="0.91"/><ellipse cx="1.6" cy="23.7" rx="1.0" ry="0.5" fill="#3a3688" fill-opacity="0.89"/><ellipse cx="41.0" cy="19.9" rx="1.5" ry="0.7" fill="#1e1c5a" fill-opacity="0.78"/><ellipse cx="57.3" cy="30.1" rx="1.3" ry="0.7" fill="#4a48a0" fill-opacity="0.89"/><ellipse cx="36.7" cy="6.8" rx="1.0" ry="0.7" fill="#3a3688" fill-opacity="0.90"/><ellipse cx="42.6" cy="13.3" rx="1.1" ry="1.1" fill="#4a48a0" fill-opacity="0.80"/><ellipse cx="55.2" cy="41.9" rx="1.0" ry="0.8" fill="#3a3688" fill-opacity="0.51"/><ellipse cx="8.4" cy="63.9" rx="1.1" ry="1.0" fill="#2a2670" fill-opacity="0.85"/><ellipse cx="22.8" cy="14.2" rx="0.8" ry="1.0" fill="#3a3688" fill-opacity="0.95"/><ellipse cx="27.7" cy="24.4" rx="1.4" ry="0.6" fill="#3a3688" fill-opacity="0.64"/><ellipse cx="21.1" cy="46.9" rx="1.0" ry="1.0" fill="#2a2670" fill-opacity="0.50"/><ellipse cx="55.8" cy="38.7" rx="1.5" ry="0.8" fill="#1e1c5a" fill-opacity="0.86"/><ellipse cx="11.7" cy="58.3" rx="1.4" ry="0.7" fill="#3a3688" fill-opacity="0.92"/><ellipse cx="13.3" cy="1.5" rx="1.1" ry="1.1" fill="#2a2670" fill-opacity="0.75"/><ellipse cx="9.2" cy="40.4" rx="1.0" ry="0.9" fill="#3a3688" fill-opacity="0.62"/><ellipse cx="17.7" cy="26.9" rx="0.6" ry="1.0" fill="#1e1c5a" fill-opacity="0.86"/><ellipse cx="57.8" cy="10.6" rx="1.1" ry="0.6" fill="#2a2670" fill-opacity="0.87"/><ellipse cx="14.9" cy="11.2" rx="1.5" ry="0.9" fill="#2a2670" fill-opacity="0.55"/><ellipse cx="29.6" cy="38.0" rx="0.8" ry="1.0" fill="#2a2670" fill-opacity="0.92"/><ellipse cx="3.4" cy="60.4" rx="1.4" ry="1.0" fill="#1e1c5a" fill-opacity="0.90"/><ellipse cx="35.8" cy="26.6" rx="1.0" ry="0.9" fill="#4a48a0" fill-opacity="0.95"/><ellipse cx="21.5" cy="49.1" rx="1.5" ry="0.6" fill="#2a2670" fill-opacity="0.89"/><ellipse cx="22.8" cy="27.9" rx="0.7" ry="0.6" fill="#4a48a0" fill-opacity="0.54"/><ellipse cx="12.4" cy="20.2" rx="0.8" ry="0.8" fill="#4a48a0" fill-opacity="0.70"/><ellipse cx="62.3" cy="31.1" rx="1.0" ry="0.6" fill="#4a48a0" fill-opacity="0.77"/><ellipse cx="9.3" cy="10.8" rx="0.9" ry="0.7" fill="#3a3688" fill-opacity="0.53"/><ellipse cx="6.4" cy="47.0" rx="0.9" ry="0.9" fill="#4a48a0" fill-opacity="0.68"/><ellipse cx="9.7" cy="55.3" rx="0.6" ry="1.0" fill="#3a3688" fill-opacity="0.71"/><ellipse cx="32.6" cy="45.6" rx="1.5" ry="0.9" fill="#1e1c5a" fill-opacity="0.57"/><ellipse cx="41.8" cy="47.8" rx="1.5" ry="0.6" fill="#3a3688" fill-opacity="0.66"/><ellipse cx="54.5" cy="50.6" rx="0.9" ry="1.1" fill="#2a2670" fill-opacity="0.75"/><ellipse cx="25.8" cy="11.7" rx="0.7" ry="1.0" fill="#3a3688" fill-opacity="0.94"/><ellipse cx="39.4" cy="51.6" rx="1.0" ry="0.7" fill="#1e1c5a" fill-opacity="0.90"/><ellipse cx="22.4" cy="34.0" rx="1.2" ry="0.8" fill="#4a48a0" fill-opacity="0.65"/><ellipse cx="24.8" cy="39.0" rx="0.6" ry="1.0" fill="#4a48a0" fill-opacity="0.53"/><ellipse cx="51.9" cy="40.2" rx="0.8" ry="0.7" fill="#3a3688" fill-opacity="0.87"/><ellipse cx="10.3" cy="44.2" rx="0.7" ry="0.6" fill="#3a3688" fill-opacity="0.83"/><ellipse cx="9.0" cy="19.9" rx="0.7" ry="0.7" fill="#2a2670" fill-opacity="0.83"/><ellipse cx="46.1" cy="58.3" rx="1.1" ry="1.1" fill="#2a2670" fill-opacity="0.54"/><ellipse cx="59.2" cy="27.8" rx="0.6" ry="0.8" fill="#2a2670" fill-opacity="0.83"/><ellipse cx="27.0" cy="40.3" rx="1.1" ry="1.1" fill="#2a2670" fill-opacity="0.52"/><ellipse cx="3.6" cy="8.0" rx="0.9" ry="0.9" fill="#3a3688" fill-opacity="0.58"/><ellipse cx="29.7" cy="6.9" rx="1.1" ry="0.9" fill="#2a2670" fill-opacity="0.94"/><ellipse cx="23.1" cy="62.7" rx="0.9" ry="0.7" fill="#1e1c5a" fill-opacity="0.70"/><ellipse cx="30.9" cy="1.6" rx="0.7" ry="1.0" fill="#2a2670" fill-opacity="0.86"/><ellipse cx="40.1" cy="41.9" rx="1.1" ry="0.9" fill="#1e1c5a" fill-opacity="0.52"/><ellipse cx="28.1" cy="50.6" rx="1.0" ry="1.0" fill="#3a3688" fill-opacity="0.77"/><ellipse cx="21.6" cy="25.3" rx="1.4" ry="1.0" fill="#2a2670" fill-opacity="0.75"/><ellipse cx="9.1" cy="11.2" rx="0.7" ry="0.9" fill="#1e1c5a" fill-opacity="0.73"/><ellipse cx="59.1" cy="44.9" rx="1.4" ry="0.7" fill="#3a3688" fill-opacity="0.82"/><ellipse cx="12.1" cy="24.4" rx="0.9" ry="0.8" fill="#1e1c5a" fill-opacity="0.76"/><ellipse cx="62.7" cy="10.3" rx="0.8" ry="1.1" fill="#1e1c5a" fill-opacity="0.59"/><ellipse cx="42.5" cy="39.3" rx="1.5" ry="0.9" fill="#3a3688" fill-opacity="0.64"/><ellipse cx="48.5" cy="16.8" rx="0.7" ry="1.0" fill="#4a48a0" fill-opacity="0.72"/><ellipse cx="17.6" cy="59.1" rx="1.0" ry="1.0" fill="#3a3688" fill-opacity="0.52"/><ellipse cx="27.4" cy="5.3" rx="1.4" ry="0.9" fill="#1e1c5a" fill-opacity="0.69"/><ellipse cx="59.7" cy="5.6" rx="0.7" ry="0.7" fill="#2a2670" fill-opacity="0.55"/><ellipse cx="55.8" cy="28.3" rx="0.7" ry="0.8" fill="#4a48a0" fill-opacity="0.67"/><ellipse cx="2.3" cy="53.4" rx="0.8" ry="0.9" fill="#4a48a0" fill-opacity="0.63"/><ellipse cx="23.7" cy="58.9" rx="1.3" ry="0.9" fill="#1e1c5a" fill-opacity="0.79"/><ellipse cx="17.8" cy="41.2" rx="1.0" ry="1.1" fill="#4a48a0" fill-opacity="0.71"/><ellipse cx="7.6" cy="47.9" rx="1.3" ry="0.7" fill="#2a2670" fill-opacity="0.77"/><ellipse cx="55.4" cy="47.2" rx="0.9" ry="1.0" fill="#2a2670" fill-opacity="0.89"/><ellipse cx="16.6" cy="32.4" rx="1.0" ry="0.6" fill="#1e1c5a" fill-opacity="0.88"/><ellipse cx="57.2" cy="2.2" rx="1.1" ry="1.0" fill="#1e1c5a" fill-opacity="0.54"/><ellipse cx="18.6" cy="53.8" rx="1.5" ry="0.9" fill="#2a2670" fill-opacity="0.84"/><ellipse cx="41.3" cy="53.7" rx="0.9" ry="0.6" fill="#4a48a0" fill-opacity="0.92"/><ellipse cx="30.3" cy="50.3" rx="0.8" ry="0.5" fill="#4a48a0" fill-opacity="0.57"/><ellipse cx="63.8" cy="19.3" rx="1.2" ry="0.8" fill="#3a3688" fill-opacity="0.88"/><ellipse cx="28.4" cy="6.3" rx="1.3" ry="0.9" fill="#1e1c5a" fill-opacity="0.84"/><ellipse cx="14.9" cy="29.7" rx="1.4" ry="0.6" fill="#2a2670" fill-opacity="0.81"/><ellipse cx="35.5" cy="25.9" rx="1.4" ry="1.0" fill="#2a2670" fill-opacity="0.71"/><ellipse cx="59.7" cy="36.0" rx="1.1" ry="1.0" fill="#3a3688" fill-opacity="0.77"/><ellipse cx="10.4" cy="56.7" rx="0.9" ry="0.6" fill="#4a48a0" fill-opacity="0.94"/><ellipse cx="31.9" cy="18.1" rx="0.9" ry="0.8" fill="#4a48a0" fill-opacity="0.64"/><ellipse cx="1.8" cy="13.1" rx="1.5" ry="0.8" fill="#3a3688" fill-opacity="0.67"/><ellipse cx="49.8" cy="60.0" rx="1.0" ry="1.1" fill="#4a48a0" fill-opacity="0.59"/><ellipse cx="61.3" cy="42.6" rx="0.9" ry="0.9" fill="#2a2670" fill-opacity="0.64"/><ellipse cx="62.0" cy="15.6" rx="1.0" ry="0.6" fill="#3a3688" fill-opacity="0.53"/><ellipse cx="33.0" cy="42.4" rx="1.2" ry="0.9" fill="#2a2670" fill-opacity="0.92"/><ellipse cx="63.5" cy="43.4" rx="0.8" ry="1.1" fill="#3a3688" fill-opacity="0.54"/><ellipse cx="18.0" cy="57.3" rx="1.1" ry="0.7" fill="#3a3688" fill-opacity="0.82"/><ellipse cx="34.1" cy="11.6" rx="1.5" ry="1.0" fill="#2a2670" fill-opacity="0.60"/><ellipse cx="13.5" cy="7.8" rx="1.2" ry="0.7" fill="#4a48a0" fill-opacity="0.95"/><ellipse cx="1.7" cy="38.2" rx="0.7" ry="0.9" fill="#1e1c5a" fill-opacity="0.62"/><ellipse cx="9.5" cy="23.3" rx="1.5" ry="1.1" fill="#3a3688" fill-opacity="0.95"/><ellipse cx="39.9" cy="41.8" rx="0.9" ry="0.7" fill="#2a2670" fill-opacity="0.56"/><ellipse cx="58.8" cy="23.7" rx="0.7" ry="0.6" fill="#2a2670" fill-opacity="0.55"/><ellipse cx="51.0" cy="8.0" rx="1.1" ry="0.8" fill="#4a48a0" fill-opacity="0.75"/><ellipse cx="26.4" cy="34.8" rx="1.3" ry="0.6" fill="#3a3688" fill-opacity="0.56"/><ellipse cx="59.2" cy="0.4" rx="0.8" ry="0.6" fill="#4a48a0" fill-opacity="0.71"/><ellipse cx="24.8" cy="21.5" rx="0.8" ry="0.9" fill="#3a3688" fill-opacity="0.88"/><ellipse cx="29.0" cy="32.2" rx="1.1" ry="0.6" fill="#3a3688" fill-opacity="0.53"/><ellipse cx="5.3" cy="21.2" rx="0.9" ry="0.5" fill="#3a3688" fill-opacity="0.84"/><ellipse cx="4.7" cy="49.9" rx="0.8" ry="0.6" fill="#1e1c5a" fill-opacity="0.64"/><ellipse cx="20.8" cy="58.2" rx="1.4" ry="0.9" fill="#1e1c5a" fill-opacity="0.72"/><ellipse cx="63.3" cy="47.0" rx="1.3" ry="1.0" fill="#2a2670" fill-opacity="0.63"/><ellipse cx="2.5" cy="3.1" rx="1.1" ry="0.6" fill="#2a2670" fill-opacity="0.80"/><ellipse cx="27.7" cy="42.3" rx="0.8" ry="0.8" fill="#3a3688" fill-opacity="0.82"/><ellipse cx="42.4" cy="6.5" rx="0.7" ry="0.9" fill="#1e1c5a" fill-opacity="0.95"/><ellipse cx="21.4" cy="17.0" rx="0.8" ry="0.7" fill="#4a48a0" fill-opacity="0.81"/><ellipse cx="27.6" cy="10.0" rx="0.7" ry="0.6" fill="#3a3688" fill-opacity="0.62"/><ellipse cx="40.2" cy="24.5" rx="0.8" ry="0.6" fill="#1e1c5a" fill-opacity="0.92"/><ellipse cx="36.0" cy="28.7" rx="1.4" ry="1.0" fill="#3a3688" fill-opacity="0.71"/><ellipse cx="9.0" cy="31.0" rx="1.2" ry="0.5" fill="#2a2670" fill-opacity="0.58"/><ellipse cx="63.0" cy="46.0" rx="0.7" ry="0.7" fill="#3a3688" fill-opacity="0.52"/><ellipse cx="37.3" cy="46.3" rx="0.8" ry="1.0" fill="#4a48a0" fill-opacity="0.68"/><ellipse cx="53.0" cy="10.4" rx="1.0" ry="0.5" fill="#1e1c5a" fill-opacity="0.54"/><ellipse cx="46.5" cy="55.3" rx="1.2" ry="0.7" fill="#2a2670" fill-opacity="0.55"/><ellipse cx="51.7" cy="5.9" rx="0.6" ry="0.5" fill="#2a2670" fill-opacity="0.66"/><ellipse cx="56.0" cy="63.8" rx="1.4" ry="0.9" fill="#4a48a0" fill-opacity="0.75"/><ellipse cx="59.8" cy="28.3" rx="0.9" ry="0.6" fill="#2a2670" fill-opacity="0.83"/><ellipse cx="8.1" cy="22.7" rx="1.2" ry="0.9" fill="#2a2670" fill-opacity="0.56"/><ellipse cx="1.4" cy="27.5" rx="0.6" ry="0.7" fill="#2a2670" fill-opacity="0.55"/><ellipse cx="40.2" cy="28.5" rx="1.1" ry="0.6" fill="#4a48a0" fill-opacity="0.92"/><ellipse cx="32.7" cy="24.0" rx="0.9" ry="1.0" fill="#4a48a0" fill-opacity="0.51"/><ellipse cx="16.4" cy="20.5" rx="1.3" ry="1.0" fill="#2a2670" fill-opacity="0.82"/><ellipse cx="29.1" cy="5.5" rx="1.3" ry="0.6" fill="#4a48a0" fill-opacity="0.61"/><ellipse cx="50.2" cy="41.9" rx="1.2" ry="0.9" fill="#4a48a0" fill-opacity="0.62"/><ellipse cx="3.9" cy="23.1" rx="1.0" ry="0.9" fill="#3a3688" fill-opacity="0.90"/><ellipse cx="55.6" cy="19.6" rx="0.9" ry="0.8" fill="#2a2670" fill-opacity="0.82"/><ellipse cx="47.2" cy="11.9" rx="0.9" ry="0.7" fill="#3a3688" fill-opacity="0.72"/><ellipse cx="45.6" cy="57.3" rx="1.4" ry="0.8" fill="#1e1c5a" fill-opacity="0.69"/><ellipse cx="20.1" cy="62.3" rx="1.2" ry="0.7" fill="#2a2670" fill-opacity="0.53"/><ellipse cx="43.2" cy="15.7" rx="1.4" ry="1.0" fill="#3a3688" fill-opacity="0.69"/><ellipse cx="12.3" cy="49.5" rx="1.1" ry="0.6" fill="#4a48a0" fill-opacity="0.62"/><ellipse cx="32.7" cy="63.7" rx="1.5" ry="0.7" fill="#4a48a0" fill-opacity="0.58"/><ellipse cx="50.1" cy="47.1" rx="1.3" ry="0.7" fill="#3a3688" fill-opacity="0.81"/><ellipse cx="40.0" cy="12.1" rx="1.1" ry="0.8" fill="#3a3688" fill-opacity="0.60"/><ellipse cx="6.3" cy="45.3" rx="0.8" ry="0.9" fill="#2a2670" fill-opacity="0.76"/><ellipse cx="20.6" cy="2.3" rx="1.1" ry="1.0" fill="#4a48a0" fill-opacity="0.54"/><ellipse cx="29.5" cy="15.2" rx="0.9" ry="0.7" fill="#1e1c5a" fill-opacity="0.66"/><ellipse cx="57.7" cy="7.4" rx="0.8" ry="1.0" fill="#1e1c5a" fill-opacity="0.61"/><ellipse cx="37.6" cy="24.1" rx="1.1" ry="0.8" fill="#3a3688" fill-opacity="0.64"/><ellipse cx="30.0" cy="45.7" rx="1.5" ry="0.5" fill="#1e1c5a" fill-opacity="0.67"/><ellipse cx="14.6" cy="40.0" rx="1.1" ry="0.7" fill="#1e1c5a" fill-opacity="0.86"/><ellipse cx="6.7" cy="16.6" rx="1.4" ry="1.0" fill="#1e1c5a" fill-opacity="0.64"/><ellipse cx="55.8" cy="44.4" rx="0.7" ry="0.6" fill="#3a3688" fill-opacity="0.67"/><ellipse cx="27.7" cy="32.5" rx="1.4" ry="0.7" fill="#4a48a0" fill-opacity="0.67"/><ellipse cx="45.6" cy="6.4" rx="0.7" ry="0.7" fill="#1e1c5a" fill-opacity="0.74"/><ellipse cx="14.1" cy="24.8" rx="1.1" ry="0.8" fill="#4a48a0" fill-opacity="0.62"/><ellipse cx="48.7" cy="39.6" rx="1.4" ry="0.7" fill="#4a48a0" fill-opacity="0.94"/><ellipse cx="41.1" cy="8.8" rx="0.9" ry="0.8" fill="#3a3688" fill-opacity="0.93"/><ellipse cx="23.1" cy="25.7" rx="1.5" ry="0.6" fill="#2a2670" fill-opacity="0.74"/><ellipse cx="23.1" cy="16.5" rx="1.3" ry="0.8" fill="#2a2670" fill-opacity="0.87"/><ellipse cx="24.0" cy="46.9" rx="0.9" ry="1.0" fill="#3a3688" fill-opacity="0.64"/><ellipse cx="25.7" cy="2.7" rx="1.3" ry="0.8" fill="#1e1c5a" fill-opacity="0.53"/><ellipse cx="11.2" cy="11.9" rx="1.2" ry="1.0" fill="#2a2670" fill-opacity="0.80"/><ellipse cx="55.7" cy="18.6" rx="1.2" ry="0.9" fill="#2a2670" fill-opacity="0.55"/><ellipse cx="17.5" cy="19.3" rx="1.1" ry="0.9" fill="#2a2670" fill-opacity="0.85"/><ellipse cx="36.6" cy="14.2" rx="1.3" ry="0.7" fill="#1e1c5a" fill-opacity="0.56"/><ellipse cx="54.6" cy="31.6" rx="1.3" ry="0.9" fill="#2a2670" fill-opacity="0.55"/><ellipse cx="39.2" cy="2.1" rx="0.8" ry="1.0" fill="#2a2670" fill-opacity="0.58"/><ellipse cx="53.0" cy="33.3" rx="1.2" ry="0.6" fill="#3a3688" fill-opacity="0.54"/><ellipse cx="52.9" cy="29.1" rx="1.4" ry="0.6" fill="#2a2670" fill-opacity="0.90"/><ellipse cx="21.7" cy="1.7" rx="0.9" ry="1.0" fill="#4a48a0" fill-opacity="0.51"/><ellipse cx="46.0" cy="3.2" rx="1.2" ry="0.7" fill="#4a48a0" fill-opacity="0.83"/><ellipse cx="5.6" cy="13.1" rx="1.1" ry="1.1" fill="#1e1c5a" fill-opacity="0.75"/><ellipse cx="0.4" cy="3.8" rx="0.8" ry="0.6" fill="#4a48a0" fill-opacity="0.92"/><ellipse cx="35.3" cy="39.2" rx="0.9" ry="0.8" fill="#2a2670" fill-opacity="0.67"/><ellipse cx="51.6" cy="53.1" rx="0.9" ry="0.9" fill="#2a2670" fill-opacity="0.87"/><ellipse cx="15.9" cy="44.5" rx="0.6" ry="0.6" fill="#1e1c5a" fill-opacity="0.70"/><ellipse cx="50.6" cy="29.5" rx="1.1" ry="0.5" fill="#4a48a0" fill-opacity="0.84"/><ellipse cx="47.7" cy="56.1" rx="1.0" ry="0.6" fill="#4a48a0" fill-opacity="0.72"/><ellipse cx="58.4" cy="59.7" rx="1.1" ry="0.6" fill="#2a2670" fill-opacity="0.91"/><ellipse cx="30.2" cy="32.4" rx="1.2" ry="0.6" fill="#2a2670" fill-opacity="0.76"/><ellipse cx="57.7" cy="16.9" rx="1.2" ry="0.8" fill="#4a48a0" fill-opacity="0.67"/><ellipse cx="37.0" cy="13.9" rx="1.3" ry="1.0" fill="#1e1c5a" fill-opacity="0.64"/><ellipse cx="50.8" cy="8.8" rx="1.2" ry="0.6" fill="#2a2670" fill-opacity="0.80"/><ellipse cx="6.1" cy="62.1" rx="1.3" ry="0.8" fill="#1e1c5a" fill-opacity="0.80"/><ellipse cx="61.0" cy="12.1" rx="0.7" ry="0.6" fill="#3a3688" fill-opacity="0.90"/><ellipse cx="20.3" cy="41.2" rx="0.9" ry="0.6" fill="#1e1c5a" fill-opacity="0.58"/><ellipse cx="37.0" cy="12.2" rx="1.1" ry="0.6" fill="#1e1c5a" fill-opacity="0.79"/><ellipse cx="31.1" cy="6.3" rx="1.0" ry="1.0" fill="#2a2670" fill-opacity="0.79"/><ellipse cx="6.5" cy="27.9" rx="1.2" ry="0.9" fill="#4a48a0" fill-opacity="0.92"/><ellipse cx="11.0" cy="22.2" rx="1.0" ry="0.5" fill="#3a3688" fill-opacity="0.79"/><ellipse cx="44.2" cy="9.8" rx="0.7" ry="0.8" fill="#3a3688" fill-opacity="0.90"/><ellipse cx="12.6" cy="13.2" rx="0.8" ry="0.6" fill="#4a48a0" fill-opacity="0.72"/><ellipse cx="16.0" cy="19.2" rx="0.8" ry="0.6" fill="#1e1c5a" fill-opacity="0.90"/><ellipse cx="26.5" cy="48.3" rx="0.7" ry="0.9" fill="#3a3688" fill-opacity="0.70"/><ellipse cx="31.4" cy="1.5" rx="0.8" ry="0.5" fill="#2a2670" fill-opacity="0.84"/><ellipse cx="26.4" cy="59.6" rx="0.8" ry="0.8" fill="#1e1c5a" fill-opacity="0.78"/><ellipse cx="51.7" cy="47.9" rx="1.1" ry="0.8" fill="#1e1c5a" fill-opacity="0.84"/><ellipse cx="17.6" cy="53.0" rx="0.8" ry="0.5" fill="#1e1c5a" fill-opacity="0.60"/><ellipse cx="61.0" cy="57.8" rx="0.7" ry="0.7" fill="#3a3688" fill-opacity="0.90"/><ellipse cx="62.6" cy="0.9" rx="1.2" ry="1.0" fill="#1e1c5a" fill-opacity="0.71"/><ellipse cx="8.4" cy="19.2" rx="0.7" ry="0.7" fill="#2a2670" fill-opacity="0.50"/><ellipse cx="19.0" cy="24.4" rx="1.1" ry="0.6" fill="#4a48a0" fill-opacity="0.53"/><ellipse cx="3.1" cy="5.1" rx="1.3" ry="0.7" fill="#3a3688" fill-opacity="0.75"/><ellipse cx="51.7" cy="7.4" rx="1.5" ry="0.7" fill="#3a3688" fill-opacity="0.85"/><ellipse cx="58.7" cy="45.1" rx="1.2" ry="0.9" fill="#1e1c5a" fill-opacity="0.90"/><ellipse cx="7.5" cy="29.7" rx="1.5" ry="0.7" fill="#1e1c5a" fill-opacity="0.70"/><ellipse cx="14.6" cy="62.0" rx="1.0" ry="0.9" fill="#4a48a0" fill-opacity="0.67"/><ellipse cx="33.2" cy="35.6" rx="1.1" ry="0.9" fill="#3a3688" fill-opacity="0.62"/><ellipse cx="59.2" cy="9.8" rx="1.3" ry="0.7" fill="#1e1c5a" fill-opacity="0.57"/><ellipse cx="33.2" cy="27.2" rx="1.4" ry="0.6" fill="#4a48a0" fill-opacity="0.75"/><ellipse cx="26.6" cy="2.2" rx="1.2" ry="1.0" fill="#1e1c5a" fill-opacity="0.91"/><ellipse cx="28.1" cy="48.8" rx="1.4" ry="0.6" fill="#3a3688" fill-opacity="0.64"/><ellipse cx="45.8" cy="1.2" rx="0.9" ry="1.0" fill="#1e1c5a" fill-opacity="0.54"/><ellipse cx="1.7" cy="32.2" rx="1.3" ry="0.8" fill="#3a3688" fill-opacity="0.77"/><ellipse cx="4.5" cy="18.5" rx="1.0" ry="0.9" fill="#1e1c5a" fill-opacity="0.64"/><ellipse cx="61.7" cy="36.1" rx="1.1" ry="0.9" fill="#3a3688" fill-opacity="0.64"/><ellipse cx="3.7" cy="7.2" rx="0.7" ry="0.9" fill="#1e1c5a" fill-opacity="0.76"/><ellipse cx="46.1" cy="17.8" rx="0.9" ry="0.8" fill="#1e1c5a" fill-opacity="0.51"/><ellipse cx="29.2" cy="20.8" rx="1.2" ry="0.8" fill="#4a48a0" fill-opacity="0.54"/><ellipse cx="33.0" cy="21.8" rx="0.7" ry="0.8" fill="#4a48a0" fill-opacity="0.73"/><ellipse cx="46.0" cy="23.9" rx="1.4" ry="0.8" fill="#1e1c5a" fill-opacity="0.77"/><ellipse cx="38.3" cy="15.4" rx="1.4" ry="0.7" fill="#1e1c5a" fill-opacity="0.87"/><ellipse cx="39.2" cy="13.1" rx="1.3" ry="0.8" fill="#2a2670" fill-opacity="0.54"/><ellipse cx="55.3" cy="11.2" rx="1.2" ry="1.1" fill="#4a48a0" fill-opacity="0.68"/><ellipse cx="11.1" cy="41.6" rx="1.2" ry="0.6" fill="#4a48a0" fill-opacity="0.71"/><ellipse cx="41.6" cy="44.0" rx="1.4" ry="1.1" fill="#3a3688" fill-opacity="0.68"/><ellipse cx="43.8" cy="12.5" rx="1.0" ry="0.8" fill="#4a48a0" fill-opacity="0.73"/><ellipse cx="12.0" cy="60.8" rx="1.5" ry="0.8" fill="#4a48a0" fill-opacity="0.88"/><ellipse cx="15.4" cy="47.5" rx="1.4" ry="1.0" fill="#2a2670" fill-opacity="0.62"/><ellipse cx="50.4" cy="30.4" rx="1.1" ry="1.1" fill="#4a48a0" fill-opacity="0.90"/><ellipse cx="11.8" cy="34.9" rx="0.8" ry="0.6" fill="#2a2670" fill-opacity="0.76"/><ellipse cx="13.6" cy="21.5" rx="1.1" ry="0.6" fill="#3a3688" fill-opacity="0.75"/><ellipse cx="62.7" cy="52.0" rx="0.9" ry="0.7" fill="#4a48a0" fill-opacity="0.68"/><ellipse cx="0.8" cy="27.9" rx="1.0" ry="0.8" fill="#1e1c5a" fill-opacity="0.78"/><ellipse cx="50.3" cy="6.0" rx="1.0" ry="0.6" fill="#2a2670" fill-opacity="0.77"/><ellipse cx="29.6" cy="26.8" rx="0.8" ry="0.7" fill="#3a3688" fill-opacity="0.94"/><ellipse cx="23.8" cy="63.3" rx="1.3" ry="0.9" fill="#3a3688" fill-opacity="0.78"/><ellipse cx="37.5" cy="56.6" rx="1.1" ry="1.0" fill="#1e1c5a" fill-opacity="0.57"/><ellipse cx="34.5" cy="17.0" rx="0.7" ry="0.6" fill="#1e1c5a" fill-opacity="0.94"/><ellipse cx="50.3" cy="42.5" rx="1.1" ry="1.1" fill="#4a48a0" fill-opacity="0.87"/><ellipse cx="36.3" cy="20.9" rx="1.1" ry="0.5" fill="#4a48a0" fill-opacity="0.61"/><ellipse cx="47.6" cy="60.4" rx="1.2" ry="1.1" fill="#4a48a0" fill-opacity="0.85"/><ellipse cx="28.5" cy="29.6" rx="1.4" ry="0.9" fill="#4a48a0" fill-opacity="0.58"/><ellipse cx="7.3" cy="47.5" rx="0.8" ry="0.6" fill="#2a2670" fill-opacity="0.80"/><ellipse cx="12.0" cy="21.3" rx="1.0" ry="0.5" fill="#1e1c5a" fill-opacity="0.88"/><ellipse cx="52.1" cy="3.7" rx="0.7" ry="0.8" fill="#1e1c5a" fill-opacity="0.51"/><ellipse cx="30.8" cy="26.4" rx="1.0" ry="1.0" fill="#3a3688" fill-opacity="0.85"/><ellipse cx="37.5" cy="15.2" rx="1.2" ry="0.7" fill="#4a48a0" fill-opacity="0.53"/><ellipse cx="56.5" cy="0.6" rx="1.1" ry="1.1" fill="#3a3688" fill-opacity="0.59"/><ellipse cx="21.5" cy="0.8" rx="1.4" ry="1.0" fill="#3a3688" fill-opacity="0.89"/><ellipse cx="31.4" cy="31.6" rx="1.4" ry="0.9" fill="#4a48a0" fill-opacity="0.76"/><ellipse cx="0.8" cy="24.5" rx="1.0" ry="1.1" fill="#4a48a0" fill-opacity="0.72"/><ellipse cx="33.7" cy="6.6" rx="1.0" ry="0.6" fill="#3a3688" fill-opacity="0.83"/><ellipse cx="51.2" cy="38.3" rx="1.3" ry="0.8" fill="#3a3688" fill-opacity="0.85"/><ellipse cx="54.2" cy="19.5" rx="1.2" ry="0.7" fill="#1e1c5a" fill-opacity="0.91"/><ellipse cx="52.9" cy="57.3" rx="0.9" ry="0.8" fill="#2a2670" fill-opacity="0.55"/><ellipse cx="40.2" cy="38.6" rx="0.9" ry="0.8" fill="#3a3688" fill-opacity="0.92"/><ellipse cx="36.3" cy="58.5" rx="1.0" ry="1.0" fill="#3a3688" fill-opacity="0.79"/><ellipse cx="37.1" cy="9.4" rx="0.9" ry="1.0" fill="#1e1c5a" fill-opacity="0.52"/><ellipse cx="18.5" cy="42.6" rx="0.9" ry="1.0" fill="#2a2670" fill-opacity="0.53"/><ellipse cx="50.6" cy="2.0" rx="1.3" ry="0.6" fill="#2a2670" fill-opacity="0.67"/><ellipse cx="14.5" cy="45.1" rx="1.2" ry="0.6" fill="#4a48a0" fill-opacity="0.86"/><ellipse cx="52.4" cy="6.5" rx="1.1" ry="0.7" fill="#1e1c5a" fill-opacity="0.66"/><ellipse cx="51.4" cy="11.2" rx="1.4" ry="0.5" fill="#4a48a0" fill-opacity="0.62"/><ellipse cx="31.6" cy="59.9" rx="1.4" ry="0.5" fill="#2a2670" fill-opacity="0.88"/><ellipse cx="43.6" cy="47.8" rx="0.9" ry="0.6" fill="#4a48a0" fill-opacity="0.56"/><ellipse cx="19.4" cy="44.8" rx="1.4" ry="0.8" fill="#3a3688" fill-opacity="0.84"/><ellipse cx="31.2" cy="53.6" rx="0.8" ry="1.1" fill="#3a3688" fill-opacity="0.86"/><ellipse cx="14.7" cy="0.1" rx="0.7" ry="1.0" fill="#4a48a0" fill-opacity="0.85"/><ellipse cx="40.6" cy="53.3" rx="1.5" ry="0.6" fill="#4a48a0" fill-opacity="0.58"/><ellipse cx="45.2" cy="25.1" rx="1.4" ry="0.8" fill="#2a2670" fill-opacity="0.62"/><ellipse cx="16.1" cy="34.7" rx="1.2" ry="0.7" fill="#2a2670" fill-opacity="0.57"/><ellipse cx="44.5" cy="1.3" rx="0.8" ry="0.7" fill="#3a3688" fill-opacity="0.50"/><ellipse cx="20.7" cy="47.4" rx="1.3" ry="0.8" fill="#1e1c5a" fill-opacity="0.70"/><ellipse cx="5.9" cy="25.7" rx="0.7" ry="0.5" fill="#2a2670" fill-opacity="0.84"/><ellipse cx="5.8" cy="42.7" rx="0.7" ry="0.8" fill="#3a3688" fill-opacity="0.52"/><ellipse cx="60.4" cy="40.1" rx="0.6" ry="0.7" fill="#3a3688" fill-opacity="0.61"/><ellipse cx="50.5" cy="45.7" rx="1.1" ry="0.9" fill="#1e1c5a" fill-opacity="0.56"/><ellipse cx="24.6" cy="18.7" rx="0.9" ry="0.6" fill="#4a48a0" fill-opacity="0.70"/><ellipse cx="28.4" cy="12.0" rx="0.9" ry="0.9" fill="#1e1c5a" fill-opacity="0.54"/><ellipse cx="7.6" cy="4.0" rx="1.4" ry="0.7" fill="#1e1c5a" fill-opacity="0.62"/><ellipse cx="6.6" cy="32.1" rx="1.1" ry="0.6" fill="#2a2670" fill-opacity="0.50"/><ellipse cx="56.3" cy="53.5" rx="0.9" ry="0.6" fill="#4a48a0" fill-opacity="0.79"/><ellipse cx="47.4" cy="59.1" rx="0.9" ry="0.8" fill="#2a2670" fill-opacity="0.63"/><ellipse cx="28.5" cy="30.0" rx="1.2" ry="0.9" fill="#1e1c5a" fill-opacity="0.58"/><ellipse cx="16.3" cy="32.0" rx="1.0" ry="1.1" fill="#3a3688" fill-opacity="0.51"/><ellipse cx="54.3" cy="52.4" rx="1.4" ry="1.0" fill="#4a48a0" fill-opacity="0.69"/><ellipse cx="1.3" cy="63.7" rx="1.2" ry="0.9" fill="#2a2670" fill-opacity="0.54"/><ellipse cx="40.8" cy="63.5" rx="0.9" ry="0.7" fill="#4a48a0" fill-opacity="0.76"/><ellipse cx="57.0" cy="60.5" rx="0.9" ry="0.6" fill="#1e1c5a" fill-opacity="0.53"/><ellipse cx="33.2" cy="37.3" rx="1.3" ry="1.1" fill="#1e1c5a" fill-opacity="0.80"/><ellipse cx="36.5" cy="40.5" rx="1.4" ry="0.9" fill="#2a2670" fill-opacity="0.74"/><ellipse cx="27.3" cy="16.0" rx="1.5" ry="0.9" fill="#4a48a0" fill-opacity="0.52"/><ellipse cx="32.0" cy="32.7" rx="1.3" ry="0.5" fill="#3a3688" fill-opacity="0.63"/><ellipse cx="5.0" cy="13.8" rx="1.3" ry="0.8" fill="#1e1c5a" fill-opacity="0.74"/><ellipse cx="34.1" cy="2.7" rx="0.8" ry="0.6" fill="#3a3688" fill-opacity="0.54"/><ellipse cx="9.8" cy="33.8" rx="0.9" ry="0.6" fill="#4a48a0" fill-opacity="0.65"/><ellipse cx="27.4" cy="8.0" rx="1.0" ry="0.5" fill="#3a3688" fill-opacity="0.83"/><ellipse cx="40.0" cy="17.9" rx="1.5" ry="0.7" fill="#1e1c5a" fill-opacity="0.71"/><ellipse cx="10.2" cy="48.8" rx="1.3" ry="0.6" fill="#4a48a0" fill-opacity="0.82"/><ellipse cx="52.0" cy="48.8" rx="0.8" ry="1.1" fill="#3a3688" fill-opacity="0.80"/><ellipse cx="34.1" cy="40.9" rx="1.1" ry="0.7" fill="#3a3688" fill-opacity="0.78"/><ellipse cx="20.4" cy="0.6" rx="1.3" ry="0.9" fill="#1e1c5a" fill-opacity="0.64"/><ellipse cx="14.9" cy="45.1" rx="0.8" ry="0.9" fill="#4a48a0" fill-opacity="0.75"/><ellipse cx="30.6" cy="22.8" rx="0.7" ry="1.0" fill="#1e1c5a" fill-opacity="0.76"/><ellipse cx="48.1" cy="37.7" rx="1.2" ry="0.9" fill="#1e1c5a" fill-opacity="0.72"/><ellipse cx="27.9" cy="41.5" rx="1.0" ry="0.5" fill="#2a2670" fill-opacity="0.85"/><ellipse cx="14.0" cy="30.2" rx="1.2" ry="0.7" fill="#3a3688" fill-opacity="0.81"/><ellipse cx="8.8" cy="48.5" rx="0.9" ry="0.8" fill="#2a2670" fill-opacity="0.58"/><ellipse cx="58.1" cy="63.2" rx="0.9" ry="0.6" fill="#1e1c5a" fill-opacity="0.66"/><ellipse cx="46.7" cy="37.0" rx="1.0" ry="0.7" fill="#2a2670" fill-opacity="0.67"/><ellipse cx="37.7" cy="61.7" rx="0.8" ry="0.8" fill="#4a48a0" fill-opacity="0.62"/><ellipse cx="56.6" cy="60.1" rx="1.3" ry="0.9" fill="#4a48a0" fill-opacity="0.91"/><ellipse cx="22.0" cy="42.1" rx="0.8" ry="0.6" fill="#3a3688" fill-opacity="0.85"/><ellipse cx="51.0" cy="16.8" rx="0.6" ry="1.0" fill="#4a48a0" fill-opacity="0.64"/><ellipse cx="0.9" cy="57.6" rx="0.7" ry="0.7" fill="#4a48a0" fill-opacity="0.79"/><ellipse cx="21.9" cy="32.5" rx="0.8" ry="0.8" fill="#1e1c5a" fill-opacity="0.70"/><ellipse cx="19.5" cy="33.7" rx="0.9" ry="1.1" fill="#3a3688" fill-opacity="0.86"/><ellipse cx="36.0" cy="30.4" rx="1.4" ry="0.6" fill="#4a48a0" fill-opacity="0.62"/><ellipse cx="44.1" cy="15.1" rx="1.4" ry="0.5" fill="#2a2670" fill-opacity="0.82"/><ellipse cx="15.2" cy="34.3" rx="0.9" ry="0.8" fill="#1e1c5a" fill-opacity="0.80"/><ellipse cx="12.3" cy="40.1" rx="1.1" ry="0.8" fill="#1e1c5a" fill-opacity="0.52"/><ellipse cx="22.0" cy="5.5" rx="0.7" ry="0.6" fill="#4a48a0" fill-opacity="0.74"/><ellipse cx="11.2" cy="50.9" rx="1.1" ry="0.6" fill="#3a3688" fill-opacity="0.67"/><ellipse cx="19.4" cy="37.3" rx="1.0" ry="1.1" fill="#4a48a0" fill-opacity="0.65"/><ellipse cx="25.5" cy="61.3" rx="0.6" ry="0.8" fill="#4a48a0" fill-opacity="0.72"/><ellipse cx="12.7" cy="32.2" rx="1.2" ry="0.8" fill="#3a3688" fill-opacity="0.93"/><ellipse cx="14.3" cy="48.9" rx="1.5" ry="0.6" fill="#4a48a0" fill-opacity="0.85"/><ellipse cx="46.3" cy="20.3" rx="1.0" ry="1.0" fill="#3a3688" fill-opacity="0.52"/><ellipse cx="59.7" cy="24.6" rx="1.0" ry="1.0" fill="#1e1c5a" fill-opacity="0.64"/><ellipse cx="34.9" cy="1.6" rx="0.8" ry="0.6" fill="#1e1c5a" fill-opacity="0.65"/><ellipse cx="37.2" cy="12.0" rx="1.5" ry="0.5" fill="#3a3688" fill-opacity="0.82"/><ellipse cx="46.6" cy="38.8" rx="1.1" ry="0.8" fill="#3a3688" fill-opacity="0.92"/><ellipse cx="42.3" cy="16.2" rx="1.0" ry="0.8" fill="#3a3688" fill-opacity="0.74"/><ellipse cx="17.3" cy="29.5" rx="1.3" ry="0.6" fill="#2a2670" fill-opacity="0.57"/><ellipse cx="57.5" cy="42.5" rx="0.7" ry="0.7" fill="#4a48a0" fill-opacity="0.93"/><ellipse cx="0.2" cy="26.8" rx="1.1" ry="1.1" fill="#3a3688" fill-opacity="0.72"/><ellipse cx="37.4" cy="54.3" rx="1.0" ry="0.6" fill="#3a3688" fill-opacity="0.85"/><ellipse cx="11.2" cy="49.8" rx="1.3" ry="0.6" fill="#1e1c5a" fill-opacity="0.89"/><ellipse cx="26.9" cy="17.0" rx="0.7" ry="1.1" fill="#2a2670" fill-opacity="0.66"/><ellipse cx="6.3" cy="54.5" rx="1.5" ry="0.6" fill="#2a2670" fill-opacity="0.51"/><ellipse cx="21.0" cy="20.0" rx="0.6" ry="0.6" fill="#3a3688" fill-opacity="0.54"/><ellipse cx="30.6" cy="55.6" rx="1.3" ry="0.7" fill="#2a2670" fill-opacity="0.83"/><ellipse cx="13.2" cy="35.5" rx="1.3" ry="0.6" fill="#1e1c5a" fill-opacity="0.65"/><ellipse cx="52.8" cy="51.5" rx="1.3" ry="0.8" fill="#3a3688" fill-opacity="0.55"/><ellipse cx="47.9" cy="21.4" rx="1.4" ry="0.9" fill="#2a2670" fill-opacity="0.80"/><ellipse cx="37.7" cy="31.6" rx="1.1" ry="0.6" fill="#1e1c5a" fill-opacity="0.69"/><ellipse cx="27.0" cy="27.7" rx="1.1" ry="0.6" fill="#4a48a0" fill-opacity="0.62"/><ellipse cx="19.0" cy="39.0" rx="0.6" ry="0.9" fill="#1e1c5a" fill-opacity="0.68"/><ellipse cx="28.7" cy="37.9" rx="0.6" ry="0.8" fill="#4a48a0" fill-opacity="0.57"/><ellipse cx="3.3" cy="45.4" rx="1.2" ry="1.0" fill="#1e1c5a" fill-opacity="0.91"/><ellipse cx="15.1" cy="42.8" rx="0.8" ry="0.9" fill="#1e1c5a" fill-opacity="0.86"/><ellipse cx="30.1" cy="24.8" rx="0.8" ry="1.0" fill="#2a2670" fill-opacity="0.86"/><ellipse cx="23.4" cy="22.4" rx="1.4" ry="1.1" fill="#1e1c5a" fill-opacity="0.69"/></pattern><pattern id="cmed" width="64" height="64" patternUnits="userSpaceOnUse"><ellipse cx="13.8" cy="46.4" rx="1.2" ry="0.8" fill="#2c2870" fill-opacity="0.90"/><ellipse cx="59.7" cy="39.5" rx="1.2" ry="0.5" fill="#5552a8" fill-opacity="0.68"/><ellipse cx="32.2" cy="46.0" rx="1.1" ry="0.8" fill="#5552a8" fill-opacity="0.60"/><ellipse cx="57.2" cy="5.8" rx="1.3" ry="0.6" fill="#4a4aa0" fill-opacity="0.82"/><ellipse cx="21.2" cy="60.5" rx="0.9" ry="0.9" fill="#5552a8" fill-opacity="0.55"/><ellipse cx="26.3" cy="39.9" rx="0.9" ry="0.5" fill="#4a4aa0" fill-opacity="0.56"/><ellipse cx="35.9" cy="11.0" rx="1.1" ry="0.6" fill="#6a68b8" fill-opacity="0.94"/><ellipse cx="17.1" cy="58.4" rx="1.0" ry="0.9" fill="#6a68b8" fill-opacity="0.63"/><ellipse cx="44.9" cy="13.6" rx="0.7" ry="0.6" fill="#4a4aa0" fill-opacity="0.56"/><ellipse cx="13.7" cy="21.3" rx="1.3" ry="0.7" fill="#2c2870" fill-opacity="0.88"/><ellipse cx="62.8" cy="9.9" rx="1.4" ry="0.8" fill="#6a68b8" fill-opacity="0.91"/><ellipse cx="16.0" cy="62.6" rx="0.9" ry="0.6" fill="#4a4aa0" fill-opacity="0.94"/><ellipse cx="52.9" cy="8.2" rx="1.5" ry="1.0" fill="#6a68b8" fill-opacity="0.73"/><ellipse cx="38.2" cy="8.8" rx="1.5" ry="1.0" fill="#6a68b8" fill-opacity="0.62"/><ellipse cx="43.1" cy="47.8" rx="0.7" ry="0.7" fill="#3f3a90" fill-opacity="0.60"/><ellipse cx="52.7" cy="35.2" rx="1.1" ry="1.1" fill="#6a68b8" fill-opacity="0.87"/><ellipse cx="50.4" cy="43.3" rx="1.2" ry="1.0" fill="#5552a8" fill-opacity="0.79"/><ellipse cx="7.3" cy="2.8" rx="1.1" ry="1.0" fill="#3f3a90" fill-opacity="0.54"/><ellipse cx="40.3" cy="55.4" rx="0.8" ry="1.1" fill="#3f3a90" fill-opacity="0.84"/><ellipse cx="21.8" cy="2.9" rx="0.8" ry="1.0" fill="#6a68b8" fill-opacity="0.55"/><ellipse cx="41.8" cy="22.8" rx="0.9" ry="0.6" fill="#4a4aa0" fill-opacity="0.59"/><ellipse cx="51.6" cy="62.6" rx="0.9" ry="0.7" fill="#6a68b8" fill-opacity="0.54"/><ellipse cx="63.0" cy="2.8" rx="0.9" ry="0.8" fill="#4a4aa0" fill-opacity="0.79"/><ellipse cx="21.7" cy="17.2" rx="1.4" ry="1.1" fill="#3f3a90" fill-opacity="0.73"/><ellipse cx="18.9" cy="36.9" rx="1.1" ry="0.5" fill="#5552a8" fill-opacity="0.67"/><ellipse cx="32.9" cy="8.7" rx="1.4" ry="0.8" fill="#2c2870" fill-opacity="0.52"/><ellipse cx="53.2" cy="1.2" rx="1.4" ry="0.5" fill="#6a68b8" fill-opacity="0.53"/><ellipse cx="11.8" cy="19.5" rx="1.1" ry="0.6" fill="#5552a8" fill-opacity="0.90"/><ellipse cx="41.5" cy="34.7" rx="0.9" ry="0.6" fill="#6a68b8" fill-opacity="0.57"/><ellipse cx="25.8" cy="8.1" rx="0.7" ry="0.7" fill="#2c2870" fill-opacity="0.61"/><ellipse cx="23.7" cy="50.5" rx="0.9" ry="1.1" fill="#4a4aa0" fill-opacity="0.89"/><ellipse cx="58.9" cy="49.0" rx="1.1" ry="0.9" fill="#4a4aa0" fill-opacity="0.89"/><ellipse cx="36.3" cy="39.0" rx="1.4" ry="0.7" fill="#3f3a90" fill-opacity="0.68"/><ellipse cx="34.4" cy="6.5" rx="1.3" ry="1.0" fill="#2c2870" fill-opacity="0.64"/><ellipse cx="9.3" cy="48.7" rx="0.9" ry="0.7" fill="#5552a8" fill-opacity="0.57"/><ellipse cx="53.2" cy="29.5" rx="0.9" ry="0.7" fill="#5552a8" fill-opacity="0.73"/><ellipse cx="47.7" cy="56.5" rx="1.2" ry="0.8" fill="#6a68b8" fill-opacity="0.81"/><ellipse cx="22.8" cy="35.5" rx="0.9" ry="0.7" fill="#4a4aa0" fill-opacity="0.90"/><ellipse cx="51.3" cy="19.5" rx="1.2" ry="0.9" fill="#5552a8" fill-opacity="0.69"/><ellipse cx="2.6" cy="59.3" rx="1.1" ry="0.8" fill="#6a68b8" fill-opacity="0.68"/><ellipse cx="35.7" cy="5.8" rx="0.7" ry="0.6" fill="#3f3a90" fill-opacity="0.80"/><ellipse cx="41.0" cy="51.6" rx="1.4" ry="0.5" fill="#5552a8" fill-opacity="0.50"/><ellipse cx="15.2" cy="49.8" rx="0.9" ry="1.0" fill="#3f3a90" fill-opacity="0.57"/><ellipse cx="54.5" cy="54.9" rx="1.0" ry="0.8" fill="#4a4aa0" fill-opacity="0.63"/><ellipse cx="61.5" cy="50.1" rx="0.9" ry="0.9" fill="#6a68b8" fill-opacity="0.72"/><ellipse cx="51.1" cy="23.3" rx="1.2" ry="0.8" fill="#3f3a90" fill-opacity="0.75"/><ellipse cx="51.5" cy="33.9" rx="1.2" ry="1.1" fill="#5552a8" fill-opacity="0.82"/><ellipse cx="35.3" cy="35.2" rx="0.9" ry="0.9" fill="#5552a8" fill-opacity="0.87"/><ellipse cx="23.9" cy="63.6" rx="0.6" ry="0.6" fill="#2c2870" fill-opacity="0.53"/><ellipse cx="36.5" cy="20.6" rx="1.2" ry="0.9" fill="#6a68b8" fill-opacity="0.70"/><ellipse cx="34.5" cy="54.1" rx="1.1" ry="0.8" fill="#2c2870" fill-opacity="0.74"/><ellipse cx="31.1" cy="54.3" rx="1.3" ry="0.5" fill="#3f3a90" fill-opacity="0.56"/><ellipse cx="22.1" cy="8.1" rx="1.4" ry="0.9" fill="#2c2870" fill-opacity="0.59"/><ellipse cx="15.3" cy="15.4" rx="0.6" ry="0.7" fill="#6a68b8" fill-opacity="0.53"/><ellipse cx="33.8" cy="19.2" rx="1.0" ry="0.9" fill="#4a4aa0" fill-opacity="0.84"/><ellipse cx="36.7" cy="40.4" rx="1.0" ry="0.8" fill="#3f3a90" fill-opacity="0.63"/><ellipse cx="2.6" cy="29.8" rx="0.9" ry="0.9" fill="#4a4aa0" fill-opacity="0.73"/><ellipse cx="1.8" cy="46.2" rx="1.4" ry="0.6" fill="#2c2870" fill-opacity="0.67"/><ellipse cx="39.1" cy="38.5" rx="0.6" ry="0.7" fill="#6a68b8" fill-opacity="0.66"/><ellipse cx="38.3" cy="7.2" rx="0.9" ry="0.9" fill="#6a68b8" fill-opacity="0.87"/><ellipse cx="9.1" cy="50.6" rx="1.1" ry="1.0" fill="#5552a8" fill-opacity="0.53"/><ellipse cx="34.7" cy="46.9" rx="1.4" ry="0.6" fill="#3f3a90" fill-opacity="0.67"/><ellipse cx="63.9" cy="34.2" rx="0.8" ry="0.5" fill="#6a68b8" fill-opacity="0.93"/><ellipse cx="16.9" cy="35.9" rx="0.7" ry="0.8" fill="#6a68b8" fill-opacity="0.82"/><ellipse cx="24.5" cy="36.8" rx="0.9" ry="0.5" fill="#5552a8" fill-opacity="0.63"/><ellipse cx="1.0" cy="3.2" rx="0.8" ry="0.9" fill="#5552a8" fill-opacity="0.79"/><ellipse cx="6.1" cy="58.9" rx="1.1" ry="0.7" fill="#5552a8" fill-opacity="0.54"/><ellipse cx="61.3" cy="47.5" rx="1.0" ry="0.6" fill="#2c2870" fill-opacity="0.58"/><ellipse cx="45.8" cy="51.8" rx="0.9" ry="1.0" fill="#4a4aa0" fill-opacity="0.71"/><ellipse cx="49.9" cy="16.1" rx="1.1" ry="1.0" fill="#4a4aa0" fill-opacity="0.59"/><ellipse cx="55.0" cy="1.6" rx="1.4" ry="0.5" fill="#4a4aa0" fill-opacity="0.86"/><ellipse cx="52.9" cy="22.0" rx="1.0" ry="0.9" fill="#2c2870" fill-opacity="0.69"/><ellipse cx="0.2" cy="5.9" rx="0.7" ry="0.7" fill="#4a4aa0" fill-opacity="0.86"/><ellipse cx="55.1" cy="56.4" rx="1.2" ry="1.1" fill="#3f3a90" fill-opacity="0.51"/><ellipse cx="54.2" cy="20.5" rx="1.0" ry="0.6" fill="#5552a8" fill-opacity="0.76"/><ellipse cx="62.8" cy="13.4" rx="1.2" ry="0.6" fill="#5552a8" fill-opacity="0.60"/><ellipse cx="6.3" cy="37.4" rx="0.9" ry="0.7" fill="#5552a8" fill-opacity="0.71"/><ellipse cx="10.4" cy="25.7" rx="0.9" ry="1.0" fill="#3f3a90" fill-opacity="0.58"/><ellipse cx="6.5" cy="40.1" rx="1.1" ry="0.8" fill="#2c2870" fill-opacity="0.53"/><ellipse cx="15.4" cy="50.9" rx="0.7" ry="0.9" fill="#3f3a90" fill-opacity="0.69"/><ellipse cx="62.5" cy="24.2" rx="1.1" ry="0.8" fill="#3f3a90" fill-opacity="0.58"/><ellipse cx="29.7" cy="35.2" rx="1.5" ry="0.8" fill="#4a4aa0" fill-opacity="0.65"/><ellipse cx="14.3" cy="40.3" rx="0.8" ry="0.9" fill="#3f3a90" fill-opacity="0.95"/><ellipse cx="25.1" cy="60.1" rx="1.1" ry="1.0" fill="#2c2870" fill-opacity="0.56"/><ellipse cx="14.6" cy="53.4" rx="0.7" ry="0.7" fill="#6a68b8" fill-opacity="0.71"/><ellipse cx="47.7" cy="40.4" rx="0.6" ry="0.5" fill="#2c2870" fill-opacity="0.52"/><ellipse cx="27.6" cy="1.7" rx="1.4" ry="0.6" fill="#4a4aa0" fill-opacity="0.84"/><ellipse cx="22.0" cy="20.8" rx="0.9" ry="0.9" fill="#3f3a90" fill-opacity="0.74"/><ellipse cx="16.8" cy="49.9" rx="1.4" ry="1.1" fill="#5552a8" fill-opacity="0.83"/><ellipse cx="54.1" cy="3.7" rx="0.6" ry="0.9" fill="#6a68b8" fill-opacity="0.93"/><ellipse cx="1.6" cy="61.5" rx="1.4" ry="0.9" fill="#4a4aa0" fill-opacity="0.66"/><ellipse cx="53.7" cy="1.1" rx="1.2" ry="0.6" fill="#4a4aa0" fill-opacity="0.52"/><ellipse cx="53.2" cy="43.1" rx="0.9" ry="0.7" fill="#2c2870" fill-opacity="0.91"/><ellipse cx="34.1" cy="1.3" rx="1.4" ry="0.5" fill="#6a68b8" fill-opacity="0.85"/><ellipse cx="4.6" cy="28.3" rx="1.1" ry="1.0" fill="#5552a8" fill-opacity="0.86"/><ellipse cx="30.7" cy="53.6" rx="1.3" ry="0.6" fill="#5552a8" fill-opacity="0.51"/><ellipse cx="5.9" cy="53.9" rx="1.5" ry="0.7" fill="#4a4aa0" fill-opacity="0.60"/><ellipse cx="43.9" cy="38.9" rx="1.0" ry="1.0" fill="#4a4aa0" fill-opacity="0.86"/><ellipse cx="37.2" cy="63.2" rx="0.7" ry="1.0" fill="#5552a8" fill-opacity="0.60"/><ellipse cx="20.8" cy="21.9" rx="0.9" ry="0.9" fill="#5552a8" fill-opacity="0.73"/><ellipse cx="52.8" cy="12.7" rx="1.1" ry="1.0" fill="#6a68b8" fill-opacity="0.65"/><ellipse cx="26.5" cy="47.6" rx="0.9" ry="1.0" fill="#3f3a90" fill-opacity="0.83"/><ellipse cx="36.7" cy="26.1" rx="0.9" ry="0.6" fill="#4a4aa0" fill-opacity="0.55"/><ellipse cx="34.6" cy="31.1" rx="1.3" ry="0.9" fill="#5552a8" fill-opacity="0.59"/><ellipse cx="46.2" cy="52.9" rx="1.1" ry="0.9" fill="#4a4aa0" fill-opacity="0.69"/><ellipse cx="15.3" cy="22.1" rx="1.2" ry="1.1" fill="#6a68b8" fill-opacity="0.58"/><ellipse cx="16.9" cy="32.6" rx="1.4" ry="0.6" fill="#5552a8" fill-opacity="0.60"/><ellipse cx="19.3" cy="57.9" rx="1.1" ry="1.0" fill="#4a4aa0" fill-opacity="0.66"/><ellipse cx="0.0" cy="62.8" rx="0.7" ry="1.1" fill="#3f3a90" fill-opacity="0.83"/><ellipse cx="41.0" cy="54.1" rx="1.0" ry="0.5" fill="#3f3a90" fill-opacity="0.62"/><ellipse cx="24.5" cy="13.1" rx="1.3" ry="0.9" fill="#5552a8" fill-opacity="0.89"/><ellipse cx="8.6" cy="16.8" rx="0.9" ry="0.5" fill="#6a68b8" fill-opacity="0.88"/><ellipse cx="47.2" cy="31.5" rx="1.2" ry="0.5" fill="#5552a8" fill-opacity="0.71"/><ellipse cx="42.0" cy="53.3" rx="1.4" ry="0.6" fill="#2c2870" fill-opacity="0.73"/><ellipse cx="35.9" cy="7.5" rx="0.8" ry="0.8" fill="#6a68b8" fill-opacity="0.59"/><ellipse cx="38.5" cy="51.8" rx="0.7" ry="0.5" fill="#4a4aa0" fill-opacity="0.88"/><ellipse cx="55.3" cy="57.9" rx="1.4" ry="0.6" fill="#5552a8" fill-opacity="0.70"/><ellipse cx="7.4" cy="36.1" rx="0.9" ry="0.6" fill="#2c2870" fill-opacity="0.68"/><ellipse cx="7.4" cy="26.7" rx="0.9" ry="0.6" fill="#6a68b8" fill-opacity="0.86"/><ellipse cx="11.8" cy="8.7" rx="0.7" ry="0.9" fill="#6a68b8" fill-opacity="0.56"/><ellipse cx="49.9" cy="44.5" rx="1.0" ry="1.1" fill="#3f3a90" fill-opacity="0.59"/><ellipse cx="11.8" cy="25.0" rx="0.9" ry="1.0" fill="#2c2870" fill-opacity="0.80"/><ellipse cx="5.6" cy="14.0" rx="1.4" ry="0.5" fill="#4a4aa0" fill-opacity="0.80"/><ellipse cx="36.8" cy="61.4" rx="0.7" ry="0.7" fill="#5552a8" fill-opacity="0.92"/><ellipse cx="26.9" cy="61.7" rx="1.5" ry="0.7" fill="#6a68b8" fill-opacity="0.69"/><ellipse cx="34.6" cy="53.7" rx="1.3" ry="0.8" fill="#3f3a90" fill-opacity="0.82"/><ellipse cx="40.8" cy="61.4" rx="1.3" ry="0.6" fill="#6a68b8" fill-opacity="0.76"/><ellipse cx="28.1" cy="14.8" rx="0.8" ry="0.9" fill="#2c2870" fill-opacity="0.72"/><ellipse cx="27.3" cy="45.2" rx="1.5" ry="1.1" fill="#6a68b8" fill-opacity="0.86"/><ellipse cx="16.9" cy="42.8" rx="1.2" ry="0.5" fill="#2c2870" fill-opacity="0.72"/><ellipse cx="32.0" cy="41.8" rx="1.1" ry="0.7" fill="#3f3a90" fill-opacity="0.55"/><ellipse cx="31.0" cy="4.5" rx="1.0" ry="1.1" fill="#3f3a90" fill-opacity="0.72"/><ellipse cx="17.7" cy="21.7" rx="0.7" ry="0.5" fill="#4a4aa0" fill-opacity="0.75"/><ellipse cx="62.1" cy="18.0" rx="1.3" ry="0.7" fill="#6a68b8" fill-opacity="0.69"/><ellipse cx="38.7" cy="52.5" rx="0.7" ry="0.6" fill="#3f3a90" fill-opacity="0.67"/><ellipse cx="25.6" cy="24.7" rx="1.0" ry="0.8" fill="#4a4aa0" fill-opacity="0.93"/><ellipse cx="41.1" cy="38.1" rx="0.9" ry="0.5" fill="#3f3a90" fill-opacity="0.93"/><ellipse cx="34.2" cy="37.3" rx="1.4" ry="0.7" fill="#5552a8" fill-opacity="0.69"/><ellipse cx="31.4" cy="24.1" rx="0.9" ry="0.7" fill="#4a4aa0" fill-opacity="0.90"/><ellipse cx="14.2" cy="17.3" rx="1.3" ry="0.8" fill="#2c2870" fill-opacity="0.93"/><ellipse cx="30.0" cy="55.4" rx="1.1" ry="0.9" fill="#2c2870" fill-opacity="0.62"/><ellipse cx="4.5" cy="49.0" rx="0.9" ry="1.0" fill="#5552a8" fill-opacity="0.71"/><ellipse cx="57.0" cy="30.6" rx="1.4" ry="1.0" fill="#6a68b8" fill-opacity="0.56"/><ellipse cx="53.1" cy="44.7" rx="1.1" ry="1.0" fill="#3f3a90" fill-opacity="0.57"/><ellipse cx="30.7" cy="30.0" rx="1.0" ry="0.9" fill="#5552a8" fill-opacity="0.83"/><ellipse cx="15.0" cy="54.3" rx="1.4" ry="1.1" fill="#6a68b8" fill-opacity="0.77"/><ellipse cx="3.2" cy="55.8" rx="1.4" ry="0.9" fill="#3f3a90" fill-opacity="0.78"/><ellipse cx="58.5" cy="61.0" rx="1.0" ry="0.6" fill="#3f3a90" fill-opacity="0.82"/><ellipse cx="34.4" cy="19.8" rx="1.4" ry="1.1" fill="#5552a8" fill-opacity="0.53"/><ellipse cx="24.9" cy="28.8" rx="1.3" ry="1.0" fill="#6a68b8" fill-opacity="0.55"/><ellipse cx="15.8" cy="62.3" rx="1.4" ry="0.8" fill="#3f3a90" fill-opacity="0.55"/><ellipse cx="29.2" cy="33.1" rx="0.8" ry="0.7" fill="#3f3a90" fill-opacity="0.94"/><ellipse cx="0.8" cy="39.1" rx="0.7" ry="0.5" fill="#5552a8" fill-opacity="0.95"/><ellipse cx="10.3" cy="47.4" rx="0.8" ry="0.5" fill="#5552a8" fill-opacity="0.54"/><ellipse cx="4.9" cy="24.9" rx="0.9" ry="0.9" fill="#4a4aa0" fill-opacity="0.52"/><ellipse cx="33.0" cy="34.5" rx="1.0" ry="0.9" fill="#5552a8" fill-opacity="0.88"/><ellipse cx="6.0" cy="21.0" rx="0.7" ry="0.6" fill="#5552a8" fill-opacity="0.52"/><ellipse cx="16.9" cy="40.7" rx="1.5" ry="1.0" fill="#5552a8" fill-opacity="0.56"/><ellipse cx="50.7" cy="48.8" rx="1.5" ry="0.6" fill="#2c2870" fill-opacity="0.72"/><ellipse cx="13.7" cy="44.3" rx="1.1" ry="0.9" fill="#5552a8" fill-opacity="0.89"/><ellipse cx="0.7" cy="0.6" rx="0.8" ry="0.7" fill="#3f3a90" fill-opacity="0.89"/><ellipse cx="7.1" cy="50.7" rx="1.1" ry="0.9" fill="#3f3a90" fill-opacity="0.50"/><ellipse cx="38.8" cy="39.3" rx="1.1" ry="0.6" fill="#4a4aa0" fill-opacity="0.60"/><ellipse cx="41.8" cy="5.1" rx="0.9" ry="0.9" fill="#5552a8" fill-opacity="0.67"/><ellipse cx="25.5" cy="30.5" rx="1.1" ry="0.6" fill="#5552a8" fill-opacity="0.75"/><ellipse cx="54.7" cy="23.6" rx="1.0" ry="0.7" fill="#2c2870" fill-opacity="0.77"/><ellipse cx="27.1" cy="3.4" rx="1.1" ry="0.5" fill="#6a68b8" fill-opacity="0.57"/><ellipse cx="55.6" cy="16.7" rx="1.1" ry="1.0" fill="#4a4aa0" fill-opacity="0.71"/><ellipse cx="40.3" cy="18.5" rx="0.7" ry="0.5" fill="#6a68b8" fill-opacity="0.89"/><ellipse cx="24.6" cy="52.1" rx="0.9" ry="0.7" fill="#3f3a90" fill-opacity="0.88"/><ellipse cx="57.7" cy="60.0" rx="0.9" ry="0.9" fill="#3f3a90" fill-opacity="0.78"/><ellipse cx="1.7" cy="56.5" rx="0.9" ry="0.8" fill="#6a68b8" fill-opacity="0.81"/><ellipse cx="10.3" cy="23.4" rx="1.2" ry="0.9" fill="#5552a8" fill-opacity="0.55"/><ellipse cx="13.9" cy="16.4" rx="0.9" ry="0.9" fill="#5552a8" fill-opacity="0.72"/><ellipse cx="31.0" cy="44.9" rx="1.0" ry="0.8" fill="#2c2870" fill-opacity="0.63"/><ellipse cx="29.7" cy="60.0" rx="1.0" ry="0.7" fill="#2c2870" fill-opacity="0.93"/><ellipse cx="5.5" cy="1.2" rx="1.0" ry="1.1" fill="#4a4aa0" fill-opacity="0.84"/><ellipse cx="5.6" cy="2.0" rx="1.1" ry="0.9" fill="#2c2870" fill-opacity="0.73"/><ellipse cx="2.3" cy="28.9" rx="1.1" ry="0.5" fill="#5552a8" fill-opacity="0.56"/><ellipse cx="57.9" cy="34.9" rx="0.8" ry="1.0" fill="#3f3a90" fill-opacity="0.95"/><ellipse cx="58.4" cy="61.6" rx="0.8" ry="1.1" fill="#5552a8" fill-opacity="0.69"/><ellipse cx="43.2" cy="11.7" rx="1.2" ry="0.5" fill="#4a4aa0" fill-opacity="0.53"/><ellipse cx="35.7" cy="61.1" rx="1.0" ry="1.1" fill="#4a4aa0" fill-opacity="0.77"/><ellipse cx="21.0" cy="48.2" rx="1.4" ry="0.9" fill="#3f3a90" fill-opacity="0.90"/><ellipse cx="54.4" cy="13.8" rx="1.3" ry="0.5" fill="#3f3a90" fill-opacity="0.89"/><ellipse cx="34.7" cy="59.9" rx="1.5" ry="0.7" fill="#2c2870" fill-opacity="0.91"/><ellipse cx="50.4" cy="53.4" rx="1.0" ry="0.7" fill="#3f3a90" fill-opacity="0.80"/><ellipse cx="45.4" cy="29.4" rx="1.4" ry="0.7" fill="#6a68b8" fill-opacity="0.74"/><ellipse cx="10.3" cy="19.0" rx="1.2" ry="0.5" fill="#6a68b8" fill-opacity="0.62"/><ellipse cx="62.2" cy="17.1" rx="0.7" ry="0.6" fill="#6a68b8" fill-opacity="0.57"/><ellipse cx="63.9" cy="20.5" rx="1.0" ry="1.0" fill="#4a4aa0" fill-opacity="0.59"/><ellipse cx="37.4" cy="4.7" rx="0.7" ry="0.7" fill="#2c2870" fill-opacity="0.88"/><ellipse cx="36.4" cy="32.7" rx="1.0" ry="0.7" fill="#2c2870" fill-opacity="0.75"/><ellipse cx="1.4" cy="22.5" rx="0.8" ry="0.8" fill="#5552a8" fill-opacity="0.53"/><ellipse cx="23.7" cy="31.3" rx="0.9" ry="1.0" fill="#3f3a90" fill-opacity="0.79"/><ellipse cx="38.7" cy="47.5" rx="0.9" ry="1.0" fill="#6a68b8" fill-opacity="0.88"/><ellipse cx="54.1" cy="14.3" rx="1.0" ry="0.7" fill="#5552a8" fill-opacity="0.53"/><ellipse cx="56.0" cy="43.9" rx="1.0" ry="0.8" fill="#2c2870" fill-opacity="0.70"/><ellipse cx="3.4" cy="4.6" rx="1.1" ry="0.8" fill="#3f3a90" fill-opacity="0.62"/><ellipse cx="14.3" cy="42.9" rx="0.6" ry="0.9" fill="#6a68b8" fill-opacity="0.81"/></pattern><pattern id="csparse" width="64" height="64" patternUnits="userSpaceOnUse"><ellipse cx="21.7" cy="38.6" rx="0.7" ry="0.7" fill="#5a68b8" fill-opacity="0.38"/><ellipse cx="32.1" cy="61.2" rx="0.9" ry="0.7" fill="#5a68b8" fill-opacity="0.77"/><ellipse cx="3.4" cy="54.1" rx="0.7" ry="1.1" fill="#5a68b8" fill-opacity="0.64"/><ellipse cx="24.9" cy="27.2" rx="0.9" ry="1.0" fill="#7080c8" fill-opacity="0.51"/><ellipse cx="34.9" cy="13.5" rx="1.2" ry="0.9" fill="#7080c8" fill-opacity="0.38"/><ellipse cx="4.9" cy="57.5" rx="1.1" ry="1.1" fill="#4a58b0" fill-opacity="0.36"/><ellipse cx="36.9" cy="13.3" rx="1.1" ry="0.9" fill="#4a58b0" fill-opacity="0.42"/><ellipse cx="48.6" cy="62.0" rx="1.5" ry="0.9" fill="#5a68b8" fill-opacity="0.60"/><ellipse cx="52.8" cy="51.6" rx="1.3" ry="0.8" fill="#7080c8" fill-opacity="0.74"/><ellipse cx="4.4" cy="30.8" rx="1.3" ry="0.7" fill="#7080c8" fill-opacity="0.80"/><ellipse cx="3.8" cy="3.9" rx="1.3" ry="0.8" fill="#4a58b0" fill-opacity="0.43"/><ellipse cx="63.5" cy="23.4" rx="1.1" ry="0.9" fill="#5a68b8" fill-opacity="0.55"/><ellipse cx="29.5" cy="61.3" rx="1.2" ry="0.9" fill="#4a58b0" fill-opacity="0.80"/><ellipse cx="13.2" cy="33.9" rx="1.3" ry="0.8" fill="#5a68b8" fill-opacity="0.38"/><ellipse cx="59.8" cy="8.8" rx="0.6" ry="0.9" fill="#7080c8" fill-opacity="0.42"/><ellipse cx="16.7" cy="27.0" rx="1.0" ry="0.8" fill="#4a58b0" fill-opacity="0.53"/><ellipse cx="33.3" cy="18.0" rx="0.8" ry="0.6" fill="#7080c8" fill-opacity="0.60"/><ellipse cx="22.5" cy="46.2" rx="0.9" ry="1.0" fill="#5a68b8" fill-opacity="0.43"/><ellipse cx="60.0" cy="58.8" rx="0.9" ry="0.8" fill="#5a68b8" fill-opacity="0.48"/><ellipse cx="42.9" cy="26.3" rx="0.9" ry="0.6" fill="#7080c8" fill-opacity="0.61"/><ellipse cx="22.7" cy="39.4" rx="1.0" ry="0.7" fill="#4a58b0" fill-opacity="0.57"/><ellipse cx="22.4" cy="39.2" rx="1.3" ry="0.6" fill="#7080c8" fill-opacity="0.73"/><ellipse cx="51.2" cy="53.4" rx="0.7" ry="0.9" fill="#4a58b0" fill-opacity="0.61"/><ellipse cx="16.1" cy="51.9" rx="1.0" ry="1.0" fill="#7080c8" fill-opacity="0.69"/><ellipse cx="34.8" cy="47.3" rx="1.0" ry="1.1" fill="#4a58b0" fill-opacity="0.40"/><ellipse cx="4.7" cy="25.6" rx="1.4" ry="0.7" fill="#5a68b8" fill-opacity="0.52"/><ellipse cx="32.8" cy="16.1" rx="1.4" ry="0.5" fill="#5a68b8" fill-opacity="0.75"/><ellipse cx="15.2" cy="24.0" rx="1.5" ry="1.0" fill="#4a58b0" fill-opacity="0.36"/><ellipse cx="8.3" cy="62.5" rx="1.2" ry="0.9" fill="#4a58b0" fill-opacity="0.55"/><ellipse cx="27.2" cy="9.3" rx="1.0" ry="0.6" fill="#7080c8" fill-opacity="0.48"/><ellipse cx="27.4" cy="37.3" rx="1.3" ry="0.9" fill="#4a58b0" fill-opacity="0.37"/><ellipse cx="4.8" cy="53.3" rx="1.1" ry="0.7" fill="#5a68b8" fill-opacity="0.39"/><ellipse cx="31.1" cy="33.5" rx="0.8" ry="0.6" fill="#7080c8" fill-opacity="0.49"/><ellipse cx="51.4" cy="14.9" rx="0.7" ry="0.8" fill="#7080c8" fill-opacity="0.79"/><ellipse cx="34.7" cy="23.0" rx="1.0" ry="1.1" fill="#7080c8" fill-opacity="0.53"/><ellipse cx="35.7" cy="26.9" rx="1.1" ry="0.7" fill="#7080c8" fill-opacity="0.67"/><ellipse cx="56.1" cy="2.9" rx="1.3" ry="0.9" fill="#5a68b8" fill-opacity="0.69"/><ellipse cx="59.5" cy="3.5" rx="0.8" ry="0.5" fill="#7080c8" fill-opacity="0.68"/><ellipse cx="10.4" cy="36.2" rx="0.9" ry="1.0" fill="#5a68b8" fill-opacity="0.45"/><ellipse cx="61.9" cy="7.2" rx="1.2" ry="0.8" fill="#7080c8" fill-opacity="0.36"/><ellipse cx="61.3" cy="31.3" rx="0.8" ry="1.1" fill="#5a68b8" fill-opacity="0.39"/><ellipse cx="7.8" cy="50.8" rx="1.1" ry="0.6" fill="#7080c8" fill-opacity="0.67"/><ellipse cx="11.1" cy="44.1" rx="0.7" ry="0.8" fill="#7080c8" fill-opacity="0.61"/><ellipse cx="30.0" cy="2.8" rx="1.4" ry="1.0" fill="#4a58b0" fill-opacity="0.69"/><ellipse cx="38.4" cy="16.7" rx="1.5" ry="1.1" fill="#5a68b8" fill-opacity="0.50"/><ellipse cx="52.6" cy="43.4" rx="1.3" ry="0.8" fill="#7080c8" fill-opacity="0.53"/><ellipse cx="50.9" cy="41.9" rx="1.2" ry="0.6" fill="#7080c8" fill-opacity="0.79"/><ellipse cx="15.4" cy="38.7" rx="1.4" ry="0.6" fill="#7080c8" fill-opacity="0.75"/><ellipse cx="14.4" cy="8.6" rx="1.4" ry="1.0" fill="#7080c8" fill-opacity="0.36"/><ellipse cx="23.0" cy="47.0" rx="1.1" ry="0.8" fill="#5a68b8" fill-opacity="0.54"/><ellipse cx="44.2" cy="7.1" rx="1.0" ry="0.9" fill="#7080c8" fill-opacity="0.39"/><ellipse cx="31.0" cy="23.8" rx="0.7" ry="0.8" fill="#7080c8" fill-opacity="0.75"/><ellipse cx="55.4" cy="11.7" rx="1.0" ry="0.6" fill="#7080c8" fill-opacity="0.42"/><ellipse cx="30.0" cy="13.2" rx="1.1" ry="0.9" fill="#7080c8" fill-opacity="0.55"/><ellipse cx="19.3" cy="55.5" rx="0.6" ry="0.7" fill="#4a58b0" fill-opacity="0.74"/></pattern><pattern id="cbrown" width="64" height="64" patternUnits="userSpaceOnUse"><ellipse cx="27.8" cy="30.1" rx="1.3" ry="0.6" fill="#6a5a80" fill-opacity="0.66"/><ellipse cx="50.4" cy="18.5" rx="0.8" ry="0.5" fill="#5a4a7a" fill-opacity="0.59"/><ellipse cx="9.8" cy="54.5" rx="0.6" ry="0.7" fill="#5a4a7a" fill-opacity="0.73"/><ellipse cx="11.2" cy="19.6" rx="1.1" ry="1.0" fill="#6a5a80" fill-opacity="0.55"/><ellipse cx="42.3" cy="0.7" rx="1.3" ry="0.8" fill="#4a4070" fill-opacity="0.75"/><ellipse cx="57.1" cy="11.6" rx="1.0" ry="0.6" fill="#5a4a7a" fill-opacity="0.83"/><ellipse cx="9.6" cy="33.9" rx="0.9" ry="0.8" fill="#4a4070" fill-opacity="0.89"/><ellipse cx="35.8" cy="47.6" rx="0.7" ry="1.0" fill="#3a3060" fill-opacity="0.62"/><ellipse cx="4.8" cy="45.3" rx="0.8" ry="1.0" fill="#5a4a7a" fill-opacity="0.57"/><ellipse cx="20.0" cy="54.4" rx="1.4" ry="0.8" fill="#3a3060" fill-opacity="0.86"/><ellipse cx="8.3" cy="4.7" rx="0.7" ry="1.0" fill="#4a4070" fill-opacity="0.50"/><ellipse cx="7.9" cy="22.9" rx="1.1" ry="0.6" fill="#4a4070" fill-opacity="0.70"/><ellipse cx="7.1" cy="49.9" rx="0.8" ry="1.1" fill="#4a4070" fill-opacity="0.90"/><ellipse cx="36.2" cy="33.7" rx="0.8" ry="0.6" fill="#5a4a7a" fill-opacity="0.82"/><ellipse cx="21.4" cy="1.6" rx="1.3" ry="0.8" fill="#4a4070" fill-opacity="0.87"/><ellipse cx="5.6" cy="54.2" rx="1.2" ry="0.6" fill="#3a3060" fill-opacity="0.81"/><ellipse cx="26.0" cy="46.2" rx="0.7" ry="0.7" fill="#3a3060" fill-opacity="0.84"/><ellipse cx="1.0" cy="40.4" rx="1.2" ry="0.7" fill="#3a3060" fill-opacity="0.71"/><ellipse cx="30.5" cy="47.9" rx="1.5" ry="0.6" fill="#4a4070" fill-opacity="0.91"/><ellipse cx="44.8" cy="31.2" rx="0.8" ry="1.0" fill="#5a4a7a" fill-opacity="0.66"/><ellipse cx="56.3" cy="47.1" rx="0.8" ry="1.0" fill="#3a3060" fill-opacity="0.94"/><ellipse cx="46.7" cy="53.6" rx="1.0" ry="1.0" fill="#6a5a80" fill-opacity="0.73"/><ellipse cx="35.6" cy="28.5" rx="1.3" ry="1.0" fill="#5a4a7a" fill-opacity="0.64"/><ellipse cx="45.5" cy="55.1" rx="0.7" ry="1.0" fill="#4a4070" fill-opacity="0.61"/><ellipse cx="51.3" cy="43.9" rx="1.0" ry="1.1" fill="#6a5a80" fill-opacity="0.91"/><ellipse cx="61.6" cy="20.7" rx="1.3" ry="0.9" fill="#5a4a7a" fill-opacity="0.68"/><ellipse cx="31.9" cy="32.5" rx="1.5" ry="0.8" fill="#5a4a7a" fill-opacity="0.57"/><ellipse cx="21.7" cy="17.7" rx="1.1" ry="0.8" fill="#4a4070" fill-opacity="0.80"/><ellipse cx="0.5" cy="28.4" rx="0.8" ry="0.8" fill="#6a5a80" fill-opacity="0.53"/><ellipse cx="16.3" cy="52.7" rx="0.9" ry="0.9" fill="#4a4070" fill-opacity="0.69"/><ellipse cx="8.2" cy="33.0" rx="0.9" ry="0.8" fill="#6a5a80" fill-opacity="0.93"/><ellipse cx="34.8" cy="43.6" rx="0.7" ry="0.9" fill="#4a4070" fill-opacity="0.69"/><ellipse cx="5.0" cy="51.7" rx="1.3" ry="0.9" fill="#5a4a7a" fill-opacity="0.88"/><ellipse cx="57.7" cy="46.5" rx="1.3" ry="0.8" fill="#4a4070" fill-opacity="0.81"/><ellipse cx="21.8" cy="8.2" rx="1.3" ry="0.8" fill="#3a3060" fill-opacity="0.58"/><ellipse cx="5.9" cy="58.6" rx="0.6" ry="0.5" fill="#4a4070" fill-opacity="0.70"/><ellipse cx="8.6" cy="56.9" rx="0.9" ry="0.9" fill="#5a4a7a" fill-opacity="0.88"/><ellipse cx="48.1" cy="36.8" rx="1.2" ry="0.7" fill="#4a4070" fill-opacity="0.94"/><ellipse cx="16.6" cy="61.1" rx="1.2" ry="1.0" fill="#3a3060" fill-opacity="0.94"/><ellipse cx="57.0" cy="48.6" rx="0.8" ry="1.1" fill="#4a4070" fill-opacity="0.83"/><ellipse cx="32.4" cy="54.4" rx="0.9" ry="0.7" fill="#4a4070" fill-opacity="0.83"/><ellipse cx="22.8" cy="49.3" rx="1.0" ry="0.7" fill="#4a4070" fill-opacity="0.77"/><ellipse cx="25.4" cy="29.2" rx="0.9" ry="0.7" fill="#6a5a80" fill-opacity="0.58"/><ellipse cx="7.2" cy="54.4" rx="0.7" ry="0.7" fill="#5a4a7a" fill-opacity="0.91"/><ellipse cx="55.3" cy="62.6" rx="0.9" ry="0.5" fill="#3a3060" fill-opacity="0.61"/><ellipse cx="32.2" cy="1.0" rx="1.4" ry="0.8" fill="#3a3060" fill-opacity="0.84"/><ellipse cx="52.7" cy="32.5" rx="0.7" ry="0.9" fill="#4a4070" fill-opacity="0.89"/><ellipse cx="56.9" cy="38.1" rx="1.4" ry="0.9" fill="#6a5a80" fill-opacity="0.63"/><ellipse cx="52.5" cy="5.2" rx="0.7" ry="0.7" fill="#4a4070" fill-opacity="0.56"/><ellipse cx="51.9" cy="45.0" rx="1.0" ry="1.0" fill="#4a4070" fill-opacity="0.84"/><ellipse cx="18.9" cy="31.0" rx="1.0" ry="0.6" fill="#6a5a80" fill-opacity="0.89"/><ellipse cx="40.4" cy="44.2" rx="0.7" ry="1.0" fill="#5a4a7a" fill-opacity="0.85"/><ellipse cx="33.0" cy="37.8" rx="1.3" ry="0.8" fill="#6a5a80" fill-opacity="0.62"/><ellipse cx="13.9" cy="51.5" rx="0.6" ry="0.8" fill="#6a5a80" fill-opacity="0.89"/><ellipse cx="46.0" cy="13.4" rx="1.0" ry="0.8" fill="#4a4070" fill-opacity="0.81"/><ellipse cx="56.4" cy="33.0" rx="1.2" ry="0.6" fill="#4a4070" fill-opacity="0.62"/><ellipse cx="20.1" cy="22.7" rx="1.5" ry="0.8" fill="#6a5a80" fill-opacity="0.61"/><ellipse cx="19.9" cy="34.3" rx="0.7" ry="0.9" fill="#3a3060" fill-opacity="0.93"/><ellipse cx="24.0" cy="56.2" rx="1.2" ry="0.8" fill="#3a3060" fill-opacity="0.77"/><ellipse cx="28.1" cy="23.2" rx="1.4" ry="1.0" fill="#6a5a80" fill-opacity="0.84"/><ellipse cx="11.3" cy="23.6" rx="0.7" ry="0.7" fill="#4a4070" fill-opacity="0.91"/><ellipse cx="42.6" cy="31.6" rx="0.8" ry="0.7" fill="#6a5a80" fill-opacity="0.50"/><ellipse cx="17.7" cy="53.2" rx="1.3" ry="1.0" fill="#5a4a7a" fill-opacity="0.63"/><ellipse cx="16.9" cy="44.6" rx="0.6" ry="1.0" fill="#5a4a7a" fill-opacity="0.51"/><ellipse cx="14.7" cy="5.2" rx="1.2" ry="0.9" fill="#6a5a80" fill-opacity="0.78"/><ellipse cx="41.2" cy="49.3" rx="1.3" ry="1.0" fill="#5a4a7a" fill-opacity="0.84"/><ellipse cx="11.5" cy="15.4" rx="1.4" ry="0.9" fill="#4a4070" fill-opacity="0.60"/><ellipse cx="54.5" cy="2.4" rx="0.9" ry="1.1" fill="#4a4070" fill-opacity="0.57"/><ellipse cx="9.0" cy="24.4" rx="0.7" ry="1.0" fill="#3a3060" fill-opacity="0.74"/><ellipse cx="51.1" cy="21.5" rx="0.6" ry="0.8" fill="#4a4070" fill-opacity="0.56"/><ellipse cx="47.1" cy="62.1" rx="0.9" ry="0.6" fill="#6a5a80" fill-opacity="0.88"/><ellipse cx="45.0" cy="9.9" rx="1.1" ry="0.9" fill="#4a4070" fill-opacity="0.57"/><ellipse cx="34.5" cy="59.4" rx="0.8" ry="0.5" fill="#4a4070" fill-opacity="0.79"/><ellipse cx="44.5" cy="0.6" rx="1.4" ry="0.6" fill="#3a3060" fill-opacity="0.69"/><ellipse cx="62.7" cy="47.6" rx="1.3" ry="0.8" fill="#6a5a80" fill-opacity="0.51"/><ellipse cx="35.0" cy="26.5" rx="1.3" ry="0.5" fill="#3a3060" fill-opacity="0.89"/><ellipse cx="51.1" cy="13.8" rx="0.8" ry="0.8" fill="#6a5a80" fill-opacity="0.54"/><ellipse cx="13.9" cy="6.3" rx="1.0" ry="1.1" fill="#6a5a80" fill-opacity="0.82"/><ellipse cx="31.9" cy="5.9" rx="0.6" ry="0.6" fill="#4a4070" fill-opacity="0.88"/><ellipse cx="19.5" cy="9.3" rx="1.3" ry="0.6" fill="#5a4a7a" fill-opacity="0.76"/><ellipse cx="8.5" cy="59.7" rx="1.2" ry="0.9" fill="#3a3060" fill-opacity="0.80"/><ellipse cx="16.3" cy="31.2" rx="1.2" ry="1.0" fill="#3a3060" fill-opacity="0.54"/><ellipse cx="49.6" cy="0.8" rx="1.1" ry="0.5" fill="#3a3060" fill-opacity="0.69"/><ellipse cx="42.8" cy="55.5" rx="1.4" ry="0.9" fill="#4a4070" fill-opacity="0.91"/><ellipse cx="40.7" cy="48.3" rx="1.1" ry="1.0" fill="#3a3060" fill-opacity="0.58"/><ellipse cx="55.9" cy="9.1" rx="1.4" ry="0.8" fill="#3a3060" fill-opacity="0.93"/><ellipse cx="27.3" cy="42.1" rx="0.7" ry="0.5" fill="#4a4070" fill-opacity="0.55"/><ellipse cx="59.7" cy="12.0" rx="1.1" ry="0.7" fill="#3a3060" fill-opacity="0.61"/><ellipse cx="33.3" cy="12.3" rx="1.0" ry="0.6" fill="#5a4a7a" fill-opacity="0.72"/><ellipse cx="23.8" cy="64.0" rx="1.1" ry="0.5" fill="#4a4070" fill-opacity="0.77"/><ellipse cx="35.3" cy="1.7" rx="0.7" ry="0.8" fill="#6a5a80" fill-opacity="0.66"/><ellipse cx="62.5" cy="45.2" rx="0.8" ry="0.8" fill="#6a5a80" fill-opacity="0.74"/><ellipse cx="24.2" cy="36.1" rx="1.3" ry="0.6" fill="#4a4070" fill-opacity="0.55"/><ellipse cx="52.4" cy="36.8" rx="1.3" ry="0.9" fill="#3a3060" fill-opacity="0.67"/><ellipse cx="45.6" cy="12.8" rx="0.6" ry="0.6" fill="#5a4a7a" fill-opacity="0.58"/><ellipse cx="22.5" cy="47.2" rx="1.4" ry="1.1" fill="#4a4070" fill-opacity="0.54"/><ellipse cx="22.4" cy="61.0" rx="1.4" ry="0.8" fill="#4a4070" fill-opacity="0.89"/><ellipse cx="2.2" cy="50.0" rx="1.3" ry="0.6" fill="#3a3060" fill-opacity="0.54"/><ellipse cx="33.5" cy="38.8" rx="0.8" ry="0.8" fill="#6a5a80" fill-opacity="0.94"/><ellipse cx="16.2" cy="52.5" rx="1.5" ry="1.1" fill="#6a5a80" fill-opacity="0.78"/><ellipse cx="15.0" cy="36.5" rx="1.4" ry="0.8" fill="#5a4a7a" fill-opacity="0.75"/><ellipse cx="31.0" cy="45.4" rx="1.0" ry="0.5" fill="#6a5a80" fill-opacity="0.90"/><ellipse cx="13.1" cy="54.8" rx="1.2" ry="0.7" fill="#6a5a80" fill-opacity="0.69"/><ellipse cx="34.7" cy="62.9" rx="1.0" ry="0.8" fill="#3a3060" fill-opacity="0.57"/><ellipse cx="53.7" cy="23.0" rx="0.9" ry="1.0" fill="#6a5a80" fill-opacity="0.69"/><ellipse cx="21.7" cy="2.3" rx="0.7" ry="0.8" fill="#5a4a7a" fill-opacity="0.53"/><ellipse cx="11.6" cy="62.8" rx="1.2" ry="1.0" fill="#6a5a80" fill-opacity="0.66"/><ellipse cx="52.5" cy="16.5" rx="0.8" ry="0.7" fill="#5a4a7a" fill-opacity="0.86"/><ellipse cx="34.9" cy="51.2" rx="1.0" ry="0.8" fill="#4a4070" fill-opacity="0.51"/><ellipse cx="22.5" cy="33.5" rx="0.8" ry="1.0" fill="#3a3060" fill-opacity="0.81"/><ellipse cx="11.6" cy="14.7" rx="1.0" ry="0.8" fill="#3a3060" fill-opacity="0.88"/><ellipse cx="7.5" cy="14.4" rx="1.2" ry="0.6" fill="#4a4070" fill-opacity="0.79"/><ellipse cx="38.3" cy="47.9" rx="0.7" ry="0.9" fill="#6a5a80" fill-opacity="0.66"/><ellipse cx="39.0" cy="39.4" rx="1.0" ry="0.7" fill="#4a4070" fill-opacity="0.67"/><ellipse cx="11.3" cy="50.6" rx="0.9" ry="1.1" fill="#3a3060" fill-opacity="0.51"/><ellipse cx="15.2" cy="19.8" rx="0.7" ry="0.9" fill="#3a3060" fill-opacity="0.90"/><ellipse cx="62.4" cy="51.6" rx="1.3" ry="0.8" fill="#4a4070" fill-opacity="0.58"/><ellipse cx="28.4" cy="26.8" rx="0.7" ry="0.6" fill="#5a4a7a" fill-opacity="0.82"/><ellipse cx="61.1" cy="51.7" rx="1.5" ry="1.1" fill="#4a4070" fill-opacity="0.59"/><ellipse cx="16.3" cy="12.2" rx="1.1" ry="0.8" fill="#6a5a80" fill-opacity="0.85"/><ellipse cx="33.9" cy="20.1" rx="0.6" ry="0.8" fill="#4a4070" fill-opacity="0.56"/><ellipse cx="47.8" cy="27.6" rx="1.2" ry="1.1" fill="#4a4070" fill-opacity="0.76"/><ellipse cx="38.1" cy="62.4" rx="0.9" ry="0.7" fill="#3a3060" fill-opacity="0.65"/><ellipse cx="34.4" cy="45.3" rx="1.2" ry="1.1" fill="#4a4070" fill-opacity="0.77"/><ellipse cx="47.7" cy="38.1" rx="0.7" ry="0.8" fill="#5a4a7a" fill-opacity="0.63"/><ellipse cx="30.0" cy="0.6" rx="0.8" ry="0.7" fill="#4a4070" fill-opacity="0.89"/><ellipse cx="39.6" cy="47.9" rx="0.8" ry="0.9" fill="#6a5a80" fill-opacity="0.60"/><ellipse cx="21.5" cy="4.0" rx="0.9" ry="0.9" fill="#6a5a80" fill-opacity="0.60"/><ellipse cx="0.5" cy="43.9" rx="0.9" ry="1.1" fill="#5a4a7a" fill-opacity="0.82"/><ellipse cx="20.5" cy="48.7" rx="1.0" ry="0.6" fill="#5a4a7a" fill-opacity="0.94"/><ellipse cx="41.7" cy="42.1" rx="1.1" ry="0.7" fill="#5a4a7a" fill-opacity="0.53"/><ellipse cx="40.4" cy="45.9" rx="1.0" ry="1.0" fill="#4a4070" fill-opacity="0.51"/><ellipse cx="8.3" cy="1.2" rx="1.1" ry="0.6" fill="#3a3060" fill-opacity="0.74"/><ellipse cx="0.2" cy="2.3" rx="1.0" ry="0.8" fill="#4a4070" fill-opacity="0.65"/><ellipse cx="14.8" cy="51.1" rx="1.2" ry="1.0" fill="#5a4a7a" fill-opacity="0.55"/><ellipse cx="52.6" cy="20.5" rx="1.3" ry="1.1" fill="#6a5a80" fill-opacity="0.84"/><ellipse cx="25.0" cy="33.5" rx="0.9" ry="0.9" fill="#4a4070" fill-opacity="0.51"/><ellipse cx="55.1" cy="36.6" rx="0.9" ry="0.9" fill="#3a3060" fill-opacity="0.91"/><ellipse cx="23.6" cy="33.7" rx="0.9" ry="1.0" fill="#6a5a80" fill-opacity="0.84"/><ellipse cx="25.2" cy="39.5" rx="0.7" ry="1.1" fill="#6a5a80" fill-opacity="0.73"/><ellipse cx="46.8" cy="26.4" rx="0.8" ry="0.9" fill="#4a4070" fill-opacity="0.87"/><ellipse cx="18.6" cy="13.1" rx="0.9" ry="0.5" fill="#6a5a80" fill-opacity="0.81"/><ellipse cx="60.3" cy="9.5" rx="1.0" ry="0.7" fill="#5a4a7a" fill-opacity="0.75"/><ellipse cx="44.0" cy="33.1" rx="1.2" ry="0.6" fill="#3a3060" fill-opacity="0.80"/><ellipse cx="31.0" cy="48.6" rx="0.9" ry="1.0" fill="#6a5a80" fill-opacity="0.60"/><ellipse cx="41.6" cy="0.4" rx="1.0" ry="0.8" fill="#5a4a7a" fill-opacity="0.72"/><ellipse cx="23.8" cy="14.7" rx="1.2" ry="0.5" fill="#5a4a7a" fill-opacity="0.62"/><ellipse cx="59.6" cy="18.1" rx="0.7" ry="0.5" fill="#3a3060" fill-opacity="0.77"/><ellipse cx="10.1" cy="25.3" rx="0.8" ry="0.6" fill="#3a3060" fill-opacity="0.70"/><ellipse cx="18.2" cy="43.2" rx="1.2" ry="0.5" fill="#4a4070" fill-opacity="0.70"/><ellipse cx="31.0" cy="9.1" rx="0.9" ry="0.9" fill="#5a4a7a" fill-opacity="0.94"/><ellipse cx="62.6" cy="26.9" rx="1.0" ry="0.6" fill="#5a4a7a" fill-opacity="0.51"/><ellipse cx="18.0" cy="58.7" rx="1.4" ry="0.9" fill="#5a4a7a" fill-opacity="0.84"/><ellipse cx="4.3" cy="39.6" rx="0.7" ry="0.7" fill="#4a4070" fill-opacity="0.94"/><ellipse cx="20.3" cy="18.7" rx="1.5" ry="0.9" fill="#4a4070" fill-opacity="0.66"/><ellipse cx="21.1" cy="52.0" rx="0.9" ry="0.6" fill="#6a5a80" fill-opacity="0.95"/><ellipse cx="27.4" cy="28.3" rx="1.3" ry="0.6" fill="#3a3060" fill-opacity="0.88"/><ellipse cx="14.1" cy="6.1" rx="1.0" ry="1.0" fill="#3a3060" fill-opacity="0.94"/><ellipse cx="48.3" cy="45.1" rx="1.4" ry="1.1" fill="#5a4a7a" fill-opacity="0.74"/><ellipse cx="24.8" cy="0.4" rx="0.9" ry="0.5" fill="#3a3060" fill-opacity="0.95"/><ellipse cx="19.7" cy="59.6" rx="1.2" ry="1.0" fill="#4a4070" fill-opacity="0.50"/><ellipse cx="50.8" cy="21.7" rx="0.7" ry="0.8" fill="#4a4070" fill-opacity="0.81"/><ellipse cx="48.3" cy="10.3" rx="1.0" ry="0.8" fill="#6a5a80" fill-opacity="0.72"/><ellipse cx="47.1" cy="47.1" rx="1.1" ry="0.6" fill="#3a3060" fill-opacity="0.81"/><ellipse cx="52.8" cy="0.4" rx="0.9" ry="0.7" fill="#4a4070" fill-opacity="0.70"/><ellipse cx="38.7" cy="2.2" rx="1.4" ry="0.5" fill="#3a3060" fill-opacity="0.90"/><ellipse cx="36.6" cy="63.8" rx="1.2" ry="1.0" fill="#6a5a80" fill-opacity="0.69"/><ellipse cx="7.5" cy="54.7" rx="1.2" ry="0.6" fill="#5a4a7a" fill-opacity="0.72"/><ellipse cx="32.9" cy="23.3" rx="1.3" ry="0.8" fill="#6a5a80" fill-opacity="0.72"/><ellipse cx="15.2" cy="46.1" rx="0.8" ry="0.5" fill="#5a4a7a" fill-opacity="0.78"/><ellipse cx="48.9" cy="41.6" rx="0.9" ry="0.9" fill="#3a3060" fill-opacity="0.67"/><ellipse cx="50.1" cy="31.6" rx="0.9" ry="0.5" fill="#4a4070" fill-opacity="0.90"/><ellipse cx="33.6" cy="41.4" rx="1.0" ry="0.7" fill="#6a5a80" fill-opacity="0.70"/><ellipse cx="60.1" cy="15.7" rx="0.9" ry="1.1" fill="#6a5a80" fill-opacity="0.57"/><ellipse cx="13.1" cy="42.7" rx="1.5" ry="1.0" fill="#5a4a7a" fill-opacity="0.75"/><ellipse cx="41.1" cy="19.2" rx="1.4" ry="0.7" fill="#5a4a7a" fill-opacity="0.72"/><ellipse cx="14.0" cy="16.0" rx="1.3" ry="0.9" fill="#6a5a80" fill-opacity="0.94"/><ellipse cx="48.5" cy="45.1" rx="0.8" ry="0.8" fill="#3a3060" fill-opacity="0.65"/><ellipse cx="16.8" cy="47.4" rx="1.4" ry="0.6" fill="#3a3060" fill-opacity="0.79"/><ellipse cx="12.6" cy="37.5" rx="1.1" ry="0.8" fill="#4a4070" fill-opacity="0.81"/><ellipse cx="35.1" cy="58.1" rx="1.1" ry="0.8" fill="#4a4070" fill-opacity="0.76"/><ellipse cx="22.6" cy="15.2" rx="1.1" ry="0.5" fill="#6a5a80" fill-opacity="0.78"/><ellipse cx="26.4" cy="36.7" rx="1.0" ry="0.6" fill="#5a4a7a" fill-opacity="0.59"/><ellipse cx="6.8" cy="50.9" rx="0.8" ry="0.8" fill="#3a3060" fill-opacity="0.92"/><ellipse cx="11.0" cy="18.5" rx="0.7" ry="0.7" fill="#3a3060" fill-opacity="0.85"/><ellipse cx="34.2" cy="18.6" rx="1.1" ry="0.9" fill="#6a5a80" fill-opacity="0.56"/><ellipse cx="3.1" cy="42.8" rx="0.8" ry="0.6" fill="#4a4070" fill-opacity="0.54"/><ellipse cx="25.8" cy="45.6" rx="1.4" ry="1.0" fill="#4a4070" fill-opacity="0.52"/><ellipse cx="59.9" cy="62.1" rx="1.1" ry="0.8" fill="#6a5a80" fill-opacity="0.80"/><ellipse cx="31.8" cy="25.5" rx="1.4" ry="0.8" fill="#3a3060" fill-opacity="0.74"/><ellipse cx="22.1" cy="21.5" rx="1.4" ry="0.5" fill="#6a5a80" fill-opacity="0.91"/><ellipse cx="46.4" cy="41.6" rx="0.9" ry="0.8" fill="#5a4a7a" fill-opacity="0.85"/><ellipse cx="7.4" cy="31.1" rx="0.8" ry="0.9" fill="#5a4a7a" fill-opacity="0.88"/><ellipse cx="30.9" cy="35.9" rx="1.5" ry="1.0" fill="#3a3060" fill-opacity="0.92"/><ellipse cx="17.9" cy="59.6" rx="1.3" ry="0.9" fill="#5a4a7a" fill-opacity="0.72"/><ellipse cx="50.0" cy="33.8" rx="1.1" ry="0.8" fill="#3a3060" fill-opacity="0.58"/><ellipse cx="40.6" cy="25.5" rx="1.3" ry="0.7" fill="#6a5a80" fill-opacity="0.61"/><ellipse cx="38.3" cy="3.2" rx="1.0" ry="0.7" fill="#5a4a7a" fill-opacity="0.53"/><ellipse cx="35.5" cy="49.5" rx="1.1" ry="1.1" fill="#4a4070" fill-opacity="0.93"/><ellipse cx="48.1" cy="29.2" rx="1.4" ry="0.7" fill="#4a4070" fill-opacity="0.74"/><ellipse cx="37.6" cy="28.8" rx="1.3" ry="0.7" fill="#4a4070" fill-opacity="0.73"/><ellipse cx="34.8" cy="37.3" rx="0.8" ry="0.6" fill="#4a4070" fill-opacity="0.87"/><ellipse cx="5.8" cy="8.0" rx="1.3" ry="0.9" fill="#4a4070" fill-opacity="0.91"/><ellipse cx="3.6" cy="21.3" rx="1.2" ry="0.7" fill="#5a4a7a" fill-opacity="0.84"/><ellipse cx="6.4" cy="54.8" rx="1.0" ry="0.8" fill="#3a3060" fill-opacity="0.51"/><ellipse cx="33.8" cy="16.2" rx="1.3" ry="0.5" fill="#4a4070" fill-opacity="0.88"/><ellipse cx="60.9" cy="63.9" rx="0.7" ry="0.8" fill="#5a4a7a" fill-opacity="0.95"/><ellipse cx="39.9" cy="59.2" rx="0.7" ry="1.0" fill="#4a4070" fill-opacity="0.80"/><ellipse cx="61.4" cy="62.9" rx="1.4" ry="1.0" fill="#4a4070" fill-opacity="0.70"/><ellipse cx="32.8" cy="54.3" rx="0.6" ry="0.6" fill="#6a5a80" fill-opacity="0.61"/><ellipse cx="32.9" cy="60.1" rx="0.9" ry="0.7" fill="#5a4a7a" fill-opacity="0.94"/><ellipse cx="44.2" cy="27.8" rx="1.3" ry="0.7" fill="#4a4070" fill-opacity="0.84"/><ellipse cx="9.2" cy="59.0" rx="1.1" ry="0.9" fill="#3a3060" fill-opacity="0.63"/><ellipse cx="44.0" cy="8.5" rx="0.9" ry="1.0" fill="#4a4070" fill-opacity="0.69"/><ellipse cx="62.9" cy="35.7" rx="1.4" ry="0.7" fill="#4a4070" fill-opacity="0.81"/><ellipse cx="46.6" cy="41.9" rx="1.4" ry="0.7" fill="#4a4070" fill-opacity="0.58"/><ellipse cx="51.4" cy="25.5" rx="1.1" ry="0.6" fill="#3a3060" fill-opacity="0.88"/><ellipse cx="26.6" cy="63.7" rx="0.6" ry="1.0" fill="#6a5a80" fill-opacity="0.92"/><ellipse cx="35.6" cy="22.2" rx="0.6" ry="1.1" fill="#3a3060" fill-opacity="0.63"/><ellipse cx="2.5" cy="41.7" rx="1.2" ry="1.0" fill="#5a4a7a" fill-opacity="0.56"/><ellipse cx="60.5" cy="42.7" rx="0.9" ry="1.0" fill="#4a4070" fill-opacity="0.54"/><ellipse cx="57.6" cy="39.7" rx="1.0" ry="0.8" fill="#6a5a80" fill-opacity="0.92"/><ellipse cx="19.4" cy="57.1" rx="1.1" ry="1.1" fill="#6a5a80" fill-opacity="0.90"/><ellipse cx="48.0" cy="34.9" rx="1.4" ry="0.5" fill="#4a4070" fill-opacity="0.69"/><ellipse cx="9.6" cy="62.1" rx="0.9" ry="1.0" fill="#5a4a7a" fill-opacity="0.88"/><ellipse cx="47.8" cy="28.6" rx="1.5" ry="1.1" fill="#4a4070" fill-opacity="0.77"/><ellipse cx="5.0" cy="57.7" rx="1.3" ry="0.9" fill="#4a4070" fill-opacity="0.66"/><ellipse cx="48.3" cy="29.2" rx="0.7" ry="1.0" fill="#4a4070" fill-opacity="0.95"/><ellipse cx="42.0" cy="62.9" rx="1.0" ry="1.0" fill="#3a3060" fill-opacity="0.92"/><ellipse cx="44.5" cy="5.4" rx="1.0" ry="0.6" fill="#3a3060" fill-opacity="0.53"/><ellipse cx="42.0" cy="61.0" rx="1.1" ry="0.7" fill="#6a5a80" fill-opacity="0.52"/><ellipse cx="27.9" cy="46.6" rx="1.2" ry="0.9" fill="#5a4a7a" fill-opacity="0.59"/><ellipse cx="40.1" cy="35.1" rx="1.2" ry="0.7" fill="#5a4a7a" fill-opacity="0.89"/><ellipse cx="43.5" cy="51.8" rx="1.4" ry="0.5" fill="#6a5a80" fill-opacity="0.72"/><ellipse cx="32.9" cy="27.5" rx="1.4" ry="0.9" fill="#4a4070" fill-opacity="0.85"/><ellipse cx="45.6" cy="25.8" rx="0.6" ry="0.5" fill="#6a5a80" fill-opacity="0.87"/><ellipse cx="48.6" cy="12.6" rx="0.7" ry="0.7" fill="#3a3060" fill-opacity="0.66"/><ellipse cx="64.0" cy="33.5" rx="1.4" ry="1.1" fill="#5a4a7a" fill-opacity="0.76"/><ellipse cx="2.8" cy="8.6" rx="0.7" ry="1.0" fill="#6a5a80" fill-opacity="0.52"/><ellipse cx="3.5" cy="63.7" rx="0.8" ry="0.8" fill="#6a5a80" fill-opacity="0.64"/><ellipse cx="0.9" cy="4.7" rx="1.3" ry="1.0" fill="#6a5a80" fill-opacity="0.81"/><ellipse cx="11.6" cy="29.5" rx="0.8" ry="0.7" fill="#3a3060" fill-opacity="0.78"/><ellipse cx="63.7" cy="1.6" rx="0.7" ry="1.1" fill="#6a5a80" fill-opacity="0.94"/><ellipse cx="55.8" cy="27.3" rx="1.3" ry="0.9" fill="#6a5a80" fill-opacity="0.69"/><ellipse cx="9.7" cy="48.9" rx="1.3" ry="1.1" fill="#5a4a7a" fill-opacity="0.61"/><ellipse cx="44.1" cy="51.6" rx="1.3" ry="1.0" fill="#3a3060" fill-opacity="0.80"/><ellipse cx="54.9" cy="5.5" rx="0.8" ry="0.7" fill="#3a3060" fill-opacity="0.62"/><ellipse cx="58.3" cy="8.4" rx="0.8" ry="0.8" fill="#5a4a7a" fill-opacity="0.57"/><ellipse cx="10.9" cy="18.6" rx="1.3" ry="1.0" fill="#4a4070" fill-opacity="0.72"/><ellipse cx="41.1" cy="43.0" rx="1.0" ry="1.1" fill="#4a4070" fill-opacity="0.85"/><ellipse cx="35.5" cy="23.0" rx="1.1" ry="0.7" fill="#4a4070" fill-opacity="0.80"/><ellipse cx="55.8" cy="53.1" rx="1.0" ry="1.1" fill="#5a4a7a" fill-opacity="0.84"/><ellipse cx="17.8" cy="21.0" rx="0.7" ry="1.0" fill="#3a3060" fill-opacity="0.80"/><ellipse cx="38.0" cy="26.0" rx="1.2" ry="1.1" fill="#6a5a80" fill-opacity="0.70"/><ellipse cx="6.3" cy="53.0" rx="1.5" ry="0.7" fill="#4a4070" fill-opacity="0.64"/><ellipse cx="9.2" cy="4.1" rx="0.8" ry="0.5" fill="#4a4070" fill-opacity="0.69"/><ellipse cx="38.4" cy="3.5" rx="1.1" ry="0.6" fill="#4a4070" fill-opacity="0.90"/><ellipse cx="49.5" cy="29.9" rx="1.0" ry="0.9" fill="#5a4a7a" fill-opacity="0.63"/><ellipse cx="22.7" cy="32.2" rx="1.3" ry="0.7" fill="#5a4a7a" fill-opacity="0.82"/><ellipse cx="11.7" cy="11.4" rx="0.8" ry="0.7" fill="#4a4070" fill-opacity="0.75"/><ellipse cx="23.3" cy="11.7" rx="0.7" ry="1.0" fill="#5a4a7a" fill-opacity="0.54"/><ellipse cx="35.5" cy="34.9" rx="1.3" ry="0.6" fill="#6a5a80" fill-opacity="0.84"/><ellipse cx="51.5" cy="20.2" rx="1.4" ry="0.9" fill="#4a4070" fill-opacity="0.84"/><ellipse cx="24.9" cy="20.7" rx="1.4" ry="0.6" fill="#5a4a7a" fill-opacity="0.65"/><ellipse cx="44.2" cy="58.0" rx="1.1" ry="0.8" fill="#6a5a80" fill-opacity="0.87"/><ellipse cx="47.0" cy="30.4" rx="0.9" ry="0.6" fill="#4a4070" fill-opacity="0.62"/><ellipse cx="46.3" cy="45.6" rx="1.0" ry="0.5" fill="#6a5a80" fill-opacity="0.86"/><ellipse cx="16.4" cy="45.9" rx="1.0" ry="1.0" fill="#6a5a80" fill-opacity="0.92"/><ellipse cx="1.5" cy="25.9" rx="1.4" ry="1.0" fill="#3a3060" fill-opacity="0.74"/><ellipse cx="62.9" cy="0.2" rx="1.1" ry="0.8" fill="#6a5a80" fill-opacity="0.52"/><ellipse cx="9.8" cy="6.7" rx="1.1" ry="0.9" fill="#3a3060" fill-opacity="0.88"/><ellipse cx="28.2" cy="28.2" rx="0.6" ry="0.8" fill="#4a4070" fill-opacity="0.92"/><ellipse cx="0.7" cy="0.2" rx="1.4" ry="0.7" fill="#6a5a80" fill-opacity="0.55"/><ellipse cx="6.0" cy="52.3" rx="0.7" ry="0.7" fill="#3a3060" fill-opacity="0.83"/><ellipse cx="6.4" cy="17.1" rx="0.9" ry="1.0" fill="#5a4a7a" fill-opacity="0.70"/><ellipse cx="25.0" cy="40.9" rx="1.3" ry="0.6" fill="#4a4070" fill-opacity="0.82"/><ellipse cx="13.5" cy="42.8" rx="0.8" ry="0.8" fill="#3a3060" fill-opacity="0.66"/><ellipse cx="35.4" cy="25.0" rx="0.8" ry="0.9" fill="#3a3060" fill-opacity="0.89"/><ellipse cx="28.4" cy="10.8" rx="1.1" ry="0.9" fill="#3a3060" fill-opacity="0.80"/><ellipse cx="42.1" cy="27.5" rx="0.8" ry="1.0" fill="#6a5a80" fill-opacity="0.66"/><ellipse cx="61.0" cy="36.3" rx="0.8" ry="0.6" fill="#3a3060" fill-opacity="0.87"/><ellipse cx="14.3" cy="14.3" rx="1.2" ry="0.6" fill="#6a5a80" fill-opacity="0.87"/><ellipse cx="41.0" cy="41.5" rx="1.0" ry="0.6" fill="#3a3060" fill-opacity="0.82"/><ellipse cx="23.6" cy="32.3" rx="1.4" ry="0.9" fill="#4a4070" fill-opacity="0.67"/><ellipse cx="61.1" cy="58.0" rx="1.1" ry="0.7" fill="#6a5a80" fill-opacity="0.67"/><ellipse cx="13.2" cy="22.2" rx="1.0" ry="0.6" fill="#6a5a80" fill-opacity="0.71"/><ellipse cx="62.4" cy="27.7" rx="0.9" ry="0.9" fill="#3a3060" fill-opacity="0.68"/><ellipse cx="0.1" cy="8.2" rx="1.4" ry="0.8" fill="#6a5a80" fill-opacity="0.70"/><ellipse cx="1.9" cy="6.6" rx="1.0" ry="1.0" fill="#4a4070" fill-opacity="0.72"/><ellipse cx="45.0" cy="3.8" rx="1.3" ry="0.7" fill="#5a4a7a" fill-opacity="0.61"/><ellipse cx="27.6" cy="63.8" rx="1.0" ry="0.6" fill="#4a4070" fill-opacity="0.87"/><ellipse cx="43.2" cy="18.0" rx="1.3" ry="1.0" fill="#6a5a80" fill-opacity="0.51"/><ellipse cx="37.5" cy="54.5" rx="0.7" ry="0.5" fill="#6a5a80" fill-opacity="0.53"/><ellipse cx="20.9" cy="49.5" rx="1.4" ry="0.6" fill="#5a4a7a" fill-opacity="0.71"/><ellipse cx="1.9" cy="11.3" rx="1.3" ry="0.6" fill="#6a5a80" fill-opacity="0.73"/><ellipse cx="43.7" cy="34.2" rx="0.7" ry="1.0" fill="#3a3060" fill-opacity="0.58"/><ellipse cx="56.4" cy="2.7" rx="1.3" ry="0.6" fill="#3a3060" fill-opacity="0.94"/><ellipse cx="47.9" cy="55.8" rx="1.4" ry="0.8" fill="#5a4a7a" fill-opacity="0.58"/><ellipse cx="6.0" cy="14.6" rx="0.7" ry="0.6" fill="#6a5a80" fill-opacity="0.87"/><ellipse cx="46.8" cy="23.2" rx="0.7" ry="0.6" fill="#5a4a7a" fill-opacity="0.77"/><ellipse cx="15.4" cy="28.2" rx="1.2" ry="0.9" fill="#5a4a7a" fill-opacity="0.84"/><ellipse cx="4.3" cy="14.1" rx="1.1" ry="0.5" fill="#4a4070" fill-opacity="0.82"/><ellipse cx="35.0" cy="59.7" rx="1.2" ry="1.0" fill="#6a5a80" fill-opacity="0.73"/><ellipse cx="18.6" cy="3.9" rx="1.0" ry="1.1" fill="#4a4070" fill-opacity="0.67"/><ellipse cx="9.0" cy="60.9" rx="1.5" ry="0.8" fill="#3a3060" fill-opacity="0.57"/><ellipse cx="31.5" cy="31.4" rx="1.4" ry="0.7" fill="#6a5a80" fill-opacity="0.70"/><ellipse cx="57.4" cy="13.3" rx="1.3" ry="0.6" fill="#6a5a80" fill-opacity="0.83"/><ellipse cx="17.5" cy="26.2" rx="1.5" ry="0.7" fill="#6a5a80" fill-opacity="0.81"/><ellipse cx="23.8" cy="18.8" rx="0.6" ry="0.8" fill="#6a5a80" fill-opacity="0.83"/><ellipse cx="35.0" cy="61.5" rx="1.2" ry="0.7" fill="#5a4a7a" fill-opacity="0.68"/><ellipse cx="4.2" cy="25.2" rx="0.9" ry="0.6" fill="#3a3060" fill-opacity="0.74"/><ellipse cx="57.3" cy="41.3" rx="1.1" ry="0.7" fill="#4a4070" fill-opacity="0.57"/><ellipse cx="32.3" cy="33.1" rx="0.9" ry="0.8" fill="#5a4a7a" fill-opacity="0.94"/><ellipse cx="19.6" cy="34.5" rx="0.7" ry="0.7" fill="#3a3060" fill-opacity="0.65"/><ellipse cx="46.1" cy="24.4" rx="0.8" ry="0.7" fill="#6a5a80" fill-opacity="0.70"/><ellipse cx="45.3" cy="29.4" rx="1.1" ry="0.8" fill="#6a5a80" fill-opacity="0.82"/><ellipse cx="4.3" cy="8.0" rx="1.3" ry="0.8" fill="#4a4070" fill-opacity="0.69"/><ellipse cx="20.3" cy="12.0" rx="0.9" ry="0.8" fill="#6a5a80" fill-opacity="0.85"/><ellipse cx="29.6" cy="46.1" rx="1.3" ry="0.8" fill="#4a4070" fill-opacity="0.83"/><ellipse cx="31.6" cy="37.2" rx="1.0" ry="1.1" fill="#6a5a80" fill-opacity="0.87"/><ellipse cx="42.0" cy="33.5" rx="1.3" ry="0.6" fill="#5a4a7a" fill-opacity="0.80"/><ellipse cx="55.9" cy="17.9" rx="0.6" ry="0.6" fill="#4a4070" fill-opacity="0.77"/><ellipse cx="19.9" cy="52.7" rx="1.3" ry="0.6" fill="#5a4a7a" fill-opacity="0.53"/><ellipse cx="14.8" cy="40.6" rx="0.7" ry="0.7" fill="#6a5a80" fill-opacity="0.84"/><ellipse cx="44.1" cy="11.8" rx="1.1" ry="0.9" fill="#6a5a80" fill-opacity="0.61"/><ellipse cx="42.7" cy="8.9" rx="1.4" ry="0.9" fill="#5a4a7a" fill-opacity="0.60"/><ellipse cx="46.9" cy="39.3" rx="0.7" ry="1.0" fill="#6a5a80" fill-opacity="0.75"/><ellipse cx="42.3" cy="45.8" rx="1.0" ry="1.1" fill="#3a3060" fill-opacity="0.95"/><ellipse cx="22.0" cy="12.2" rx="0.8" ry="0.8" fill="#5a4a7a" fill-opacity="0.63"/><ellipse cx="1.8" cy="44.8" rx="1.2" ry="0.7" fill="#6a5a80" fill-opacity="0.82"/><ellipse cx="16.6" cy="30.6" rx="0.7" ry="0.6" fill="#5a4a7a" fill-opacity="0.65"/><ellipse cx="48.9" cy="61.7" rx="0.9" ry="0.8" fill="#6a5a80" fill-opacity="0.56"/><ellipse cx="26.4" cy="56.0" rx="1.3" ry="1.0" fill="#3a3060" fill-opacity="0.60"/><ellipse cx="3.4" cy="8.3" rx="0.8" ry="0.5" fill="#3a3060" fill-opacity="0.74"/><ellipse cx="28.8" cy="3.5" rx="0.8" ry="1.0" fill="#5a4a7a" fill-opacity="0.84"/><ellipse cx="28.0" cy="29.0" rx="1.1" ry="0.7" fill="#5a4a7a" fill-opacity="0.71"/><ellipse cx="1.9" cy="2.7" rx="1.0" ry="0.6" fill="#3a3060" fill-opacity="0.69"/><ellipse cx="41.3" cy="2.0" rx="0.9" ry="0.6" fill="#5a4a7a" fill-opacity="0.88"/><ellipse cx="29.9" cy="8.0" rx="1.4" ry="0.9" fill="#5a4a7a" fill-opacity="0.87"/><ellipse cx="27.0" cy="28.0" rx="0.8" ry="0.9" fill="#4a4070" fill-opacity="0.60"/><ellipse cx="17.8" cy="3.8" rx="1.4" ry="0.6" fill="#5a4a7a" fill-opacity="0.84"/><ellipse cx="17.1" cy="32.0" rx="0.8" ry="0.7" fill="#4a4070" fill-opacity="0.78"/><ellipse cx="11.1" cy="50.3" rx="1.0" ry="0.6" fill="#3a3060" fill-opacity="0.76"/><ellipse cx="18.9" cy="6.7" rx="0.8" ry="0.6" fill="#6a5a80" fill-opacity="0.83"/><ellipse cx="58.7" cy="22.5" rx="1.5" ry="1.1" fill="#5a4a7a" fill-opacity="0.52"/><ellipse cx="43.6" cy="6.0" rx="1.5" ry="0.7" fill="#4a4070" fill-opacity="0.88"/><ellipse cx="45.9" cy="31.7" rx="1.4" ry="0.9" fill="#3a3060" fill-opacity="0.85"/><ellipse cx="7.4" cy="55.9" rx="1.3" ry="0.8" fill="#6a5a80" fill-opacity="0.70"/><ellipse cx="10.3" cy="30.8" rx="1.4" ry="0.8" fill="#6a5a80" fill-opacity="0.93"/><ellipse cx="23.8" cy="1.2" rx="1.2" ry="0.7" fill="#6a5a80" fill-opacity="0.86"/><ellipse cx="32.3" cy="27.6" rx="1.2" ry="0.6" fill="#5a4a7a" fill-opacity="0.65"/><ellipse cx="20.3" cy="34.5" rx="1.4" ry="0.7" fill="#5a4a7a" fill-opacity="0.69"/><ellipse cx="15.8" cy="48.2" rx="1.1" ry="1.1" fill="#6a5a80" fill-opacity="0.59"/><ellipse cx="2.9" cy="34.4" rx="1.2" ry="0.9" fill="#3a3060" fill-opacity="0.92"/><ellipse cx="22.9" cy="37.1" rx="0.9" ry="1.0" fill="#3a3060" fill-opacity="0.61"/><ellipse cx="19.2" cy="12.3" rx="0.9" ry="0.6" fill="#4a4070" fill-opacity="0.77"/><ellipse cx="21.6" cy="35.2" rx="0.7" ry="0.7" fill="#4a4070" fill-opacity="0.62"/><ellipse cx="32.3" cy="45.5" rx="1.0" ry="0.5" fill="#6a5a80" fill-opacity="0.88"/><ellipse cx="30.0" cy="57.8" rx="0.7" ry="0.9" fill="#4a4070" fill-opacity="0.94"/><ellipse cx="46.2" cy="58.5" rx="0.8" ry="0.9" fill="#3a3060" fill-opacity="0.55"/><ellipse cx="8.5" cy="39.5" rx="1.5" ry="0.8" fill="#5a4a7a" fill-opacity="0.86"/><ellipse cx="21.9" cy="63.6" rx="1.0" ry="0.6" fill="#3a3060" fill-opacity="0.62"/><ellipse cx="56.0" cy="16.7" rx="1.1" ry="0.7" fill="#4a4070" fill-opacity="0.50"/><ellipse cx="7.5" cy="53.0" rx="1.5" ry="0.7" fill="#3a3060" fill-opacity="0.92"/><ellipse cx="28.2" cy="23.5" rx="1.3" ry="0.9" fill="#3a3060" fill-opacity="0.63"/><ellipse cx="6.9" cy="11.7" rx="1.2" ry="1.1" fill="#3a3060" fill-opacity="0.68"/><ellipse cx="59.6" cy="58.3" rx="1.1" ry="1.0" fill="#3a3060" fill-opacity="0.78"/><ellipse cx="56.8" cy="11.7" rx="0.6" ry="0.8" fill="#6a5a80" fill-opacity="0.78"/><ellipse cx="34.6" cy="13.8" rx="1.5" ry="1.0" fill="#6a5a80" fill-opacity="0.92"/><ellipse cx="62.2" cy="23.5" rx="1.0" ry="1.0" fill="#5a4a7a" fill-opacity="0.58"/><ellipse cx="14.5" cy="28.9" rx="1.5" ry="0.7" fill="#5a4a7a" fill-opacity="0.50"/><ellipse cx="24.8" cy="56.1" rx="1.3" ry="0.6" fill="#4a4070" fill-opacity="0.92"/><ellipse cx="17.1" cy="34.1" rx="1.5" ry="1.1" fill="#6a5a80" fill-opacity="0.75"/><ellipse cx="21.7" cy="41.6" rx="1.2" ry="0.9" fill="#3a3060" fill-opacity="0.67"/><ellipse cx="45.8" cy="22.5" rx="1.1" ry="0.5" fill="#5a4a7a" fill-opacity="0.52"/><ellipse cx="21.1" cy="17.8" rx="0.9" ry="0.7" fill="#4a4070" fill-opacity="0.94"/><ellipse cx="33.7" cy="35.1" rx="0.6" ry="0.8" fill="#6a5a80" fill-opacity="0.80"/><ellipse cx="41.7" cy="38.8" rx="0.8" ry="0.6" fill="#4a4070" fill-opacity="0.54"/><ellipse cx="18.2" cy="2.6" rx="0.7" ry="1.1" fill="#6a5a80" fill-opacity="0.61"/><ellipse cx="32.2" cy="18.6" rx="1.0" ry="1.0" fill="#4a4070" fill-opacity="0.81"/></pattern><pattern id="fib35" width="48" height="48" patternUnits="userSpaceOnUse" patternTransform="rotate(-35)"><ellipse cx="5.8" cy="26.3" rx="2.1" ry="0.6" fill="#7a8cc8" fill-opacity="0.76"/><ellipse cx="17.5" cy="31.9" rx="2.1" ry="0.6" fill="#7a8cc8" fill-opacity="0.77"/><ellipse cx="2.4" cy="19.7" rx="2.6" ry="0.7" fill="#7a8cc8" fill-opacity="0.46"/><ellipse cx="23.2" cy="36.0" rx="2.3" ry="0.5" fill="#5a74b8" fill-opacity="0.47"/><ellipse cx="29.8" cy="42.9" rx="2.4" ry="0.6" fill="#5a74b8" fill-opacity="0.71"/><ellipse cx="19.8" cy="26.7" rx="1.9" ry="0.5" fill="#5a74b8" fill-opacity="0.63"/><ellipse cx="2.8" cy="24.1" rx="2.5" ry="0.5" fill="#5a74b8" fill-opacity="0.61"/><ellipse cx="16.4" cy="36.8" rx="2.8" ry="0.6" fill="#7a8cc8" fill-opacity="0.63"/><ellipse cx="22.1" cy="44.6" rx="3.2" ry="0.7" fill="#5a74b8" fill-opacity="0.57"/><ellipse cx="23.6" cy="31.9" rx="4.2" ry="0.6" fill="#5a74b8" fill-opacity="0.57"/><ellipse cx="46.8" cy="39.1" rx="2.5" ry="0.7" fill="#7a8cc8" fill-opacity="0.77"/><ellipse cx="8.3" cy="6.1" rx="3.1" ry="0.5" fill="#7a8cc8" fill-opacity="0.80"/><ellipse cx="37.8" cy="36.8" rx="1.9" ry="0.5" fill="#5a74b8" fill-opacity="0.37"/><ellipse cx="24.1" cy="1.0" rx="3.3" ry="0.5" fill="#5a74b8" fill-opacity="0.37"/><ellipse cx="24.3" cy="44.4" rx="3.5" ry="0.6" fill="#7a8cc8" fill-opacity="0.59"/><ellipse cx="33.2" cy="28.7" rx="2.0" ry="0.6" fill="#7a8cc8" fill-opacity="0.67"/><ellipse cx="37.0" cy="19.2" rx="2.7" ry="0.5" fill="#7a8cc8" fill-opacity="0.44"/><ellipse cx="42.7" cy="33.9" rx="2.8" ry="0.8" fill="#5a74b8" fill-opacity="0.75"/><ellipse cx="16.5" cy="2.1" rx="3.1" ry="0.6" fill="#5a74b8" fill-opacity="0.36"/><ellipse cx="27.4" cy="44.8" rx="2.2" ry="0.5" fill="#5a74b8" fill-opacity="0.67"/><ellipse cx="29.7" cy="17.0" rx="3.9" ry="0.7" fill="#5a74b8" fill-opacity="0.48"/><ellipse cx="22.6" cy="41.9" rx="1.8" ry="0.5" fill="#5a74b8" fill-opacity="0.67"/><ellipse cx="37.1" cy="5.4" rx="2.7" ry="0.7" fill="#7a8cc8" fill-opacity="0.49"/><ellipse cx="16.9" cy="45.8" rx="3.0" ry="0.7" fill="#7a8cc8" fill-opacity="0.71"/><ellipse cx="6.0" cy="13.3" rx="3.0" ry="0.8" fill="#7a8cc8" fill-opacity="0.80"/><ellipse cx="10.4" cy="37.3" rx="2.1" ry="0.8" fill="#5a74b8" fill-opacity="0.80"/><ellipse cx="39.4" cy="24.2" rx="3.0" ry="0.7" fill="#7a8cc8" fill-opacity="0.51"/><ellipse cx="46.5" cy="6.4" rx="2.4" ry="0.5" fill="#7a8cc8" fill-opacity="0.74"/><ellipse cx="37.5" cy="44.7" rx="2.3" ry="0.8" fill="#5a74b8" fill-opacity="0.40"/><ellipse cx="3.0" cy="46.7" rx="3.0" ry="0.6" fill="#5a74b8" fill-opacity="0.63"/><ellipse cx="26.2" cy="13.3" rx="3.1" ry="0.6" fill="#5a74b8" fill-opacity="0.39"/><ellipse cx="35.6" cy="37.1" rx="3.0" ry="0.5" fill="#7a8cc8" fill-opacity="0.56"/><ellipse cx="15.3" cy="11.0" rx="2.3" ry="0.8" fill="#5a74b8" fill-opacity="0.77"/><ellipse cx="27.5" cy="33.6" rx="3.6" ry="0.6" fill="#5a74b8" fill-opacity="0.46"/><ellipse cx="20.8" cy="35.5" rx="2.5" ry="0.7" fill="#7a8cc8" fill-opacity="0.43"/><ellipse cx="38.5" cy="29.0" rx="3.3" ry="0.8" fill="#7a8cc8" fill-opacity="0.66"/><ellipse cx="22.3" cy="28.3" rx="2.1" ry="0.7" fill="#7a8cc8" fill-opacity="0.58"/><ellipse cx="4.2" cy="13.8" rx="2.7" ry="0.7" fill="#7a8cc8" fill-opacity="0.64"/><ellipse cx="45.3" cy="35.9" rx="3.3" ry="0.8" fill="#7a8cc8" fill-opacity="0.76"/><ellipse cx="15.9" cy="1.1" rx="1.9" ry="0.6" fill="#5a74b8" fill-opacity="0.75"/></pattern><pattern id="fib35d" width="48" height="48" patternUnits="userSpaceOnUse" patternTransform="rotate(35)"><ellipse cx="13.3" cy="35.7" rx="2.7" ry="0.5" fill="#1a3a8a" fill-opacity="0.56"/><ellipse cx="42.1" cy="26.1" rx="2.9" ry="0.5" fill="#1a3a8a" fill-opacity="0.55"/><ellipse cx="4.3" cy="5.8" rx="2.2" ry="0.5" fill="#3a5aaa" fill-opacity="0.90"/><ellipse cx="22.2" cy="38.5" rx="3.3" ry="0.8" fill="#2a4a9a" fill-opacity="0.84"/><ellipse cx="20.0" cy="41.5" rx="2.7" ry="0.5" fill="#1a3a8a" fill-opacity="0.59"/><ellipse cx="33.1" cy="15.0" rx="3.3" ry="0.7" fill="#2a4a9a" fill-opacity="0.61"/><ellipse cx="19.1" cy="29.1" rx="4.1" ry="0.7" fill="#1a3a8a" fill-opacity="0.71"/><ellipse cx="19.1" cy="10.8" rx="2.9" ry="0.5" fill="#2a4a9a" fill-opacity="0.73"/><ellipse cx="47.5" cy="5.3" rx="3.2" ry="0.6" fill="#1a3a8a" fill-opacity="0.80"/><ellipse cx="37.6" cy="19.4" rx="3.3" ry="0.6" fill="#3a5aaa" fill-opacity="0.92"/><ellipse cx="16.4" cy="30.2" rx="4.1" ry="0.8" fill="#1a3a8a" fill-opacity="0.66"/><ellipse cx="25.9" cy="32.3" rx="3.4" ry="0.8" fill="#3a5aaa" fill-opacity="0.71"/><ellipse cx="29.3" cy="19.4" rx="2.1" ry="0.6" fill="#3a5aaa" fill-opacity="0.63"/><ellipse cx="8.0" cy="25.2" rx="3.0" ry="0.8" fill="#1a3a8a" fill-opacity="0.71"/><ellipse cx="29.6" cy="37.5" rx="2.3" ry="0.7" fill="#2a4a9a" fill-opacity="0.93"/><ellipse cx="25.9" cy="17.3" rx="2.6" ry="0.5" fill="#3a5aaa" fill-opacity="0.86"/><ellipse cx="41.4" cy="13.4" rx="2.8" ry="0.5" fill="#1a3a8a" fill-opacity="0.74"/><ellipse cx="30.1" cy="13.5" rx="4.0" ry="0.8" fill="#3a5aaa" fill-opacity="0.62"/><ellipse cx="5.3" cy="38.9" rx="3.7" ry="0.7" fill="#2a4a9a" fill-opacity="0.68"/><ellipse cx="14.3" cy="24.3" rx="3.9" ry="0.7" fill="#2a4a9a" fill-opacity="0.70"/><ellipse cx="46.7" cy="37.6" rx="2.1" ry="0.5" fill="#2a4a9a" fill-opacity="0.54"/><ellipse cx="25.0" cy="36.6" rx="2.5" ry="0.6" fill="#3a5aaa" fill-opacity="0.59"/><ellipse cx="41.9" cy="18.2" rx="1.9" ry="0.8" fill="#1a3a8a" fill-opacity="0.77"/><ellipse cx="45.9" cy="25.0" rx="3.8" ry="0.6" fill="#1a3a8a" fill-opacity="0.87"/><ellipse cx="30.8" cy="1.5" rx="3.3" ry="0.5" fill="#3a5aaa" fill-opacity="0.80"/><ellipse cx="39.0" cy="2.9" rx="4.2" ry="0.6" fill="#2a4a9a" fill-opacity="0.91"/><ellipse cx="0.1" cy="38.3" rx="2.1" ry="0.8" fill="#2a4a9a" fill-opacity="0.80"/><ellipse cx="47.5" cy="21.0" rx="2.3" ry="0.5" fill="#3a5aaa" fill-opacity="0.85"/><ellipse cx="25.4" cy="0.9" rx="2.4" ry="0.8" fill="#3a5aaa" fill-opacity="0.56"/><ellipse cx="14.1" cy="29.1" rx="3.7" ry="0.6" fill="#1a3a8a" fill-opacity="0.80"/><ellipse cx="1.3" cy="3.1" rx="3.5" ry="0.6" fill="#3a5aaa" fill-opacity="0.94"/><ellipse cx="24.0" cy="31.8" rx="1.9" ry="0.5" fill="#3a5aaa" fill-opacity="0.54"/><ellipse cx="13.7" cy="27.8" rx="2.5" ry="0.8" fill="#1a3a8a" fill-opacity="0.65"/><ellipse cx="10.0" cy="20.3" rx="4.0" ry="0.8" fill="#1a3a8a" fill-opacity="0.89"/><ellipse cx="18.5" cy="12.5" rx="2.9" ry="0.6" fill="#1a3a8a" fill-opacity="0.79"/><ellipse cx="37.4" cy="40.5" rx="2.9" ry="0.7" fill="#2a4a9a" fill-opacity="0.66"/><ellipse cx="13.8" cy="24.4" rx="3.0" ry="0.6" fill="#2a4a9a" fill-opacity="0.56"/><ellipse cx="21.5" cy="34.2" rx="3.0" ry="0.6" fill="#2a4a9a" fill-opacity="0.70"/><ellipse cx="0.2" cy="4.7" rx="2.0" ry="0.6" fill="#2a4a9a" fill-opacity="0.80"/><ellipse cx="1.7" cy="44.7" rx="2.6" ry="0.8" fill="#2a4a9a" fill-opacity="0.77"/><ellipse cx="20.5" cy="8.2" rx="4.2" ry="0.6" fill="#1a3a8a" fill-opacity="0.82"/><ellipse cx="28.2" cy="34.3" rx="2.8" ry="0.7" fill="#2a4a9a" fill-opacity="0.52"/><ellipse cx="36.8" cy="4.9" rx="2.0" ry="0.6" fill="#1a3a8a" fill-opacity="0.80"/><ellipse cx="6.0" cy="43.0" rx="3.3" ry="0.7" fill="#1a3a8a" fill-opacity="0.89"/><ellipse cx="3.0" cy="18.2" rx="2.8" ry="0.7" fill="#2a4a9a" fill-opacity="0.81"/><ellipse cx="30.7" cy="31.8" rx="4.0" ry="0.7" fill="#2a4a9a" fill-opacity="0.69"/><ellipse cx="17.9" cy="35.2" rx="2.9" ry="0.5" fill="#2a4a9a" fill-opacity="0.61"/><ellipse cx="16.5" cy="4.1" rx="3.9" ry="0.5" fill="#2a4a9a" fill-opacity="0.57"/><ellipse cx="43.9" cy="39.3" rx="2.1" ry="0.6" fill="#3a5aaa" fill-opacity="0.61"/><ellipse cx="11.0" cy="44.8" rx="2.1" ry="0.8" fill="#2a4a9a" fill-opacity="0.82"/><ellipse cx="11.7" cy="20.5" rx="2.7" ry="0.5" fill="#1a3a8a" fill-opacity="0.74"/><ellipse cx="35.1" cy="11.2" rx="2.4" ry="0.6" fill="#1a3a8a" fill-opacity="0.94"/><ellipse cx="47.6" cy="0.4" rx="1.9" ry="0.8" fill="#1a3a8a" fill-opacity="0.76"/><ellipse cx="27.7" cy="27.6" rx="4.1" ry="0.6" fill="#2a4a9a" fill-opacity="0.90"/><ellipse cx="33.1" cy="3.6" rx="2.5" ry="0.8" fill="#2a4a9a" fill-opacity="0.56"/><ellipse cx="43.2" cy="24.6" rx="4.1" ry="0.6" fill="#1a3a8a" fill-opacity="0.74"/><ellipse cx="46.5" cy="43.1" rx="3.1" ry="0.8" fill="#3a5aaa" fill-opacity="0.56"/><ellipse cx="35.4" cy="28.8" rx="2.6" ry="0.6" fill="#2a4a9a" fill-opacity="0.87"/><ellipse cx="12.3" cy="17.8" rx="2.4" ry="0.7" fill="#1a3a8a" fill-opacity="0.53"/><ellipse cx="37.7" cy="23.5" rx="2.7" ry="0.5" fill="#3a5aaa" fill-opacity="0.88"/><ellipse cx="38.3" cy="46.4" rx="3.9" ry="0.7" fill="#1a3a8a" fill-opacity="0.61"/><ellipse cx="36.3" cy="47.9" rx="2.2" ry="0.5" fill="#1a3a8a" fill-opacity="0.62"/><ellipse cx="29.7" cy="3.2" rx="2.8" ry="0.5" fill="#2a4a9a" fill-opacity="0.55"/><ellipse cx="25.2" cy="16.8" rx="2.5" ry="0.6" fill="#1a3a8a" fill-opacity="0.76"/><ellipse cx="10.5" cy="0.2" rx="3.8" ry="0.7" fill="#3a5aaa" fill-opacity="0.56"/><ellipse cx="30.3" cy="4.0" rx="4.0" ry="0.6" fill="#2a4a9a" fill-opacity="0.69"/><ellipse cx="17.0" cy="30.5" rx="2.1" ry="0.7" fill="#2a4a9a" fill-opacity="0.86"/><ellipse cx="21.6" cy="28.0" rx="2.1" ry="0.6" fill="#3a5aaa" fill-opacity="0.84"/><ellipse cx="4.2" cy="31.8" rx="2.6" ry="0.7" fill="#3a5aaa" fill-opacity="0.73"/><ellipse cx="31.0" cy="39.0" rx="1.9" ry="0.6" fill="#2a4a9a" fill-opacity="0.91"/></pattern><pattern id="fibm50" width="48" height="48" patternUnits="userSpaceOnUse" patternTransform="rotate(-50)"><ellipse cx="26.5" cy="29.7" rx="3.3" ry="0.8" fill="#5a74b8" fill-opacity="0.78"/><ellipse cx="35.5" cy="38.7" rx="2.3" ry="0.7" fill="#5a74b8" fill-opacity="0.78"/><ellipse cx="24.4" cy="47.2" rx="4.0" ry="0.5" fill="#7a8cc8" fill-opacity="0.59"/><ellipse cx="25.9" cy="24.3" rx="3.6" ry="0.8" fill="#7a8cc8" fill-opacity="0.41"/><ellipse cx="7.9" cy="29.7" rx="3.5" ry="0.8" fill="#5a74b8" fill-opacity="0.63"/><ellipse cx="31.0" cy="42.6" rx="1.9" ry="0.5" fill="#5a74b8" fill-opacity="0.67"/><ellipse cx="40.7" cy="18.6" rx="4.1" ry="0.5" fill="#5a74b8" fill-opacity="0.52"/><ellipse cx="12.7" cy="4.0" rx="2.9" ry="0.6" fill="#5a74b8" fill-opacity="0.74"/><ellipse cx="5.8" cy="17.1" rx="2.8" ry="0.6" fill="#7a8cc8" fill-opacity="0.62"/><ellipse cx="26.7" cy="5.6" rx="1.9" ry="0.5" fill="#7a8cc8" fill-opacity="0.80"/><ellipse cx="41.2" cy="20.2" rx="3.9" ry="0.7" fill="#5a74b8" fill-opacity="0.61"/><ellipse cx="24.6" cy="34.4" rx="3.5" ry="0.5" fill="#5a74b8" fill-opacity="0.74"/><ellipse cx="9.3" cy="36.5" rx="2.7" ry="0.7" fill="#7a8cc8" fill-opacity="0.79"/><ellipse cx="11.6" cy="40.7" rx="2.5" ry="0.7" fill="#5a74b8" fill-opacity="0.75"/><ellipse cx="42.4" cy="33.5" rx="3.6" ry="0.6" fill="#5a74b8" fill-opacity="0.47"/><ellipse cx="16.9" cy="17.6" rx="2.4" ry="0.8" fill="#5a74b8" fill-opacity="0.43"/><ellipse cx="36.8" cy="9.4" rx="3.6" ry="0.6" fill="#7a8cc8" fill-opacity="0.69"/><ellipse cx="42.5" cy="11.2" rx="2.0" ry="0.7" fill="#7a8cc8" fill-opacity="0.47"/><ellipse cx="46.0" cy="15.8" rx="2.4" ry="0.7" fill="#5a74b8" fill-opacity="0.48"/><ellipse cx="41.8" cy="31.6" rx="2.7" ry="0.5" fill="#7a8cc8" fill-opacity="0.75"/><ellipse cx="31.9" cy="16.8" rx="3.9" ry="0.6" fill="#5a74b8" fill-opacity="0.74"/><ellipse cx="13.6" cy="46.3" rx="3.6" ry="0.6" fill="#5a74b8" fill-opacity="0.79"/><ellipse cx="13.4" cy="38.4" rx="3.3" ry="0.7" fill="#5a74b8" fill-opacity="0.41"/><ellipse cx="39.8" cy="44.3" rx="2.4" ry="0.5" fill="#5a74b8" fill-opacity="0.68"/><ellipse cx="1.9" cy="26.9" rx="3.5" ry="0.7" fill="#5a74b8" fill-opacity="0.50"/><ellipse cx="22.3" cy="19.8" rx="3.7" ry="0.8" fill="#7a8cc8" fill-opacity="0.44"/><ellipse cx="45.8" cy="30.8" rx="1.9" ry="0.8" fill="#5a74b8" fill-opacity="0.60"/><ellipse cx="16.0" cy="47.2" rx="1.9" ry="0.5" fill="#5a74b8" fill-opacity="0.71"/><ellipse cx="0.7" cy="9.3" rx="2.1" ry="0.8" fill="#5a74b8" fill-opacity="0.59"/><ellipse cx="38.0" cy="2.7" rx="2.3" ry="0.6" fill="#5a74b8" fill-opacity="0.71"/><ellipse cx="16.0" cy="45.0" rx="3.6" ry="0.5" fill="#7a8cc8" fill-opacity="0.36"/><ellipse cx="6.6" cy="37.6" rx="3.8" ry="0.5" fill="#5a74b8" fill-opacity="0.43"/><ellipse cx="10.2" cy="36.8" rx="2.4" ry="0.6" fill="#5a74b8" fill-opacity="0.35"/><ellipse cx="16.9" cy="28.8" rx="3.4" ry="0.6" fill="#7a8cc8" fill-opacity="0.55"/><ellipse cx="14.5" cy="0.2" rx="3.7" ry="0.8" fill="#7a8cc8" fill-opacity="0.41"/><ellipse cx="5.6" cy="5.7" rx="3.4" ry="0.8" fill="#5a74b8" fill-opacity="0.73"/><ellipse cx="28.6" cy="25.5" rx="2.6" ry="0.7" fill="#5a74b8" fill-opacity="0.60"/><ellipse cx="26.9" cy="27.3" rx="3.8" ry="0.6" fill="#7a8cc8" fill-opacity="0.75"/><ellipse cx="40.0" cy="9.2" rx="2.3" ry="0.5" fill="#5a74b8" fill-opacity="0.45"/><ellipse cx="9.8" cy="0.4" rx="3.2" ry="0.6" fill="#5a74b8" fill-opacity="0.69"/></pattern><pattern id="fib50" width="48" height="48" patternUnits="userSpaceOnUse" patternTransform="rotate(48)"><ellipse cx="30.3" cy="2.9" rx="3.9" ry="0.6" fill="#5a74b8" fill-opacity="0.51"/><ellipse cx="33.6" cy="25.5" rx="1.9" ry="0.6" fill="#5a74b8" fill-opacity="0.80"/><ellipse cx="11.8" cy="45.3" rx="2.3" ry="0.7" fill="#5a74b8" fill-opacity="0.47"/><ellipse cx="23.5" cy="24.1" rx="3.4" ry="0.7" fill="#5a74b8" fill-opacity="0.43"/><ellipse cx="47.1" cy="26.3" rx="1.9" ry="0.6" fill="#5a74b8" fill-opacity="0.58"/><ellipse cx="12.2" cy="43.3" rx="3.1" ry="0.6" fill="#5a74b8" fill-opacity="0.62"/><ellipse cx="40.6" cy="10.8" rx="2.9" ry="0.6" fill="#5a74b8" fill-opacity="0.77"/><ellipse cx="34.5" cy="33.6" rx="3.1" ry="0.8" fill="#5a74b8" fill-opacity="0.55"/><ellipse cx="25.0" cy="10.8" rx="2.8" ry="0.6" fill="#5a74b8" fill-opacity="0.68"/><ellipse cx="41.7" cy="47.9" rx="3.8" ry="0.7" fill="#5a74b8" fill-opacity="0.59"/><ellipse cx="39.4" cy="14.5" rx="2.5" ry="0.6" fill="#5a74b8" fill-opacity="0.70"/><ellipse cx="16.8" cy="30.0" rx="2.1" ry="0.8" fill="#5a74b8" fill-opacity="0.43"/><ellipse cx="4.5" cy="0.0" rx="2.4" ry="0.5" fill="#5a74b8" fill-opacity="0.50"/><ellipse cx="43.1" cy="34.1" rx="2.9" ry="0.5" fill="#5a74b8" fill-opacity="0.75"/><ellipse cx="12.7" cy="7.8" rx="3.9" ry="0.8" fill="#5a74b8" fill-opacity="0.47"/><ellipse cx="11.9" cy="5.9" rx="2.0" ry="0.5" fill="#5a74b8" fill-opacity="0.73"/><ellipse cx="6.5" cy="8.8" rx="4.0" ry="0.5" fill="#5a74b8" fill-opacity="0.70"/><ellipse cx="9.8" cy="13.0" rx="2.6" ry="0.6" fill="#5a74b8" fill-opacity="0.62"/><ellipse cx="12.4" cy="41.5" rx="2.1" ry="0.7" fill="#5a74b8" fill-opacity="0.53"/><ellipse cx="21.4" cy="17.7" rx="3.1" ry="0.8" fill="#5a74b8" fill-opacity="0.36"/><ellipse cx="40.3" cy="31.5" rx="2.3" ry="0.8" fill="#5a74b8" fill-opacity="0.59"/><ellipse cx="22.0" cy="12.5" rx="4.0" ry="0.7" fill="#5a74b8" fill-opacity="0.55"/><ellipse cx="0.1" cy="34.2" rx="2.5" ry="0.5" fill="#5a74b8" fill-opacity="0.49"/><ellipse cx="19.0" cy="30.9" rx="2.0" ry="0.8" fill="#5a74b8" fill-opacity="0.35"/><ellipse cx="30.3" cy="43.3" rx="3.5" ry="0.5" fill="#5a74b8" fill-opacity="0.68"/><ellipse cx="27.6" cy="45.0" rx="3.5" ry="0.8" fill="#5a74b8" fill-opacity="0.68"/><ellipse cx="46.5" cy="16.8" rx="2.9" ry="0.6" fill="#5a74b8" fill-opacity="0.79"/><ellipse cx="4.0" cy="11.9" rx="2.1" ry="0.5" fill="#5a74b8" fill-opacity="0.47"/><ellipse cx="19.9" cy="26.5" rx="4.1" ry="0.8" fill="#5a74b8" fill-opacity="0.49"/><ellipse cx="5.7" cy="21.2" rx="3.4" ry="0.8" fill="#5a74b8" fill-opacity="0.74"/><ellipse cx="23.7" cy="1.0" rx="3.4" ry="0.6" fill="#5a74b8" fill-opacity="0.70"/><ellipse cx="13.5" cy="21.7" rx="2.9" ry="0.5" fill="#5a74b8" fill-opacity="0.60"/><ellipse cx="27.5" cy="34.1" rx="3.0" ry="0.8" fill="#5a74b8" fill-opacity="0.73"/><ellipse cx="38.1" cy="42.6" rx="2.9" ry="0.5" fill="#5a74b8" fill-opacity="0.56"/><ellipse cx="7.1" cy="0.8" rx="3.2" ry="0.5" fill="#5a74b8" fill-opacity="0.74"/><ellipse cx="39.4" cy="44.4" rx="4.2" ry="0.7" fill="#5a74b8" fill-opacity="0.78"/><ellipse cx="33.2" cy="18.6" rx="2.1" ry="0.8" fill="#5a74b8" fill-opacity="0.59"/><ellipse cx="38.1" cy="9.8" rx="3.3" ry="0.8" fill="#5a74b8" fill-opacity="0.46"/><ellipse cx="47.9" cy="25.6" rx="4.1" ry="0.7" fill="#5a74b8" fill-opacity="0.59"/><ellipse cx="47.9" cy="46.0" rx="3.3" ry="0.5" fill="#5a74b8" fill-opacity="0.76"/></pattern><pattern id="fib10" width="48" height="48" patternUnits="userSpaceOnUse" patternTransform="rotate(12)"><ellipse cx="1.7" cy="21.2" rx="2.4" ry="0.6" fill="#4a64b0" fill-opacity="0.54"/><ellipse cx="8.1" cy="2.5" rx="2.9" ry="0.5" fill="#4a64b0" fill-opacity="0.47"/><ellipse cx="14.8" cy="9.6" rx="3.7" ry="0.7" fill="#6a7cc0" fill-opacity="0.62"/><ellipse cx="25.2" cy="16.6" rx="2.1" ry="0.5" fill="#4a64b0" fill-opacity="0.50"/><ellipse cx="4.9" cy="29.6" rx="2.0" ry="0.6" fill="#4a64b0" fill-opacity="0.69"/><ellipse cx="32.6" cy="28.0" rx="2.9" ry="0.5" fill="#6a7cc0" fill-opacity="0.37"/><ellipse cx="33.3" cy="17.6" rx="2.4" ry="0.5" fill="#6a7cc0" fill-opacity="0.62"/><ellipse cx="12.0" cy="11.2" rx="3.8" ry="0.5" fill="#4a64b0" fill-opacity="0.45"/><ellipse cx="42.6" cy="11.4" rx="2.5" ry="0.5" fill="#6a7cc0" fill-opacity="0.54"/><ellipse cx="44.7" cy="31.4" rx="2.3" ry="0.5" fill="#6a7cc0" fill-opacity="0.36"/><ellipse cx="44.3" cy="26.1" rx="4.1" ry="0.5" fill="#4a64b0" fill-opacity="0.79"/><ellipse cx="13.1" cy="8.6" rx="2.4" ry="0.7" fill="#6a7cc0" fill-opacity="0.79"/><ellipse cx="39.8" cy="21.1" rx="3.7" ry="0.8" fill="#4a64b0" fill-opacity="0.51"/><ellipse cx="11.2" cy="24.6" rx="3.3" ry="0.8" fill="#4a64b0" fill-opacity="0.44"/><ellipse cx="24.3" cy="44.0" rx="3.7" ry="0.8" fill="#6a7cc0" fill-opacity="0.55"/><ellipse cx="33.1" cy="33.2" rx="3.0" ry="0.7" fill="#6a7cc0" fill-opacity="0.67"/><ellipse cx="18.1" cy="12.0" rx="2.7" ry="0.6" fill="#4a64b0" fill-opacity="0.44"/><ellipse cx="13.2" cy="26.0" rx="2.1" ry="0.5" fill="#6a7cc0" fill-opacity="0.62"/><ellipse cx="37.2" cy="16.5" rx="2.7" ry="0.6" fill="#4a64b0" fill-opacity="0.38"/><ellipse cx="21.3" cy="42.7" rx="2.4" ry="0.8" fill="#6a7cc0" fill-opacity="0.52"/><ellipse cx="34.2" cy="26.4" rx="2.5" ry="0.8" fill="#4a64b0" fill-opacity="0.35"/><ellipse cx="21.7" cy="27.1" rx="2.5" ry="0.5" fill="#6a7cc0" fill-opacity="0.36"/><ellipse cx="45.6" cy="44.6" rx="3.2" ry="0.5" fill="#6a7cc0" fill-opacity="0.52"/><ellipse cx="6.9" cy="13.4" rx="3.4" ry="0.7" fill="#4a64b0" fill-opacity="0.73"/><ellipse cx="48.0" cy="18.2" rx="2.0" ry="0.6" fill="#6a7cc0" fill-opacity="0.47"/><ellipse cx="14.1" cy="42.1" rx="1.9" ry="0.5" fill="#4a64b0" fill-opacity="0.70"/><ellipse cx="8.9" cy="20.3" rx="2.5" ry="0.7" fill="#6a7cc0" fill-opacity="0.76"/><ellipse cx="22.5" cy="19.0" rx="3.7" ry="0.8" fill="#4a64b0" fill-opacity="0.46"/><ellipse cx="32.3" cy="10.1" rx="3.1" ry="0.5" fill="#4a64b0" fill-opacity="0.49"/><ellipse cx="1.1" cy="35.7" rx="4.2" ry="0.8" fill="#4a64b0" fill-opacity="0.51"/><ellipse cx="39.5" cy="3.1" rx="2.5" ry="0.8" fill="#4a64b0" fill-opacity="0.50"/><ellipse cx="45.2" cy="44.0" rx="3.2" ry="0.5" fill="#6a7cc0" fill-opacity="0.48"/><ellipse cx="4.3" cy="1.5" rx="4.0" ry="0.5" fill="#4a64b0" fill-opacity="0.78"/><ellipse cx="8.4" cy="39.1" rx="3.1" ry="0.5" fill="#4a64b0" fill-opacity="0.60"/><ellipse cx="40.7" cy="14.5" rx="2.2" ry="0.5" fill="#4a64b0" fill-opacity="0.79"/><ellipse cx="37.9" cy="3.3" rx="3.2" ry="0.6" fill="#4a64b0" fill-opacity="0.67"/><ellipse cx="24.7" cy="16.2" rx="3.0" ry="0.7" fill="#4a64b0" fill-opacity="0.73"/><ellipse cx="0.2" cy="17.0" rx="2.9" ry="0.5" fill="#4a64b0" fill-opacity="0.66"/><ellipse cx="21.5" cy="44.8" rx="3.6" ry="0.6" fill="#4a64b0" fill-opacity="0.80"/><ellipse cx="35.4" cy="4.7" rx="1.9" ry="0.6" fill="#4a64b0" fill-opacity="0.62"/><ellipse cx="25.0" cy="5.2" rx="2.6" ry="0.5" fill="#4a64b0" fill-opacity="0.64"/><ellipse cx="27.7" cy="9.7" rx="2.2" ry="0.7" fill="#6a7cc0" fill-opacity="0.78"/><ellipse cx="22.5" cy="26.8" rx="2.3" ry="0.7" fill="#6a7cc0" fill-opacity="0.74"/><ellipse cx="35.0" cy="40.4" rx="2.1" ry="0.5" fill="#4a64b0" fill-opacity="0.40"/><ellipse cx="17.4" cy="19.9" rx="4.1" ry="0.6" fill="#4a64b0" fill-opacity="0.61"/><ellipse cx="19.7" cy="18.4" rx="2.4" ry="0.6" fill="#6a7cc0" fill-opacity="0.68"/><ellipse cx="13.9" cy="32.9" rx="2.9" ry="0.6" fill="#4a64b0" fill-opacity="0.44"/><ellipse cx="11.6" cy="47.9" rx="2.7" ry="0.5" fill="#6a7cc0" fill-opacity="0.53"/><ellipse cx="43.8" cy="2.0" rx="2.5" ry="0.6" fill="#6a7cc0" fill-opacity="0.45"/><ellipse cx="45.7" cy="6.5" rx="3.2" ry="0.7" fill="#6a7cc0" fill-opacity="0.64"/><ellipse cx="40.9" cy="10.1" rx="3.0" ry="0.6" fill="#4a64b0" fill-opacity="0.49"/><ellipse cx="2.6" cy="15.6" rx="3.9" ry="0.5" fill="#6a7cc0" fill-opacity="0.41"/><ellipse cx="9.3" cy="13.1" rx="1.8" ry="0.6" fill="#4a64b0" fill-opacity="0.64"/><ellipse cx="42.9" cy="33.1" rx="3.4" ry="0.5" fill="#4a64b0" fill-opacity="0.72"/><ellipse cx="36.3" cy="23.4" rx="3.7" ry="0.5" fill="#4a64b0" fill-opacity="0.65"/></pattern><pattern id="fib45" width="48" height="48" patternUnits="userSpaceOnUse" patternTransform="rotate(42)"><ellipse cx="41.7" cy="26.8" rx="1.9" ry="0.7" fill="#8a8ab8" fill-opacity="0.39"/><ellipse cx="28.1" cy="21.6" rx="3.9" ry="0.8" fill="#6a7ab8" fill-opacity="0.70"/><ellipse cx="13.5" cy="24.0" rx="2.4" ry="0.7" fill="#6a7ab8" fill-opacity="0.67"/><ellipse cx="27.5" cy="28.1" rx="3.0" ry="0.7" fill="#8a8ab8" fill-opacity="0.63"/><ellipse cx="10.5" cy="22.2" rx="3.8" ry="0.5" fill="#6a7ab8" fill-opacity="0.77"/><ellipse cx="21.9" cy="27.4" rx="3.3" ry="0.8" fill="#8a8ab8" fill-opacity="0.75"/><ellipse cx="15.2" cy="42.8" rx="2.6" ry="0.6" fill="#8a8ab8" fill-opacity="0.70"/><ellipse cx="31.1" cy="45.2" rx="3.0" ry="0.7" fill="#8a8ab8" fill-opacity="0.46"/><ellipse cx="45.2" cy="34.9" rx="2.9" ry="0.5" fill="#8a8ab8" fill-opacity="0.80"/><ellipse cx="4.8" cy="30.5" rx="3.6" ry="0.6" fill="#6a7ab8" fill-opacity="0.53"/><ellipse cx="0.1" cy="24.1" rx="2.6" ry="0.5" fill="#8a8ab8" fill-opacity="0.44"/><ellipse cx="23.8" cy="18.7" rx="2.1" ry="0.5" fill="#8a8ab8" fill-opacity="0.59"/><ellipse cx="33.0" cy="15.1" rx="2.6" ry="0.6" fill="#6a7ab8" fill-opacity="0.80"/><ellipse cx="19.0" cy="22.1" rx="3.4" ry="0.6" fill="#8a8ab8" fill-opacity="0.56"/><ellipse cx="36.3" cy="19.0" rx="3.9" ry="0.5" fill="#8a8ab8" fill-opacity="0.62"/><ellipse cx="27.8" cy="22.3" rx="2.3" ry="0.5" fill="#8a8ab8" fill-opacity="0.73"/><ellipse cx="28.8" cy="39.6" rx="4.2" ry="0.8" fill="#8a8ab8" fill-opacity="0.53"/><ellipse cx="35.6" cy="14.1" rx="2.4" ry="0.8" fill="#6a7ab8" fill-opacity="0.35"/><ellipse cx="45.2" cy="8.2" rx="2.2" ry="0.7" fill="#8a8ab8" fill-opacity="0.54"/><ellipse cx="12.7" cy="36.4" rx="2.9" ry="0.6" fill="#6a7ab8" fill-opacity="0.52"/><ellipse cx="8.9" cy="18.4" rx="2.1" ry="0.7" fill="#6a7ab8" fill-opacity="0.44"/><ellipse cx="9.2" cy="26.9" rx="4.2" ry="0.7" fill="#6a7ab8" fill-opacity="0.40"/><ellipse cx="11.3" cy="46.3" rx="3.2" ry="0.7" fill="#8a8ab8" fill-opacity="0.71"/><ellipse cx="31.1" cy="43.6" rx="3.3" ry="0.7" fill="#8a8ab8" fill-opacity="0.45"/><ellipse cx="16.5" cy="34.5" rx="2.8" ry="0.6" fill="#8a8ab8" fill-opacity="0.59"/><ellipse cx="23.8" cy="12.3" rx="3.7" ry="0.8" fill="#6a7ab8" fill-opacity="0.77"/><ellipse cx="33.7" cy="22.4" rx="2.1" ry="0.5" fill="#8a8ab8" fill-opacity="0.55"/><ellipse cx="18.4" cy="28.6" rx="3.5" ry="0.8" fill="#6a7ab8" fill-opacity="0.42"/><ellipse cx="9.8" cy="30.6" rx="3.9" ry="0.6" fill="#6a7ab8" fill-opacity="0.37"/><ellipse cx="44.8" cy="13.7" rx="3.6" ry="0.6" fill="#8a8ab8" fill-opacity="0.64"/><ellipse cx="28.9" cy="43.6" rx="3.2" ry="0.7" fill="#6a7ab8" fill-opacity="0.49"/><ellipse cx="5.2" cy="26.8" rx="3.1" ry="0.8" fill="#6a7ab8" fill-opacity="0.55"/><ellipse cx="45.9" cy="14.4" rx="2.6" ry="0.8" fill="#8a8ab8" fill-opacity="0.63"/><ellipse cx="4.8" cy="14.9" rx="3.1" ry="0.5" fill="#6a7ab8" fill-opacity="0.48"/><ellipse cx="5.9" cy="41.9" rx="3.8" ry="0.7" fill="#6a7ab8" fill-opacity="0.47"/><ellipse cx="39.8" cy="1.4" rx="1.9" ry="0.6" fill="#6a7ab8" fill-opacity="0.40"/><ellipse cx="11.9" cy="42.0" rx="2.4" ry="0.6" fill="#6a7ab8" fill-opacity="0.52"/><ellipse cx="29.8" cy="24.4" rx="3.0" ry="0.6" fill="#8a8ab8" fill-opacity="0.42"/><ellipse cx="3.7" cy="26.0" rx="2.3" ry="0.7" fill="#6a7ab8" fill-opacity="0.39"/><ellipse cx="14.5" cy="32.1" rx="3.3" ry="0.7" fill="#6a7ab8" fill-opacity="0.39"/></pattern><clipPath id="clip00"><rect x="360" y="1055.5" width="199" height="190.0"/></clipPath><clipPath id="clip01"><rect x="360" y="1256.2" width="199" height="191.0"/></clipPath><clipPath id="clip10"><rect x="566.3" y="1055.5" width="199.0" height="190.0"/></clipPath><clipPath id="clip11"><rect x="566.3" y="1256.2" width="199.0" height="191.0"/></clipPath><clipPath id="clip20"><rect x="779.3" y="1055.5" width="198.80000000000007" height="190.0"/></clipPath><clipPath id="clip21"><rect x="779.3" y="1256.2" width="198.80000000000007" height="191.0"/></clipPath><clipPath id="clip30"><rect x="992.2" y="1055.5" width="194.39999999999986" height="190.0"/></clipPath><clipPath id="clip31"><rect x="992.2" y="1256.2" width="194.39999999999986" height="191.0"/></clipPath><clipPath id="clip40"><rect x="1192.6" y="1055.5" width="193.9000000000001" height="190.0"/></clipPath><clipPath id="clip41"><rect x="1192.6" y="1256.2" width="193.9000000000001" height="191.0"/></clipPath></defs>
<g clip-path="url(#clip00)">
<rect x="360.00" y="1055.50" width="199.00" height="190.00" fill="#dce1e4" stroke="none" stroke-width="1" />
<path d="M501.1,1055.5 C509.3,1052.4 549.8,1042.6 559.5,1055.5 C569.3,1068.3 561.2,1121.4 559.5,1132.6 C557.9,1143.8 553.7,1127.0 549.6,1122.7 C545.4,1118.3 539.2,1111.9 534.6,1106.5 C530.1,1101.1 526.3,1095.7 522.2,1090.3 C518.1,1084.9 513.3,1080.0 509.8,1074.1 C506.2,1068.3 492.8,1058.6 501.1,1055.5 Z" fill="#f7f8f8" fill-opacity="1.0"/>
<path d="M360.5,1106.5 C363.4,1103.2 374.2,1105.0 377.9,1107.7 C381.6,1110.4 383.7,1118.9 382.9,1122.7 C382.0,1126.4 376.7,1129.3 372.9,1130.1 C369.2,1131.0 362.6,1131.6 360.5,1127.6 C358.4,1123.7 357.6,1109.8 360.5,1106.5 Z" fill="#eef0f1" fill-opacity="1.0"/>
<path d="M360.5,1224.7 C363.2,1219.3 371.7,1215.1 376.7,1214.7 C381.6,1214.3 386.6,1216.8 390.3,1222.2 C394.1,1227.6 404.0,1242.9 399.0,1247.1 C394.1,1251.2 366.9,1250.8 360.5,1247.1 C354.1,1243.3 357.8,1230.1 360.5,1224.7 Z" fill="#eceeef" fill-opacity="1.0"/>
<path d="M405.3,1229.6 C407.8,1225.9 414.0,1224.5 417.7,1224.7 C421.4,1224.9 426.8,1227.2 427.7,1230.9 C428.5,1234.6 426.8,1244.4 422.7,1247.1 C418.5,1249.7 405.7,1250.0 402.8,1247.1 C399.9,1244.2 402.8,1233.4 405.3,1229.6 Z" fill="#e8ebec" fill-opacity="1.0"/>
<path d="M519.7,1220.9 C521.8,1216.0 532.2,1216.2 538.4,1217.2 C544.6,1218.2 553.5,1222.2 557.0,1227.2 C560.6,1232.1 564.7,1243.7 559.5,1247.1 C554.3,1250.4 532.6,1251.4 525.9,1247.1 C519.3,1242.7 517.6,1225.9 519.7,1220.9 Z" fill="#eef0f1" fill-opacity="1.0"/>
<path d="M360.5,1055.5 C374.6,1042.6 432.2,1053.2 445.1,1055.5 C457.9,1057.8 440.5,1064.2 437.6,1069.2 C434.7,1074.1 430.8,1078.9 427.7,1085.3 C424.6,1091.8 420.8,1101.1 419.0,1107.7 C417.1,1114.4 417.9,1120.0 416.5,1125.1 C415.0,1130.3 413.4,1135.1 410.2,1138.8 C407.1,1142.6 402.8,1145.5 397.8,1147.5 C392.8,1149.6 385.2,1151.7 380.4,1151.3 C375.6,1150.9 372.5,1148.2 369.2,1145.1 C365.9,1141.9 361.9,1147.5 360.5,1132.6 C359.0,1117.7 346.4,1068.3 360.5,1055.5 Z" fill="#d9dbe8" fill-opacity="1.0"/>
<path d="M360.5,1055.5 C374.6,1042.6 432.2,1053.2 445.1,1055.5 C457.9,1057.8 440.5,1064.2 437.6,1069.2 C434.7,1074.1 430.8,1078.9 427.7,1085.3 C424.6,1091.8 420.8,1101.1 419.0,1107.7 C417.1,1114.4 417.9,1120.0 416.5,1125.1 C415.0,1130.3 413.4,1135.1 410.2,1138.8 C407.1,1142.6 402.8,1145.5 397.8,1147.5 C392.8,1149.6 385.2,1151.7 380.4,1151.3 C375.6,1150.9 372.5,1148.2 369.2,1145.1 C365.9,1141.9 361.9,1147.5 360.5,1132.6 C359.0,1117.7 346.4,1068.3 360.5,1055.5 Z" fill="url(#cdense)" opacity="1.0"/>
<path d="M360.5,1055.5 C366.3,1049.1 391.6,1051.8 395.3,1055.5 C399.0,1059.2 387.0,1072.1 382.9,1077.9 C378.7,1083.7 374.2,1087.6 370.4,1090.3 C366.7,1093.0 362.1,1099.9 360.5,1094.0 C358.8,1088.2 354.7,1061.9 360.5,1055.5 Z" fill="#cfd0e2" fill-opacity="1.0"/>
<path d="M360.5,1055.5 C366.3,1049.1 391.6,1051.8 395.3,1055.5 C399.0,1059.2 387.0,1072.1 382.9,1077.9 C378.7,1083.7 374.2,1087.6 370.4,1090.3 C366.7,1093.0 362.1,1099.9 360.5,1094.0 C358.8,1088.2 354.7,1061.9 360.5,1055.5 Z" fill="url(#cdark)" opacity="1.0"/>
<path d="M517.2,1127.6 C521.4,1127.6 532.6,1141.3 538.4,1147.5 C544.2,1153.8 548.7,1157.9 552.1,1165.0 C555.4,1172.0 557.4,1180.5 558.3,1189.8 C559.1,1199.2 560.3,1214.3 557.0,1220.9 C553.7,1227.6 544.6,1225.7 538.4,1229.6 C532.2,1233.6 529.0,1241.7 519.7,1244.6 C510.4,1247.5 490.1,1250.0 482.4,1247.1 C474.7,1244.2 472.0,1233.4 473.7,1227.2 C475.3,1220.9 488.8,1217.0 492.3,1209.7 C495.9,1202.5 492.3,1191.1 494.8,1183.6 C497.3,1176.1 504.2,1171.0 507.3,1165.0 C510.4,1158.9 511.8,1153.8 513.5,1147.5 C515.2,1141.3 513.1,1127.6 517.2,1127.6 Z" fill="#dadcea" fill-opacity="1.0"/>
<path d="M517.2,1127.6 C521.4,1127.6 532.6,1141.3 538.4,1147.5 C544.2,1153.8 548.7,1157.9 552.1,1165.0 C555.4,1172.0 557.4,1180.5 558.3,1189.8 C559.1,1199.2 560.3,1214.3 557.0,1220.9 C553.7,1227.6 544.6,1225.7 538.4,1229.6 C532.2,1233.6 529.0,1241.7 519.7,1244.6 C510.4,1247.5 490.1,1250.0 482.4,1247.1 C474.7,1244.2 472.0,1233.4 473.7,1227.2 C475.3,1220.9 488.8,1217.0 492.3,1209.7 C495.9,1202.5 492.3,1191.1 494.8,1183.6 C497.3,1176.1 504.2,1171.0 507.3,1165.0 C510.4,1158.9 511.8,1153.8 513.5,1147.5 C515.2,1141.3 513.1,1127.6 517.2,1127.6 Z" fill="url(#cdense)" opacity="1.0"/>
<path d="M438.9,1055.5 C447.1,1053.6 483.4,1052.8 494.8,1055.5 C506.2,1058.2 506.2,1067.3 507.3,1071.7 C508.3,1076.0 505.2,1081.2 501.1,1081.6 C496.9,1082.0 488.6,1076.6 482.4,1074.1 C476.2,1071.7 470.0,1067.9 463.7,1066.7 C457.5,1065.4 449.2,1068.5 445.1,1066.7 C440.9,1064.8 430.6,1057.4 438.9,1055.5 Z" fill="#e4e6ee" fill-opacity="1.0"/>
<path d="M438.9,1055.5 C447.1,1053.6 483.4,1052.8 494.8,1055.5 C506.2,1058.2 506.2,1067.3 507.3,1071.7 C508.3,1076.0 505.2,1081.2 501.1,1081.6 C496.9,1082.0 488.6,1076.6 482.4,1074.1 C476.2,1071.7 470.0,1067.9 463.7,1066.7 C457.5,1065.4 449.2,1068.5 445.1,1066.7 C440.9,1064.8 430.6,1057.4 438.9,1055.5 Z" fill="url(#cmed)" opacity="1.0"/>
<path d="M360.5,1152.5 C364.0,1138.4 376.9,1156.2 381.6,1162.5 C386.4,1168.7 384.7,1182.2 389.1,1189.8 C393.5,1197.5 400.5,1203.3 407.8,1208.5 C415.0,1213.7 424.3,1217.4 432.6,1220.9 C440.9,1224.5 451.3,1225.3 457.5,1229.6 C463.7,1234.0 486.1,1244.2 470.0,1247.1 C453.8,1250.0 378.7,1262.8 360.5,1247.1 C342.2,1231.3 357.0,1166.6 360.5,1152.5 Z" fill="#dde1e4" fill-opacity="0.9"/>
<path d="M360.5,1152.5 C364.0,1138.4 376.9,1156.2 381.6,1162.5 C386.4,1168.7 384.7,1182.2 389.1,1189.8 C393.5,1197.5 400.5,1203.3 407.8,1208.5 C415.0,1213.7 424.3,1217.4 432.6,1220.9 C440.9,1224.5 451.3,1225.3 457.5,1229.6 C463.7,1234.0 486.1,1244.2 470.0,1247.1 C453.8,1250.0 378.7,1262.8 360.5,1247.1 C342.2,1231.3 357.0,1166.6 360.5,1152.5 Z" fill="url(#cmed)" opacity="1.0"/>
<path d="M456.3,1067.9 C457.7,1066.8 461.5,1065.9 463.7,1066.1 C466.0,1066.3 467.7,1067.7 470.0,1069.2 C472.2,1070.6 474.9,1073.4 477.4,1074.8 C479.9,1076.1 482.4,1076.3 484.9,1077.3 C487.4,1078.2 489.6,1079.0 492.3,1080.4 C495.0,1081.7 497.9,1083.5 501.1,1085.3 C504.2,1087.2 507.9,1089.1 511.0,1091.6 C514.1,1094.0 517.2,1097.4 519.7,1100.3 C522.2,1103.2 524.5,1106.3 525.9,1109.0 C527.4,1111.7 528.1,1114.2 528.4,1116.4 C528.7,1118.7 527.2,1121.2 527.8,1122.7 C528.4,1124.1 531.0,1123.9 532.2,1125.1 C533.3,1126.4 533.4,1128.1 534.6,1130.1 C535.9,1132.2 537.7,1135.5 539.6,1137.6 C541.5,1139.7 544.5,1141.1 545.8,1142.6 C547.2,1144.0 547.9,1145.7 547.7,1146.3 C547.5,1146.9 546.1,1146.9 544.6,1146.3 C543.0,1145.7 540.4,1144.4 538.4,1142.6 C536.3,1140.7 534.2,1137.6 532.2,1135.1 C530.1,1132.6 528.0,1129.6 525.9,1127.6 C523.9,1125.7 521.1,1123.7 519.7,1123.3 C518.4,1122.9 518.3,1124.0 517.8,1125.1 C517.4,1126.3 517.9,1128.5 517.2,1130.1 C516.5,1131.8 514.3,1133.4 513.5,1135.1 C512.7,1136.8 512.2,1138.0 512.2,1140.1 C512.2,1142.1 514.1,1145.7 513.5,1147.5 C512.9,1149.4 509.6,1150.0 508.5,1151.3 C507.5,1152.5 506.7,1154.2 507.3,1155.0 C507.9,1155.8 511.0,1155.4 512.2,1156.2 C513.5,1157.1 514.3,1158.5 514.7,1160.0 C515.2,1161.4 515.4,1164.1 514.7,1165.0 C514.1,1165.8 512.2,1165.6 511.0,1165.0 C509.8,1164.3 508.5,1162.5 507.3,1161.2 C506.0,1160.0 505.0,1158.3 503.5,1157.5 C502.1,1156.7 500.2,1155.8 498.6,1156.2 C496.9,1156.7 494.8,1158.5 493.6,1160.0 C492.3,1161.4 491.3,1163.3 491.1,1165.0 C490.9,1166.6 492.8,1168.3 492.3,1169.9 C491.9,1171.6 489.6,1173.2 488.6,1174.9 C487.6,1176.6 486.3,1178.6 486.1,1179.9 C485.9,1181.1 488.0,1181.7 487.4,1182.4 C486.7,1183.0 484.1,1183.0 482.4,1183.6 C480.7,1184.2 478.7,1184.9 477.4,1186.1 C476.2,1187.3 475.1,1189.0 474.9,1191.1 C474.7,1193.2 475.3,1196.8 476.2,1198.5 C477.0,1200.3 478.2,1201.2 479.9,1201.7 C481.6,1202.1 484.5,1200.7 486.1,1201.0 C487.8,1201.3 488.8,1202.1 489.9,1203.5 C490.9,1205.0 492.8,1208.5 492.3,1209.7 C491.9,1211.0 489.2,1210.8 487.4,1211.0 C485.5,1211.2 482.8,1211.4 481.1,1211.0 C479.5,1210.6 478.9,1209.3 477.4,1208.5 C476.0,1207.7 474.1,1206.8 472.4,1206.0 C470.8,1205.2 469.5,1203.8 467.5,1203.5 C465.4,1203.2 461.5,1203.3 460.0,1204.1 C458.6,1205.0 458.1,1206.5 458.8,1208.5 C459.4,1210.5 461.9,1213.7 463.7,1216.0 C465.6,1218.2 468.3,1220.3 470.0,1222.2 C471.6,1224.0 473.3,1226.1 473.7,1227.2 C474.1,1228.2 473.7,1228.4 472.4,1228.4 C471.2,1228.4 469.3,1227.8 466.2,1227.2 C463.1,1226.5 458.1,1225.9 453.8,1224.7 C449.4,1223.4 444.9,1221.8 440.1,1219.7 C435.3,1217.6 429.7,1214.5 425.2,1212.2 C420.6,1209.9 416.5,1208.5 412.7,1206.0 C409.0,1203.5 405.9,1200.2 402.8,1197.3 C399.7,1194.4 396.6,1191.5 394.1,1188.6 C391.6,1185.7 389.7,1183.0 387.9,1179.9 C386.0,1176.8 383.9,1172.8 382.9,1169.9 C381.8,1167.0 381.6,1164.5 381.6,1162.5 C381.6,1160.4 381.6,1158.7 382.9,1157.5 C384.1,1156.2 387.0,1155.8 389.1,1155.0 C391.2,1154.2 394.1,1153.8 395.3,1152.5 C396.6,1151.3 396.4,1149.0 396.6,1147.5 C396.8,1146.1 397.8,1145.1 396.6,1143.8 C395.3,1142.6 391.4,1140.9 389.1,1140.1 C386.8,1139.2 384.7,1139.0 382.9,1138.8 C381.0,1138.6 379.1,1139.7 377.9,1138.8 C376.7,1138.0 376.0,1135.3 375.4,1133.9 C374.8,1132.4 373.8,1131.0 374.2,1130.1 C374.6,1129.3 376.2,1128.7 377.9,1128.9 C379.6,1129.1 382.0,1130.3 384.1,1131.4 C386.2,1132.4 388.1,1133.6 390.3,1135.1 C392.6,1136.6 395.5,1138.4 397.8,1140.1 C400.1,1141.7 402.2,1143.8 404.0,1145.1 C405.9,1146.3 407.3,1147.1 409.0,1147.5 C410.7,1148.0 412.8,1148.0 414.0,1147.5 C415.1,1147.1 415.8,1145.9 415.8,1145.1 C415.8,1144.2 414.9,1143.4 414.0,1142.6 C413.0,1141.7 411.3,1141.1 410.2,1140.1 C409.2,1139.0 408.6,1138.0 407.8,1136.3 C406.9,1134.7 406.1,1132.4 405.3,1130.1 C404.4,1127.8 403.8,1124.5 402.8,1122.7 C401.7,1120.8 399.5,1120.0 399.0,1118.9 C398.6,1117.9 399.5,1116.9 400.3,1116.4 C401.1,1116.0 402.8,1115.6 404.0,1116.4 C405.3,1117.3 406.5,1119.6 407.8,1121.4 C409.0,1123.3 410.0,1125.8 411.5,1127.6 C412.9,1129.5 414.8,1131.3 416.5,1132.6 C418.1,1134.0 420.4,1135.5 421.4,1135.7 C422.5,1135.9 422.7,1134.8 422.7,1133.9 C422.7,1132.9 422.1,1131.4 421.4,1130.1 C420.8,1128.9 419.6,1127.4 419.0,1126.4 C418.3,1125.4 417.1,1124.3 417.7,1123.9 C418.3,1123.5 421.0,1123.5 422.7,1123.9 C424.3,1124.3 426.4,1126.2 427.7,1126.4 C428.9,1126.6 430.1,1126.0 430.1,1125.1 C430.1,1124.3 428.9,1122.7 427.7,1121.4 C426.4,1120.2 424.1,1119.1 422.7,1117.7 C421.2,1116.2 419.8,1114.8 419.0,1112.7 C418.1,1110.6 417.5,1107.5 417.7,1105.2 C417.9,1103.0 419.2,1100.5 420.2,1099.0 C421.2,1097.6 422.3,1097.1 423.9,1096.5 C425.6,1096.0 428.7,1095.5 430.1,1095.9 C431.6,1096.3 432.4,1097.5 432.6,1099.0 C432.8,1100.6 431.8,1103.4 431.4,1105.2 C431.0,1107.1 429.9,1108.8 430.1,1110.2 C430.4,1111.7 431.4,1113.0 432.6,1114.0 C433.9,1114.9 436.0,1115.6 437.6,1115.8 C439.3,1116.0 441.3,1115.9 442.6,1115.2 C443.8,1114.5 444.5,1113.1 445.1,1111.5 C445.7,1109.8 446.3,1107.1 446.3,1105.2 C446.3,1103.4 446.1,1101.7 445.1,1100.3 C444.0,1098.8 441.8,1097.6 440.1,1096.5 C438.4,1095.5 436.4,1095.1 435.1,1094.0 C433.9,1093.0 433.1,1091.8 432.6,1090.3 C432.2,1088.9 432.0,1086.5 432.6,1085.3 C433.3,1084.2 434.9,1083.8 436.4,1083.5 C437.8,1083.2 439.7,1083.2 441.3,1083.5 C443.0,1083.8 444.9,1084.6 446.3,1085.3 C447.8,1086.1 448.6,1087.0 450.1,1087.8 C451.5,1088.7 453.2,1089.7 455.0,1090.3 C456.9,1090.9 459.8,1091.8 461.2,1091.6 C462.7,1091.4 463.5,1090.1 463.7,1089.1 C463.9,1088.0 463.5,1086.4 462.5,1085.3 C461.5,1084.3 458.8,1083.9 457.5,1082.9 C456.3,1081.8 455.4,1080.8 455.0,1079.1 C454.6,1077.5 454.8,1074.8 455.0,1072.9 C455.2,1071.0 454.8,1069.1 456.3,1067.9 Z" fill="#dde2e5" fill-opacity="1.0"/>
<path d="M456.3,1067.9 C457.7,1066.8 461.5,1065.9 463.7,1066.1 C466.0,1066.3 467.7,1067.7 470.0,1069.2 C472.2,1070.6 474.9,1073.4 477.4,1074.8 C479.9,1076.1 482.4,1076.3 484.9,1077.3 C487.4,1078.2 489.6,1079.0 492.3,1080.4 C495.0,1081.7 497.9,1083.5 501.1,1085.3 C504.2,1087.2 507.9,1089.1 511.0,1091.6 C514.1,1094.0 517.2,1097.4 519.7,1100.3 C522.2,1103.2 524.5,1106.3 525.9,1109.0 C527.4,1111.7 528.1,1114.2 528.4,1116.4 C528.7,1118.7 527.2,1121.2 527.8,1122.7 C528.4,1124.1 531.0,1123.9 532.2,1125.1 C533.3,1126.4 533.4,1128.1 534.6,1130.1 C535.9,1132.2 537.7,1135.5 539.6,1137.6 C541.5,1139.7 544.5,1141.1 545.8,1142.6 C547.2,1144.0 547.9,1145.7 547.7,1146.3 C547.5,1146.9 546.1,1146.9 544.6,1146.3 C543.0,1145.7 540.4,1144.4 538.4,1142.6 C536.3,1140.7 534.2,1137.6 532.2,1135.1 C530.1,1132.6 528.0,1129.6 525.9,1127.6 C523.9,1125.7 521.1,1123.7 519.7,1123.3 C518.4,1122.9 518.3,1124.0 517.8,1125.1 C517.4,1126.3 517.9,1128.5 517.2,1130.1 C516.5,1131.8 514.3,1133.4 513.5,1135.1 C512.7,1136.8 512.2,1138.0 512.2,1140.1 C512.2,1142.1 514.1,1145.7 513.5,1147.5 C512.9,1149.4 509.6,1150.0 508.5,1151.3 C507.5,1152.5 506.7,1154.2 507.3,1155.0 C507.9,1155.8 511.0,1155.4 512.2,1156.2 C513.5,1157.1 514.3,1158.5 514.7,1160.0 C515.2,1161.4 515.4,1164.1 514.7,1165.0 C514.1,1165.8 512.2,1165.6 511.0,1165.0 C509.8,1164.3 508.5,1162.5 507.3,1161.2 C506.0,1160.0 505.0,1158.3 503.5,1157.5 C502.1,1156.7 500.2,1155.8 498.6,1156.2 C496.9,1156.7 494.8,1158.5 493.6,1160.0 C492.3,1161.4 491.3,1163.3 491.1,1165.0 C490.9,1166.6 492.8,1168.3 492.3,1169.9 C491.9,1171.6 489.6,1173.2 488.6,1174.9 C487.6,1176.6 486.3,1178.6 486.1,1179.9 C485.9,1181.1 488.0,1181.7 487.4,1182.4 C486.7,1183.0 484.1,1183.0 482.4,1183.6 C480.7,1184.2 478.7,1184.9 477.4,1186.1 C476.2,1187.3 475.1,1189.0 474.9,1191.1 C474.7,1193.2 475.3,1196.8 476.2,1198.5 C477.0,1200.3 478.2,1201.2 479.9,1201.7 C481.6,1202.1 484.5,1200.7 486.1,1201.0 C487.8,1201.3 488.8,1202.1 489.9,1203.5 C490.9,1205.0 492.8,1208.5 492.3,1209.7 C491.9,1211.0 489.2,1210.8 487.4,1211.0 C485.5,1211.2 482.8,1211.4 481.1,1211.0 C479.5,1210.6 478.9,1209.3 477.4,1208.5 C476.0,1207.7 474.1,1206.8 472.4,1206.0 C470.8,1205.2 469.5,1203.8 467.5,1203.5 C465.4,1203.2 461.5,1203.3 460.0,1204.1 C458.6,1205.0 458.1,1206.5 458.8,1208.5 C459.4,1210.5 461.9,1213.7 463.7,1216.0 C465.6,1218.2 468.3,1220.3 470.0,1222.2 C471.6,1224.0 473.3,1226.1 473.7,1227.2 C474.1,1228.2 473.7,1228.4 472.4,1228.4 C471.2,1228.4 469.3,1227.8 466.2,1227.2 C463.1,1226.5 458.1,1225.9 453.8,1224.7 C449.4,1223.4 444.9,1221.8 440.1,1219.7 C435.3,1217.6 429.7,1214.5 425.2,1212.2 C420.6,1209.9 416.5,1208.5 412.7,1206.0 C409.0,1203.5 405.9,1200.2 402.8,1197.3 C399.7,1194.4 396.6,1191.5 394.1,1188.6 C391.6,1185.7 389.7,1183.0 387.9,1179.9 C386.0,1176.8 383.9,1172.8 382.9,1169.9 C381.8,1167.0 381.6,1164.5 381.6,1162.5 C381.6,1160.4 381.6,1158.7 382.9,1157.5 C384.1,1156.2 387.0,1155.8 389.1,1155.0 C391.2,1154.2 394.1,1153.8 395.3,1152.5 C396.6,1151.3 396.4,1149.0 396.6,1147.5 C396.8,1146.1 397.8,1145.1 396.6,1143.8 C395.3,1142.6 391.4,1140.9 389.1,1140.1 C386.8,1139.2 384.7,1139.0 382.9,1138.8 C381.0,1138.6 379.1,1139.7 377.9,1138.8 C376.7,1138.0 376.0,1135.3 375.4,1133.9 C374.8,1132.4 373.8,1131.0 374.2,1130.1 C374.6,1129.3 376.2,1128.7 377.9,1128.9 C379.6,1129.1 382.0,1130.3 384.1,1131.4 C386.2,1132.4 388.1,1133.6 390.3,1135.1 C392.6,1136.6 395.5,1138.4 397.8,1140.1 C400.1,1141.7 402.2,1143.8 404.0,1145.1 C405.9,1146.3 407.3,1147.1 409.0,1147.5 C410.7,1148.0 412.8,1148.0 414.0,1147.5 C415.1,1147.1 415.8,1145.9 415.8,1145.1 C415.8,1144.2 414.9,1143.4 414.0,1142.6 C413.0,1141.7 411.3,1141.1 410.2,1140.1 C409.2,1139.0 408.6,1138.0 407.8,1136.3 C406.9,1134.7 406.1,1132.4 405.3,1130.1 C404.4,1127.8 403.8,1124.5 402.8,1122.7 C401.7,1120.8 399.5,1120.0 399.0,1118.9 C398.6,1117.9 399.5,1116.9 400.3,1116.4 C401.1,1116.0 402.8,1115.6 404.0,1116.4 C405.3,1117.3 406.5,1119.6 407.8,1121.4 C409.0,1123.3 410.0,1125.8 411.5,1127.6 C412.9,1129.5 414.8,1131.3 416.5,1132.6 C418.1,1134.0 420.4,1135.5 421.4,1135.7 C422.5,1135.9 422.7,1134.8 422.7,1133.9 C422.7,1132.9 422.1,1131.4 421.4,1130.1 C420.8,1128.9 419.6,1127.4 419.0,1126.4 C418.3,1125.4 417.1,1124.3 417.7,1123.9 C418.3,1123.5 421.0,1123.5 422.7,1123.9 C424.3,1124.3 426.4,1126.2 427.7,1126.4 C428.9,1126.6 430.1,1126.0 430.1,1125.1 C430.1,1124.3 428.9,1122.7 427.7,1121.4 C426.4,1120.2 424.1,1119.1 422.7,1117.7 C421.2,1116.2 419.8,1114.8 419.0,1112.7 C418.1,1110.6 417.5,1107.5 417.7,1105.2 C417.9,1103.0 419.2,1100.5 420.2,1099.0 C421.2,1097.6 422.3,1097.1 423.9,1096.5 C425.6,1096.0 428.7,1095.5 430.1,1095.9 C431.6,1096.3 432.4,1097.5 432.6,1099.0 C432.8,1100.6 431.8,1103.4 431.4,1105.2 C431.0,1107.1 429.9,1108.8 430.1,1110.2 C430.4,1111.7 431.4,1113.0 432.6,1114.0 C433.9,1114.9 436.0,1115.6 437.6,1115.8 C439.3,1116.0 441.3,1115.9 442.6,1115.2 C443.8,1114.5 444.5,1113.1 445.1,1111.5 C445.7,1109.8 446.3,1107.1 446.3,1105.2 C446.3,1103.4 446.1,1101.7 445.1,1100.3 C444.0,1098.8 441.8,1097.6 440.1,1096.5 C438.4,1095.5 436.4,1095.1 435.1,1094.0 C433.9,1093.0 433.1,1091.8 432.6,1090.3 C432.2,1088.9 432.0,1086.5 432.6,1085.3 C433.3,1084.2 434.9,1083.8 436.4,1083.5 C437.8,1083.2 439.7,1083.2 441.3,1083.5 C443.0,1083.8 444.9,1084.6 446.3,1085.3 C447.8,1086.1 448.6,1087.0 450.1,1087.8 C451.5,1088.7 453.2,1089.7 455.0,1090.3 C456.9,1090.9 459.8,1091.8 461.2,1091.6 C462.7,1091.4 463.5,1090.1 463.7,1089.1 C463.9,1088.0 463.5,1086.4 462.5,1085.3 C461.5,1084.3 458.8,1083.9 457.5,1082.9 C456.3,1081.8 455.4,1080.8 455.0,1079.1 C454.6,1077.5 454.8,1074.8 455.0,1072.9 C455.2,1071.0 454.8,1069.1 456.3,1067.9 Z" fill="url(#csparse)" opacity="1.0"/>
<path d="M456.3,1067.9 C457.3,1067.1 462.1,1065.9 463.7,1066.1 C465.3,1066.2 468.4,1068.2 470.0,1069.2 C471.6,1070.2 475.7,1073.8 477.4,1074.8 C479.2,1075.7 483.1,1076.6 484.9,1077.3 C486.6,1077.9 490.5,1079.4 492.3,1080.4 C494.2,1081.3 498.9,1084.0 501.1,1085.3 C503.2,1086.6 508.8,1089.8 511.0,1091.6 C513.2,1093.3 518.0,1098.2 519.7,1100.3 C521.5,1102.3 524.9,1107.1 525.9,1109.0 C526.9,1110.9 528.2,1114.8 528.4,1116.4 C528.6,1118.0 527.4,1121.6 527.8,1122.7 C528.2,1123.7 531.4,1124.3 532.2,1125.1 C532.9,1126.0 533.8,1128.7 534.6,1130.1 C535.5,1131.6 538.3,1136.1 539.6,1137.6 C540.9,1139.0 544.9,1141.5 545.8,1142.6 C546.8,1143.6 547.8,1145.9 547.7,1146.3 C547.6,1146.7 545.7,1146.7 544.6,1146.3 C543.5,1145.9 539.8,1143.9 538.4,1142.6 C536.9,1141.3 533.6,1136.8 532.2,1135.1 C530.7,1133.4 527.4,1129.0 525.9,1127.6 C524.5,1126.3 520.7,1123.6 519.7,1123.3 C518.8,1123.0 518.1,1124.4 517.8,1125.1 C517.6,1125.9 517.7,1129.0 517.2,1130.1 C516.7,1131.3 514.1,1133.9 513.5,1135.1 C512.9,1136.3 512.2,1138.6 512.2,1140.1 C512.2,1141.5 513.9,1146.2 513.5,1147.5 C513.1,1148.8 509.2,1150.4 508.5,1151.3 C507.8,1152.1 506.8,1154.4 507.3,1155.0 C507.7,1155.6 511.4,1155.7 512.2,1156.2 C513.1,1156.8 514.4,1159.0 514.7,1160.0 C515.0,1161.0 515.2,1164.4 514.7,1165.0 C514.3,1165.5 511.9,1165.4 511.0,1165.0 C510.1,1164.5 508.1,1162.1 507.3,1161.2 C506.4,1160.4 504.6,1158.1 503.5,1157.5 C502.5,1156.9 499.7,1156.0 498.6,1156.2 C497.4,1156.5 494.5,1159.0 493.6,1160.0 C492.7,1161.0 491.2,1163.8 491.1,1165.0 C491.0,1166.1 492.6,1168.8 492.3,1169.9 C492.1,1171.1 489.3,1173.7 488.6,1174.9 C487.9,1176.1 486.3,1179.0 486.1,1179.9 C486.0,1180.8 487.8,1181.9 487.4,1182.4 C486.9,1182.8 483.6,1183.2 482.4,1183.6 C481.2,1184.0 478.3,1185.2 477.4,1186.1 C476.5,1187.0 475.1,1189.6 474.9,1191.1 C474.8,1192.5 475.6,1197.3 476.2,1198.5 C476.8,1199.8 478.7,1201.4 479.9,1201.7 C481.1,1201.9 485.0,1200.8 486.1,1201.0 C487.3,1201.2 489.1,1202.5 489.9,1203.5 C490.6,1204.5 492.6,1208.9 492.3,1209.7 C492.1,1210.6 488.7,1210.8 487.4,1211.0 C486.1,1211.1 482.3,1211.3 481.1,1211.0 C480.0,1210.7 478.4,1209.1 477.4,1208.5 C476.4,1207.9 473.6,1206.6 472.4,1206.0 C471.3,1205.4 468.9,1203.7 467.5,1203.5 C466.0,1203.3 461.0,1203.6 460.0,1204.1 C459.0,1204.7 458.3,1207.1 458.8,1208.5 C459.2,1209.9 462.4,1214.4 463.7,1216.0 C465.0,1217.6 468.8,1220.9 470.0,1222.2 C471.1,1223.5 473.4,1226.4 473.7,1227.2 C474.0,1227.9 473.3,1228.4 472.4,1228.4 C471.6,1228.4 468.4,1227.6 466.2,1227.2 C464.0,1226.7 456.8,1225.5 453.8,1224.7 C450.7,1223.8 443.4,1221.1 440.1,1219.7 C436.8,1218.2 428.4,1213.8 425.2,1212.2 C422.0,1210.6 415.3,1207.7 412.7,1206.0 C410.1,1204.3 405.0,1199.3 402.8,1197.3 C400.6,1195.3 395.8,1190.6 394.1,1188.6 C392.3,1186.6 389.2,1182.1 387.9,1179.9 C386.5,1177.7 383.6,1172.0 382.9,1169.9 C382.2,1167.9 381.6,1163.9 381.6,1162.5 C381.6,1161.0 382.0,1158.4 382.9,1157.5 C383.7,1156.6 387.6,1155.6 389.1,1155.0 C390.5,1154.4 394.4,1153.4 395.3,1152.5 C396.2,1151.6 396.4,1148.6 396.6,1147.5 C396.7,1146.5 397.4,1144.7 396.6,1143.8 C395.7,1142.9 390.7,1140.7 389.1,1140.1 C387.5,1139.5 384.2,1139.0 382.9,1138.8 C381.6,1138.7 378.8,1139.4 377.9,1138.8 C377.0,1138.3 375.9,1134.9 375.4,1133.9 C375.0,1132.8 373.9,1130.7 374.2,1130.1 C374.5,1129.5 376.7,1128.7 377.9,1128.9 C379.1,1129.0 382.7,1130.6 384.1,1131.4 C385.6,1132.1 388.7,1134.1 390.3,1135.1 C391.9,1136.1 396.2,1138.9 397.8,1140.1 C399.4,1141.2 402.7,1144.2 404.0,1145.1 C405.3,1145.9 407.8,1147.2 409.0,1147.5 C410.2,1147.8 413.2,1147.8 414.0,1147.5 C414.8,1147.2 415.8,1145.6 415.8,1145.1 C415.8,1144.5 414.6,1143.1 414.0,1142.6 C413.3,1142.0 411.0,1140.8 410.2,1140.1 C409.5,1139.3 408.3,1137.5 407.8,1136.3 C407.2,1135.2 405.9,1131.7 405.3,1130.1 C404.7,1128.5 403.5,1124.0 402.8,1122.7 C402.1,1121.4 399.3,1119.7 399.0,1118.9 C398.8,1118.2 399.7,1116.7 400.3,1116.4 C400.9,1116.2 403.2,1115.9 404.0,1116.4 C404.9,1117.0 406.9,1120.1 407.8,1121.4 C408.6,1122.7 410.5,1126.3 411.5,1127.6 C412.5,1128.9 415.3,1131.7 416.5,1132.6 C417.6,1133.6 420.7,1135.6 421.4,1135.7 C422.2,1135.9 422.7,1134.5 422.7,1133.9 C422.7,1133.2 421.9,1131.0 421.4,1130.1 C421.0,1129.3 419.4,1127.1 419.0,1126.4 C418.5,1125.7 417.3,1124.2 417.7,1123.9 C418.1,1123.6 421.5,1123.6 422.7,1123.9 C423.8,1124.2 426.8,1126.2 427.7,1126.4 C428.5,1126.5 430.1,1125.7 430.1,1125.1 C430.1,1124.6 428.5,1122.3 427.7,1121.4 C426.8,1120.5 423.7,1118.7 422.7,1117.7 C421.7,1116.7 419.5,1114.2 419.0,1112.7 C418.4,1111.3 417.6,1106.8 417.7,1105.2 C417.9,1103.6 419.5,1100.0 420.2,1099.0 C420.9,1098.0 422.8,1096.9 423.9,1096.5 C425.1,1096.2 429.1,1095.6 430.1,1095.9 C431.2,1096.2 432.5,1097.9 432.6,1099.0 C432.8,1100.1 431.7,1103.9 431.4,1105.2 C431.1,1106.6 430.0,1109.2 430.1,1110.2 C430.3,1111.2 431.8,1113.3 432.6,1114.0 C433.5,1114.6 436.5,1115.7 437.6,1115.8 C438.8,1116.0 441.7,1115.7 442.6,1115.2 C443.5,1114.7 444.6,1112.6 445.1,1111.5 C445.5,1110.3 446.3,1106.6 446.3,1105.2 C446.3,1103.9 445.8,1101.3 445.1,1100.3 C444.3,1099.3 441.3,1097.3 440.1,1096.5 C438.9,1095.8 436.0,1094.8 435.1,1094.0 C434.3,1093.3 432.9,1091.3 432.6,1090.3 C432.3,1089.3 432.2,1086.1 432.6,1085.3 C433.1,1084.5 435.4,1083.7 436.4,1083.5 C437.4,1083.3 440.2,1083.3 441.3,1083.5 C442.5,1083.7 445.3,1084.8 446.3,1085.3 C447.3,1085.9 449.0,1087.2 450.1,1087.8 C451.1,1088.4 453.7,1089.9 455.0,1090.3 C456.3,1090.8 460.2,1091.7 461.2,1091.6 C462.3,1091.4 463.6,1089.8 463.7,1089.1 C463.9,1088.3 463.2,1086.1 462.5,1085.3 C461.8,1084.6 458.4,1083.6 457.5,1082.9 C456.6,1082.1 455.3,1080.3 455.0,1079.1 C454.7,1078.0 454.9,1074.2 455.0,1072.9 C455.2,1071.6 455.3,1068.7 456.3,1067.9 Z" fill="none" stroke="#000" stroke-width="1.8" stroke-linejoin="round"/>
</g>
<rect x="360.00" y="1055.50" width="199.00" height="190.00" fill="none" stroke="#222" stroke-width="1.4" />
<g clip-path="url(#clip10)">
<rect x="566.30" y="1055.50" width="199.00" height="190.00" fill="#cdc4bf" stroke="none" stroke-width="1" />
<path d="M694.6,1055.5 C702.3,1052.8 732.6,1051.8 744.4,1055.5 C756.2,1059.2 762.0,1057.6 765.5,1077.9 C769.0,1098.2 767.6,1164.5 765.5,1177.4 C763.4,1190.2 757.0,1162.5 753.1,1155.0 C749.1,1147.5 745.8,1139.9 741.9,1132.6 C737.9,1125.4 733.4,1117.5 729.4,1111.5 C725.5,1105.5 722.0,1101.3 718.2,1096.5 C714.5,1091.8 710.4,1087.0 707.1,1082.9 C703.7,1078.7 700.4,1076.2 698.3,1071.7 C696.3,1067.1 686.9,1058.2 694.6,1055.5 Z" fill="#fbfbfb" fill-opacity="1.0"/>
<path d="M744.4,1055.5 C746.0,1053.4 762.0,1051.3 765.5,1055.5 C769.0,1059.6 767.2,1078.3 765.5,1080.4 C763.9,1082.4 759.1,1072.1 755.6,1067.9 C752.0,1063.8 742.7,1057.6 744.4,1055.5 Z" fill="#cbbfb6" fill-opacity="1.0"/>
<path d="M707.1,1058.0 C710.2,1061.3 719.5,1070.8 725.7,1077.9 C731.9,1084.9 739.0,1093.6 744.4,1100.3 C749.8,1106.9 754.9,1113.1 758.1,1117.7 C761.2,1122.2 762.2,1126.0 763.0,1127.6" fill="none" stroke="#b8b3c2" stroke-width="3"/>
<path d="M566.5,1055.5 C580.6,1041.4 635.7,1052.8 651.1,1055.5 C666.4,1058.2 655.4,1066.9 658.5,1071.7 C661.6,1076.4 670.1,1078.9 669.7,1084.1 C669.3,1089.3 661.2,1099.2 656.1,1102.8 C650.9,1106.3 643.6,1104.2 638.6,1105.2 C633.7,1106.3 630.8,1106.1 626.2,1109.0 C621.6,1111.9 615.4,1118.5 611.3,1122.7 C607.1,1126.8 605.5,1130.5 601.3,1133.9 C597.2,1137.2 592.2,1141.5 586.4,1142.6 C580.6,1143.6 569.8,1154.6 566.5,1140.1 C563.2,1125.6 552.4,1069.6 566.5,1055.5 Z" fill="#9c9abf" fill-opacity="1.0"/>
<path d="M566.5,1055.5 C580.6,1041.4 635.7,1052.8 651.1,1055.5 C666.4,1058.2 655.4,1066.9 658.5,1071.7 C661.6,1076.4 670.1,1078.9 669.7,1084.1 C669.3,1089.3 661.2,1099.2 656.1,1102.8 C650.9,1106.3 643.6,1104.2 638.6,1105.2 C633.7,1106.3 630.8,1106.1 626.2,1109.0 C621.6,1111.9 615.4,1118.5 611.3,1122.7 C607.1,1126.8 605.5,1130.5 601.3,1133.9 C597.2,1137.2 592.2,1141.5 586.4,1142.6 C580.6,1143.6 569.8,1154.6 566.5,1140.1 C563.2,1125.6 552.4,1069.6 566.5,1055.5 Z" fill="url(#cdark)" opacity="1.0"/>
<path d="M682.2,1177.4 C686.3,1170.1 706.0,1165.0 713.3,1165.0 C720.5,1165.0 720.5,1177.4 725.7,1177.4 C730.9,1177.4 737.9,1162.9 744.4,1165.0 C750.8,1167.0 761.0,1181.5 764.3,1189.8 C767.6,1198.1 766.6,1206.4 764.3,1214.7 C762.0,1223.0 759.1,1234.2 750.6,1239.6 C742.1,1245.0 727.2,1245.8 713.3,1247.1 C699.4,1248.3 674.9,1250.4 667.2,1247.1 C659.6,1243.7 663.7,1233.6 667.2,1227.2 C670.8,1220.7 685.9,1216.8 688.4,1208.5 C690.9,1200.2 678.0,1184.6 682.2,1177.4 Z" fill="#a6a4c8" fill-opacity="1.0"/>
<path d="M682.2,1177.4 C686.3,1170.1 706.0,1165.0 713.3,1165.0 C720.5,1165.0 720.5,1177.4 725.7,1177.4 C730.9,1177.4 737.9,1162.9 744.4,1165.0 C750.8,1167.0 761.0,1181.5 764.3,1189.8 C767.6,1198.1 766.6,1206.4 764.3,1214.7 C762.0,1223.0 759.1,1234.2 750.6,1239.6 C742.1,1245.0 727.2,1245.8 713.3,1247.1 C699.4,1248.3 674.9,1250.4 667.2,1247.1 C659.6,1243.7 663.7,1233.6 667.2,1227.2 C670.8,1220.7 685.9,1216.8 688.4,1208.5 C690.9,1200.2 678.0,1184.6 682.2,1177.4 Z" fill="url(#cdark)" opacity="1.0"/>
<path d="M566.5,1140.1 C569.8,1133.6 581.8,1139.5 586.4,1145.1 C591.0,1150.6 591.4,1165.6 593.9,1173.7 C596.3,1181.7 603.2,1190.9 601.3,1193.6 C599.5,1196.3 588.5,1191.5 582.7,1189.8 C576.9,1188.2 569.2,1191.9 566.5,1183.6 C563.8,1175.3 563.2,1146.5 566.5,1140.1 Z" fill="#c4bcc2" fill-opacity="1.0"/>
<path d="M566.5,1140.1 C569.8,1133.6 581.8,1139.5 586.4,1145.1 C591.0,1150.6 591.4,1165.6 593.9,1173.7 C596.3,1181.7 603.2,1190.9 601.3,1193.6 C599.5,1196.3 588.5,1191.5 582.7,1189.8 C576.9,1188.2 569.2,1191.9 566.5,1183.6 C563.8,1175.3 563.2,1146.5 566.5,1140.1 Z" fill="url(#cmed)" opacity="1.0"/>
<path d="M651.1,1055.5 C654.0,1052.8 672.4,1053.6 676.0,1055.5 C679.5,1057.4 674.3,1063.0 672.2,1066.7 C670.1,1070.4 665.8,1077.0 663.5,1077.9 C661.2,1078.7 660.6,1075.4 658.5,1071.7 C656.5,1067.9 648.2,1058.2 651.1,1055.5 Z" fill="#f6f6f6" fill-opacity="1.0"/>
<path d="M567.7,1066.7 C569.8,1064.6 577.1,1066.5 580.2,1069.2 C583.3,1071.9 586.8,1080.0 586.4,1082.9 C586.0,1085.8 580.8,1086.8 577.7,1086.6 C574.6,1086.4 569.4,1084.9 567.7,1081.6 C566.1,1078.3 565.7,1068.8 567.7,1066.7 Z" fill="#f2f2f4" fill-opacity="0.85"/>
<path d="M590.1,1092.8 C591.8,1090.3 600.9,1093.6 602.6,1097.8 C604.2,1101.9 601.7,1115.2 600.1,1117.7 C598.4,1120.2 594.3,1116.9 592.6,1112.7 C591.0,1108.6 588.5,1095.3 590.1,1092.8 Z" fill="#f0f0f2" fill-opacity="0.85"/>
<path d="M611.3,1071.7 C612.9,1070.4 621.0,1071.9 622.5,1074.1 C623.9,1076.4 621.6,1084.1 620.0,1085.3 C618.3,1086.6 614.0,1083.9 612.5,1081.6 C611.1,1079.3 609.6,1072.9 611.3,1071.7 Z" fill="#eeeeee" fill-opacity="1.0"/>
<path d="M566.5,1183.6 C569.2,1174.1 577.9,1186.7 582.7,1189.8 C587.4,1192.9 591.0,1197.7 595.1,1202.3 C599.2,1206.8 603.8,1213.1 607.5,1217.2 C611.3,1221.3 615.4,1222.2 617.5,1227.2 C619.6,1232.1 628.5,1243.7 620.0,1247.1 C611.5,1250.4 575.4,1257.6 566.5,1247.1 C557.6,1236.5 563.8,1193.2 566.5,1183.6 Z" fill="#f0efee" fill-opacity="1.0"/>
<path d="M569.0,1193.6 C570.4,1191.3 580.6,1193.6 583.9,1196.1 C587.2,1198.5 590.3,1206.2 588.9,1208.5 C587.4,1210.8 578.5,1212.2 575.2,1209.7 C571.9,1207.2 567.5,1195.8 569.0,1193.6 Z" fill="#b9afb2" fill-opacity="1.0"/>
<path d="M571.5,1218.4 C574.6,1215.7 584.3,1214.7 588.9,1217.2 C593.4,1219.7 599.9,1229.6 598.8,1233.4 C597.8,1237.1 587.4,1239.6 582.7,1239.6 C577.9,1239.6 572.1,1236.9 570.2,1233.4 C568.4,1229.8 568.4,1221.1 571.5,1218.4 Z" fill="#c3babb" fill-opacity="1.0"/>
<path d="M720.7,1219.7 C723.0,1216.4 734.4,1222.6 738.2,1227.2 C741.9,1231.7 745.4,1243.7 743.1,1247.1 C740.8,1250.4 728.2,1251.6 724.5,1247.1 C720.7,1242.5 718.5,1223.0 720.7,1219.7 Z" fill="#f4f4f4" fill-opacity="0.9"/>
<path d="M674.1,1067.9 C674.9,1066.4 676.5,1066.8 678.4,1067.7 C680.4,1068.5 683.4,1071.0 685.9,1072.9 C688.4,1074.8 690.9,1077.3 693.4,1079.1 C695.9,1081.0 697.9,1082.2 700.8,1084.1 C703.7,1086.0 707.5,1087.8 710.8,1090.3 C714.1,1092.8 717.8,1095.7 720.7,1099.0 C723.6,1102.3 725.9,1106.3 728.2,1110.2 C730.5,1114.2 732.6,1118.7 734.4,1122.7 C736.3,1126.6 738.0,1130.1 739.4,1133.9 C740.7,1137.6 742.5,1143.0 742.5,1145.1 C742.5,1147.1 740.7,1146.3 739.4,1146.3 C738.0,1146.3 736.1,1145.7 734.4,1145.1 C732.8,1144.4 731.1,1143.3 729.4,1142.6 C727.8,1141.8 725.4,1140.5 724.5,1140.7 C723.5,1140.9 723.2,1142.5 723.8,1143.8 C724.5,1145.2 726.4,1147.5 728.2,1148.8 C730.0,1150.0 732.8,1150.0 734.4,1151.3 C736.1,1152.5 737.7,1154.8 738.2,1156.2 C738.6,1157.7 737.5,1159.4 736.9,1160.0 C736.3,1160.6 735.7,1160.6 734.4,1160.0 C733.2,1159.4 730.9,1157.1 729.4,1156.2 C728.0,1155.4 726.5,1154.2 725.7,1155.0 C724.9,1155.8 724.9,1158.5 724.5,1161.2 C724.1,1163.9 723.4,1167.9 723.2,1171.2 C723.0,1174.5 722.8,1178.2 723.2,1181.1 C723.6,1184.0 725.9,1187.3 725.7,1188.6 C725.5,1189.8 723.2,1189.4 722.0,1188.6 C720.7,1187.8 719.7,1185.5 718.2,1183.6 C716.8,1181.7 714.5,1179.3 713.3,1177.4 C712.0,1175.5 710.8,1174.1 710.8,1172.4 C710.8,1170.8 712.4,1169.3 713.3,1167.4 C714.1,1165.6 715.6,1162.9 715.8,1161.2 C716.0,1159.6 715.6,1158.0 714.5,1157.5 C713.5,1157.0 711.4,1157.1 709.5,1158.1 C707.7,1159.1 705.6,1161.7 703.3,1163.7 C701.0,1165.7 698.3,1168.1 695.9,1169.9 C693.4,1171.8 690.5,1173.7 688.4,1174.9 C686.3,1176.1 684.5,1176.1 683.4,1177.4 C682.4,1178.6 681.3,1181.1 682.2,1182.4 C683.0,1183.6 686.3,1183.8 688.4,1184.9 C690.5,1185.9 693.0,1186.9 694.6,1188.6 C696.3,1190.2 698.1,1193.2 698.3,1194.8 C698.6,1196.5 697.9,1197.3 695.9,1198.5 C693.8,1199.8 687.8,1201.0 685.9,1202.3 C684.0,1203.5 684.8,1204.4 684.7,1206.0 C684.6,1207.6 685.9,1210.5 685.3,1211.6 C684.7,1212.7 682.7,1212.3 680.9,1212.8 C679.2,1213.4 676.2,1214.8 674.7,1214.7 C673.3,1214.6 672.8,1213.3 672.2,1212.2 C671.6,1211.2 670.8,1209.5 671.0,1208.5 C671.2,1207.5 672.4,1207.0 673.5,1206.0 C674.5,1205.0 676.4,1203.7 677.2,1202.3 C678.0,1200.8 677.6,1198.7 678.4,1197.3 C679.3,1195.8 681.3,1194.8 682.2,1193.6 C683.0,1192.3 683.8,1190.7 683.4,1189.8 C683.0,1189.0 681.6,1188.6 679.7,1188.6 C677.8,1188.6 674.1,1188.6 672.2,1189.8 C670.4,1191.1 669.7,1194.2 668.5,1196.1 C667.2,1197.9 665.7,1199.2 664.8,1201.0 C663.8,1202.9 663.1,1205.0 662.9,1207.2 C662.7,1209.5 663.4,1212.2 663.5,1214.7 C663.6,1217.2 663.1,1219.9 663.5,1222.2 C663.9,1224.5 665.4,1226.3 666.0,1228.4 C666.6,1230.5 668.5,1233.6 667.2,1234.6 C666.0,1235.7 661.2,1235.2 658.5,1234.6 C655.8,1234.0 654.4,1233.0 651.1,1230.9 C647.8,1228.8 643.2,1225.1 638.6,1222.2 C634.1,1219.3 628.3,1216.4 623.7,1213.5 C619.1,1210.6 615.0,1208.1 611.3,1204.8 C607.5,1201.4 604.0,1197.5 601.3,1193.6 C598.6,1189.6 596.3,1184.4 595.1,1181.1 C593.9,1177.8 593.4,1175.2 593.9,1173.7 C594.3,1172.1 595.7,1172.3 597.6,1171.8 C599.5,1171.3 603.5,1171.7 605.0,1170.6 C606.6,1169.4 606.7,1167.1 606.9,1165.0 C607.1,1162.8 607.2,1158.9 606.3,1157.5 C605.4,1156.0 603.6,1156.9 601.3,1156.2 C599.0,1155.6 595.0,1154.8 592.6,1153.8 C590.2,1152.7 588.0,1151.5 587.0,1150.0 C586.0,1148.6 585.5,1145.9 586.4,1145.1 C587.3,1144.2 590.5,1144.9 592.6,1145.1 C594.7,1145.2 597.6,1146.1 598.8,1145.7 C600.1,1145.3 600.3,1143.7 600.1,1142.6 C599.9,1141.4 598.2,1139.9 597.6,1138.8 C597.0,1137.8 595.7,1136.9 596.3,1136.3 C597.0,1135.8 599.5,1135.5 601.3,1135.7 C603.2,1135.9 605.5,1136.7 607.5,1137.6 C609.6,1138.5 611.7,1140.1 613.8,1141.3 C615.8,1142.6 618.1,1144.4 620.0,1145.1 C621.8,1145.7 624.0,1146.3 625.0,1145.1 C625.9,1143.8 625.2,1140.1 625.6,1137.6 C626.0,1135.1 627.5,1132.2 627.4,1130.1 C627.3,1128.1 626.0,1127.0 625.0,1125.1 C623.9,1123.3 622.9,1120.2 621.2,1118.9 C619.6,1117.7 616.8,1117.9 615.0,1117.7 C613.2,1117.5 611.6,1118.5 610.6,1117.7 C609.7,1116.9 609.1,1114.4 609.4,1112.7 C609.7,1111.1 611.0,1108.8 612.5,1107.7 C614.1,1106.7 616.5,1106.3 618.7,1106.5 C621.0,1106.7 624.1,1107.5 626.2,1109.0 C628.3,1110.4 629.9,1113.1 631.2,1115.2 C632.4,1117.3 632.8,1119.4 633.7,1121.4 C634.5,1123.4 635.3,1126.6 636.1,1127.0 C637.0,1127.4 638.1,1125.5 638.6,1123.9 C639.2,1122.3 639.5,1119.8 639.3,1117.7 C639.1,1115.6 637.7,1113.3 637.4,1111.5 C637.1,1109.6 636.8,1107.5 637.4,1106.5 C638.0,1105.5 639.3,1105.2 641.1,1105.2 C643.0,1105.2 646.5,1105.8 648.6,1106.5 C650.7,1107.2 652.2,1109.2 653.6,1109.6 C654.9,1110.0 656.3,1110.1 656.7,1109.0 C657.1,1107.8 655.7,1104.2 656.1,1102.8 C656.4,1101.3 657.3,1100.9 658.5,1100.3 C659.8,1099.6 662.1,1099.1 663.5,1099.0 C665.0,1098.9 666.2,1100.5 667.2,1099.6 C668.3,1098.8 669.1,1095.8 669.7,1094.0 C670.4,1092.3 670.4,1090.5 671.0,1089.1 C671.6,1087.6 671.8,1085.5 673.5,1085.3 C675.1,1085.1 679.4,1087.8 680.9,1087.8 C682.5,1087.8 682.8,1086.2 682.8,1085.3 C682.8,1084.5 682.1,1083.7 680.9,1082.9 C679.8,1082.0 677.2,1081.4 676.0,1080.4 C674.7,1079.3 673.8,1078.7 673.5,1076.6 C673.2,1074.6 673.3,1069.4 674.1,1067.9 Z" fill="#d2c8c0" fill-opacity="1.0"/>
<path d="M674.1,1067.9 C674.9,1066.4 676.5,1066.8 678.4,1067.7 C680.4,1068.5 683.4,1071.0 685.9,1072.9 C688.4,1074.8 690.9,1077.3 693.4,1079.1 C695.9,1081.0 697.9,1082.2 700.8,1084.1 C703.7,1086.0 707.5,1087.8 710.8,1090.3 C714.1,1092.8 717.8,1095.7 720.7,1099.0 C723.6,1102.3 725.9,1106.3 728.2,1110.2 C730.5,1114.2 732.6,1118.7 734.4,1122.7 C736.3,1126.6 738.0,1130.1 739.4,1133.9 C740.7,1137.6 742.5,1143.0 742.5,1145.1 C742.5,1147.1 740.7,1146.3 739.4,1146.3 C738.0,1146.3 736.1,1145.7 734.4,1145.1 C732.8,1144.4 731.1,1143.3 729.4,1142.6 C727.8,1141.8 725.4,1140.5 724.5,1140.7 C723.5,1140.9 723.2,1142.5 723.8,1143.8 C724.5,1145.2 726.4,1147.5 728.2,1148.8 C730.0,1150.0 732.8,1150.0 734.4,1151.3 C736.1,1152.5 737.7,1154.8 738.2,1156.2 C738.6,1157.7 737.5,1159.4 736.9,1160.0 C736.3,1160.6 735.7,1160.6 734.4,1160.0 C733.2,1159.4 730.9,1157.1 729.4,1156.2 C728.0,1155.4 726.5,1154.2 725.7,1155.0 C724.9,1155.8 724.9,1158.5 724.5,1161.2 C724.1,1163.9 723.4,1167.9 723.2,1171.2 C723.0,1174.5 722.8,1178.2 723.2,1181.1 C723.6,1184.0 725.9,1187.3 725.7,1188.6 C725.5,1189.8 723.2,1189.4 722.0,1188.6 C720.7,1187.8 719.7,1185.5 718.2,1183.6 C716.8,1181.7 714.5,1179.3 713.3,1177.4 C712.0,1175.5 710.8,1174.1 710.8,1172.4 C710.8,1170.8 712.4,1169.3 713.3,1167.4 C714.1,1165.6 715.6,1162.9 715.8,1161.2 C716.0,1159.6 715.6,1158.0 714.5,1157.5 C713.5,1157.0 711.4,1157.1 709.5,1158.1 C707.7,1159.1 705.6,1161.7 703.3,1163.7 C701.0,1165.7 698.3,1168.1 695.9,1169.9 C693.4,1171.8 690.5,1173.7 688.4,1174.9 C686.3,1176.1 684.5,1176.1 683.4,1177.4 C682.4,1178.6 681.3,1181.1 682.2,1182.4 C683.0,1183.6 686.3,1183.8 688.4,1184.9 C690.5,1185.9 693.0,1186.9 694.6,1188.6 C696.3,1190.2 698.1,1193.2 698.3,1194.8 C698.6,1196.5 697.9,1197.3 695.9,1198.5 C693.8,1199.8 687.8,1201.0 685.9,1202.3 C684.0,1203.5 684.8,1204.4 684.7,1206.0 C684.6,1207.6 685.9,1210.5 685.3,1211.6 C684.7,1212.7 682.7,1212.3 680.9,1212.8 C679.2,1213.4 676.2,1214.8 674.7,1214.7 C673.3,1214.6 672.8,1213.3 672.2,1212.2 C671.6,1211.2 670.8,1209.5 671.0,1208.5 C671.2,1207.5 672.4,1207.0 673.5,1206.0 C674.5,1205.0 676.4,1203.7 677.2,1202.3 C678.0,1200.8 677.6,1198.7 678.4,1197.3 C679.3,1195.8 681.3,1194.8 682.2,1193.6 C683.0,1192.3 683.8,1190.7 683.4,1189.8 C683.0,1189.0 681.6,1188.6 679.7,1188.6 C677.8,1188.6 674.1,1188.6 672.2,1189.8 C670.4,1191.1 669.7,1194.2 668.5,1196.1 C667.2,1197.9 665.7,1199.2 664.8,1201.0 C663.8,1202.9 663.1,1205.0 662.9,1207.2 C662.7,1209.5 663.4,1212.2 663.5,1214.7 C663.6,1217.2 663.1,1219.9 663.5,1222.2 C663.9,1224.5 665.4,1226.3 666.0,1228.4 C666.6,1230.5 668.5,1233.6 667.2,1234.6 C666.0,1235.7 661.2,1235.2 658.5,1234.6 C655.8,1234.0 654.4,1233.0 651.1,1230.9 C647.8,1228.8 643.2,1225.1 638.6,1222.2 C634.1,1219.3 628.3,1216.4 623.7,1213.5 C619.1,1210.6 615.0,1208.1 611.3,1204.8 C607.5,1201.4 604.0,1197.5 601.3,1193.6 C598.6,1189.6 596.3,1184.4 595.1,1181.1 C593.9,1177.8 593.4,1175.2 593.9,1173.7 C594.3,1172.1 595.7,1172.3 597.6,1171.8 C599.5,1171.3 603.5,1171.7 605.0,1170.6 C606.6,1169.4 606.7,1167.1 606.9,1165.0 C607.1,1162.8 607.2,1158.9 606.3,1157.5 C605.4,1156.0 603.6,1156.9 601.3,1156.2 C599.0,1155.6 595.0,1154.8 592.6,1153.8 C590.2,1152.7 588.0,1151.5 587.0,1150.0 C586.0,1148.6 585.5,1145.9 586.4,1145.1 C587.3,1144.2 590.5,1144.9 592.6,1145.1 C594.7,1145.2 597.6,1146.1 598.8,1145.7 C600.1,1145.3 600.3,1143.7 600.1,1142.6 C599.9,1141.4 598.2,1139.9 597.6,1138.8 C597.0,1137.8 595.7,1136.9 596.3,1136.3 C597.0,1135.8 599.5,1135.5 601.3,1135.7 C603.2,1135.9 605.5,1136.7 607.5,1137.6 C609.6,1138.5 611.7,1140.1 613.8,1141.3 C615.8,1142.6 618.1,1144.4 620.0,1145.1 C621.8,1145.7 624.0,1146.3 625.0,1145.1 C625.9,1143.8 625.2,1140.1 625.6,1137.6 C626.0,1135.1 627.5,1132.2 627.4,1130.1 C627.3,1128.1 626.0,1127.0 625.0,1125.1 C623.9,1123.3 622.9,1120.2 621.2,1118.9 C619.6,1117.7 616.8,1117.9 615.0,1117.7 C613.2,1117.5 611.6,1118.5 610.6,1117.7 C609.7,1116.9 609.1,1114.4 609.4,1112.7 C609.7,1111.1 611.0,1108.8 612.5,1107.7 C614.1,1106.7 616.5,1106.3 618.7,1106.5 C621.0,1106.7 624.1,1107.5 626.2,1109.0 C628.3,1110.4 629.9,1113.1 631.2,1115.2 C632.4,1117.3 632.8,1119.4 633.7,1121.4 C634.5,1123.4 635.3,1126.6 636.1,1127.0 C637.0,1127.4 638.1,1125.5 638.6,1123.9 C639.2,1122.3 639.5,1119.8 639.3,1117.7 C639.1,1115.6 637.7,1113.3 637.4,1111.5 C637.1,1109.6 636.8,1107.5 637.4,1106.5 C638.0,1105.5 639.3,1105.2 641.1,1105.2 C643.0,1105.2 646.5,1105.8 648.6,1106.5 C650.7,1107.2 652.2,1109.2 653.6,1109.6 C654.9,1110.0 656.3,1110.1 656.7,1109.0 C657.1,1107.8 655.7,1104.2 656.1,1102.8 C656.4,1101.3 657.3,1100.9 658.5,1100.3 C659.8,1099.6 662.1,1099.1 663.5,1099.0 C665.0,1098.9 666.2,1100.5 667.2,1099.6 C668.3,1098.8 669.1,1095.8 669.7,1094.0 C670.4,1092.3 670.4,1090.5 671.0,1089.1 C671.6,1087.6 671.8,1085.5 673.5,1085.3 C675.1,1085.1 679.4,1087.8 680.9,1087.8 C682.5,1087.8 682.8,1086.2 682.8,1085.3 C682.8,1084.5 682.1,1083.7 680.9,1082.9 C679.8,1082.0 677.2,1081.4 676.0,1080.4 C674.7,1079.3 673.8,1078.7 673.5,1076.6 C673.2,1074.6 673.3,1069.4 674.1,1067.9 Z" fill="url(#csparse)" opacity="1.0"/>
<path d="M674.1,1067.9 C674.7,1066.9 677.1,1067.1 678.4,1067.7 C679.8,1068.3 684.2,1071.6 685.9,1072.9 C687.6,1074.2 691.6,1077.8 693.4,1079.1 C695.1,1080.4 698.8,1082.8 700.8,1084.1 C702.9,1085.4 708.5,1088.6 710.8,1090.3 C713.1,1092.1 718.7,1096.7 720.7,1099.0 C722.8,1101.3 726.6,1107.5 728.2,1110.2 C729.8,1113.0 733.1,1119.9 734.4,1122.7 C735.7,1125.4 738.5,1131.2 739.4,1133.9 C740.3,1136.5 742.5,1143.6 742.5,1145.1 C742.5,1146.5 740.3,1146.3 739.4,1146.3 C738.5,1146.3 735.6,1145.5 734.4,1145.1 C733.3,1144.6 730.6,1143.1 729.4,1142.6 C728.3,1142.1 725.1,1140.6 724.5,1140.7 C723.8,1140.8 723.4,1142.9 723.8,1143.8 C724.3,1144.8 727.0,1147.9 728.2,1148.8 C729.4,1149.7 733.3,1150.4 734.4,1151.3 C735.6,1152.1 737.9,1155.2 738.2,1156.2 C738.4,1157.3 737.3,1159.5 736.9,1160.0 C736.5,1160.4 735.3,1160.4 734.4,1160.0 C733.5,1159.5 730.5,1156.8 729.4,1156.2 C728.4,1155.7 726.3,1154.4 725.7,1155.0 C725.1,1155.6 724.8,1159.3 724.5,1161.2 C724.2,1163.1 723.4,1168.9 723.2,1171.2 C723.1,1173.5 722.9,1179.1 723.2,1181.1 C723.5,1183.2 725.9,1187.7 725.7,1188.6 C725.6,1189.5 722.9,1189.2 722.0,1188.6 C721.1,1188.0 719.3,1184.9 718.2,1183.6 C717.2,1182.3 714.1,1178.7 713.3,1177.4 C712.4,1176.1 710.8,1173.6 710.8,1172.4 C710.8,1171.3 712.7,1168.7 713.3,1167.4 C713.9,1166.1 715.6,1162.4 715.8,1161.2 C715.9,1160.1 715.2,1157.9 714.5,1157.5 C713.8,1157.1 710.8,1157.4 709.5,1158.1 C708.2,1158.8 704.9,1162.3 703.3,1163.7 C701.7,1165.1 697.6,1168.6 695.9,1169.9 C694.1,1171.2 689.8,1174.0 688.4,1174.9 C686.9,1175.8 684.1,1176.5 683.4,1177.4 C682.7,1178.3 681.6,1181.5 682.2,1182.4 C682.8,1183.2 686.9,1184.1 688.4,1184.9 C689.8,1185.6 693.5,1187.4 694.6,1188.6 C695.8,1189.8 698.2,1193.6 698.3,1194.8 C698.5,1196.0 697.3,1197.7 695.9,1198.5 C694.4,1199.4 687.2,1201.4 685.9,1202.3 C684.6,1203.1 684.7,1204.9 684.7,1206.0 C684.6,1207.1 685.7,1210.8 685.3,1211.6 C684.8,1212.4 682.2,1212.5 680.9,1212.8 C679.7,1213.2 675.7,1214.8 674.7,1214.7 C673.7,1214.6 672.7,1212.9 672.2,1212.2 C671.8,1211.5 670.8,1209.2 671.0,1208.5 C671.1,1207.8 672.7,1206.7 673.5,1206.0 C674.2,1205.3 676.6,1203.3 677.2,1202.3 C677.8,1201.3 677.9,1198.3 678.4,1197.3 C679.0,1196.3 681.6,1194.4 682.2,1193.6 C682.8,1192.7 683.7,1190.4 683.4,1189.8 C683.1,1189.3 681.0,1188.6 679.7,1188.6 C678.4,1188.6 673.5,1189.0 672.2,1189.8 C670.9,1190.7 669.4,1194.7 668.5,1196.1 C667.6,1197.4 665.4,1199.7 664.8,1201.0 C664.1,1202.3 663.0,1205.7 662.9,1207.2 C662.7,1208.8 663.4,1213.0 663.5,1214.7 C663.6,1216.5 663.2,1220.6 663.5,1222.2 C663.8,1223.8 665.6,1226.9 666.0,1228.4 C666.4,1229.8 668.1,1233.9 667.2,1234.6 C666.4,1235.3 660.4,1235.1 658.5,1234.6 C656.7,1234.2 653.4,1232.3 651.1,1230.9 C648.8,1229.4 641.8,1224.2 638.6,1222.2 C635.4,1220.1 626.9,1215.5 623.7,1213.5 C620.5,1211.4 613.9,1207.1 611.3,1204.8 C608.7,1202.4 603.2,1196.3 601.3,1193.6 C599.4,1190.8 596.0,1183.4 595.1,1181.1 C594.2,1178.8 593.6,1174.8 593.9,1173.7 C594.1,1172.6 596.3,1172.2 597.6,1171.8 C598.9,1171.4 604.0,1171.4 605.0,1170.6 C606.1,1169.8 606.8,1166.5 606.9,1165.0 C607.1,1163.4 606.9,1158.5 606.3,1157.5 C605.6,1156.5 602.9,1156.7 601.3,1156.2 C599.7,1155.8 594.3,1154.5 592.6,1153.8 C590.9,1153.0 587.7,1151.0 587.0,1150.0 C586.3,1149.0 585.7,1145.6 586.4,1145.1 C587.0,1144.5 591.2,1145.0 592.6,1145.1 C594.1,1145.1 598.0,1146.0 598.8,1145.7 C599.7,1145.4 600.2,1143.4 600.1,1142.6 C599.9,1141.8 598.0,1139.6 597.6,1138.8 C597.2,1138.1 595.9,1136.7 596.3,1136.3 C596.8,1136.0 600.0,1135.6 601.3,1135.7 C602.6,1135.9 606.1,1136.9 607.5,1137.6 C609.0,1138.2 612.3,1140.4 613.8,1141.3 C615.2,1142.2 618.7,1144.6 620.0,1145.1 C621.3,1145.5 624.3,1145.9 625.0,1145.1 C625.6,1144.2 625.3,1139.3 625.6,1137.6 C625.9,1135.8 627.5,1131.6 627.4,1130.1 C627.4,1128.7 625.7,1126.5 625.0,1125.1 C624.2,1123.8 622.4,1119.8 621.2,1118.9 C620.1,1118.1 616.2,1117.8 615.0,1117.7 C613.8,1117.5 611.3,1118.3 610.6,1117.7 C610.0,1117.1 609.2,1113.9 609.4,1112.7 C609.6,1111.5 611.4,1108.5 612.5,1107.7 C613.6,1107.0 617.1,1106.3 618.7,1106.5 C620.3,1106.6 624.7,1108.0 626.2,1109.0 C627.6,1110.0 630.3,1113.7 631.2,1115.2 C632.0,1116.6 633.1,1120.0 633.7,1121.4 C634.2,1122.8 635.6,1126.7 636.1,1127.0 C636.7,1127.3 638.3,1125.0 638.6,1123.9 C639.0,1122.8 639.4,1119.1 639.3,1117.7 C639.1,1116.2 637.6,1112.8 637.4,1111.5 C637.2,1110.2 637.0,1107.2 637.4,1106.5 C637.8,1105.8 639.8,1105.2 641.1,1105.2 C642.4,1105.2 647.1,1106.0 648.6,1106.5 C650.0,1107.0 652.6,1109.3 653.6,1109.6 C654.5,1109.9 656.4,1109.8 656.7,1109.0 C657.0,1108.2 655.8,1103.8 656.1,1102.8 C656.3,1101.7 657.7,1100.7 658.5,1100.3 C659.4,1099.8 662.5,1099.1 663.5,1099.0 C664.5,1099.0 666.5,1100.2 667.2,1099.6 C668.0,1099.1 669.3,1095.3 669.7,1094.0 C670.2,1092.8 670.5,1090.1 671.0,1089.1 C671.4,1088.1 672.3,1085.5 673.5,1085.3 C674.6,1085.2 679.8,1087.8 680.9,1087.8 C682.0,1087.8 682.8,1085.9 682.8,1085.3 C682.8,1084.8 681.7,1083.4 680.9,1082.9 C680.1,1082.3 676.8,1081.1 676.0,1080.4 C675.1,1079.6 673.7,1078.1 673.5,1076.6 C673.2,1075.2 673.5,1069.0 674.1,1067.9 Z" fill="none" stroke="#000" stroke-width="1.8" stroke-linejoin="round"/>
</g>
<rect x="566.30" y="1055.50" width="199.00" height="190.00" fill="none" stroke="#222" stroke-width="1.4" />
<g clip-path="url(#clip20)">
<rect x="779.30" y="1055.50" width="198.80" height="190.00" fill="#bdbbc8" stroke="none" stroke-width="1" />
<path d="M864.1,1055.5 C882.1,1053.8 959.4,1039.5 978.5,1055.5 C997.6,1071.5 979.8,1137.2 978.5,1151.3 C977.3,1165.4 974.6,1143.6 971.1,1140.1 C967.5,1136.6 960.7,1133.9 957.4,1130.1 C954.1,1126.4 954.3,1122.9 951.2,1117.7 C948.0,1112.5 943.9,1104.8 938.7,1099.0 C933.5,1093.2 926.3,1087.2 920.1,1082.9 C913.8,1078.5 907.6,1075.6 901.4,1072.9 C895.2,1070.2 887.9,1067.9 882.7,1066.7 C877.6,1065.4 873.4,1067.3 870.3,1065.4 C867.2,1063.6 846.0,1057.1 864.1,1055.5 Z" fill="#fcfcfc" fill-opacity="1.0"/>
<path d="M856.6,1064.2 C857.2,1062.3 864.5,1061.9 866.6,1063.0 C868.6,1064.0 869.7,1068.5 869.1,1070.4 C868.4,1072.3 864.9,1075.2 862.8,1074.1 C860.8,1073.1 856.0,1066.1 856.6,1064.2 Z" fill="#f4f4f4" fill-opacity="1.0"/>
<path d="M901.4,1202.3 C903.9,1200.4 907.0,1204.1 910.1,1207.2 C913.2,1210.4 917.4,1216.6 920.1,1220.9 C922.7,1225.3 926.3,1229.0 926.3,1233.4 C926.3,1237.7 926.7,1244.8 920.1,1247.1 C913.4,1249.3 892.7,1249.3 886.5,1247.1 C880.2,1244.8 881.3,1238.1 882.7,1233.4 C884.2,1228.6 892.1,1223.6 895.2,1218.4 C898.3,1213.3 898.9,1204.1 901.4,1202.3 Z" fill="#fafafa" fill-opacity="1.0"/>
<path d="M779.5,1224.7 C780.9,1221.1 786.5,1222.2 788.2,1225.9 C789.9,1229.6 790.9,1243.5 789.4,1247.1 C788.0,1250.6 781.1,1250.8 779.5,1247.1 C777.8,1243.3 778.0,1228.2 779.5,1224.7 Z" fill="#ececf0" fill-opacity="0.8"/>
<path d="M801.9,1214.7 C802.8,1213.1 808.8,1214.1 810.6,1216.0 C812.3,1217.8 813.4,1224.2 812.5,1225.9 C811.5,1227.6 806.8,1227.8 805.0,1225.9 C803.2,1224.0 800.9,1216.4 801.9,1214.7 Z" fill="#ececf0" fill-opacity="0.8"/>
<path d="M816.8,1227.2 C818.7,1224.2 825.7,1226.3 828.0,1229.6 C830.3,1233.0 832.4,1244.2 830.5,1247.1 C828.6,1250.0 819.1,1250.4 816.8,1247.1 C814.5,1243.7 814.9,1230.1 816.8,1227.2 Z" fill="#ececf0" fill-opacity="0.8"/>
<path d="M779.5,1055.5 C793.6,1045.5 849.1,1052.8 864.1,1055.5 C879.0,1058.2 867.4,1067.9 869.1,1071.7 C870.7,1075.4 872.6,1075.6 874.0,1077.9 C875.5,1080.2 878.2,1082.3 877.8,1085.3 C877.3,1088.3 873.5,1092.2 871.5,1095.9 C869.6,1099.6 867.2,1104.3 865.9,1107.7 C864.7,1111.2 867.3,1113.5 864.1,1116.4 C860.9,1119.3 851.6,1122.9 846.7,1125.1 C841.7,1127.4 836.5,1127.8 834.2,1130.1 C831.9,1132.4 837.3,1136.3 833.0,1138.8 C828.6,1141.3 815.4,1146.9 808.1,1145.1 C800.8,1143.2 794.2,1132.6 789.4,1127.6 C784.7,1122.7 781.1,1127.2 779.5,1115.2 C777.8,1103.2 765.4,1065.4 779.5,1055.5 Z" fill="#bdb9d0" fill-opacity="1.0"/>
<path d="M779.5,1055.5 C793.6,1045.5 849.1,1052.8 864.1,1055.5 C879.0,1058.2 867.4,1067.9 869.1,1071.7 C870.7,1075.4 872.6,1075.6 874.0,1077.9 C875.5,1080.2 878.2,1082.3 877.8,1085.3 C877.3,1088.3 873.5,1092.2 871.5,1095.9 C869.6,1099.6 867.2,1104.3 865.9,1107.7 C864.7,1111.2 867.3,1113.5 864.1,1116.4 C860.9,1119.3 851.6,1122.9 846.7,1125.1 C841.7,1127.4 836.5,1127.8 834.2,1130.1 C831.9,1132.4 837.3,1136.3 833.0,1138.8 C828.6,1141.3 815.4,1146.9 808.1,1145.1 C800.8,1143.2 794.2,1132.6 789.4,1127.6 C784.7,1122.7 781.1,1127.2 779.5,1115.2 C777.8,1103.2 765.4,1065.4 779.5,1055.5 Z" fill="url(#cdense)" opacity="1.0"/>
<path d="M801.9,1084.1 C807.5,1085.1 829.7,1093.0 835.5,1096.5 C841.3,1100.1 838.6,1103.2 836.7,1105.2 C834.8,1107.3 830.1,1111.5 824.3,1109.0 C818.5,1106.5 805.6,1094.5 801.9,1090.3 C798.1,1086.2 796.3,1083.1 801.9,1084.1 Z" fill="#dddce6" fill-opacity="1.0"/>
<path d="M907.6,1161.2 C912.4,1157.5 925.2,1156.0 932.5,1152.5 C939.7,1149.0 943.9,1138.0 951.2,1140.1 C958.4,1142.1 971.5,1147.1 976.0,1165.0 C980.6,1182.8 986.8,1233.4 978.5,1247.1 C970.2,1260.7 936.0,1251.4 926.3,1247.1 C916.5,1242.7 920.5,1227.4 920.1,1220.9 C919.6,1214.5 923.2,1212.6 923.8,1208.5 C924.4,1204.3 926.7,1199.6 923.8,1196.1 C920.9,1192.5 909.7,1190.9 906.4,1187.3 C903.1,1183.8 903.7,1179.3 903.9,1174.9 C904.1,1170.6 902.8,1165.0 907.6,1161.2 Z" fill="#c4c1d8" fill-opacity="1.0"/>
<path d="M907.6,1161.2 C912.4,1157.5 925.2,1156.0 932.5,1152.5 C939.7,1149.0 943.9,1138.0 951.2,1140.1 C958.4,1142.1 971.5,1147.1 976.0,1165.0 C980.6,1182.8 986.8,1233.4 978.5,1247.1 C970.2,1260.7 936.0,1251.4 926.3,1247.1 C916.5,1242.7 920.5,1227.4 920.1,1220.9 C919.6,1214.5 923.2,1212.6 923.8,1208.5 C924.4,1204.3 926.7,1199.6 923.8,1196.1 C920.9,1192.5 909.7,1190.9 906.4,1187.3 C903.1,1183.8 903.7,1179.3 903.9,1174.9 C904.1,1170.6 902.8,1165.0 907.6,1161.2 Z" fill="url(#cdense)" opacity="1.0"/>
<path d="M944.9,1161.2 C946.6,1158.5 958.0,1157.1 961.1,1158.7 C964.2,1160.4 965.2,1168.5 963.6,1171.2 C961.9,1173.9 954.3,1176.6 951.2,1174.9 C948.0,1173.2 943.3,1163.9 944.9,1161.2 Z" fill="#e8e8ee" fill-opacity="1.0"/>
<path d="M870.3,1067.9 C872.5,1067.2 878.6,1066.9 882.7,1067.3 C886.9,1067.7 891.0,1068.9 895.2,1070.4 C899.3,1072.0 903.5,1074.6 907.6,1076.6 C911.8,1078.7 916.3,1080.6 920.1,1082.9 C923.8,1085.1 926.9,1087.4 930.0,1090.3 C933.1,1093.2 936.0,1097.0 938.7,1100.3 C941.4,1103.6 944.1,1107.1 946.2,1110.2 C948.2,1113.3 949.7,1116.4 951.2,1118.9 C952.6,1121.4 954.1,1123.7 954.9,1125.1 C955.7,1126.6 956.3,1126.8 956.1,1127.6 C955.9,1128.5 954.3,1128.9 953.6,1130.1 C953.0,1131.4 953.0,1133.6 952.4,1135.1 C951.8,1136.6 951.4,1137.8 949.9,1138.8 C948.5,1139.9 945.8,1140.5 943.7,1141.3 C941.6,1142.1 938.9,1143.0 937.5,1143.8 C936.0,1144.6 935.2,1145.3 935.0,1146.3 C934.8,1147.3 936.8,1149.0 936.2,1150.0 C935.6,1151.1 933.1,1151.9 931.2,1152.5 C929.4,1153.1 925.9,1153.3 925.0,1153.8 C924.2,1154.2 925.7,1154.6 926.3,1155.0 C926.9,1155.4 928.6,1155.4 928.8,1156.2 C929.0,1157.1 928.3,1158.9 927.5,1160.0 C926.7,1161.0 925.4,1162.3 923.8,1162.5 C922.1,1162.7 919.4,1161.0 917.6,1161.2 C915.7,1161.4 914.0,1162.7 912.6,1163.7 C911.1,1164.7 910.1,1165.8 908.9,1167.4 C907.6,1169.1 906.0,1171.6 905.1,1173.7 C904.3,1175.7 903.9,1178.0 903.9,1179.9 C903.9,1181.7 904.1,1183.4 905.1,1184.9 C906.2,1186.3 908.2,1187.6 910.1,1188.6 C912.0,1189.6 914.5,1190.2 916.3,1191.1 C918.2,1191.9 920.2,1192.3 921.3,1193.6 C922.4,1194.8 923.2,1196.9 923.2,1198.5 C923.2,1200.2 922.4,1202.1 921.3,1203.5 C920.2,1205.0 918.0,1206.6 916.3,1207.2 C914.7,1207.9 912.6,1207.9 911.3,1207.2 C910.1,1206.6 909.5,1205.0 908.9,1203.5 C908.2,1202.1 908.2,1199.8 907.6,1198.5 C907.0,1197.3 906.4,1196.9 905.1,1196.1 C903.9,1195.2 902.0,1194.0 900.1,1193.6 C898.3,1193.2 895.8,1193.2 893.9,1193.6 C892.1,1194.0 890.0,1194.8 889.0,1196.1 C887.9,1197.3 887.7,1199.4 887.7,1201.0 C887.7,1202.7 887.9,1204.6 889.0,1206.0 C890.0,1207.5 892.6,1208.5 893.9,1209.7 C895.3,1211.0 896.5,1212.1 897.0,1213.5 C897.6,1214.8 897.6,1216.8 897.0,1217.8 C896.5,1218.9 895.7,1219.6 893.9,1219.7 C892.2,1219.8 888.5,1219.1 886.5,1218.4 C884.4,1217.8 883.1,1216.0 881.5,1216.0 C879.8,1216.0 878.2,1218.2 876.5,1218.4 C874.9,1218.7 873.6,1217.8 871.5,1217.2 C869.5,1216.6 867.0,1215.5 864.1,1214.7 C861.2,1213.9 857.9,1213.5 854.1,1212.2 C850.4,1211.0 845.6,1209.1 841.7,1207.2 C837.7,1205.4 833.6,1202.9 830.5,1201.0 C827.4,1199.2 825.7,1198.1 823.0,1196.1 C820.3,1194.0 817.0,1191.7 814.3,1188.6 C811.6,1185.5 808.9,1181.1 806.9,1177.4 C804.8,1173.7 802.9,1169.5 801.9,1166.2 C800.8,1162.9 800.4,1160.4 800.6,1157.5 C800.8,1154.6 801.7,1150.9 803.1,1148.8 C804.6,1146.7 806.6,1145.8 809.3,1145.1 C812.0,1144.3 816.8,1145.3 819.3,1144.4 C821.8,1143.6 822.0,1141.0 824.3,1140.1 C826.6,1139.1 831.3,1139.7 833.0,1138.8 C834.6,1138.0 833.8,1136.1 834.2,1135.1 C834.6,1134.1 835.5,1133.9 835.5,1132.6 C835.5,1131.4 833.8,1129.1 834.2,1127.6 C834.6,1126.2 836.7,1124.4 838.0,1123.9 C839.2,1123.4 840.2,1124.3 841.7,1124.5 C843.1,1124.7 845.0,1125.1 846.7,1125.1 C848.3,1125.1 850.2,1125.3 851.6,1124.5 C853.1,1123.8 853.5,1122.1 855.4,1120.8 C857.2,1119.4 861.1,1117.6 862.8,1116.4 C864.6,1115.3 865.4,1115.4 865.9,1114.0 C866.5,1112.5 866.7,1109.4 865.9,1107.7 C865.2,1106.1 863.3,1105.5 861.6,1104.0 C859.8,1102.6 857.4,1100.9 855.4,1099.0 C853.3,1097.2 851.2,1095.1 849.1,1092.8 C847.1,1090.5 844.3,1087.4 842.9,1085.3 C841.6,1083.3 841.3,1081.7 841.1,1080.4 C840.9,1079.0 841.0,1077.5 841.7,1077.3 C842.4,1077.0 843.8,1077.8 845.4,1079.1 C847.1,1080.5 849.6,1083.3 851.6,1085.3 C853.7,1087.4 855.8,1089.8 857.9,1091.6 C859.9,1093.3 862.0,1095.2 864.1,1095.9 C866.1,1096.6 868.4,1096.6 870.3,1095.9 C872.2,1095.2 874.0,1093.1 875.3,1091.6 C876.5,1090.0 877.3,1088.5 877.8,1086.6 C878.2,1084.7 878.4,1081.8 877.8,1080.4 C877.1,1078.9 875.3,1078.5 874.0,1077.9 C872.8,1077.3 871.0,1077.7 870.3,1076.6 C869.6,1075.6 869.7,1073.1 869.7,1071.7 C869.7,1070.2 868.1,1068.7 870.3,1067.9 Z" fill="#c0becd" fill-opacity="0.95"/>
<path d="M870.3,1067.9 C872.5,1067.2 878.6,1066.9 882.7,1067.3 C886.9,1067.7 891.0,1068.9 895.2,1070.4 C899.3,1072.0 903.5,1074.6 907.6,1076.6 C911.8,1078.7 916.3,1080.6 920.1,1082.9 C923.8,1085.1 926.9,1087.4 930.0,1090.3 C933.1,1093.2 936.0,1097.0 938.7,1100.3 C941.4,1103.6 944.1,1107.1 946.2,1110.2 C948.2,1113.3 949.7,1116.4 951.2,1118.9 C952.6,1121.4 954.1,1123.7 954.9,1125.1 C955.7,1126.6 956.3,1126.8 956.1,1127.6 C955.9,1128.5 954.3,1128.9 953.6,1130.1 C953.0,1131.4 953.0,1133.6 952.4,1135.1 C951.8,1136.6 951.4,1137.8 949.9,1138.8 C948.5,1139.9 945.8,1140.5 943.7,1141.3 C941.6,1142.1 938.9,1143.0 937.5,1143.8 C936.0,1144.6 935.2,1145.3 935.0,1146.3 C934.8,1147.3 936.8,1149.0 936.2,1150.0 C935.6,1151.1 933.1,1151.9 931.2,1152.5 C929.4,1153.1 925.9,1153.3 925.0,1153.8 C924.2,1154.2 925.7,1154.6 926.3,1155.0 C926.9,1155.4 928.6,1155.4 928.8,1156.2 C929.0,1157.1 928.3,1158.9 927.5,1160.0 C926.7,1161.0 925.4,1162.3 923.8,1162.5 C922.1,1162.7 919.4,1161.0 917.6,1161.2 C915.7,1161.4 914.0,1162.7 912.6,1163.7 C911.1,1164.7 910.1,1165.8 908.9,1167.4 C907.6,1169.1 906.0,1171.6 905.1,1173.7 C904.3,1175.7 903.9,1178.0 903.9,1179.9 C903.9,1181.7 904.1,1183.4 905.1,1184.9 C906.2,1186.3 908.2,1187.6 910.1,1188.6 C912.0,1189.6 914.5,1190.2 916.3,1191.1 C918.2,1191.9 920.2,1192.3 921.3,1193.6 C922.4,1194.8 923.2,1196.9 923.2,1198.5 C923.2,1200.2 922.4,1202.1 921.3,1203.5 C920.2,1205.0 918.0,1206.6 916.3,1207.2 C914.7,1207.9 912.6,1207.9 911.3,1207.2 C910.1,1206.6 909.5,1205.0 908.9,1203.5 C908.2,1202.1 908.2,1199.8 907.6,1198.5 C907.0,1197.3 906.4,1196.9 905.1,1196.1 C903.9,1195.2 902.0,1194.0 900.1,1193.6 C898.3,1193.2 895.8,1193.2 893.9,1193.6 C892.1,1194.0 890.0,1194.8 889.0,1196.1 C887.9,1197.3 887.7,1199.4 887.7,1201.0 C887.7,1202.7 887.9,1204.6 889.0,1206.0 C890.0,1207.5 892.6,1208.5 893.9,1209.7 C895.3,1211.0 896.5,1212.1 897.0,1213.5 C897.6,1214.8 897.6,1216.8 897.0,1217.8 C896.5,1218.9 895.7,1219.6 893.9,1219.7 C892.2,1219.8 888.5,1219.1 886.5,1218.4 C884.4,1217.8 883.1,1216.0 881.5,1216.0 C879.8,1216.0 878.2,1218.2 876.5,1218.4 C874.9,1218.7 873.6,1217.8 871.5,1217.2 C869.5,1216.6 867.0,1215.5 864.1,1214.7 C861.2,1213.9 857.9,1213.5 854.1,1212.2 C850.4,1211.0 845.6,1209.1 841.7,1207.2 C837.7,1205.4 833.6,1202.9 830.5,1201.0 C827.4,1199.2 825.7,1198.1 823.0,1196.1 C820.3,1194.0 817.0,1191.7 814.3,1188.6 C811.6,1185.5 808.9,1181.1 806.9,1177.4 C804.8,1173.7 802.9,1169.5 801.9,1166.2 C800.8,1162.9 800.4,1160.4 800.6,1157.5 C800.8,1154.6 801.7,1150.9 803.1,1148.8 C804.6,1146.7 806.6,1145.8 809.3,1145.1 C812.0,1144.3 816.8,1145.3 819.3,1144.4 C821.8,1143.6 822.0,1141.0 824.3,1140.1 C826.6,1139.1 831.3,1139.7 833.0,1138.8 C834.6,1138.0 833.8,1136.1 834.2,1135.1 C834.6,1134.1 835.5,1133.9 835.5,1132.6 C835.5,1131.4 833.8,1129.1 834.2,1127.6 C834.6,1126.2 836.7,1124.4 838.0,1123.9 C839.2,1123.4 840.2,1124.3 841.7,1124.5 C843.1,1124.7 845.0,1125.1 846.7,1125.1 C848.3,1125.1 850.2,1125.3 851.6,1124.5 C853.1,1123.8 853.5,1122.1 855.4,1120.8 C857.2,1119.4 861.1,1117.6 862.8,1116.4 C864.6,1115.3 865.4,1115.4 865.9,1114.0 C866.5,1112.5 866.7,1109.4 865.9,1107.7 C865.2,1106.1 863.3,1105.5 861.6,1104.0 C859.8,1102.6 857.4,1100.9 855.4,1099.0 C853.3,1097.2 851.2,1095.1 849.1,1092.8 C847.1,1090.5 844.3,1087.4 842.9,1085.3 C841.6,1083.3 841.3,1081.7 841.1,1080.4 C840.9,1079.0 841.0,1077.5 841.7,1077.3 C842.4,1077.0 843.8,1077.8 845.4,1079.1 C847.1,1080.5 849.6,1083.3 851.6,1085.3 C853.7,1087.4 855.8,1089.8 857.9,1091.6 C859.9,1093.3 862.0,1095.2 864.1,1095.9 C866.1,1096.6 868.4,1096.6 870.3,1095.9 C872.2,1095.2 874.0,1093.1 875.3,1091.6 C876.5,1090.0 877.3,1088.5 877.8,1086.6 C878.2,1084.7 878.4,1081.8 877.8,1080.4 C877.1,1078.9 875.3,1078.5 874.0,1077.9 C872.8,1077.3 871.0,1077.7 870.3,1076.6 C869.6,1075.6 869.7,1073.1 869.7,1071.7 C869.7,1070.2 868.1,1068.7 870.3,1067.9 Z" fill="url(#cmed)" opacity="0.6"/>
<path d="M870.3,1067.9 C871.8,1067.4 879.8,1067.0 882.7,1067.3 C885.6,1067.6 892.3,1069.3 895.2,1070.4 C898.1,1071.5 904.7,1075.2 907.6,1076.6 C910.5,1078.1 917.4,1081.3 920.1,1082.9 C922.7,1084.5 927.8,1088.3 930.0,1090.3 C932.2,1092.3 936.8,1097.9 938.7,1100.3 C940.6,1102.6 944.7,1108.0 946.2,1110.2 C947.6,1112.4 950.1,1117.2 951.2,1118.9 C952.2,1120.7 954.3,1124.1 954.9,1125.1 C955.5,1126.2 956.3,1127.1 956.1,1127.6 C956.0,1128.2 954.1,1129.3 953.6,1130.1 C953.2,1131.0 952.8,1134.1 952.4,1135.1 C952.0,1136.1 950.9,1138.1 949.9,1138.8 C948.9,1139.6 945.1,1140.7 943.7,1141.3 C942.2,1141.9 938.5,1143.2 937.5,1143.8 C936.5,1144.4 935.1,1145.6 935.0,1146.3 C934.8,1147.0 936.7,1149.3 936.2,1150.0 C935.8,1150.8 932.6,1152.1 931.2,1152.5 C929.9,1153.0 925.6,1153.5 925.0,1153.8 C924.4,1154.0 925.8,1154.7 926.3,1155.0 C926.7,1155.3 928.6,1155.7 928.8,1156.2 C928.9,1156.8 928.1,1159.3 927.5,1160.0 C926.9,1160.7 924.9,1162.3 923.8,1162.5 C922.6,1162.6 918.9,1161.1 917.6,1161.2 C916.3,1161.4 913.6,1163.0 912.6,1163.7 C911.6,1164.4 909.7,1166.3 908.9,1167.4 C908.0,1168.6 905.7,1172.2 905.1,1173.7 C904.5,1175.1 903.9,1178.6 903.9,1179.9 C903.9,1181.2 904.4,1183.8 905.1,1184.9 C905.9,1185.9 908.8,1187.9 910.1,1188.6 C911.4,1189.3 915.0,1190.5 916.3,1191.1 C917.6,1191.7 920.5,1192.7 921.3,1193.6 C922.1,1194.4 923.2,1197.4 923.2,1198.5 C923.2,1199.7 922.1,1202.5 921.3,1203.5 C920.5,1204.5 917.5,1206.8 916.3,1207.2 C915.2,1207.7 912.2,1207.7 911.3,1207.2 C910.5,1206.8 909.3,1204.5 908.9,1203.5 C908.4,1202.5 908.0,1199.4 907.6,1198.5 C907.2,1197.7 906.0,1196.6 905.1,1196.1 C904.3,1195.5 901.5,1193.9 900.1,1193.6 C898.8,1193.3 895.2,1193.3 893.9,1193.6 C892.6,1193.9 889.7,1195.2 889.0,1196.1 C888.2,1196.9 887.7,1199.9 887.7,1201.0 C887.7,1202.2 888.2,1205.0 889.0,1206.0 C889.7,1207.0 893.0,1208.9 893.9,1209.7 C894.9,1210.6 896.7,1212.5 897.0,1213.5 C897.4,1214.4 897.4,1217.1 897.0,1217.8 C896.7,1218.5 895.2,1219.6 893.9,1219.7 C892.7,1219.8 887.9,1218.9 886.5,1218.4 C885.0,1218.0 882.7,1216.0 881.5,1216.0 C880.3,1216.0 877.7,1218.3 876.5,1218.4 C875.4,1218.6 873.0,1217.6 871.5,1217.2 C870.1,1216.8 866.1,1215.3 864.1,1214.7 C862.0,1214.1 856.7,1213.1 854.1,1212.2 C851.5,1211.4 844.4,1208.6 841.7,1207.2 C838.9,1205.9 832.7,1202.3 830.5,1201.0 C828.3,1199.7 824.9,1197.5 823.0,1196.1 C821.1,1194.6 816.2,1190.8 814.3,1188.6 C812.4,1186.4 808.3,1180.0 806.9,1177.4 C805.4,1174.8 802.6,1168.5 801.9,1166.2 C801.2,1163.9 800.5,1159.5 800.6,1157.5 C800.8,1155.5 802.1,1150.2 803.1,1148.8 C804.1,1147.3 807.5,1145.6 809.3,1145.1 C811.2,1144.5 817.6,1145.0 819.3,1144.4 C821.0,1143.8 822.7,1140.7 824.3,1140.1 C825.9,1139.4 831.8,1139.4 833.0,1138.8 C834.1,1138.3 833.9,1135.8 834.2,1135.1 C834.5,1134.4 835.5,1133.5 835.5,1132.6 C835.5,1131.7 833.9,1128.7 834.2,1127.6 C834.5,1126.6 837.1,1124.3 838.0,1123.9 C838.8,1123.5 840.7,1124.4 841.7,1124.5 C842.7,1124.7 845.5,1125.1 846.7,1125.1 C847.8,1125.1 850.6,1125.0 851.6,1124.5 C852.7,1124.0 854.1,1121.7 855.4,1120.8 C856.7,1119.9 861.6,1117.2 862.8,1116.4 C864.1,1115.6 865.6,1115.0 865.9,1114.0 C866.3,1112.9 866.4,1108.9 865.9,1107.7 C865.4,1106.6 862.8,1105.0 861.6,1104.0 C860.4,1103.0 856.8,1100.3 855.4,1099.0 C853.9,1097.7 850.6,1094.4 849.1,1092.8 C847.7,1091.2 843.9,1086.8 842.9,1085.3 C842.0,1083.9 841.2,1081.3 841.1,1080.4 C840.9,1079.4 841.2,1077.4 841.7,1077.3 C842.2,1077.1 844.3,1078.2 845.4,1079.1 C846.6,1080.1 850.2,1083.9 851.6,1085.3 C853.1,1086.8 856.4,1090.3 857.9,1091.6 C859.3,1092.8 862.6,1095.4 864.1,1095.9 C865.5,1096.4 869.0,1096.4 870.3,1095.9 C871.6,1095.4 874.4,1092.7 875.3,1091.6 C876.1,1090.5 877.5,1087.9 877.8,1086.6 C878.0,1085.3 878.2,1081.4 877.8,1080.4 C877.3,1079.4 874.9,1078.3 874.0,1077.9 C873.2,1077.4 870.8,1077.4 870.3,1076.6 C869.8,1075.9 869.7,1072.7 869.7,1071.7 C869.7,1070.6 868.8,1068.4 870.3,1067.9 Z" fill="none" stroke="#000" stroke-width="1.8" stroke-linejoin="round"/>
</g>
<rect x="779.30" y="1055.50" width="198.80" height="190.00" fill="none" stroke="#222" stroke-width="1.4" />
<g clip-path="url(#clip30)">
<rect x="992.20" y="1055.50" width="194.40" height="190.00" fill="#ffffff" stroke="none" stroke-width="1" />
<path d="M992.5,1201.0 C996.2,1190.7 1006.6,1190.9 1014.9,1184.9 C1023.2,1178.8 1034.0,1170.6 1042.2,1165.0 C1050.5,1159.4 1056.8,1157.1 1064.6,1151.3 C1072.5,1145.5 1081.2,1136.6 1089.5,1130.1 C1097.8,1123.7 1106.1,1118.1 1114.4,1112.7 C1122.7,1107.3 1131.0,1103.6 1139.3,1097.8 C1147.6,1092.0 1156.7,1084.3 1164.2,1077.9 C1171.6,1071.5 1179.9,1063.0 1184.1,1059.2 C1188.2,1055.5 1187.8,1056.1 1189.0,1055.5 C1190.3,1054.9 1191.1,1047.6 1191.5,1055.5 C1191.9,1063.4 1194.4,1092.4 1191.5,1102.8 C1188.6,1113.1 1180.7,1112.7 1174.1,1117.7 C1167.5,1122.7 1159.6,1127.6 1151.7,1132.6 C1143.8,1137.6 1135.1,1142.1 1126.8,1147.5 C1118.5,1152.9 1110.2,1158.7 1102.0,1165.0 C1093.7,1171.2 1086.4,1177.8 1077.1,1184.9 C1067.7,1191.9 1055.3,1200.6 1046.0,1207.2 C1036.6,1213.9 1028.4,1218.0 1021.1,1224.7 C1013.8,1231.3 1007.2,1243.3 1002.4,1247.1 C997.7,1250.8 994.1,1254.7 992.5,1247.1 C990.8,1239.4 988.8,1211.4 992.5,1201.0 Z" fill="#dcdedf" fill-opacity="1.0"/>
<path d="M992.5,1201.0 C996.2,1190.7 1006.6,1190.9 1014.9,1184.9 C1023.2,1178.8 1034.0,1170.6 1042.2,1165.0 C1050.5,1159.4 1056.8,1157.1 1064.6,1151.3 C1072.5,1145.5 1081.2,1136.6 1089.5,1130.1 C1097.8,1123.7 1106.1,1118.1 1114.4,1112.7 C1122.7,1107.3 1131.0,1103.6 1139.3,1097.8 C1147.6,1092.0 1156.7,1084.3 1164.2,1077.9 C1171.6,1071.5 1179.9,1063.0 1184.1,1059.2 C1188.2,1055.5 1187.8,1056.1 1189.0,1055.5 C1190.3,1054.9 1191.1,1047.6 1191.5,1055.5 C1191.9,1063.4 1194.4,1092.4 1191.5,1102.8 C1188.6,1113.1 1180.7,1112.7 1174.1,1117.7 C1167.5,1122.7 1159.6,1127.6 1151.7,1132.6 C1143.8,1137.6 1135.1,1142.1 1126.8,1147.5 C1118.5,1152.9 1110.2,1158.7 1102.0,1165.0 C1093.7,1171.2 1086.4,1177.8 1077.1,1184.9 C1067.7,1191.9 1055.3,1200.6 1046.0,1207.2 C1036.6,1213.9 1028.4,1218.0 1021.1,1224.7 C1013.8,1231.3 1007.2,1243.3 1002.4,1247.1 C997.7,1250.8 994.1,1254.7 992.5,1247.1 C990.8,1239.4 988.8,1211.4 992.5,1201.0 Z" fill="url(#fib35)" opacity="0.6"/>
<path d="M1130.6,1162.5 C1131.0,1160.4 1136.4,1153.1 1139.3,1151.3 C1142.2,1149.4 1146.7,1150.0 1148.0,1151.3 C1149.2,1152.5 1148.6,1156.7 1146.7,1158.7 C1144.9,1160.8 1139.5,1163.1 1136.8,1163.7 C1134.1,1164.3 1130.2,1164.5 1130.6,1162.5 Z" fill="#dcdde0" fill-opacity="1.0"/>
<path d="M997.5,1202.3 C999.1,1199.0 1002.9,1193.6 1006.2,1189.8 C1009.5,1186.1 1013.6,1183.2 1017.4,1179.9 C1021.1,1176.6 1025.5,1171.8 1028.6,1169.9 C1031.7,1168.1 1034.0,1168.8 1036.0,1168.7 C1038.1,1168.6 1040.4,1167.9 1041.0,1169.3 C1041.6,1170.8 1040.6,1175.2 1039.8,1177.4 C1038.9,1179.6 1036.4,1181.0 1036.0,1182.4 C1035.6,1183.7 1036.0,1185.3 1037.3,1185.5 C1038.5,1185.7 1040.6,1185.2 1043.5,1183.6 C1046.4,1182.1 1050.7,1178.8 1054.7,1176.1 C1058.6,1173.5 1063.0,1170.3 1067.1,1167.4 C1071.3,1164.5 1076.0,1161.8 1079.6,1158.7 C1083.1,1155.6 1086.2,1151.9 1088.3,1148.8 C1090.3,1145.7 1090.6,1142.4 1092.0,1140.1 C1093.5,1137.8 1094.3,1137.0 1097.0,1135.1 C1099.7,1133.2 1104.0,1131.4 1108.2,1128.9 C1112.3,1126.4 1117.5,1122.9 1121.9,1120.2 C1126.2,1117.5 1130.2,1115.2 1134.3,1112.7 C1138.4,1110.2 1143.2,1107.7 1146.7,1105.2 C1150.3,1102.8 1152.5,1100.1 1155.4,1097.8 C1158.3,1095.5 1161.0,1093.3 1164.2,1091.6 C1167.3,1089.8 1171.2,1087.8 1174.1,1087.2 C1177.0,1086.6 1180.0,1086.9 1181.6,1087.8 C1183.1,1088.8 1183.4,1090.5 1183.4,1092.8 C1183.4,1095.1 1182.5,1099.0 1181.6,1101.5 C1180.6,1104.0 1179.3,1106.1 1177.8,1107.7 C1176.4,1109.4 1174.3,1111.1 1172.9,1111.5 C1171.4,1111.9 1171.0,1110.0 1169.1,1110.2 C1167.3,1110.4 1164.6,1111.5 1161.7,1112.7 C1158.8,1114.0 1155.9,1115.2 1151.7,1117.7 C1147.6,1120.2 1140.9,1125.1 1136.8,1127.6 C1132.6,1130.1 1130.2,1131.0 1126.8,1132.6 C1123.5,1134.3 1120.0,1135.3 1116.9,1137.6 C1113.8,1139.9 1110.7,1143.4 1108.2,1146.3 C1105.7,1149.2 1104.2,1152.3 1102.0,1155.0 C1099.7,1157.7 1096.8,1159.8 1094.5,1162.5 C1092.2,1165.2 1090.8,1168.7 1088.3,1171.2 C1085.8,1173.7 1083.1,1175.1 1079.6,1177.4 C1076.0,1179.7 1071.7,1182.2 1067.1,1184.9 C1062.6,1187.6 1057.2,1190.7 1052.2,1193.6 C1047.2,1196.5 1042.0,1199.6 1037.3,1202.3 C1032.5,1205.0 1027.7,1208.1 1023.6,1209.7 C1019.4,1211.4 1016.1,1211.6 1012.4,1212.2 C1008.7,1212.8 1003.9,1213.9 1001.2,1213.5 C998.5,1213.1 996.8,1211.6 996.2,1209.7 C995.6,1207.9 995.8,1205.6 997.5,1202.3 Z" fill="#d5d9dd" fill-opacity="1.0"/>
<path d="M997.5,1202.3 C999.1,1199.0 1002.9,1193.6 1006.2,1189.8 C1009.5,1186.1 1013.6,1183.2 1017.4,1179.9 C1021.1,1176.6 1025.5,1171.8 1028.6,1169.9 C1031.7,1168.1 1034.0,1168.8 1036.0,1168.7 C1038.1,1168.6 1040.4,1167.9 1041.0,1169.3 C1041.6,1170.8 1040.6,1175.2 1039.8,1177.4 C1038.9,1179.6 1036.4,1181.0 1036.0,1182.4 C1035.6,1183.7 1036.0,1185.3 1037.3,1185.5 C1038.5,1185.7 1040.6,1185.2 1043.5,1183.6 C1046.4,1182.1 1050.7,1178.8 1054.7,1176.1 C1058.6,1173.5 1063.0,1170.3 1067.1,1167.4 C1071.3,1164.5 1076.0,1161.8 1079.6,1158.7 C1083.1,1155.6 1086.2,1151.9 1088.3,1148.8 C1090.3,1145.7 1090.6,1142.4 1092.0,1140.1 C1093.5,1137.8 1094.3,1137.0 1097.0,1135.1 C1099.7,1133.2 1104.0,1131.4 1108.2,1128.9 C1112.3,1126.4 1117.5,1122.9 1121.9,1120.2 C1126.2,1117.5 1130.2,1115.2 1134.3,1112.7 C1138.4,1110.2 1143.2,1107.7 1146.7,1105.2 C1150.3,1102.8 1152.5,1100.1 1155.4,1097.8 C1158.3,1095.5 1161.0,1093.3 1164.2,1091.6 C1167.3,1089.8 1171.2,1087.8 1174.1,1087.2 C1177.0,1086.6 1180.0,1086.9 1181.6,1087.8 C1183.1,1088.8 1183.4,1090.5 1183.4,1092.8 C1183.4,1095.1 1182.5,1099.0 1181.6,1101.5 C1180.6,1104.0 1179.3,1106.1 1177.8,1107.7 C1176.4,1109.4 1174.3,1111.1 1172.9,1111.5 C1171.4,1111.9 1171.0,1110.0 1169.1,1110.2 C1167.3,1110.4 1164.6,1111.5 1161.7,1112.7 C1158.8,1114.0 1155.9,1115.2 1151.7,1117.7 C1147.6,1120.2 1140.9,1125.1 1136.8,1127.6 C1132.6,1130.1 1130.2,1131.0 1126.8,1132.6 C1123.5,1134.3 1120.0,1135.3 1116.9,1137.6 C1113.8,1139.9 1110.7,1143.4 1108.2,1146.3 C1105.7,1149.2 1104.2,1152.3 1102.0,1155.0 C1099.7,1157.7 1096.8,1159.8 1094.5,1162.5 C1092.2,1165.2 1090.8,1168.7 1088.3,1171.2 C1085.8,1173.7 1083.1,1175.1 1079.6,1177.4 C1076.0,1179.7 1071.7,1182.2 1067.1,1184.9 C1062.6,1187.6 1057.2,1190.7 1052.2,1193.6 C1047.2,1196.5 1042.0,1199.6 1037.3,1202.3 C1032.5,1205.0 1027.7,1208.1 1023.6,1209.7 C1019.4,1211.4 1016.1,1211.6 1012.4,1212.2 C1008.7,1212.8 1003.9,1213.9 1001.2,1213.5 C998.5,1213.1 996.8,1211.6 996.2,1209.7 C995.6,1207.9 995.8,1205.6 997.5,1202.3 Z" fill="url(#fib35)" opacity="0.8"/>
<path d="M997.5,1202.3 C998.6,1200.0 1003.8,1192.4 1006.2,1189.8 C1008.5,1187.2 1014.8,1182.2 1017.4,1179.9 C1020.0,1177.6 1026.4,1171.2 1028.6,1169.9 C1030.7,1168.6 1034.6,1168.8 1036.0,1168.7 C1037.5,1168.6 1040.6,1168.3 1041.0,1169.3 C1041.4,1170.3 1040.3,1175.9 1039.8,1177.4 C1039.2,1178.9 1036.3,1181.4 1036.0,1182.4 C1035.7,1183.3 1036.4,1185.3 1037.3,1185.5 C1038.1,1185.6 1041.5,1184.7 1043.5,1183.6 C1045.5,1182.5 1051.9,1178.0 1054.7,1176.1 C1057.4,1174.3 1064.2,1169.5 1067.1,1167.4 C1070.0,1165.4 1077.1,1160.9 1079.6,1158.7 C1082.0,1156.6 1086.8,1151.0 1088.3,1148.8 C1089.7,1146.6 1091.0,1141.7 1092.0,1140.1 C1093.0,1138.5 1095.1,1136.4 1097.0,1135.1 C1098.9,1133.8 1105.3,1130.6 1108.2,1128.9 C1111.1,1127.1 1118.8,1122.1 1121.9,1120.2 C1124.9,1118.3 1131.4,1114.5 1134.3,1112.7 C1137.2,1111.0 1144.3,1107.0 1146.7,1105.2 C1149.2,1103.5 1153.4,1099.4 1155.4,1097.8 C1157.5,1096.2 1162.0,1092.8 1164.2,1091.6 C1166.3,1090.3 1172.1,1087.6 1174.1,1087.2 C1176.1,1086.8 1180.5,1087.2 1181.6,1087.8 C1182.7,1088.5 1183.4,1091.2 1183.4,1092.8 C1183.4,1094.4 1182.2,1099.8 1181.6,1101.5 C1180.9,1103.3 1178.9,1106.6 1177.8,1107.7 C1176.8,1108.9 1173.9,1111.2 1172.9,1111.5 C1171.8,1111.8 1170.4,1110.1 1169.1,1110.2 C1167.8,1110.4 1163.7,1111.8 1161.7,1112.7 C1159.6,1113.6 1154.6,1115.9 1151.7,1117.7 C1148.8,1119.4 1139.7,1125.9 1136.8,1127.6 C1133.9,1129.4 1129.2,1131.5 1126.8,1132.6 C1124.5,1133.8 1119.1,1136.0 1116.9,1137.6 C1114.7,1139.2 1109.9,1144.3 1108.2,1146.3 C1106.4,1148.3 1103.6,1153.1 1102.0,1155.0 C1100.4,1156.9 1096.1,1160.6 1094.5,1162.5 C1092.9,1164.4 1090.0,1169.4 1088.3,1171.2 C1086.5,1172.9 1082.0,1175.8 1079.6,1177.4 C1077.1,1179.0 1070.3,1183.0 1067.1,1184.9 C1063.9,1186.7 1055.7,1191.5 1052.2,1193.6 C1048.7,1195.6 1040.6,1200.4 1037.3,1202.3 C1033.9,1204.2 1026.5,1208.6 1023.6,1209.7 C1020.7,1210.9 1015.0,1211.8 1012.4,1212.2 C1009.8,1212.7 1003.1,1213.8 1001.2,1213.5 C999.3,1213.2 996.7,1211.0 996.2,1209.7 C995.8,1208.4 996.3,1204.6 997.5,1202.3 Z" fill="none" stroke="#000" stroke-width="1.8" stroke-linejoin="round"/>
</g>
<rect x="992.20" y="1055.50" width="194.40" height="190.00" fill="none" stroke="#222" stroke-width="1.4" />
<g clip-path="url(#clip40)">
<rect x="1192.60" y="1055.50" width="193.90" height="190.00" fill="#ffffff" stroke="none" stroke-width="1" />
<path d="M1192.5,1055.5 C1195.8,1051.3 1206.6,1054.0 1212.4,1056.7 C1218.2,1059.4 1220.7,1066.1 1227.3,1071.7 C1234.0,1077.3 1243.9,1084.1 1252.2,1090.3 C1260.5,1096.5 1268.8,1102.8 1277.1,1109.0 C1285.4,1115.2 1294.7,1121.4 1302.0,1127.6 C1309.2,1133.9 1314.4,1140.7 1320.6,1146.3 C1326.8,1151.9 1332.0,1156.0 1339.3,1161.2 C1346.5,1166.4 1356.3,1173.0 1364.2,1177.4 C1372.0,1181.7 1382.8,1175.7 1386.5,1187.3 C1390.3,1199.0 1388.2,1237.9 1386.5,1247.1 C1384.9,1256.2 1382.4,1245.8 1376.6,1242.1 C1370.8,1238.3 1360.0,1230.1 1351.7,1224.7 C1343.4,1219.3 1335.1,1214.9 1326.8,1209.7 C1318.5,1204.6 1310.2,1199.0 1302.0,1193.6 C1293.7,1188.2 1284.1,1181.7 1277.1,1177.4 C1270.0,1173.0 1264.6,1172.4 1259.7,1167.4 C1254.7,1162.5 1252.6,1155.0 1247.2,1147.5 C1241.8,1140.1 1233.7,1130.5 1227.3,1122.7 C1220.9,1114.8 1214.5,1107.1 1208.7,1100.3 C1202.9,1093.4 1195.2,1089.1 1192.5,1081.6 C1189.8,1074.1 1189.2,1059.6 1192.5,1055.5 Z" fill="#98a2c8" fill-opacity="1.0"/>
<path d="M1192.5,1055.5 C1195.8,1051.3 1206.6,1054.0 1212.4,1056.7 C1218.2,1059.4 1220.7,1066.1 1227.3,1071.7 C1234.0,1077.3 1243.9,1084.1 1252.2,1090.3 C1260.5,1096.5 1268.8,1102.8 1277.1,1109.0 C1285.4,1115.2 1294.7,1121.4 1302.0,1127.6 C1309.2,1133.9 1314.4,1140.7 1320.6,1146.3 C1326.8,1151.9 1332.0,1156.0 1339.3,1161.2 C1346.5,1166.4 1356.3,1173.0 1364.2,1177.4 C1372.0,1181.7 1382.8,1175.7 1386.5,1187.3 C1390.3,1199.0 1388.2,1237.9 1386.5,1247.1 C1384.9,1256.2 1382.4,1245.8 1376.6,1242.1 C1370.8,1238.3 1360.0,1230.1 1351.7,1224.7 C1343.4,1219.3 1335.1,1214.9 1326.8,1209.7 C1318.5,1204.6 1310.2,1199.0 1302.0,1193.6 C1293.7,1188.2 1284.1,1181.7 1277.1,1177.4 C1270.0,1173.0 1264.6,1172.4 1259.7,1167.4 C1254.7,1162.5 1252.6,1155.0 1247.2,1147.5 C1241.8,1140.1 1233.7,1130.5 1227.3,1122.7 C1220.9,1114.8 1214.5,1107.1 1208.7,1100.3 C1202.9,1093.4 1195.2,1089.1 1192.5,1081.6 C1189.8,1074.1 1189.2,1059.6 1192.5,1055.5 Z" fill="url(#fib35d)" opacity="1.0"/>
<path d="M1248.5,1172.4 C1250.7,1169.5 1266.9,1164.1 1270.9,1165.0 C1274.8,1165.8 1274.4,1174.5 1272.1,1177.4 C1269.8,1180.3 1261.1,1183.2 1257.2,1182.4 C1253.2,1181.5 1246.2,1175.3 1248.5,1172.4 Z" fill="#8f9ac4" fill-opacity="1.0"/>
<path d="M1192.5,1212.2 C1195.8,1206.6 1207.6,1209.9 1212.4,1213.5 C1217.2,1217.0 1218.6,1227.8 1221.1,1233.4 C1223.6,1239.0 1232.1,1244.8 1227.3,1247.1 C1222.5,1249.3 1198.3,1252.9 1192.5,1247.1 C1186.7,1241.2 1189.2,1217.8 1192.5,1212.2 Z" fill="#a4acd0" fill-opacity="1.0"/>
<path d="M1192.5,1212.2 C1195.8,1206.6 1207.6,1209.9 1212.4,1213.5 C1217.2,1217.0 1218.6,1227.8 1221.1,1233.4 C1223.6,1239.0 1232.1,1244.8 1227.3,1247.1 C1222.5,1249.3 1198.3,1252.9 1192.5,1247.1 C1186.7,1241.2 1189.2,1217.8 1192.5,1212.2 Z" fill="url(#cmed)" opacity="1.0"/>
<circle cx="1227.3" cy="1232.1" r="2.5" fill="#6a78b0"/>
<path d="M1192.7,1072.9 C1193.9,1071.6 1197.3,1072.5 1200.0,1073.5 C1202.6,1074.6 1205.1,1076.5 1208.7,1079.1 C1212.2,1081.7 1217.0,1086.0 1221.1,1089.1 C1225.2,1092.2 1229.4,1095.1 1233.5,1097.8 C1237.7,1100.5 1241.8,1102.6 1246.0,1105.2 C1250.1,1107.9 1254.3,1110.8 1258.4,1114.0 C1262.6,1117.1 1266.7,1120.6 1270.9,1123.9 C1275.0,1127.2 1279.1,1129.9 1283.3,1133.9 C1287.4,1137.8 1292.2,1143.2 1295.7,1147.5 C1299.3,1151.9 1301.7,1156.7 1304.4,1160.0 C1307.1,1163.3 1309.4,1165.6 1311.9,1167.4 C1314.4,1169.3 1318.0,1173.9 1319.4,1171.2 C1320.7,1168.5 1319.2,1154.6 1320.0,1151.3 C1320.8,1148.0 1322.4,1149.4 1324.3,1151.3 C1326.3,1153.1 1328.5,1159.4 1331.8,1162.5 C1335.1,1165.6 1340.3,1167.4 1344.2,1169.9 C1348.2,1172.4 1351.7,1174.9 1355.4,1177.4 C1359.2,1179.9 1364.4,1182.2 1366.6,1184.9 C1368.9,1187.6 1369.5,1190.9 1369.1,1193.6 C1368.7,1196.3 1366.4,1198.7 1364.2,1201.0 C1361.9,1203.3 1358.6,1206.0 1355.4,1207.2 C1352.3,1208.5 1349.2,1208.4 1345.5,1208.5 C1341.8,1208.6 1336.6,1208.7 1333.1,1207.9 C1329.5,1207.0 1327.5,1205.7 1324.3,1203.5 C1321.2,1201.3 1317.5,1197.9 1314.4,1194.8 C1311.3,1191.7 1308.2,1188.6 1305.7,1184.9 C1303.2,1181.1 1300.9,1175.9 1299.5,1172.4 C1298.0,1168.9 1298.6,1166.4 1297.0,1163.7 C1295.3,1161.0 1292.8,1158.3 1289.5,1156.2 C1286.2,1154.2 1281.0,1153.1 1277.1,1151.3 C1273.1,1149.4 1268.8,1147.3 1265.9,1145.1 C1263.0,1142.8 1261.9,1140.5 1259.7,1137.6 C1257.4,1134.7 1255.1,1130.5 1252.2,1127.6 C1249.3,1124.7 1245.6,1122.7 1242.2,1120.2 C1238.9,1117.7 1235.2,1115.2 1232.3,1112.7 C1229.4,1110.2 1227.1,1107.3 1224.8,1105.2 C1222.5,1103.2 1220.9,1101.9 1218.6,1100.3 C1216.3,1098.6 1213.6,1096.2 1211.1,1095.3 C1208.7,1094.4 1205.8,1095.7 1203.7,1094.7 C1201.6,1093.6 1200.0,1090.8 1198.7,1089.1 C1197.5,1087.3 1197.2,1085.3 1196.2,1084.1 C1195.2,1082.9 1193.3,1083.5 1192.7,1081.6 C1192.2,1079.7 1191.5,1074.3 1192.7,1072.9 Z" fill="#8e99c4" fill-opacity="1.0"/>
<path d="M1192.7,1072.9 C1193.9,1071.6 1197.3,1072.5 1200.0,1073.5 C1202.6,1074.6 1205.1,1076.5 1208.7,1079.1 C1212.2,1081.7 1217.0,1086.0 1221.1,1089.1 C1225.2,1092.2 1229.4,1095.1 1233.5,1097.8 C1237.7,1100.5 1241.8,1102.6 1246.0,1105.2 C1250.1,1107.9 1254.3,1110.8 1258.4,1114.0 C1262.6,1117.1 1266.7,1120.6 1270.9,1123.9 C1275.0,1127.2 1279.1,1129.9 1283.3,1133.9 C1287.4,1137.8 1292.2,1143.2 1295.7,1147.5 C1299.3,1151.9 1301.7,1156.7 1304.4,1160.0 C1307.1,1163.3 1309.4,1165.6 1311.9,1167.4 C1314.4,1169.3 1318.0,1173.9 1319.4,1171.2 C1320.7,1168.5 1319.2,1154.6 1320.0,1151.3 C1320.8,1148.0 1322.4,1149.4 1324.3,1151.3 C1326.3,1153.1 1328.5,1159.4 1331.8,1162.5 C1335.1,1165.6 1340.3,1167.4 1344.2,1169.9 C1348.2,1172.4 1351.7,1174.9 1355.4,1177.4 C1359.2,1179.9 1364.4,1182.2 1366.6,1184.9 C1368.9,1187.6 1369.5,1190.9 1369.1,1193.6 C1368.7,1196.3 1366.4,1198.7 1364.2,1201.0 C1361.9,1203.3 1358.6,1206.0 1355.4,1207.2 C1352.3,1208.5 1349.2,1208.4 1345.5,1208.5 C1341.8,1208.6 1336.6,1208.7 1333.1,1207.9 C1329.5,1207.0 1327.5,1205.7 1324.3,1203.5 C1321.2,1201.3 1317.5,1197.9 1314.4,1194.8 C1311.3,1191.7 1308.2,1188.6 1305.7,1184.9 C1303.2,1181.1 1300.9,1175.9 1299.5,1172.4 C1298.0,1168.9 1298.6,1166.4 1297.0,1163.7 C1295.3,1161.0 1292.8,1158.3 1289.5,1156.2 C1286.2,1154.2 1281.0,1153.1 1277.1,1151.3 C1273.1,1149.4 1268.8,1147.3 1265.9,1145.1 C1263.0,1142.8 1261.9,1140.5 1259.7,1137.6 C1257.4,1134.7 1255.1,1130.5 1252.2,1127.6 C1249.3,1124.7 1245.6,1122.7 1242.2,1120.2 C1238.9,1117.7 1235.2,1115.2 1232.3,1112.7 C1229.4,1110.2 1227.1,1107.3 1224.8,1105.2 C1222.5,1103.2 1220.9,1101.9 1218.6,1100.3 C1216.3,1098.6 1213.6,1096.2 1211.1,1095.3 C1208.7,1094.4 1205.8,1095.7 1203.7,1094.7 C1201.6,1093.6 1200.0,1090.8 1198.7,1089.1 C1197.5,1087.3 1197.2,1085.3 1196.2,1084.1 C1195.2,1082.9 1193.3,1083.5 1192.7,1081.6 C1192.2,1079.7 1191.5,1074.3 1192.7,1072.9 Z" fill="url(#fib35d)" opacity="1.0"/>
<path d="M1208.7,1081.6 C1211.8,1083.7 1221.1,1089.9 1227.3,1094.0 C1233.5,1098.2 1240.6,1102.6 1246.0,1106.5 C1251.4,1110.4 1257.4,1115.8 1259.7,1117.7" fill="none" stroke="#e4e8f0" stroke-width="2.2" stroke-linecap="round" opacity="0.85"/>
<path d="M1264.6,1132.6 C1266.7,1134.3 1272.9,1139.2 1277.1,1142.6 C1281.2,1145.9 1287.4,1150.9 1289.5,1152.5" fill="none" stroke="#e4e8f0" stroke-width="2.2" stroke-linecap="round" opacity="0.85"/>
<path d="M1314.4,1193.6 C1316.9,1194.6 1324.1,1198.1 1329.3,1199.8 C1334.5,1201.4 1340.7,1203.1 1345.5,1203.5 C1350.3,1203.9 1355.9,1202.5 1357.9,1202.3" fill="none" stroke="#e4e8f0" stroke-width="2.2" stroke-linecap="round" opacity="0.85"/>
<path d="M1351.7,1183.6 C1354.2,1184.6 1361.2,1187.8 1366.6,1189.8 C1372.0,1191.9 1381.2,1195.0 1384.1,1196.1" fill="none" stroke="#e4e8f0" stroke-width="2.2" stroke-linecap="round" opacity="0.85"/>
<path d="M1277.1,1165.0 C1279.1,1166.0 1286.2,1169.3 1289.5,1171.2 C1292.8,1173.0 1295.7,1175.3 1297.0,1176.1" fill="none" stroke="#e4e8f0" stroke-width="2.2" stroke-linecap="round" opacity="0.85"/>
<path d="M1192.7,1072.9 C1193.6,1072.0 1198.1,1072.8 1200.0,1073.5 C1201.8,1074.3 1206.2,1077.3 1208.7,1079.1 C1211.1,1080.9 1218.2,1086.9 1221.1,1089.1 C1224.0,1091.3 1230.6,1095.9 1233.5,1097.8 C1236.4,1099.7 1243.1,1103.4 1246.0,1105.2 C1248.9,1107.1 1255.5,1111.8 1258.4,1114.0 C1261.3,1116.1 1268.0,1121.6 1270.9,1123.9 C1273.8,1126.2 1280.4,1131.1 1283.3,1133.9 C1286.2,1136.6 1293.3,1144.5 1295.7,1147.5 C1298.2,1150.6 1302.6,1157.7 1304.4,1160.0 C1306.3,1162.3 1310.2,1166.1 1311.9,1167.4 C1313.6,1168.7 1318.4,1173.1 1319.4,1171.2 C1320.3,1169.3 1319.4,1153.6 1320.0,1151.3 C1320.6,1148.9 1323.0,1150.0 1324.3,1151.3 C1325.7,1152.6 1329.5,1160.3 1331.8,1162.5 C1334.1,1164.6 1341.5,1168.2 1344.2,1169.9 C1347.0,1171.7 1352.8,1175.7 1355.4,1177.4 C1358.1,1179.1 1365.0,1183.0 1366.6,1184.9 C1368.2,1186.7 1369.4,1191.7 1369.1,1193.6 C1368.8,1195.5 1365.7,1199.4 1364.2,1201.0 C1362.6,1202.6 1357.6,1206.4 1355.4,1207.2 C1353.3,1208.1 1348.1,1208.4 1345.5,1208.5 C1342.9,1208.6 1335.5,1208.5 1333.1,1207.9 C1330.6,1207.3 1326.5,1205.0 1324.3,1203.5 C1322.2,1202.0 1316.6,1197.0 1314.4,1194.8 C1312.2,1192.6 1307.4,1187.5 1305.7,1184.9 C1303.9,1182.2 1300.5,1174.9 1299.5,1172.4 C1298.5,1170.0 1298.1,1165.6 1297.0,1163.7 C1295.8,1161.8 1291.8,1157.7 1289.5,1156.2 C1287.2,1154.8 1279.8,1152.6 1277.1,1151.3 C1274.3,1150.0 1267.9,1146.6 1265.9,1145.1 C1263.8,1143.5 1261.3,1139.6 1259.7,1137.6 C1258.1,1135.6 1254.2,1129.7 1252.2,1127.6 C1250.2,1125.6 1244.6,1121.9 1242.2,1120.2 C1239.9,1118.4 1234.3,1114.5 1232.3,1112.7 C1230.3,1111.0 1226.4,1106.7 1224.8,1105.2 C1223.2,1103.8 1220.2,1101.4 1218.6,1100.3 C1217.0,1099.1 1212.9,1095.9 1211.1,1095.3 C1209.4,1094.6 1205.1,1095.4 1203.7,1094.7 C1202.2,1093.9 1199.6,1090.3 1198.7,1089.1 C1197.8,1087.8 1196.9,1085.0 1196.2,1084.1 C1195.5,1083.2 1193.1,1082.9 1192.7,1081.6 C1192.3,1080.3 1191.9,1073.8 1192.7,1072.9 Z" fill="none" stroke="#000" stroke-width="1.8" stroke-linejoin="round"/>
<line x1="1319.37" y1="1171.17" x2="1324.97" y2="1176.15" stroke="#000" stroke-width="2.4" />
</g>
<rect x="1192.60" y="1055.50" width="193.90" height="190.00" fill="none" stroke="#222" stroke-width="1.4" />
<g clip-path="url(#clip01)">
<rect x="360.00" y="1256.20" width="199.00" height="191.00" fill="#b9b2b8" stroke="none" stroke-width="1" />
<path d="M488.6,1256.5 C497.3,1248.6 547.7,1224.6 559.5,1256.5 C571.3,1288.4 564.1,1416.1 559.5,1448.1 C555.0,1480.0 537.5,1457.6 532.2,1448.1 C526.8,1438.5 528.2,1408.7 527.2,1390.8 C526.1,1373.0 529.2,1355.6 525.9,1341.1 C522.6,1326.6 513.5,1317.9 507.3,1303.8 C501.1,1289.7 479.9,1264.4 488.6,1256.5 Z" fill="#c3b8a2" fill-opacity="0.95"/>
<path d="M488.6,1256.5 C497.3,1248.6 547.7,1224.6 559.5,1256.5 C571.3,1288.4 564.1,1416.1 559.5,1448.1 C555.0,1480.0 537.5,1457.6 532.2,1448.1 C526.8,1438.5 528.2,1408.7 527.2,1390.8 C526.1,1373.0 529.2,1355.6 525.9,1341.1 C522.6,1326.6 513.5,1317.9 507.3,1303.8 C501.1,1289.7 479.9,1264.4 488.6,1256.5 Z" fill="url(#cbrown)" opacity="1.0"/>
<path d="M494.8,1256.5 C504.0,1254.4 548.7,1254.8 559.5,1256.5 C570.3,1258.1 563.0,1262.7 559.5,1266.4 C556.0,1270.2 545.0,1275.1 538.4,1278.9 C531.7,1282.6 525.3,1290.5 519.7,1288.8 C514.1,1287.2 508.9,1274.3 504.8,1268.9 C500.6,1263.5 485.7,1258.6 494.8,1256.5 Z" fill="#f4f3ef" fill-opacity="1.0"/>
<path d="M529.7,1328.6 C532.8,1326.6 552.1,1329.7 557.0,1334.9 C562.0,1340.0 562.6,1357.7 559.5,1359.7 C556.4,1361.8 543.3,1352.5 538.4,1347.3 C533.4,1342.1 526.6,1330.7 529.7,1328.6 Z" fill="#f2f1ec" fill-opacity="1.0"/>
<path d="M532.2,1347.3 C536.3,1343.1 555.0,1351.4 559.5,1366.0 C564.1,1380.5 562.0,1424.0 559.5,1434.4 C557.0,1444.7 548.7,1435.4 544.6,1428.2 C540.4,1420.9 536.7,1404.3 534.6,1390.8 C532.6,1377.4 528.0,1351.4 532.2,1347.3 Z" fill="#a88e7a" fill-opacity="0.7"/>
<path d="M360.5,1257.7 C366.3,1250.1 385.4,1253.2 395.3,1257.7 C405.3,1262.3 412.9,1278.9 420.2,1285.1 C427.5,1291.3 436.4,1289.9 438.9,1295.0 C441.3,1300.2 438.2,1313.1 435.1,1316.2 C432.0,1319.3 424.8,1312.5 420.2,1313.7 C415.6,1315.0 409.8,1319.1 407.8,1323.7 C405.7,1328.2 410.0,1338.2 407.8,1341.1 C405.5,1344.0 398.2,1343.1 394.1,1341.1 C389.9,1339.0 388.5,1334.9 382.9,1328.6 C377.3,1322.4 364.2,1315.6 360.5,1303.8 C356.8,1291.9 354.7,1265.4 360.5,1257.7 Z" fill="#b3aabb" fill-opacity="1.0"/>
<path d="M360.5,1257.7 C366.3,1250.1 385.4,1253.2 395.3,1257.7 C405.3,1262.3 412.9,1278.9 420.2,1285.1 C427.5,1291.3 436.4,1289.9 438.9,1295.0 C441.3,1300.2 438.2,1313.1 435.1,1316.2 C432.0,1319.3 424.8,1312.5 420.2,1313.7 C415.6,1315.0 409.8,1319.1 407.8,1323.7 C405.7,1328.2 410.0,1338.2 407.8,1341.1 C405.5,1344.0 398.2,1343.1 394.1,1341.1 C389.9,1339.0 388.5,1334.9 382.9,1328.6 C377.3,1322.4 364.2,1315.6 360.5,1303.8 C356.8,1291.9 354.7,1265.4 360.5,1257.7 Z" fill="url(#cbrown)" opacity="1.0"/>
<path d="M438.9,1256.5 C446.7,1250.1 485.1,1253.4 492.3,1256.5 C499.6,1259.6 486.1,1270.6 482.4,1275.1 C478.7,1279.7 473.1,1280.5 470.0,1283.9 C466.8,1287.2 466.2,1291.3 463.7,1295.0 C461.2,1298.8 458.1,1306.2 455.0,1306.2 C451.9,1306.2 447.8,1303.3 445.1,1295.0 C442.4,1286.8 431.0,1262.9 438.9,1256.5 Z" fill="#cdcdc2" fill-opacity="1.0"/>
<path d="M438.9,1256.5 C446.7,1250.1 485.1,1253.4 492.3,1256.5 C499.6,1259.6 486.1,1270.6 482.4,1275.1 C478.7,1279.7 473.1,1280.5 470.0,1283.9 C466.8,1287.2 466.2,1291.3 463.7,1295.0 C461.2,1298.8 458.1,1306.2 455.0,1306.2 C451.9,1306.2 447.8,1303.3 445.1,1295.0 C442.4,1286.8 431.0,1262.9 438.9,1256.5 Z" fill="url(#cmed)" opacity="0.55"/>
<path d="M395.3,1257.7 C400.5,1253.6 430.6,1254.2 438.9,1257.7 C447.1,1261.3 444.9,1273.3 445.1,1278.9 C445.3,1284.5 444.2,1290.1 440.1,1291.3 C436.0,1292.6 425.6,1287.8 420.2,1286.3 C414.8,1284.9 411.9,1287.4 407.8,1282.6 C403.6,1277.8 390.1,1261.9 395.3,1257.7 Z" fill="#dcdcd2" fill-opacity="1.0"/>
<path d="M399.0,1261.5 C401.7,1260.4 411.1,1262.9 414.0,1266.4 C416.9,1270.0 417.9,1279.5 416.5,1282.6 C415.0,1285.7 408.4,1286.8 405.3,1285.1 C402.2,1283.4 398.8,1276.6 397.8,1272.7 C396.8,1268.7 396.4,1262.5 399.0,1261.5 Z" fill="#f8f8f6" fill-opacity="1.0"/>
<path d="M427.7,1278.9 C429.7,1275.4 442.2,1270.8 445.1,1272.7 C448.0,1274.5 447.1,1286.5 445.1,1290.1 C443.0,1293.6 435.5,1295.7 432.6,1293.8 C429.7,1291.9 425.6,1282.4 427.7,1278.9 Z" fill="#f6f6f4" fill-opacity="1.0"/>
<path d="M467.5,1390.8 C472.6,1386.7 485.1,1386.7 494.8,1384.6 C504.6,1382.5 520.1,1367.8 525.9,1378.4 C531.7,1389.0 545.2,1436.4 529.7,1448.1 C514.1,1459.7 446.7,1451.4 432.6,1448.1 C418.5,1444.7 439.9,1434.6 445.1,1428.2 C450.3,1421.7 460.0,1415.7 463.7,1409.5 C467.5,1403.3 462.3,1395.0 467.5,1390.8 Z" fill="#c4bed4" fill-opacity="1.0"/>
<path d="M467.5,1390.8 C472.6,1386.7 485.1,1386.7 494.8,1384.6 C504.6,1382.5 520.1,1367.8 525.9,1378.4 C531.7,1389.0 545.2,1436.4 529.7,1448.1 C514.1,1459.7 446.7,1451.4 432.6,1448.1 C418.5,1444.7 439.9,1434.6 445.1,1428.2 C450.3,1421.7 460.0,1415.7 463.7,1409.5 C467.5,1403.3 462.3,1395.0 467.5,1390.8 Z" fill="url(#cdense)" opacity="1.0"/>
<path d="M360.5,1341.1 C366.3,1325.3 388.5,1343.1 395.3,1353.5 C402.2,1363.9 398.4,1390.8 401.5,1403.3 C404.6,1415.7 408.8,1420.7 414.0,1428.2 C419.2,1435.6 441.6,1444.7 432.6,1448.1 C423.7,1451.4 372.5,1465.9 360.5,1448.1 C348.5,1430.2 354.7,1356.8 360.5,1341.1 Z" fill="#c3bac0" fill-opacity="0.95"/>
<path d="M360.5,1341.1 C366.3,1325.3 388.5,1343.1 395.3,1353.5 C402.2,1363.9 398.4,1390.8 401.5,1403.3 C404.6,1415.7 408.8,1420.7 414.0,1428.2 C419.2,1435.6 441.6,1444.7 432.6,1448.1 C423.7,1451.4 372.5,1465.9 360.5,1448.1 C348.5,1430.2 354.7,1356.8 360.5,1341.1 Z" fill="url(#cmed)" opacity="1.0"/>
<path d="M360.5,1303.8 C364.2,1305.8 377.3,1320.3 382.9,1328.6 C388.5,1336.9 394.1,1348.3 394.1,1353.5 C394.1,1358.7 387.2,1363.9 382.9,1359.7 C378.5,1355.6 371.7,1335.9 368.0,1328.6 C364.2,1321.4 361.7,1320.3 360.5,1316.2 C359.2,1312.1 356.8,1301.7 360.5,1303.8 Z" fill="#d0d3c8" fill-opacity="1.0"/>
<path d="M481.1,1277.6 C482.2,1277.3 483.0,1276.8 484.9,1278.3 C486.7,1279.7 489.6,1283.1 492.3,1286.3 C495.0,1289.6 498.4,1293.8 501.1,1297.5 C503.7,1301.3 506.2,1304.8 508.5,1308.7 C510.8,1312.7 512.7,1317.0 514.7,1321.2 C516.8,1325.3 519.3,1329.5 521.0,1333.6 C522.6,1337.8 523.8,1341.9 524.7,1346.1 C525.6,1350.2 526.1,1355.2 526.6,1358.5 C527.0,1361.8 527.1,1362.6 527.2,1366.0 C527.3,1369.3 527.6,1375.9 527.2,1378.4 C526.8,1380.9 525.9,1380.5 524.7,1380.9 C523.4,1381.3 521.0,1381.7 519.7,1380.9 C518.5,1380.1 517.8,1378.0 517.2,1375.9 C516.6,1373.8 516.6,1370.3 516.0,1368.4 C515.4,1366.6 514.7,1365.3 513.5,1364.7 C512.2,1364.1 509.6,1363.7 508.5,1364.7 C507.5,1365.7 507.3,1368.6 507.3,1370.9 C507.3,1373.2 507.9,1376.5 508.5,1378.4 C509.1,1380.3 511.2,1381.3 511.0,1382.1 C510.8,1383.0 508.7,1383.4 507.3,1383.4 C505.8,1383.4 503.7,1383.0 502.3,1382.1 C500.8,1381.3 499.8,1378.6 498.6,1378.4 C497.3,1378.2 495.7,1379.6 494.8,1380.9 C494.0,1382.1 493.4,1384.0 493.6,1385.9 C493.8,1387.7 496.1,1390.8 496.1,1392.1 C496.1,1393.3 494.4,1393.7 493.6,1393.3 C492.8,1392.9 491.7,1391.0 491.1,1389.6 C490.5,1388.1 490.5,1385.9 489.9,1384.6 C489.2,1383.4 488.8,1382.3 487.4,1382.1 C485.9,1381.9 483.0,1382.5 481.1,1383.4 C479.3,1384.2 477.8,1386.1 476.2,1387.1 C474.5,1388.1 472.4,1388.1 471.2,1389.6 C470.0,1391.0 469.3,1393.5 468.7,1395.8 C468.1,1398.1 467.9,1401.0 467.5,1403.3 C467.1,1405.6 467.5,1408.5 466.2,1409.5 C465.0,1410.5 462.7,1409.9 460.0,1409.5 C457.3,1409.1 453.0,1407.4 450.1,1407.0 C447.1,1406.6 444.0,1406.4 442.6,1407.0 C441.1,1407.6 440.9,1409.5 441.3,1410.7 C441.8,1412.0 443.2,1413.4 445.1,1414.5 C446.9,1415.5 450.9,1415.9 452.5,1417.0 C454.2,1418.0 454.8,1419.7 455.0,1420.7 C455.2,1421.7 454.8,1423.0 453.8,1423.2 C452.7,1423.4 450.5,1422.3 448.8,1421.9 C447.1,1421.5 444.9,1420.1 443.8,1420.7 C442.8,1421.3 442.6,1423.8 442.6,1425.7 C442.6,1427.5 444.5,1430.6 443.8,1431.9 C443.2,1433.1 440.1,1433.7 438.9,1433.1 C437.6,1432.5 436.8,1430.4 436.4,1428.2 C436.0,1425.9 436.6,1421.7 436.4,1419.4 C436.2,1417.2 436.0,1415.5 435.1,1414.5 C434.3,1413.4 432.6,1413.2 431.4,1413.2 C430.1,1413.2 429.1,1413.4 427.7,1414.5 C426.2,1415.5 423.9,1417.6 422.7,1419.4 C421.4,1421.3 421.2,1424.6 420.2,1425.7 C419.2,1426.7 418.1,1426.3 416.5,1425.7 C414.8,1425.0 412.1,1423.6 410.2,1421.9 C408.4,1420.3 406.7,1418.8 405.3,1415.7 C403.8,1412.6 402.8,1408.5 401.5,1403.3 C400.3,1398.1 398.8,1390.4 397.8,1384.6 C396.8,1378.8 395.9,1373.0 395.3,1368.4 C394.7,1363.9 393.5,1359.5 394.1,1357.2 C394.7,1355.0 397.8,1356.2 399.0,1354.8 C400.3,1353.3 401.5,1350.2 401.5,1348.5 C401.5,1346.9 400.3,1346.1 399.0,1344.8 C397.8,1343.6 395.7,1342.7 394.1,1341.1 C392.4,1339.4 390.1,1336.5 389.1,1334.9 C388.1,1333.2 387.4,1332.0 387.9,1331.1 C388.3,1330.3 390.3,1329.7 391.6,1329.9 C392.8,1330.1 394.1,1330.9 395.3,1332.4 C396.6,1333.8 397.6,1336.7 399.0,1338.6 C400.5,1340.5 402.4,1342.7 404.0,1343.6 C405.7,1344.4 408.2,1345.0 409.0,1343.6 C409.8,1342.1 409.0,1338.0 409.0,1334.9 C409.0,1331.7 408.4,1327.4 409.0,1324.9 C409.6,1322.4 411.3,1320.8 412.7,1319.9 C414.2,1319.1 416.5,1321.0 417.7,1319.9 C419.0,1318.9 419.2,1315.1 420.2,1313.7 C421.2,1312.4 422.7,1311.6 423.9,1311.8 C425.2,1312.1 426.8,1313.6 427.7,1315.0 C428.5,1316.3 428.1,1318.7 428.9,1319.9 C429.7,1321.2 431.6,1321.6 432.6,1322.4 C433.7,1323.2 434.1,1324.7 435.1,1324.9 C436.2,1325.1 437.8,1323.5 438.9,1323.7 C439.9,1323.9 440.9,1324.9 441.3,1326.1 C441.8,1327.4 442.0,1330.1 441.3,1331.1 C440.7,1332.2 438.9,1332.4 437.6,1332.4 C436.4,1332.4 434.5,1332.8 433.9,1331.1 C433.3,1329.5 433.7,1326.1 433.9,1322.4 C434.1,1318.7 434.7,1312.8 435.1,1308.7 C435.5,1304.7 434.9,1300.0 436.4,1298.2 C437.8,1296.3 442.0,1296.6 443.8,1297.5 C445.7,1298.5 446.1,1301.7 447.6,1303.8 C449.0,1305.8 451.1,1308.1 452.5,1310.0 C454.0,1311.8 455.0,1314.3 456.3,1315.0 C457.5,1315.6 458.8,1314.7 460.0,1313.7 C461.2,1312.7 462.5,1309.4 463.7,1308.7 C465.0,1308.1 466.4,1310.4 467.5,1310.0 C468.5,1309.6 469.5,1307.7 470.0,1306.2 C470.4,1304.8 470.6,1302.7 470.0,1301.3 C469.3,1299.8 467.1,1299.2 466.2,1297.5 C465.4,1295.9 465.2,1293.2 465.0,1291.3 C464.8,1289.5 464.1,1287.2 465.0,1286.3 C465.8,1285.5 468.1,1286.1 470.0,1286.3 C471.8,1286.5 474.7,1288.0 476.2,1287.6 C477.6,1287.2 478.2,1285.1 478.7,1283.9 C479.1,1282.6 478.2,1281.2 478.7,1280.1 C479.1,1279.1 480.1,1277.9 481.1,1277.6 Z" fill="#d4d8c9" fill-opacity="1.0"/>
<path d="M481.1,1277.6 C482.2,1277.3 483.0,1276.8 484.9,1278.3 C486.7,1279.7 489.6,1283.1 492.3,1286.3 C495.0,1289.6 498.4,1293.8 501.1,1297.5 C503.7,1301.3 506.2,1304.8 508.5,1308.7 C510.8,1312.7 512.7,1317.0 514.7,1321.2 C516.8,1325.3 519.3,1329.5 521.0,1333.6 C522.6,1337.8 523.8,1341.9 524.7,1346.1 C525.6,1350.2 526.1,1355.2 526.6,1358.5 C527.0,1361.8 527.1,1362.6 527.2,1366.0 C527.3,1369.3 527.6,1375.9 527.2,1378.4 C526.8,1380.9 525.9,1380.5 524.7,1380.9 C523.4,1381.3 521.0,1381.7 519.7,1380.9 C518.5,1380.1 517.8,1378.0 517.2,1375.9 C516.6,1373.8 516.6,1370.3 516.0,1368.4 C515.4,1366.6 514.7,1365.3 513.5,1364.7 C512.2,1364.1 509.6,1363.7 508.5,1364.7 C507.5,1365.7 507.3,1368.6 507.3,1370.9 C507.3,1373.2 507.9,1376.5 508.5,1378.4 C509.1,1380.3 511.2,1381.3 511.0,1382.1 C510.8,1383.0 508.7,1383.4 507.3,1383.4 C505.8,1383.4 503.7,1383.0 502.3,1382.1 C500.8,1381.3 499.8,1378.6 498.6,1378.4 C497.3,1378.2 495.7,1379.6 494.8,1380.9 C494.0,1382.1 493.4,1384.0 493.6,1385.9 C493.8,1387.7 496.1,1390.8 496.1,1392.1 C496.1,1393.3 494.4,1393.7 493.6,1393.3 C492.8,1392.9 491.7,1391.0 491.1,1389.6 C490.5,1388.1 490.5,1385.9 489.9,1384.6 C489.2,1383.4 488.8,1382.3 487.4,1382.1 C485.9,1381.9 483.0,1382.5 481.1,1383.4 C479.3,1384.2 477.8,1386.1 476.2,1387.1 C474.5,1388.1 472.4,1388.1 471.2,1389.6 C470.0,1391.0 469.3,1393.5 468.7,1395.8 C468.1,1398.1 467.9,1401.0 467.5,1403.3 C467.1,1405.6 467.5,1408.5 466.2,1409.5 C465.0,1410.5 462.7,1409.9 460.0,1409.5 C457.3,1409.1 453.0,1407.4 450.1,1407.0 C447.1,1406.6 444.0,1406.4 442.6,1407.0 C441.1,1407.6 440.9,1409.5 441.3,1410.7 C441.8,1412.0 443.2,1413.4 445.1,1414.5 C446.9,1415.5 450.9,1415.9 452.5,1417.0 C454.2,1418.0 454.8,1419.7 455.0,1420.7 C455.2,1421.7 454.8,1423.0 453.8,1423.2 C452.7,1423.4 450.5,1422.3 448.8,1421.9 C447.1,1421.5 444.9,1420.1 443.8,1420.7 C442.8,1421.3 442.6,1423.8 442.6,1425.7 C442.6,1427.5 444.5,1430.6 443.8,1431.9 C443.2,1433.1 440.1,1433.7 438.9,1433.1 C437.6,1432.5 436.8,1430.4 436.4,1428.2 C436.0,1425.9 436.6,1421.7 436.4,1419.4 C436.2,1417.2 436.0,1415.5 435.1,1414.5 C434.3,1413.4 432.6,1413.2 431.4,1413.2 C430.1,1413.2 429.1,1413.4 427.7,1414.5 C426.2,1415.5 423.9,1417.6 422.7,1419.4 C421.4,1421.3 421.2,1424.6 420.2,1425.7 C419.2,1426.7 418.1,1426.3 416.5,1425.7 C414.8,1425.0 412.1,1423.6 410.2,1421.9 C408.4,1420.3 406.7,1418.8 405.3,1415.7 C403.8,1412.6 402.8,1408.5 401.5,1403.3 C400.3,1398.1 398.8,1390.4 397.8,1384.6 C396.8,1378.8 395.9,1373.0 395.3,1368.4 C394.7,1363.9 393.5,1359.5 394.1,1357.2 C394.7,1355.0 397.8,1356.2 399.0,1354.8 C400.3,1353.3 401.5,1350.2 401.5,1348.5 C401.5,1346.9 400.3,1346.1 399.0,1344.8 C397.8,1343.6 395.7,1342.7 394.1,1341.1 C392.4,1339.4 390.1,1336.5 389.1,1334.9 C388.1,1333.2 387.4,1332.0 387.9,1331.1 C388.3,1330.3 390.3,1329.7 391.6,1329.9 C392.8,1330.1 394.1,1330.9 395.3,1332.4 C396.6,1333.8 397.6,1336.7 399.0,1338.6 C400.5,1340.5 402.4,1342.7 404.0,1343.6 C405.7,1344.4 408.2,1345.0 409.0,1343.6 C409.8,1342.1 409.0,1338.0 409.0,1334.9 C409.0,1331.7 408.4,1327.4 409.0,1324.9 C409.6,1322.4 411.3,1320.8 412.7,1319.9 C414.2,1319.1 416.5,1321.0 417.7,1319.9 C419.0,1318.9 419.2,1315.1 420.2,1313.7 C421.2,1312.4 422.7,1311.6 423.9,1311.8 C425.2,1312.1 426.8,1313.6 427.7,1315.0 C428.5,1316.3 428.1,1318.7 428.9,1319.9 C429.7,1321.2 431.6,1321.6 432.6,1322.4 C433.7,1323.2 434.1,1324.7 435.1,1324.9 C436.2,1325.1 437.8,1323.5 438.9,1323.7 C439.9,1323.9 440.9,1324.9 441.3,1326.1 C441.8,1327.4 442.0,1330.1 441.3,1331.1 C440.7,1332.2 438.9,1332.4 437.6,1332.4 C436.4,1332.4 434.5,1332.8 433.9,1331.1 C433.3,1329.5 433.7,1326.1 433.9,1322.4 C434.1,1318.7 434.7,1312.8 435.1,1308.7 C435.5,1304.7 434.9,1300.0 436.4,1298.2 C437.8,1296.3 442.0,1296.6 443.8,1297.5 C445.7,1298.5 446.1,1301.7 447.6,1303.8 C449.0,1305.8 451.1,1308.1 452.5,1310.0 C454.0,1311.8 455.0,1314.3 456.3,1315.0 C457.5,1315.6 458.8,1314.7 460.0,1313.7 C461.2,1312.7 462.5,1309.4 463.7,1308.7 C465.0,1308.1 466.4,1310.4 467.5,1310.0 C468.5,1309.6 469.5,1307.7 470.0,1306.2 C470.4,1304.8 470.6,1302.7 470.0,1301.3 C469.3,1299.8 467.1,1299.2 466.2,1297.5 C465.4,1295.9 465.2,1293.2 465.0,1291.3 C464.8,1289.5 464.1,1287.2 465.0,1286.3 C465.8,1285.5 468.1,1286.1 470.0,1286.3 C471.8,1286.5 474.7,1288.0 476.2,1287.6 C477.6,1287.2 478.2,1285.1 478.7,1283.9 C479.1,1282.6 478.2,1281.2 478.7,1280.1 C479.1,1279.1 480.1,1277.9 481.1,1277.6 Z" fill="url(#csparse)" opacity="1.0"/>
<path d="M481.1,1277.6 C481.9,1277.4 483.6,1277.2 484.9,1278.3 C486.2,1279.3 490.5,1284.1 492.3,1286.3 C494.2,1288.6 499.2,1294.9 501.1,1297.5 C502.9,1300.2 506.9,1306.0 508.5,1308.7 C510.1,1311.5 513.3,1318.3 514.7,1321.2 C516.2,1324.1 519.8,1330.7 521.0,1333.6 C522.1,1336.5 524.0,1343.1 524.7,1346.1 C525.3,1349.0 526.3,1356.2 526.6,1358.5 C526.8,1360.8 527.1,1363.6 527.2,1366.0 C527.2,1368.3 527.5,1376.7 527.2,1378.4 C526.9,1380.1 525.6,1380.6 524.7,1380.9 C523.8,1381.2 520.6,1381.5 519.7,1380.9 C518.8,1380.3 517.7,1377.4 517.2,1375.9 C516.8,1374.5 516.4,1369.7 516.0,1368.4 C515.5,1367.1 514.4,1365.1 513.5,1364.7 C512.6,1364.3 509.2,1364.0 508.5,1364.7 C507.8,1365.4 507.3,1369.3 507.3,1370.9 C507.3,1372.5 508.1,1377.1 508.5,1378.4 C509.0,1379.7 511.1,1381.5 511.0,1382.1 C510.9,1382.7 508.3,1383.4 507.3,1383.4 C506.3,1383.4 503.3,1382.7 502.3,1382.1 C501.3,1381.5 499.4,1378.5 498.6,1378.4 C497.7,1378.2 495.4,1380.0 494.8,1380.9 C494.3,1381.8 493.4,1384.6 493.6,1385.9 C493.7,1387.2 496.1,1391.2 496.1,1392.1 C496.1,1392.9 494.2,1393.6 493.6,1393.3 C493.0,1393.0 491.5,1390.6 491.1,1389.6 C490.7,1388.6 490.3,1385.5 489.9,1384.6 C489.4,1383.7 488.4,1382.3 487.4,1382.1 C486.4,1382.0 482.5,1382.8 481.1,1383.4 C479.8,1383.9 477.3,1386.4 476.2,1387.1 C475.0,1387.8 472.1,1388.6 471.2,1389.6 C470.3,1390.6 469.1,1394.2 468.7,1395.8 C468.3,1397.4 467.8,1401.7 467.5,1403.3 C467.2,1404.9 467.1,1408.8 466.2,1409.5 C465.4,1410.2 461.9,1409.8 460.0,1409.5 C458.1,1409.2 452.1,1407.3 450.1,1407.0 C448.0,1406.7 443.6,1406.6 442.6,1407.0 C441.6,1407.4 441.1,1409.9 441.3,1410.7 C441.6,1411.6 443.8,1413.7 445.1,1414.5 C446.4,1415.2 451.4,1416.2 452.5,1417.0 C453.7,1417.7 454.9,1420.0 455.0,1420.7 C455.2,1421.4 454.5,1423.0 453.8,1423.2 C453.1,1423.3 450.0,1422.2 448.8,1421.9 C447.6,1421.6 444.6,1420.3 443.8,1420.7 C443.1,1421.1 442.6,1424.4 442.6,1425.7 C442.6,1427.0 444.3,1431.0 443.8,1431.9 C443.4,1432.8 439.7,1433.6 438.9,1433.1 C438.0,1432.7 436.7,1429.7 436.4,1428.2 C436.1,1426.6 436.5,1421.0 436.4,1419.4 C436.2,1417.8 435.7,1415.2 435.1,1414.5 C434.5,1413.7 432.3,1413.2 431.4,1413.2 C430.5,1413.2 428.7,1413.7 427.7,1414.5 C426.6,1415.2 423.6,1418.1 422.7,1419.4 C421.8,1420.7 420.9,1424.9 420.2,1425.7 C419.5,1426.4 417.6,1426.1 416.5,1425.7 C415.3,1425.2 411.6,1423.1 410.2,1421.9 C408.9,1420.8 406.3,1417.9 405.3,1415.7 C404.3,1413.5 402.4,1406.9 401.5,1403.3 C400.7,1399.6 398.5,1388.7 397.8,1384.6 C397.1,1380.5 395.8,1371.6 395.3,1368.4 C394.9,1365.2 393.6,1358.8 394.1,1357.2 C394.5,1355.7 398.2,1355.8 399.0,1354.8 C399.9,1353.7 401.5,1349.7 401.5,1348.5 C401.5,1347.4 399.9,1345.7 399.0,1344.8 C398.2,1343.9 395.2,1342.2 394.1,1341.1 C392.9,1339.9 389.8,1336.0 389.1,1334.9 C388.4,1333.7 387.6,1331.7 387.9,1331.1 C388.1,1330.5 390.7,1329.7 391.6,1329.9 C392.5,1330.0 394.4,1331.4 395.3,1332.4 C396.2,1333.4 398.0,1337.3 399.0,1338.6 C400.1,1339.9 402.9,1343.0 404.0,1343.6 C405.2,1344.1 408.4,1344.6 409.0,1343.6 C409.6,1342.5 409.0,1337.0 409.0,1334.9 C409.0,1332.7 408.6,1326.6 409.0,1324.9 C409.4,1323.2 411.7,1320.5 412.7,1319.9 C413.7,1319.3 416.8,1320.7 417.7,1319.9 C418.6,1319.2 419.5,1314.7 420.2,1313.7 C420.9,1312.8 423.1,1311.7 423.9,1311.8 C424.8,1312.0 427.1,1314.0 427.7,1315.0 C428.2,1315.9 428.3,1319.1 428.9,1319.9 C429.5,1320.8 431.9,1321.8 432.6,1322.4 C433.4,1323.0 434.4,1324.8 435.1,1324.9 C435.8,1325.0 438.1,1323.5 438.9,1323.7 C439.6,1323.8 441.1,1325.3 441.3,1326.1 C441.6,1327.0 441.8,1330.4 441.3,1331.1 C440.9,1331.8 438.5,1332.4 437.6,1332.4 C436.7,1332.4 434.3,1332.3 433.9,1331.1 C433.4,1330.0 433.7,1325.0 433.9,1322.4 C434.0,1319.8 434.8,1311.6 435.1,1308.7 C435.4,1305.9 435.4,1299.5 436.4,1298.2 C437.4,1296.9 442.5,1296.9 443.8,1297.5 C445.1,1298.2 446.5,1302.3 447.6,1303.8 C448.6,1305.2 451.5,1308.7 452.5,1310.0 C453.6,1311.3 455.4,1314.5 456.3,1315.0 C457.1,1315.4 459.1,1314.4 460.0,1313.7 C460.9,1313.0 462.9,1309.2 463.7,1308.7 C464.6,1308.3 466.7,1310.3 467.5,1310.0 C468.2,1309.7 469.7,1307.3 470.0,1306.2 C470.2,1305.2 470.4,1302.3 470.0,1301.3 C469.5,1300.3 466.8,1298.7 466.2,1297.5 C465.6,1296.4 465.1,1292.6 465.0,1291.3 C464.8,1290.0 464.4,1286.9 465.0,1286.3 C465.6,1285.8 468.6,1286.2 470.0,1286.3 C471.3,1286.5 475.2,1287.9 476.2,1287.6 C477.2,1287.3 478.4,1284.7 478.7,1283.9 C479.0,1283.0 478.4,1280.8 478.7,1280.1 C479.0,1279.4 480.4,1277.9 481.1,1277.6 Z" fill="none" stroke="#000" stroke-width="1.8" stroke-linejoin="round"/>
</g>
<rect x="360.00" y="1256.20" width="199.00" height="191.00" fill="none" stroke="#222" stroke-width="1.4" />
<g clip-path="url(#clip11)">
<rect x="566.30" y="1256.20" width="199.00" height="191.00" fill="#d2d7da" stroke="none" stroke-width="1" />
<path d="M710.8,1256.5 C718.5,1252.8 756.4,1234.1 765.5,1256.5 C774.6,1278.9 768.0,1374.7 765.5,1390.8 C763.0,1407.0 754.7,1364.9 750.6,1353.5 C746.4,1342.1 744.2,1331.7 740.6,1322.4 C737.1,1313.1 733.0,1304.8 729.4,1297.5 C725.9,1290.3 722.6,1285.7 719.5,1278.9 C716.4,1272.0 703.1,1260.2 710.8,1256.5 Z" fill="#fbfbfb" fill-opacity="1.0"/>
<path d="M719.5,1261.5 C721.6,1265.4 727.8,1277.6 731.9,1285.1 C736.1,1292.6 740.2,1299.0 744.4,1306.2 C748.5,1313.5 753.7,1322.8 756.8,1328.6 C759.9,1334.4 762.0,1339.0 763.0,1341.1" fill="none" stroke="#aab0cc" stroke-width="2.5"/>
<path d="M566.5,1366.0 C569.2,1353.3 577.9,1367.0 582.7,1372.2 C587.4,1377.4 589.9,1389.8 595.1,1397.1 C600.3,1404.3 607.5,1410.5 613.8,1415.7 C620.0,1420.9 628.3,1422.8 632.4,1428.2 C636.6,1433.5 649.6,1444.7 638.6,1448.1 C627.6,1451.4 578.5,1461.7 566.5,1448.1 C554.5,1434.4 563.8,1378.6 566.5,1366.0 Z" fill="#eef0f1" fill-opacity="1.0"/>
<path d="M571.5,1378.4 C573.5,1373.2 584.9,1375.3 588.9,1378.4 C592.8,1381.5 597.2,1391.9 595.1,1397.1 C593.0,1402.2 580.4,1412.6 576.4,1409.5 C572.5,1406.4 569.4,1383.6 571.5,1378.4 Z" fill="#c7c9cf" fill-opacity="1.0"/>
<path d="M719.5,1415.7 C723.6,1412.6 733.0,1417.8 738.2,1421.9 C743.3,1426.1 751.6,1436.2 750.6,1440.6 C749.6,1444.9 738.2,1448.1 731.9,1448.1 C725.7,1448.1 715.3,1446.0 713.3,1440.6 C711.2,1435.2 715.3,1418.8 719.5,1415.7 Z" fill="#f6f6f6" fill-opacity="1.0"/>
<path d="M566.5,1256.5 C589.9,1246.5 686.7,1254.0 707.1,1256.5 C727.4,1259.0 693.6,1268.0 688.4,1271.4 C683.2,1274.8 681.8,1274.9 676.0,1277.0 C670.1,1279.1 659.8,1279.0 653.6,1283.9 C647.3,1288.7 642.8,1298.0 638.6,1306.2 C634.5,1314.5 632.8,1330.1 628.7,1333.6 C624.5,1337.1 619.4,1327.8 613.8,1327.4 C608.2,1327.0 600.5,1329.9 595.1,1331.1 C589.7,1332.4 585.4,1335.3 581.4,1334.9 C577.5,1334.4 574.0,1331.7 571.5,1328.6 C569.0,1325.5 567.3,1328.2 566.5,1316.2 C565.7,1304.2 543.1,1266.4 566.5,1256.5 Z" fill="#aeb0d4" fill-opacity="1.0"/>
<path d="M566.5,1256.5 C589.9,1246.5 686.7,1254.0 707.1,1256.5 C727.4,1259.0 693.6,1268.0 688.4,1271.4 C683.2,1274.8 681.8,1274.9 676.0,1277.0 C670.1,1279.1 659.8,1279.0 653.6,1283.9 C647.3,1288.7 642.8,1298.0 638.6,1306.2 C634.5,1314.5 632.8,1330.1 628.7,1333.6 C624.5,1337.1 619.4,1327.8 613.8,1327.4 C608.2,1327.0 600.5,1329.9 595.1,1331.1 C589.7,1332.4 585.4,1335.3 581.4,1334.9 C577.5,1334.4 574.0,1331.7 571.5,1328.6 C569.0,1325.5 567.3,1328.2 566.5,1316.2 C565.7,1304.2 543.1,1266.4 566.5,1256.5 Z" fill="url(#cdark)" opacity="1.0"/>
<path d="M566.5,1256.5 C576.4,1247.0 617.3,1250.7 626.2,1256.5 C635.1,1262.3 624.1,1282.4 620.0,1291.3 C615.8,1300.2 607.5,1305.8 601.3,1310.0 C595.1,1314.1 588.5,1315.6 582.7,1316.2 C576.9,1316.8 569.2,1323.7 566.5,1313.7 C563.8,1303.8 556.5,1266.0 566.5,1256.5 Z" fill="#a2a5d0" fill-opacity="1.0"/>
<path d="M566.5,1256.5 C576.4,1247.0 617.3,1250.7 626.2,1256.5 C635.1,1262.3 624.1,1282.4 620.0,1291.3 C615.8,1300.2 607.5,1305.8 601.3,1310.0 C595.1,1314.1 588.5,1315.6 582.7,1316.2 C576.9,1316.8 569.2,1323.7 566.5,1313.7 C563.8,1303.8 556.5,1266.0 566.5,1256.5 Z" fill="url(#cdark)" opacity="1.0"/>
<path d="M601.3,1278.9 C603.6,1277.0 614.2,1279.9 616.2,1282.6 C618.3,1285.3 616.0,1293.2 613.8,1295.0 C611.5,1296.9 604.6,1296.5 602.6,1293.8 C600.5,1291.1 599.0,1280.7 601.3,1278.9 Z" fill="#eef0f2" fill-opacity="1.0"/>
<path d="M707.1,1370.9 C714.3,1369.7 720.1,1378.2 725.7,1378.4 C731.3,1378.6 736.5,1370.1 740.6,1372.2 C744.8,1374.2 749.3,1381.5 750.6,1390.8 C751.8,1400.2 752.2,1418.6 748.1,1428.2 C744.0,1437.7 741.9,1444.7 725.7,1448.1 C709.5,1451.4 663.1,1453.4 651.1,1448.1 C639.1,1442.7 651.5,1424.2 653.6,1415.7 C655.6,1407.2 658.7,1402.0 663.5,1397.1 C668.3,1392.1 674.9,1390.2 682.2,1385.9 C689.4,1381.5 699.8,1372.2 707.1,1370.9 Z" fill="#b8bad8" fill-opacity="1.0"/>
<path d="M707.1,1370.9 C714.3,1369.7 720.1,1378.2 725.7,1378.4 C731.3,1378.6 736.5,1370.1 740.6,1372.2 C744.8,1374.2 749.3,1381.5 750.6,1390.8 C751.8,1400.2 752.2,1418.6 748.1,1428.2 C744.0,1437.7 741.9,1444.7 725.7,1448.1 C709.5,1451.4 663.1,1453.4 651.1,1448.1 C639.1,1442.7 651.5,1424.2 653.6,1415.7 C655.6,1407.2 658.7,1402.0 663.5,1397.1 C668.3,1392.1 674.9,1390.2 682.2,1385.9 C689.4,1381.5 699.8,1372.2 707.1,1370.9 Z" fill="url(#cdark)" opacity="1.0"/>
<path d="M581.4,1335.5 C575.1,1336.1 581.6,1340.1 582.7,1343.6 C583.7,1347.0 585.8,1351.9 587.6,1356.0 C589.5,1360.1 592.0,1364.3 593.9,1368.4 C595.7,1372.6 597.4,1377.1 598.8,1380.9 C600.3,1384.6 600.9,1387.5 602.6,1390.8 C604.2,1394.2 606.5,1397.9 608.8,1400.8 C611.1,1403.7 613.3,1406.0 616.2,1408.2 C619.1,1410.5 622.9,1412.8 626.2,1414.5 C629.5,1416.1 633.2,1416.7 636.1,1418.2 C639.1,1419.7 641.5,1421.3 643.6,1423.2 C645.7,1425.0 646.7,1428.4 648.6,1429.4 C650.5,1430.4 654.0,1430.8 654.8,1429.4 C655.6,1427.9 654.0,1423.2 653.6,1420.7 C653.1,1418.2 652.5,1416.7 652.3,1414.5 C652.1,1412.2 651.9,1409.3 652.3,1407.0 C652.7,1404.7 653.4,1402.0 654.8,1400.8 C656.3,1399.5 659.6,1400.4 661.0,1399.5 C662.5,1398.7 662.5,1396.6 663.5,1395.8 C664.6,1395.0 665.8,1395.0 667.2,1394.6 C668.7,1394.2 671.0,1394.2 672.2,1393.3 C673.5,1392.5 673.5,1389.8 674.7,1389.6 C676.0,1389.4 678.2,1390.8 679.7,1392.1 C681.1,1393.3 682.2,1395.4 683.4,1397.1 C684.7,1398.7 685.9,1400.8 687.1,1402.0 C688.4,1403.3 689.6,1404.3 690.9,1404.5 C692.1,1404.7 694.0,1404.5 694.6,1403.3 C695.2,1402.0 695.0,1399.1 694.6,1397.1 C694.2,1395.0 693.4,1392.3 692.1,1390.8 C690.9,1389.4 688.8,1389.2 687.1,1388.3 C685.5,1387.5 682.8,1386.9 682.2,1385.9 C681.6,1384.8 682.6,1383.0 683.4,1382.1 C684.2,1381.3 685.7,1381.3 687.1,1380.9 C688.6,1380.5 691.1,1380.5 692.1,1379.6 C693.2,1378.8 692.3,1376.7 693.4,1375.9 C694.4,1375.1 696.9,1375.3 698.3,1374.7 C699.8,1374.0 700.4,1372.8 702.1,1372.2 C703.7,1371.6 706.6,1370.7 708.3,1370.9 C710.0,1371.1 711.0,1372.4 712.0,1373.4 C713.1,1374.5 713.5,1375.7 714.5,1377.1 C715.6,1378.6 717.2,1380.9 718.2,1382.1 C719.3,1383.4 719.9,1384.6 720.7,1384.6 C721.6,1384.6 722.8,1383.4 723.2,1382.1 C723.6,1380.9 723.6,1379.0 723.2,1377.1 C722.8,1375.3 721.8,1372.8 720.7,1370.9 C719.7,1369.1 718.5,1367.6 717.0,1366.0 C715.6,1364.3 712.7,1362.2 712.0,1361.0 C711.4,1359.7 712.4,1358.7 713.3,1358.5 C714.1,1358.3 715.8,1359.3 717.0,1359.7 C718.2,1360.1 719.3,1360.4 720.7,1361.0 C722.2,1361.6 724.3,1362.6 725.7,1363.5 C727.2,1364.3 728.2,1364.7 729.4,1366.0 C730.7,1367.2 731.8,1370.1 733.2,1370.9 C734.5,1371.8 737.1,1372.2 737.5,1370.9 C737.9,1369.7 736.3,1365.7 735.7,1363.5 C735.0,1361.2 734.2,1359.1 733.8,1357.2 C733.4,1355.4 732.9,1352.9 733.2,1352.3 C733.5,1351.6 734.6,1352.7 735.7,1353.5 C736.7,1354.3 737.9,1356.6 739.4,1357.2 C740.8,1357.9 743.5,1358.9 744.4,1357.2 C745.2,1355.6 744.6,1351.0 744.4,1347.3 C744.2,1343.6 743.7,1339.0 743.1,1334.9 C742.5,1330.7 741.5,1326.1 740.6,1322.4 C739.8,1318.7 739.8,1315.6 738.2,1312.5 C736.5,1309.4 733.4,1306.9 730.7,1303.8 C728.0,1300.6 724.9,1297.1 722.0,1293.8 C719.1,1290.5 716.4,1286.8 713.3,1283.9 C710.2,1281.0 706.6,1278.5 703.3,1276.4 C700.0,1274.3 695.9,1272.2 693.4,1271.4 C690.9,1270.6 690.1,1270.7 688.4,1271.4 C686.7,1272.1 685.5,1274.8 683.4,1275.8 C681.3,1276.7 677.4,1276.5 676.0,1277.0 C674.5,1277.5 674.3,1277.9 674.7,1278.9 C675.1,1279.8 677.0,1281.4 678.4,1282.6 C679.9,1283.9 681.8,1285.4 683.4,1286.3 C685.1,1287.3 687.8,1287.7 688.4,1288.2 C689.0,1288.7 688.4,1289.2 687.1,1289.5 C685.9,1289.7 683.2,1290.2 680.9,1289.5 C678.6,1288.7 675.7,1286.7 673.5,1285.1 C671.2,1283.5 669.1,1281.2 667.2,1280.1 C665.4,1279.1 663.9,1278.9 662.3,1278.9 C660.6,1278.9 658.6,1279.3 657.3,1280.1 C655.9,1281.0 654.8,1282.0 654.2,1283.9 C653.6,1285.7 652.8,1289.9 653.6,1291.3 C654.3,1292.8 656.1,1292.4 658.5,1292.6 C661.0,1292.8 665.6,1292.1 668.5,1292.6 C671.4,1293.0 673.9,1294.0 676.0,1295.0 C678.0,1296.1 680.3,1297.7 680.9,1298.8 C681.6,1299.8 680.9,1300.4 679.7,1301.3 C678.4,1302.1 674.9,1302.7 673.5,1303.8 C672.0,1304.8 671.8,1306.9 671.0,1307.5 C670.1,1308.1 669.9,1308.1 668.5,1307.5 C667.0,1306.9 664.1,1305.0 662.3,1303.8 C660.4,1302.5 658.7,1301.1 657.3,1300.0 C655.8,1299.0 654.8,1298.0 653.6,1297.5 C652.3,1297.1 650.7,1296.9 649.8,1297.5 C649.0,1298.2 648.6,1299.6 648.6,1301.3 C648.6,1302.9 649.0,1305.4 649.8,1307.5 C650.7,1309.6 652.9,1312.1 653.6,1313.7 C654.2,1315.4 654.2,1316.7 653.6,1317.4 C652.9,1318.2 651.3,1318.3 649.8,1318.1 C648.4,1317.9 646.3,1317.3 644.9,1316.2 C643.4,1315.1 642.4,1312.9 641.1,1311.2 C639.9,1309.6 638.8,1307.6 637.4,1306.2 C635.9,1304.9 634.1,1303.6 632.4,1303.1 C630.8,1302.7 628.4,1302.8 627.4,1303.8 C626.5,1304.7 626.2,1306.9 626.8,1308.7 C627.4,1310.6 629.6,1312.9 631.2,1315.0 C632.7,1317.0 634.8,1319.1 636.1,1321.2 C637.5,1323.2 638.8,1325.7 639.3,1327.4 C639.7,1329.1 639.6,1330.3 638.6,1331.1 C637.7,1332.0 635.3,1332.0 633.7,1332.4 C632.0,1332.8 630.1,1332.6 628.7,1333.6 C627.2,1334.6 626.3,1337.6 625.0,1338.6 C623.6,1339.6 627.9,1340.3 620.6,1339.8 C613.3,1339.3 587.7,1334.9 581.4,1335.5 Z" fill="#d9dee0" fill-opacity="1.0"/>
<path d="M581.4,1335.5 C575.1,1336.1 581.6,1340.1 582.7,1343.6 C583.7,1347.0 585.8,1351.9 587.6,1356.0 C589.5,1360.1 592.0,1364.3 593.9,1368.4 C595.7,1372.6 597.4,1377.1 598.8,1380.9 C600.3,1384.6 600.9,1387.5 602.6,1390.8 C604.2,1394.2 606.5,1397.9 608.8,1400.8 C611.1,1403.7 613.3,1406.0 616.2,1408.2 C619.1,1410.5 622.9,1412.8 626.2,1414.5 C629.5,1416.1 633.2,1416.7 636.1,1418.2 C639.1,1419.7 641.5,1421.3 643.6,1423.2 C645.7,1425.0 646.7,1428.4 648.6,1429.4 C650.5,1430.4 654.0,1430.8 654.8,1429.4 C655.6,1427.9 654.0,1423.2 653.6,1420.7 C653.1,1418.2 652.5,1416.7 652.3,1414.5 C652.1,1412.2 651.9,1409.3 652.3,1407.0 C652.7,1404.7 653.4,1402.0 654.8,1400.8 C656.3,1399.5 659.6,1400.4 661.0,1399.5 C662.5,1398.7 662.5,1396.6 663.5,1395.8 C664.6,1395.0 665.8,1395.0 667.2,1394.6 C668.7,1394.2 671.0,1394.2 672.2,1393.3 C673.5,1392.5 673.5,1389.8 674.7,1389.6 C676.0,1389.4 678.2,1390.8 679.7,1392.1 C681.1,1393.3 682.2,1395.4 683.4,1397.1 C684.7,1398.7 685.9,1400.8 687.1,1402.0 C688.4,1403.3 689.6,1404.3 690.9,1404.5 C692.1,1404.7 694.0,1404.5 694.6,1403.3 C695.2,1402.0 695.0,1399.1 694.6,1397.1 C694.2,1395.0 693.4,1392.3 692.1,1390.8 C690.9,1389.4 688.8,1389.2 687.1,1388.3 C685.5,1387.5 682.8,1386.9 682.2,1385.9 C681.6,1384.8 682.6,1383.0 683.4,1382.1 C684.2,1381.3 685.7,1381.3 687.1,1380.9 C688.6,1380.5 691.1,1380.5 692.1,1379.6 C693.2,1378.8 692.3,1376.7 693.4,1375.9 C694.4,1375.1 696.9,1375.3 698.3,1374.7 C699.8,1374.0 700.4,1372.8 702.1,1372.2 C703.7,1371.6 706.6,1370.7 708.3,1370.9 C710.0,1371.1 711.0,1372.4 712.0,1373.4 C713.1,1374.5 713.5,1375.7 714.5,1377.1 C715.6,1378.6 717.2,1380.9 718.2,1382.1 C719.3,1383.4 719.9,1384.6 720.7,1384.6 C721.6,1384.6 722.8,1383.4 723.2,1382.1 C723.6,1380.9 723.6,1379.0 723.2,1377.1 C722.8,1375.3 721.8,1372.8 720.7,1370.9 C719.7,1369.1 718.5,1367.6 717.0,1366.0 C715.6,1364.3 712.7,1362.2 712.0,1361.0 C711.4,1359.7 712.4,1358.7 713.3,1358.5 C714.1,1358.3 715.8,1359.3 717.0,1359.7 C718.2,1360.1 719.3,1360.4 720.7,1361.0 C722.2,1361.6 724.3,1362.6 725.7,1363.5 C727.2,1364.3 728.2,1364.7 729.4,1366.0 C730.7,1367.2 731.8,1370.1 733.2,1370.9 C734.5,1371.8 737.1,1372.2 737.5,1370.9 C737.9,1369.7 736.3,1365.7 735.7,1363.5 C735.0,1361.2 734.2,1359.1 733.8,1357.2 C733.4,1355.4 732.9,1352.9 733.2,1352.3 C733.5,1351.6 734.6,1352.7 735.7,1353.5 C736.7,1354.3 737.9,1356.6 739.4,1357.2 C740.8,1357.9 743.5,1358.9 744.4,1357.2 C745.2,1355.6 744.6,1351.0 744.4,1347.3 C744.2,1343.6 743.7,1339.0 743.1,1334.9 C742.5,1330.7 741.5,1326.1 740.6,1322.4 C739.8,1318.7 739.8,1315.6 738.2,1312.5 C736.5,1309.4 733.4,1306.9 730.7,1303.8 C728.0,1300.6 724.9,1297.1 722.0,1293.8 C719.1,1290.5 716.4,1286.8 713.3,1283.9 C710.2,1281.0 706.6,1278.5 703.3,1276.4 C700.0,1274.3 695.9,1272.2 693.4,1271.4 C690.9,1270.6 690.1,1270.7 688.4,1271.4 C686.7,1272.1 685.5,1274.8 683.4,1275.8 C681.3,1276.7 677.4,1276.5 676.0,1277.0 C674.5,1277.5 674.3,1277.9 674.7,1278.9 C675.1,1279.8 677.0,1281.4 678.4,1282.6 C679.9,1283.9 681.8,1285.4 683.4,1286.3 C685.1,1287.3 687.8,1287.7 688.4,1288.2 C689.0,1288.7 688.4,1289.2 687.1,1289.5 C685.9,1289.7 683.2,1290.2 680.9,1289.5 C678.6,1288.7 675.7,1286.7 673.5,1285.1 C671.2,1283.5 669.1,1281.2 667.2,1280.1 C665.4,1279.1 663.9,1278.9 662.3,1278.9 C660.6,1278.9 658.6,1279.3 657.3,1280.1 C655.9,1281.0 654.8,1282.0 654.2,1283.9 C653.6,1285.7 652.8,1289.9 653.6,1291.3 C654.3,1292.8 656.1,1292.4 658.5,1292.6 C661.0,1292.8 665.6,1292.1 668.5,1292.6 C671.4,1293.0 673.9,1294.0 676.0,1295.0 C678.0,1296.1 680.3,1297.7 680.9,1298.8 C681.6,1299.8 680.9,1300.4 679.7,1301.3 C678.4,1302.1 674.9,1302.7 673.5,1303.8 C672.0,1304.8 671.8,1306.9 671.0,1307.5 C670.1,1308.1 669.9,1308.1 668.5,1307.5 C667.0,1306.9 664.1,1305.0 662.3,1303.8 C660.4,1302.5 658.7,1301.1 657.3,1300.0 C655.8,1299.0 654.8,1298.0 653.6,1297.5 C652.3,1297.1 650.7,1296.9 649.8,1297.5 C649.0,1298.2 648.6,1299.6 648.6,1301.3 C648.6,1302.9 649.0,1305.4 649.8,1307.5 C650.7,1309.6 652.9,1312.1 653.6,1313.7 C654.2,1315.4 654.2,1316.7 653.6,1317.4 C652.9,1318.2 651.3,1318.3 649.8,1318.1 C648.4,1317.9 646.3,1317.3 644.9,1316.2 C643.4,1315.1 642.4,1312.9 641.1,1311.2 C639.9,1309.6 638.8,1307.6 637.4,1306.2 C635.9,1304.9 634.1,1303.6 632.4,1303.1 C630.8,1302.7 628.4,1302.8 627.4,1303.8 C626.5,1304.7 626.2,1306.9 626.8,1308.7 C627.4,1310.6 629.6,1312.9 631.2,1315.0 C632.7,1317.0 634.8,1319.1 636.1,1321.2 C637.5,1323.2 638.8,1325.7 639.3,1327.4 C639.7,1329.1 639.6,1330.3 638.6,1331.1 C637.7,1332.0 635.3,1332.0 633.7,1332.4 C632.0,1332.8 630.1,1332.6 628.7,1333.6 C627.2,1334.6 626.3,1337.6 625.0,1338.6 C623.6,1339.6 627.9,1340.3 620.6,1339.8 C613.3,1339.3 587.7,1334.9 581.4,1335.5 Z" fill="url(#csparse)" opacity="1.0"/>
<path d="M588.3,1333.6 C588.8,1332.0 590.8,1331.1 592.6,1331.1 C594.4,1331.1 597.0,1332.2 598.8,1333.6 C600.7,1335.1 602.6,1337.3 603.8,1339.8 C605.0,1342.3 605.9,1345.6 606.3,1348.5 C606.7,1351.4 606.7,1355.7 606.3,1357.2 C605.9,1358.8 605.0,1358.5 603.8,1357.9 C602.6,1357.2 600.5,1355.1 598.8,1353.5 C597.2,1352.0 595.4,1350.6 593.9,1348.5 C592.3,1346.5 590.4,1343.6 589.5,1341.1 C588.6,1338.6 587.7,1335.3 588.3,1333.6 Z" fill="#d3d9dc" fill-opacity="1.0"/>
<path d="M606.9,1328.6 C607.3,1327.4 608.9,1327.0 610.0,1327.4 C611.2,1327.8 612.7,1329.7 613.8,1331.1 C614.8,1332.6 615.4,1334.4 616.2,1336.1 C617.1,1337.8 618.2,1339.2 618.7,1341.1 C619.3,1342.9 619.6,1345.8 619.4,1347.3 C619.1,1348.7 618.4,1350.0 617.5,1349.8 C616.6,1349.6 615.0,1347.5 613.8,1346.1 C612.5,1344.6 611.1,1342.9 610.0,1341.1 C609.0,1339.2 608.1,1336.9 607.5,1334.9 C607.0,1332.8 606.5,1329.9 606.9,1328.6 Z" fill="#d3d9dc" fill-opacity="1.0"/>
<path d="M581.4,1335.5 C581.6,1336.4 581.9,1341.2 582.7,1343.6 C583.4,1346.0 586.3,1353.1 587.6,1356.0 C588.9,1358.9 592.5,1365.5 593.9,1368.4 C595.2,1371.3 597.8,1378.3 598.8,1380.9 C599.8,1383.5 601.4,1388.5 602.6,1390.8 C603.7,1393.2 607.2,1398.8 608.8,1400.8 C610.4,1402.8 614.2,1406.7 616.2,1408.2 C618.3,1409.8 623.9,1413.3 626.2,1414.5 C628.5,1415.6 634.1,1417.2 636.1,1418.2 C638.2,1419.2 642.2,1421.9 643.6,1423.2 C645.1,1424.5 647.3,1428.7 648.6,1429.4 C649.9,1430.1 654.2,1430.4 654.8,1429.4 C655.4,1428.4 653.9,1422.4 653.6,1420.7 C653.3,1418.9 652.5,1416.1 652.3,1414.5 C652.2,1412.9 652.0,1408.6 652.3,1407.0 C652.6,1405.4 653.8,1401.7 654.8,1400.8 C655.8,1399.9 660.0,1400.1 661.0,1399.5 C662.0,1399.0 662.8,1396.4 663.5,1395.8 C664.2,1395.2 666.2,1394.9 667.2,1394.6 C668.3,1394.3 671.4,1393.9 672.2,1393.3 C673.1,1392.7 673.8,1389.7 674.7,1389.6 C675.6,1389.4 678.7,1391.2 679.7,1392.1 C680.7,1392.9 682.5,1395.9 683.4,1397.1 C684.3,1398.2 686.3,1401.2 687.1,1402.0 C688.0,1402.9 690.0,1404.4 690.9,1404.5 C691.8,1404.7 694.2,1404.1 694.6,1403.3 C695.0,1402.4 694.9,1398.5 694.6,1397.1 C694.3,1395.6 693.0,1391.8 692.1,1390.8 C691.3,1389.8 688.3,1388.9 687.1,1388.3 C686.0,1387.8 682.6,1386.6 682.2,1385.9 C681.7,1385.1 682.8,1382.7 683.4,1382.1 C684.0,1381.5 686.1,1381.2 687.1,1380.9 C688.2,1380.6 691.4,1380.2 692.1,1379.6 C692.9,1379.1 692.6,1376.5 693.4,1375.9 C694.1,1375.3 697.3,1375.1 698.3,1374.7 C699.4,1374.2 700.9,1372.6 702.1,1372.2 C703.2,1371.7 707.1,1370.8 708.3,1370.9 C709.5,1371.1 711.3,1372.7 712.0,1373.4 C712.8,1374.1 713.8,1376.1 714.5,1377.1 C715.2,1378.2 717.5,1381.3 718.2,1382.1 C719.0,1383.0 720.2,1384.6 720.7,1384.6 C721.3,1384.6 722.9,1383.0 723.2,1382.1 C723.5,1381.3 723.5,1378.5 723.2,1377.1 C722.9,1375.8 721.5,1372.2 720.7,1370.9 C720.0,1369.6 718.0,1367.1 717.0,1366.0 C716.0,1364.8 712.5,1361.8 712.0,1361.0 C711.6,1360.1 712.7,1358.6 713.3,1358.5 C713.9,1358.3 716.1,1359.4 717.0,1359.7 C717.9,1360.0 719.7,1360.5 720.7,1361.0 C721.8,1361.4 724.7,1362.9 725.7,1363.5 C726.7,1364.0 728.6,1365.1 729.4,1366.0 C730.3,1366.8 732.2,1370.3 733.2,1370.9 C734.1,1371.5 737.2,1371.8 737.5,1370.9 C737.8,1370.1 736.1,1365.1 735.7,1363.5 C735.2,1361.9 734.1,1358.6 733.8,1357.2 C733.5,1355.9 733.0,1352.7 733.2,1352.3 C733.4,1351.8 734.9,1352.9 735.7,1353.5 C736.4,1354.1 738.4,1356.8 739.4,1357.2 C740.4,1357.7 743.8,1358.4 744.4,1357.2 C745.0,1356.1 744.5,1349.9 744.4,1347.3 C744.2,1344.7 743.6,1337.8 743.1,1334.9 C742.7,1332.0 741.2,1325.0 740.6,1322.4 C740.1,1319.8 739.3,1314.6 738.2,1312.5 C737.0,1310.3 732.6,1305.9 730.7,1303.8 C728.8,1301.6 724.0,1296.1 722.0,1293.8 C719.9,1291.5 715.4,1285.9 713.3,1283.9 C711.1,1281.8 705.6,1277.8 703.3,1276.4 C701.0,1274.9 695.1,1272.0 693.4,1271.4 C691.6,1270.8 689.6,1270.9 688.4,1271.4 C687.2,1271.9 684.9,1275.1 683.4,1275.8 C682.0,1276.4 677.0,1276.6 676.0,1277.0 C674.9,1277.4 674.4,1278.2 674.7,1278.9 C675.0,1279.5 677.4,1281.7 678.4,1282.6 C679.5,1283.5 682.3,1285.7 683.4,1286.3 C684.6,1287.0 688.0,1287.8 688.4,1288.2 C688.8,1288.6 688.0,1289.3 687.1,1289.5 C686.3,1289.6 682.5,1290.0 680.9,1289.5 C679.3,1288.9 675.1,1286.2 673.5,1285.1 C671.9,1284.0 668.6,1280.8 667.2,1280.1 C665.9,1279.4 663.4,1278.9 662.3,1278.9 C661.1,1278.9 658.2,1279.5 657.3,1280.1 C656.4,1280.7 654.6,1282.5 654.2,1283.9 C653.7,1285.2 653.1,1290.3 653.6,1291.3 C654.1,1292.3 656.8,1292.4 658.5,1292.6 C660.3,1292.7 666.5,1292.3 668.5,1292.6 C670.5,1292.9 674.5,1294.3 676.0,1295.0 C677.4,1295.8 680.5,1298.1 680.9,1298.8 C681.4,1299.5 680.6,1300.7 679.7,1301.3 C678.8,1301.9 674.5,1303.0 673.5,1303.8 C672.5,1304.5 671.6,1307.1 671.0,1307.5 C670.4,1307.9 669.5,1307.9 668.5,1307.5 C667.5,1307.1 663.6,1304.6 662.3,1303.8 C661.0,1302.9 658.3,1300.8 657.3,1300.0 C656.3,1299.3 654.4,1297.8 653.6,1297.5 C652.7,1297.2 650.4,1297.1 649.8,1297.5 C649.3,1298.0 648.6,1300.1 648.6,1301.3 C648.6,1302.4 649.3,1306.0 649.8,1307.5 C650.4,1308.9 653.1,1312.5 653.6,1313.7 C654.0,1314.9 654.0,1316.9 653.6,1317.4 C653.1,1317.9 650.8,1318.2 649.8,1318.1 C648.8,1317.9 645.9,1317.0 644.9,1316.2 C643.8,1315.4 642.0,1312.4 641.1,1311.2 C640.3,1310.1 638.4,1307.2 637.4,1306.2 C636.4,1305.3 633.6,1303.4 632.4,1303.1 C631.3,1302.8 628.1,1303.1 627.4,1303.8 C626.8,1304.4 626.4,1307.4 626.8,1308.7 C627.3,1310.0 630.1,1313.5 631.2,1315.0 C632.3,1316.4 635.2,1319.7 636.1,1321.2 C637.1,1322.6 639.0,1326.2 639.3,1327.4 C639.5,1328.6 639.3,1330.5 638.6,1331.1 C638.0,1331.7 634.8,1332.1 633.7,1332.4 C632.5,1332.7 629.7,1332.9 628.7,1333.6 C627.7,1334.3 625.9,1337.9 625.0,1338.6 C624.0,1339.3 621.1,1339.7 620.6,1339.8" fill="none" stroke="#000" stroke-width="1.8" stroke-linejoin="round"/>
<path d="M588.3,1333.6 C588.6,1332.5 591.4,1331.1 592.6,1331.1 C593.8,1331.1 597.5,1332.6 598.8,1333.6 C600.1,1334.6 602.9,1338.1 603.8,1339.8 C604.7,1341.6 606.0,1346.5 606.3,1348.5 C606.6,1350.6 606.6,1356.2 606.3,1357.2 C606.0,1358.3 604.7,1358.3 603.8,1357.9 C602.9,1357.4 600.0,1354.6 598.8,1353.5 C597.7,1352.4 594.9,1350.0 593.9,1348.5 C592.8,1347.1 590.2,1342.8 589.5,1341.1 C588.8,1339.3 587.9,1334.8 588.3,1333.6 Z" fill="none" stroke="#000" stroke-width="1.8" stroke-linejoin="round"/>
<path d="M606.9,1328.6 C607.2,1327.8 609.2,1327.1 610.0,1327.4 C610.8,1327.7 613.0,1330.1 613.8,1331.1 C614.5,1332.1 615.7,1334.9 616.2,1336.1 C616.8,1337.3 618.4,1339.8 618.7,1341.1 C619.1,1342.4 619.5,1346.3 619.4,1347.3 C619.2,1348.3 618.1,1349.9 617.5,1349.8 C616.8,1349.6 614.6,1347.1 613.8,1346.1 C612.9,1345.0 610.8,1342.4 610.0,1341.1 C609.3,1339.8 607.9,1336.3 607.5,1334.9 C607.2,1333.4 606.6,1329.5 606.9,1328.6 Z" fill="none" stroke="#000" stroke-width="1.8" stroke-linejoin="round"/>
</g>
<rect x="566.30" y="1256.20" width="199.00" height="191.00" fill="none" stroke="#222" stroke-width="1.4" />
<g clip-path="url(#clip21)">
<rect x="779.30" y="1256.20" width="198.80" height="191.00" fill="#ffffff" stroke="none" stroke-width="1" />
<path d="M779.5,1343.6 C781.1,1333.8 783.6,1341.2 789.4,1341.1 C795.2,1341.0 806.0,1341.9 814.3,1342.9 C822.6,1344.0 828.8,1345.5 839.2,1347.3 C849.6,1349.1 864.1,1350.8 876.5,1353.5 C889.0,1356.2 902.4,1360.1 913.8,1363.5 C925.2,1366.8 936.6,1370.5 944.9,1373.4 C953.2,1376.3 958.0,1378.8 963.6,1380.9 C969.2,1383.0 976.0,1380.5 978.5,1385.9 C981.0,1391.2 983.1,1409.3 978.5,1413.2 C974.0,1417.2 961.9,1410.5 951.2,1409.5 C940.4,1408.5 926.3,1407.6 913.8,1407.0 C901.4,1406.4 889.0,1406.4 876.5,1405.8 C864.1,1405.1 849.6,1404.1 839.2,1403.3 C828.8,1402.4 822.6,1401.4 814.3,1400.8 C806.0,1400.2 795.2,1399.7 789.4,1399.5 C783.6,1399.3 781.1,1408.9 779.5,1399.5 C777.8,1390.2 777.8,1353.3 779.5,1343.6 Z" fill="#cad0d4" fill-opacity="1.0"/>
<path d="M779.5,1343.6 C781.1,1333.8 783.6,1341.2 789.4,1341.1 C795.2,1341.0 806.0,1341.9 814.3,1342.9 C822.6,1344.0 828.8,1345.5 839.2,1347.3 C849.6,1349.1 864.1,1350.8 876.5,1353.5 C889.0,1356.2 902.4,1360.1 913.8,1363.5 C925.2,1366.8 936.6,1370.5 944.9,1373.4 C953.2,1376.3 958.0,1378.8 963.6,1380.9 C969.2,1383.0 976.0,1380.5 978.5,1385.9 C981.0,1391.2 983.1,1409.3 978.5,1413.2 C974.0,1417.2 961.9,1410.5 951.2,1409.5 C940.4,1408.5 926.3,1407.6 913.8,1407.0 C901.4,1406.4 889.0,1406.4 876.5,1405.8 C864.1,1405.1 849.6,1404.1 839.2,1403.3 C828.8,1402.4 822.6,1401.4 814.3,1400.8 C806.0,1400.2 795.2,1399.7 789.4,1399.5 C783.6,1399.3 781.1,1408.9 779.5,1399.5 C777.8,1390.2 777.8,1353.3 779.5,1343.6 Z" fill="url(#fib10)" opacity="0.75"/>
<path d="M857.9,1408.2 C863.0,1407.8 879.6,1408.5 889.0,1409.5 C898.3,1410.5 905.5,1413.0 913.8,1414.5 C922.1,1415.9 932.1,1416.5 938.7,1418.2 C945.3,1419.9 949.5,1423.8 953.6,1424.4 C957.8,1425.0 959.4,1422.1 963.6,1421.9 C967.7,1421.7 976.0,1421.9 978.5,1423.2 C981.0,1424.4 981.0,1428.6 978.5,1429.4 C976.0,1430.2 967.7,1427.9 963.6,1428.2 C959.4,1428.4 957.8,1431.3 953.6,1430.6 C949.5,1430.0 945.3,1426.3 938.7,1424.4 C932.1,1422.6 922.1,1421.1 913.8,1419.4 C905.5,1417.8 898.3,1415.7 889.0,1414.5 C879.6,1413.2 863.0,1413.0 857.9,1412.0 C852.7,1410.9 852.7,1408.7 857.9,1408.2 Z" fill="#c8cdd2" fill-opacity="1.0"/>
<path d="M779.5,1429.4 C781.1,1426.5 784.7,1429.2 789.4,1430.6 C794.2,1432.1 801.9,1435.2 808.1,1438.1 C814.3,1441.0 831.5,1446.4 826.8,1448.1 C822.0,1449.7 787.4,1451.2 779.5,1448.1 C771.6,1444.9 777.8,1432.3 779.5,1429.4 Z" fill="#cfd3d7" fill-opacity="1.0"/>
<path d="M796.9,1353.5 C796.1,1353.9 800.4,1356.0 801.9,1357.2 C803.3,1358.5 801.5,1360.1 805.6,1361.0 C809.8,1361.8 821.2,1361.4 826.8,1362.2 C832.4,1363.1 835.1,1364.5 839.2,1366.0 C843.3,1367.4 847.9,1369.5 851.6,1370.9 C855.4,1372.4 857.4,1373.9 861.6,1374.7 C865.7,1375.4 870.9,1375.1 876.5,1375.3 C882.1,1375.5 890.0,1375.2 895.2,1375.9 C900.4,1376.6 903.5,1378.4 907.6,1379.6 C911.8,1380.9 915.1,1382.4 920.1,1383.4 C925.0,1384.3 932.3,1384.2 937.5,1385.2 C942.7,1386.3 946.8,1388.0 951.2,1389.6 C955.5,1391.1 960.3,1393.3 963.6,1394.6 C966.9,1395.8 969.5,1395.6 971.1,1397.1 C972.6,1398.5 972.6,1401.1 972.9,1403.3 C973.2,1405.4 975.3,1409.1 972.9,1410.1 C970.5,1411.2 961.4,1409.8 958.6,1409.5 C955.8,1409.2 956.1,1409.5 956.1,1408.2 C956.1,1407.0 959.0,1403.1 958.6,1402.0 C958.2,1401.0 956.3,1402.9 953.6,1402.0 C950.9,1401.2 947.0,1397.9 942.4,1397.1 C937.9,1396.2 932.5,1397.1 926.3,1397.1 C920.1,1397.1 911.8,1398.1 905.1,1397.1 C898.5,1396.0 893.3,1391.9 886.5,1390.8 C879.6,1389.8 872.0,1390.9 864.1,1390.8 C856.2,1390.7 845.8,1390.4 839.2,1390.2 C832.6,1390.0 828.4,1389.9 824.3,1389.6 C820.1,1389.3 818.5,1389.4 814.3,1388.3 C810.2,1387.3 803.5,1385.0 799.4,1383.4 C795.2,1381.7 792.3,1380.5 789.4,1378.4 C786.5,1376.3 783.4,1373.4 782.0,1370.9 C780.5,1368.4 780.5,1366.6 780.7,1363.5 C780.9,1360.4 782.0,1355.1 783.2,1352.3 C784.5,1349.5 785.1,1348.0 788.2,1346.7 C791.3,1345.3 796.9,1344.7 801.9,1344.2 C806.9,1343.7 813.9,1343.4 818.0,1343.8 C822.2,1344.2 824.9,1345.3 826.8,1346.7 C828.6,1348.1 829.2,1350.8 829.2,1352.3 C829.2,1353.7 828.2,1354.8 826.8,1355.4 C825.3,1356.0 823.9,1356.1 820.5,1356.0 C817.2,1355.9 810.8,1355.2 806.9,1354.8 C802.9,1354.3 797.7,1353.1 796.9,1353.5 Z" fill="#c2c9d0" fill-opacity="1.0"/>
<path d="M796.9,1353.5 C796.1,1353.9 800.4,1356.0 801.9,1357.2 C803.3,1358.5 801.5,1360.1 805.6,1361.0 C809.8,1361.8 821.2,1361.4 826.8,1362.2 C832.4,1363.1 835.1,1364.5 839.2,1366.0 C843.3,1367.4 847.9,1369.5 851.6,1370.9 C855.4,1372.4 857.4,1373.9 861.6,1374.7 C865.7,1375.4 870.9,1375.1 876.5,1375.3 C882.1,1375.5 890.0,1375.2 895.2,1375.9 C900.4,1376.6 903.5,1378.4 907.6,1379.6 C911.8,1380.9 915.1,1382.4 920.1,1383.4 C925.0,1384.3 932.3,1384.2 937.5,1385.2 C942.7,1386.3 946.8,1388.0 951.2,1389.6 C955.5,1391.1 960.3,1393.3 963.6,1394.6 C966.9,1395.8 969.5,1395.6 971.1,1397.1 C972.6,1398.5 972.6,1401.1 972.9,1403.3 C973.2,1405.4 975.3,1409.1 972.9,1410.1 C970.5,1411.2 961.4,1409.8 958.6,1409.5 C955.8,1409.2 956.1,1409.5 956.1,1408.2 C956.1,1407.0 959.0,1403.1 958.6,1402.0 C958.2,1401.0 956.3,1402.9 953.6,1402.0 C950.9,1401.2 947.0,1397.9 942.4,1397.1 C937.9,1396.2 932.5,1397.1 926.3,1397.1 C920.1,1397.1 911.8,1398.1 905.1,1397.1 C898.5,1396.0 893.3,1391.9 886.5,1390.8 C879.6,1389.8 872.0,1390.9 864.1,1390.8 C856.2,1390.7 845.8,1390.4 839.2,1390.2 C832.6,1390.0 828.4,1389.9 824.3,1389.6 C820.1,1389.3 818.5,1389.4 814.3,1388.3 C810.2,1387.3 803.5,1385.0 799.4,1383.4 C795.2,1381.7 792.3,1380.5 789.4,1378.4 C786.5,1376.3 783.4,1373.4 782.0,1370.9 C780.5,1368.4 780.5,1366.6 780.7,1363.5 C780.9,1360.4 782.0,1355.1 783.2,1352.3 C784.5,1349.5 785.1,1348.0 788.2,1346.7 C791.3,1345.3 796.9,1344.7 801.9,1344.2 C806.9,1343.7 813.9,1343.4 818.0,1343.8 C822.2,1344.2 824.9,1345.3 826.8,1346.7 C828.6,1348.1 829.2,1350.8 829.2,1352.3 C829.2,1353.7 828.2,1354.8 826.8,1355.4 C825.3,1356.0 823.9,1356.1 820.5,1356.0 C817.2,1355.9 810.8,1355.2 806.9,1354.8 C802.9,1354.3 797.7,1353.1 796.9,1353.5 Z" fill="url(#fib10)" opacity="0.9"/>
<path d="M796.9,1353.5 C796.3,1353.8 800.9,1356.4 801.9,1357.2 C802.9,1358.1 802.7,1360.4 805.6,1361.0 C808.5,1361.6 822.8,1361.6 826.8,1362.2 C830.7,1362.8 836.3,1364.9 839.2,1366.0 C842.1,1367.0 849.0,1369.9 851.6,1370.9 C854.2,1371.9 858.7,1374.2 861.6,1374.7 C864.5,1375.2 872.6,1375.1 876.5,1375.3 C880.4,1375.4 891.5,1375.4 895.2,1375.9 C898.8,1376.4 904.7,1378.8 907.6,1379.6 C910.5,1380.5 916.6,1382.7 920.1,1383.4 C923.5,1384.0 933.8,1384.5 937.5,1385.2 C941.1,1386.0 948.1,1388.5 951.2,1389.6 C954.2,1390.7 961.3,1393.7 963.6,1394.6 C965.9,1395.4 970.0,1396.0 971.1,1397.1 C972.1,1398.1 972.7,1401.7 972.9,1403.3 C973.1,1404.8 974.6,1409.4 972.9,1410.1 C971.3,1410.8 960.6,1409.7 958.6,1409.5 C956.7,1409.3 956.1,1409.1 956.1,1408.2 C956.1,1407.4 958.9,1402.8 958.6,1402.0 C958.3,1401.3 955.5,1402.6 953.6,1402.0 C951.8,1401.4 945.6,1397.6 942.4,1397.1 C939.3,1396.5 930.6,1397.1 926.3,1397.1 C921.9,1397.1 909.8,1397.8 905.1,1397.1 C900.5,1396.3 891.3,1391.6 886.5,1390.8 C881.7,1390.1 869.6,1390.9 864.1,1390.8 C858.6,1390.8 843.8,1390.4 839.2,1390.2 C834.6,1390.1 827.2,1389.8 824.3,1389.6 C821.4,1389.4 817.2,1389.1 814.3,1388.3 C811.4,1387.6 802.3,1384.5 799.4,1383.4 C796.5,1382.2 791.5,1379.8 789.4,1378.4 C787.4,1376.9 783.0,1372.7 782.0,1370.9 C781.0,1369.2 780.6,1365.6 780.7,1363.5 C780.9,1361.3 782.3,1354.2 783.2,1352.3 C784.1,1350.3 786.0,1347.6 788.2,1346.7 C790.4,1345.7 798.4,1344.5 801.9,1344.2 C805.4,1343.9 815.1,1343.5 818.0,1343.8 C821.0,1344.1 825.5,1345.7 826.8,1346.7 C828.1,1347.7 829.2,1351.3 829.2,1352.3 C829.2,1353.3 827.8,1354.9 826.8,1355.4 C825.7,1355.8 822.9,1356.1 820.5,1356.0 C818.2,1355.9 809.6,1355.0 806.9,1354.8 C804.1,1354.5 797.5,1353.2 796.9,1353.5 Z" fill="none" stroke="#000" stroke-width="1.8" stroke-linejoin="round"/>
</g>
<rect x="779.30" y="1256.20" width="198.80" height="191.00" fill="none" stroke="#222" stroke-width="1.4" />
<g clip-path="url(#clip31)">
<rect x="992.20" y="1256.20" width="194.40" height="191.00" fill="#ffffff" stroke="none" stroke-width="1" />
<path d="M992.5,1256.5 C997.7,1252.1 1015.7,1253.8 1023.6,1256.5 C1031.5,1259.2 1034.0,1266.2 1039.8,1272.7 C1045.6,1279.1 1052.2,1287.4 1058.4,1295.0 C1064.6,1302.7 1071.3,1311.0 1077.1,1318.7 C1082.9,1326.4 1087.0,1334.2 1093.2,1341.1 C1099.5,1347.9 1105.7,1353.3 1114.4,1359.7 C1123.1,1366.2 1136.2,1374.9 1145.5,1379.6 C1154.8,1384.4 1163.1,1385.4 1170.4,1388.3 C1177.6,1391.2 1185.9,1387.1 1189.0,1397.1 C1192.1,1407.0 1192.1,1441.8 1189.0,1448.1 C1185.9,1454.3 1178.7,1439.1 1170.4,1434.4 C1162.1,1429.6 1148.6,1424.0 1139.3,1419.4 C1129.9,1414.9 1122.7,1411.8 1114.4,1407.0 C1106.1,1402.2 1097.4,1396.0 1089.5,1390.8 C1081.6,1385.6 1073.3,1380.9 1067.1,1375.9 C1060.9,1370.9 1056.8,1366.8 1052.2,1361.0 C1047.6,1355.2 1043.9,1347.5 1039.8,1341.1 C1035.6,1334.6 1031.9,1328.6 1027.3,1322.4 C1022.8,1316.2 1016.5,1308.9 1012.4,1303.8 C1008.2,1298.6 1005.8,1294.8 1002.4,1291.3 C999.1,1287.8 994.1,1288.4 992.5,1282.6 C990.8,1276.8 987.3,1260.8 992.5,1256.5 Z" fill="#d2d9dc" fill-opacity="1.0"/>
<path d="M992.5,1256.5 C997.7,1252.1 1015.7,1253.8 1023.6,1256.5 C1031.5,1259.2 1034.0,1266.2 1039.8,1272.7 C1045.6,1279.1 1052.2,1287.4 1058.4,1295.0 C1064.6,1302.7 1071.3,1311.0 1077.1,1318.7 C1082.9,1326.4 1087.0,1334.2 1093.2,1341.1 C1099.5,1347.9 1105.7,1353.3 1114.4,1359.7 C1123.1,1366.2 1136.2,1374.9 1145.5,1379.6 C1154.8,1384.4 1163.1,1385.4 1170.4,1388.3 C1177.6,1391.2 1185.9,1387.1 1189.0,1397.1 C1192.1,1407.0 1192.1,1441.8 1189.0,1448.1 C1185.9,1454.3 1178.7,1439.1 1170.4,1434.4 C1162.1,1429.6 1148.6,1424.0 1139.3,1419.4 C1129.9,1414.9 1122.7,1411.8 1114.4,1407.0 C1106.1,1402.2 1097.4,1396.0 1089.5,1390.8 C1081.6,1385.6 1073.3,1380.9 1067.1,1375.9 C1060.9,1370.9 1056.8,1366.8 1052.2,1361.0 C1047.6,1355.2 1043.9,1347.5 1039.8,1341.1 C1035.6,1334.6 1031.9,1328.6 1027.3,1322.4 C1022.8,1316.2 1016.5,1308.9 1012.4,1303.8 C1008.2,1298.6 1005.8,1294.8 1002.4,1291.3 C999.1,1287.8 994.1,1288.4 992.5,1282.6 C990.8,1276.8 987.3,1260.8 992.5,1256.5 Z" fill="url(#fibm50)" opacity="1.0"/>
<path d="M992.5,1384.6 C993.7,1375.1 997.3,1387.3 1000.0,1390.8 C1002.6,1394.4 1004.1,1401.6 1008.7,1405.8 C1013.2,1409.9 1021.7,1412.0 1027.3,1415.7 C1032.9,1419.4 1038.7,1425.5 1042.2,1428.2 C1045.8,1430.8 1048.5,1428.6 1048.5,1431.9 C1048.5,1435.2 1051.6,1445.4 1042.2,1448.1 C1032.9,1450.7 1000.8,1458.6 992.5,1448.1 C984.2,1437.5 991.2,1394.2 992.5,1384.6 Z" fill="#cfd3d6" fill-opacity="1.0"/>
<path d="M994.4,1264.6 C995.2,1263.8 999.0,1264.1 1001.2,1264.6 C1003.4,1265.1 1005.1,1265.5 1007.4,1267.7 C1009.7,1269.9 1011.8,1274.7 1014.9,1277.6 C1018.0,1280.5 1022.8,1282.4 1026.1,1285.1 C1029.4,1287.8 1032.1,1290.7 1034.8,1293.8 C1037.5,1296.9 1039.6,1300.6 1042.2,1303.8 C1044.9,1306.9 1047.8,1310.0 1051.0,1312.5 C1054.1,1315.0 1057.8,1316.2 1060.9,1318.7 C1064.0,1321.2 1067.3,1324.1 1069.6,1327.4 C1071.9,1330.7 1073.3,1334.6 1074.6,1338.6 C1075.8,1342.5 1076.7,1347.9 1077.1,1351.0 C1077.5,1354.1 1075.4,1356.0 1077.1,1357.2 C1078.7,1358.5 1083.3,1357.7 1087.0,1358.5 C1090.8,1359.3 1096.1,1361.0 1099.5,1362.2 C1102.8,1363.5 1104.4,1364.1 1106.9,1366.0 C1109.4,1367.8 1112.1,1371.3 1114.4,1373.4 C1116.7,1375.5 1118.1,1376.9 1120.6,1378.4 C1123.1,1379.8 1126.6,1380.9 1129.3,1382.1 C1132.0,1383.4 1134.3,1384.4 1136.8,1385.9 C1139.3,1387.3 1142.4,1390.0 1144.2,1390.8 C1146.1,1391.7 1146.9,1391.7 1148.0,1390.8 C1149.0,1390.0 1149.4,1386.5 1150.5,1385.9 C1151.5,1385.2 1152.7,1386.1 1154.2,1387.1 C1155.7,1388.1 1156.1,1391.0 1159.2,1392.1 C1162.3,1393.1 1169.3,1392.3 1172.9,1393.3 C1176.4,1394.4 1178.8,1396.4 1180.3,1398.3 C1181.9,1400.2 1182.4,1402.7 1182.2,1404.5 C1182.0,1406.4 1180.4,1408.4 1179.1,1409.5 C1177.7,1410.6 1176.6,1411.0 1174.1,1411.4 C1171.6,1411.7 1167.9,1411.7 1164.2,1411.4 C1160.4,1411.0 1155.9,1410.6 1151.7,1409.5 C1147.6,1408.4 1143.4,1406.6 1139.3,1404.5 C1135.1,1402.4 1131.0,1399.7 1126.8,1397.1 C1122.7,1394.4 1118.5,1391.2 1114.4,1388.3 C1110.2,1385.4 1106.1,1382.3 1102.0,1379.6 C1097.8,1376.9 1093.7,1374.7 1089.5,1372.2 C1085.4,1369.7 1080.8,1367.2 1077.1,1364.7 C1073.3,1362.2 1069.2,1359.5 1067.1,1357.2 C1065.1,1355.0 1065.7,1353.7 1064.6,1351.0 C1063.6,1348.3 1063.0,1345.2 1060.9,1341.1 C1058.8,1336.9 1055.3,1330.7 1052.2,1326.1 C1049.1,1321.6 1045.6,1317.9 1042.2,1313.7 C1038.9,1309.6 1035.4,1304.8 1032.3,1301.3 C1029.2,1297.7 1025.9,1294.8 1023.6,1292.6 C1021.3,1290.3 1020.0,1288.4 1018.6,1287.6 C1017.3,1286.8 1016.1,1287.0 1015.5,1287.6 C1014.9,1288.2 1015.2,1290.3 1014.9,1291.3 C1014.6,1292.4 1014.7,1294.6 1013.6,1293.8 C1012.6,1293.0 1010.5,1289.0 1008.7,1286.3 C1006.8,1283.6 1004.5,1280.5 1002.4,1277.6 C1000.4,1274.7 997.6,1271.1 996.2,1268.9 C994.9,1266.8 993.5,1265.3 994.4,1264.6 Z" fill="#c8d0d8" fill-opacity="1.0"/>
<path d="M994.4,1264.6 C995.2,1263.8 999.0,1264.1 1001.2,1264.6 C1003.4,1265.1 1005.1,1265.5 1007.4,1267.7 C1009.7,1269.9 1011.8,1274.7 1014.9,1277.6 C1018.0,1280.5 1022.8,1282.4 1026.1,1285.1 C1029.4,1287.8 1032.1,1290.7 1034.8,1293.8 C1037.5,1296.9 1039.6,1300.6 1042.2,1303.8 C1044.9,1306.9 1047.8,1310.0 1051.0,1312.5 C1054.1,1315.0 1057.8,1316.2 1060.9,1318.7 C1064.0,1321.2 1067.3,1324.1 1069.6,1327.4 C1071.9,1330.7 1073.3,1334.6 1074.6,1338.6 C1075.8,1342.5 1076.7,1347.9 1077.1,1351.0 C1077.5,1354.1 1075.4,1356.0 1077.1,1357.2 C1078.7,1358.5 1083.3,1357.7 1087.0,1358.5 C1090.8,1359.3 1096.1,1361.0 1099.5,1362.2 C1102.8,1363.5 1104.4,1364.1 1106.9,1366.0 C1109.4,1367.8 1112.1,1371.3 1114.4,1373.4 C1116.7,1375.5 1118.1,1376.9 1120.6,1378.4 C1123.1,1379.8 1126.6,1380.9 1129.3,1382.1 C1132.0,1383.4 1134.3,1384.4 1136.8,1385.9 C1139.3,1387.3 1142.4,1390.0 1144.2,1390.8 C1146.1,1391.7 1146.9,1391.7 1148.0,1390.8 C1149.0,1390.0 1149.4,1386.5 1150.5,1385.9 C1151.5,1385.2 1152.7,1386.1 1154.2,1387.1 C1155.7,1388.1 1156.1,1391.0 1159.2,1392.1 C1162.3,1393.1 1169.3,1392.3 1172.9,1393.3 C1176.4,1394.4 1178.8,1396.4 1180.3,1398.3 C1181.9,1400.2 1182.4,1402.7 1182.2,1404.5 C1182.0,1406.4 1180.4,1408.4 1179.1,1409.5 C1177.7,1410.6 1176.6,1411.0 1174.1,1411.4 C1171.6,1411.7 1167.9,1411.7 1164.2,1411.4 C1160.4,1411.0 1155.9,1410.6 1151.7,1409.5 C1147.6,1408.4 1143.4,1406.6 1139.3,1404.5 C1135.1,1402.4 1131.0,1399.7 1126.8,1397.1 C1122.7,1394.4 1118.5,1391.2 1114.4,1388.3 C1110.2,1385.4 1106.1,1382.3 1102.0,1379.6 C1097.8,1376.9 1093.7,1374.7 1089.5,1372.2 C1085.4,1369.7 1080.8,1367.2 1077.1,1364.7 C1073.3,1362.2 1069.2,1359.5 1067.1,1357.2 C1065.1,1355.0 1065.7,1353.7 1064.6,1351.0 C1063.6,1348.3 1063.0,1345.2 1060.9,1341.1 C1058.8,1336.9 1055.3,1330.7 1052.2,1326.1 C1049.1,1321.6 1045.6,1317.9 1042.2,1313.7 C1038.9,1309.6 1035.4,1304.8 1032.3,1301.3 C1029.2,1297.7 1025.9,1294.8 1023.6,1292.6 C1021.3,1290.3 1020.0,1288.4 1018.6,1287.6 C1017.3,1286.8 1016.1,1287.0 1015.5,1287.6 C1014.9,1288.2 1015.2,1290.3 1014.9,1291.3 C1014.6,1292.4 1014.7,1294.6 1013.6,1293.8 C1012.6,1293.0 1010.5,1289.0 1008.7,1286.3 C1006.8,1283.6 1004.5,1280.5 1002.4,1277.6 C1000.4,1274.7 997.6,1271.1 996.2,1268.9 C994.9,1266.8 993.5,1265.3 994.4,1264.6 Z" fill="url(#fibm50)" opacity="1.0"/>
<path d="M994.4,1264.6 C994.9,1264.1 999.7,1264.2 1001.2,1264.6 C1002.7,1264.9 1005.8,1266.2 1007.4,1267.7 C1009.0,1269.2 1012.7,1275.6 1014.9,1277.6 C1017.1,1279.7 1023.8,1283.2 1026.1,1285.1 C1028.4,1287.0 1032.9,1291.6 1034.8,1293.8 C1036.7,1296.0 1040.4,1301.6 1042.2,1303.8 C1044.1,1305.9 1048.8,1310.7 1051.0,1312.5 C1053.1,1314.2 1058.7,1316.9 1060.9,1318.7 C1063.1,1320.4 1068.0,1325.1 1069.6,1327.4 C1071.2,1329.7 1073.7,1335.8 1074.6,1338.6 C1075.5,1341.3 1076.8,1348.9 1077.1,1351.0 C1077.4,1353.2 1075.9,1356.4 1077.1,1357.2 C1078.2,1358.1 1084.4,1357.9 1087.0,1358.5 C1089.6,1359.1 1097.1,1361.4 1099.5,1362.2 C1101.8,1363.1 1105.2,1364.6 1106.9,1366.0 C1108.7,1367.3 1112.8,1372.0 1114.4,1373.4 C1116.0,1374.9 1118.9,1377.4 1120.6,1378.4 C1122.4,1379.4 1127.4,1381.3 1129.3,1382.1 C1131.2,1383.0 1135.0,1384.8 1136.8,1385.9 C1138.5,1386.9 1142.9,1390.3 1144.2,1390.8 C1145.6,1391.4 1147.3,1391.4 1148.0,1390.8 C1148.7,1390.3 1149.7,1386.3 1150.5,1385.9 C1151.2,1385.4 1153.2,1386.4 1154.2,1387.1 C1155.2,1387.8 1157.0,1391.4 1159.2,1392.1 C1161.4,1392.8 1170.4,1392.6 1172.9,1393.3 C1175.3,1394.0 1179.2,1397.0 1180.3,1398.3 C1181.4,1399.6 1182.3,1403.2 1182.2,1404.5 C1182.0,1405.8 1180.0,1408.7 1179.1,1409.5 C1178.1,1410.3 1175.8,1411.1 1174.1,1411.4 C1172.4,1411.6 1166.8,1411.6 1164.2,1411.4 C1161.5,1411.1 1154.6,1410.3 1151.7,1409.5 C1148.8,1408.7 1142.2,1406.0 1139.3,1404.5 C1136.4,1403.1 1129.7,1398.9 1126.8,1397.1 C1123.9,1395.2 1117.3,1390.4 1114.4,1388.3 C1111.5,1386.3 1104.9,1381.5 1102.0,1379.6 C1099.1,1377.8 1092.4,1373.9 1089.5,1372.2 C1086.6,1370.4 1079.7,1366.5 1077.1,1364.7 C1074.5,1363.0 1068.6,1358.8 1067.1,1357.2 C1065.7,1355.7 1065.4,1352.9 1064.6,1351.0 C1063.9,1349.1 1062.4,1344.0 1060.9,1341.1 C1059.5,1338.2 1054.4,1329.3 1052.2,1326.1 C1050.0,1323.0 1044.6,1316.6 1042.2,1313.7 C1039.9,1310.8 1034.5,1303.7 1032.3,1301.3 C1030.1,1298.8 1025.2,1294.2 1023.6,1292.6 C1022.0,1291.0 1019.6,1288.2 1018.6,1287.6 C1017.7,1287.0 1015.9,1287.2 1015.5,1287.6 C1015.1,1288.0 1015.1,1290.6 1014.9,1291.3 C1014.7,1292.0 1014.4,1294.4 1013.6,1293.8 C1012.9,1293.2 1010.0,1288.2 1008.7,1286.3 C1007.4,1284.5 1003.9,1279.7 1002.4,1277.6 C1001.0,1275.6 997.2,1270.5 996.2,1268.9 C995.3,1267.4 993.8,1265.1 994.4,1264.6 Z" fill="none" stroke="#000" stroke-width="1.8" stroke-linejoin="round"/>
</g>
<rect x="992.20" y="1256.20" width="194.40" height="191.00" fill="none" stroke="#222" stroke-width="1.4" />
<g clip-path="url(#clip41)">
<rect x="1192.60" y="1256.20" width="193.90" height="191.00" fill="#ffffff" stroke="none" stroke-width="1" />
<path d="M1192.5,1256.5 C1193.7,1251.3 1195.2,1253.8 1200.0,1256.5 C1204.7,1259.2 1213.4,1266.9 1221.1,1272.7 C1228.8,1278.5 1237.7,1285.1 1246.0,1291.3 C1254.3,1297.5 1262.6,1302.7 1270.9,1310.0 C1279.1,1317.2 1287.4,1326.6 1295.7,1334.9 C1304.0,1343.1 1311.3,1351.4 1320.6,1359.7 C1329.9,1368.0 1342.4,1377.4 1351.7,1384.6 C1361.0,1391.9 1370.4,1399.3 1376.6,1403.3 C1382.8,1407.2 1387.0,1400.8 1389.0,1408.2 C1391.1,1415.7 1392.1,1442.7 1389.0,1448.1 C1385.9,1453.4 1378.7,1444.3 1370.4,1440.6 C1362.1,1436.9 1348.6,1430.2 1339.3,1425.7 C1329.9,1421.1 1322.7,1417.6 1314.4,1413.2 C1306.1,1408.9 1295.7,1403.7 1289.5,1399.5 C1283.3,1395.4 1282.3,1392.9 1277.1,1388.3 C1271.9,1383.8 1264.6,1378.4 1258.4,1372.2 C1252.2,1366.0 1246.0,1358.3 1239.8,1351.0 C1233.5,1343.8 1226.7,1336.1 1221.1,1328.6 C1215.5,1321.2 1210.9,1313.1 1206.2,1306.2 C1201.4,1299.4 1194.8,1295.9 1192.5,1287.6 C1190.2,1279.3 1191.2,1261.7 1192.5,1256.5 Z" fill="#dddcd3" fill-opacity="1.0"/>
<path d="M1192.5,1256.5 C1193.7,1251.3 1195.2,1253.8 1200.0,1256.5 C1204.7,1259.2 1213.4,1266.9 1221.1,1272.7 C1228.8,1278.5 1237.7,1285.1 1246.0,1291.3 C1254.3,1297.5 1262.6,1302.7 1270.9,1310.0 C1279.1,1317.2 1287.4,1326.6 1295.7,1334.9 C1304.0,1343.1 1311.3,1351.4 1320.6,1359.7 C1329.9,1368.0 1342.4,1377.4 1351.7,1384.6 C1361.0,1391.9 1370.4,1399.3 1376.6,1403.3 C1382.8,1407.2 1387.0,1400.8 1389.0,1408.2 C1391.1,1415.7 1392.1,1442.7 1389.0,1448.1 C1385.9,1453.4 1378.7,1444.3 1370.4,1440.6 C1362.1,1436.9 1348.6,1430.2 1339.3,1425.7 C1329.9,1421.1 1322.7,1417.6 1314.4,1413.2 C1306.1,1408.9 1295.7,1403.7 1289.5,1399.5 C1283.3,1395.4 1282.3,1392.9 1277.1,1388.3 C1271.9,1383.8 1264.6,1378.4 1258.4,1372.2 C1252.2,1366.0 1246.0,1358.3 1239.8,1351.0 C1233.5,1343.8 1226.7,1336.1 1221.1,1328.6 C1215.5,1321.2 1210.9,1313.1 1206.2,1306.2 C1201.4,1299.4 1194.8,1295.9 1192.5,1287.6 C1190.2,1279.3 1191.2,1261.7 1192.5,1256.5 Z" fill="url(#fib45)" opacity="1.0"/>
<path d="M1192.5,1435.6 C1194.1,1433.7 1200.2,1434.8 1202.4,1436.9 C1204.7,1438.9 1207.8,1446.2 1206.2,1448.1 C1204.5,1449.9 1194.8,1450.1 1192.5,1448.1 C1190.2,1446.0 1190.8,1437.5 1192.5,1435.6 Z" fill="#dadad4" fill-opacity="1.0"/>
<path d="M1209.9,1435.6 C1212.2,1434.0 1222.5,1436.0 1224.8,1438.1 C1227.1,1440.2 1225.9,1446.4 1223.6,1448.1 C1221.3,1449.7 1213.4,1450.1 1211.1,1448.1 C1208.9,1446.0 1207.6,1437.3 1209.9,1435.6 Z" fill="#dcdcd6" fill-opacity="1.0"/>
<path d="M1202.4,1287.6 C1202.6,1286.4 1202.9,1287.2 1204.9,1288.2 C1207.0,1289.2 1212.4,1292.3 1214.9,1293.8 C1217.4,1295.4 1217.8,1295.3 1219.9,1297.5 C1221.9,1299.8 1224.0,1304.4 1227.3,1307.5 C1230.6,1310.6 1235.6,1313.3 1239.8,1316.2 C1243.9,1319.1 1248.1,1322.2 1252.2,1324.9 C1256.3,1327.6 1260.5,1329.7 1264.6,1332.4 C1268.8,1335.1 1272.9,1337.8 1277.1,1341.1 C1281.2,1344.4 1286.2,1348.7 1289.5,1352.3 C1292.8,1355.8 1294.5,1359.1 1297.0,1362.2 C1299.5,1365.3 1301.5,1368.2 1304.4,1370.9 C1307.3,1373.6 1311.9,1376.6 1314.4,1378.4 C1316.9,1380.2 1317.3,1380.9 1319.4,1381.5 C1321.4,1382.1 1325.6,1384.4 1326.8,1382.1 C1328.1,1379.8 1326.2,1370.1 1326.8,1367.8 C1327.5,1365.5 1327.5,1366.5 1330.6,1368.4 C1333.7,1370.4 1342.8,1376.3 1345.5,1379.6 C1348.2,1383.0 1346.1,1385.6 1346.7,1388.3 C1347.4,1391.0 1346.9,1393.9 1349.2,1395.8 C1351.5,1397.7 1356.9,1398.5 1360.4,1399.5 C1363.9,1400.6 1367.3,1400.6 1370.4,1402.0 C1373.5,1403.5 1377.5,1405.6 1379.1,1408.2 C1380.6,1410.9 1380.9,1415.9 1379.7,1418.2 C1378.5,1420.5 1374.6,1420.7 1371.6,1421.9 C1368.6,1423.2 1365.4,1425.0 1361.7,1425.7 C1357.9,1426.3 1352.3,1426.3 1349.2,1425.7 C1346.1,1425.0 1345.1,1423.6 1343.0,1421.9 C1340.9,1420.3 1338.9,1417.2 1336.8,1415.7 C1334.7,1414.3 1332.8,1413.8 1330.6,1413.2 C1328.3,1412.6 1325.8,1413.0 1323.1,1412.0 C1320.4,1410.9 1316.9,1408.9 1314.4,1407.0 C1311.9,1405.1 1309.8,1403.5 1308.2,1400.8 C1306.5,1398.1 1305.9,1393.9 1304.4,1390.8 C1303.0,1387.7 1301.3,1385.0 1299.5,1382.1 C1297.6,1379.2 1295.3,1375.3 1293.2,1373.4 C1291.2,1371.6 1289.7,1372.2 1287.0,1370.9 C1284.3,1369.7 1280.4,1367.6 1277.1,1366.0 C1273.8,1364.3 1269.6,1363.1 1267.1,1361.0 C1264.6,1358.9 1263.7,1356.0 1262.1,1353.5 C1260.6,1351.0 1258.8,1348.1 1257.8,1346.1 C1256.8,1344.0 1257.3,1342.7 1255.9,1341.1 C1254.6,1339.4 1251.8,1337.7 1249.7,1336.1 C1247.6,1334.5 1245.3,1332.6 1243.5,1331.7 C1241.7,1330.9 1240.6,1330.7 1239.1,1331.1 C1237.7,1331.5 1235.9,1334.0 1234.8,1334.2 C1233.6,1334.4 1233.5,1333.9 1232.3,1332.4 C1231.0,1330.8 1229.2,1327.2 1227.3,1324.9 C1225.5,1322.6 1223.4,1321.2 1221.1,1318.7 C1218.8,1316.2 1215.9,1312.5 1213.6,1310.0 C1211.4,1307.5 1209.1,1306.2 1207.4,1303.8 C1205.8,1301.3 1204.5,1297.7 1203.7,1295.0 C1202.9,1292.4 1202.2,1288.7 1202.4,1287.6 Z" fill="#d3d4cc" fill-opacity="1.0"/>
<path d="M1202.4,1287.6 C1202.6,1286.4 1202.9,1287.2 1204.9,1288.2 C1207.0,1289.2 1212.4,1292.3 1214.9,1293.8 C1217.4,1295.4 1217.8,1295.3 1219.9,1297.5 C1221.9,1299.8 1224.0,1304.4 1227.3,1307.5 C1230.6,1310.6 1235.6,1313.3 1239.8,1316.2 C1243.9,1319.1 1248.1,1322.2 1252.2,1324.9 C1256.3,1327.6 1260.5,1329.7 1264.6,1332.4 C1268.8,1335.1 1272.9,1337.8 1277.1,1341.1 C1281.2,1344.4 1286.2,1348.7 1289.5,1352.3 C1292.8,1355.8 1294.5,1359.1 1297.0,1362.2 C1299.5,1365.3 1301.5,1368.2 1304.4,1370.9 C1307.3,1373.6 1311.9,1376.6 1314.4,1378.4 C1316.9,1380.2 1317.3,1380.9 1319.4,1381.5 C1321.4,1382.1 1325.6,1384.4 1326.8,1382.1 C1328.1,1379.8 1326.2,1370.1 1326.8,1367.8 C1327.5,1365.5 1327.5,1366.5 1330.6,1368.4 C1333.7,1370.4 1342.8,1376.3 1345.5,1379.6 C1348.2,1383.0 1346.1,1385.6 1346.7,1388.3 C1347.4,1391.0 1346.9,1393.9 1349.2,1395.8 C1351.5,1397.7 1356.9,1398.5 1360.4,1399.5 C1363.9,1400.6 1367.3,1400.6 1370.4,1402.0 C1373.5,1403.5 1377.5,1405.6 1379.1,1408.2 C1380.6,1410.9 1380.9,1415.9 1379.7,1418.2 C1378.5,1420.5 1374.6,1420.7 1371.6,1421.9 C1368.6,1423.2 1365.4,1425.0 1361.7,1425.7 C1357.9,1426.3 1352.3,1426.3 1349.2,1425.7 C1346.1,1425.0 1345.1,1423.6 1343.0,1421.9 C1340.9,1420.3 1338.9,1417.2 1336.8,1415.7 C1334.7,1414.3 1332.8,1413.8 1330.6,1413.2 C1328.3,1412.6 1325.8,1413.0 1323.1,1412.0 C1320.4,1410.9 1316.9,1408.9 1314.4,1407.0 C1311.9,1405.1 1309.8,1403.5 1308.2,1400.8 C1306.5,1398.1 1305.9,1393.9 1304.4,1390.8 C1303.0,1387.7 1301.3,1385.0 1299.5,1382.1 C1297.6,1379.2 1295.3,1375.3 1293.2,1373.4 C1291.2,1371.6 1289.7,1372.2 1287.0,1370.9 C1284.3,1369.7 1280.4,1367.6 1277.1,1366.0 C1273.8,1364.3 1269.6,1363.1 1267.1,1361.0 C1264.6,1358.9 1263.7,1356.0 1262.1,1353.5 C1260.6,1351.0 1258.8,1348.1 1257.8,1346.1 C1256.8,1344.0 1257.3,1342.7 1255.9,1341.1 C1254.6,1339.4 1251.8,1337.7 1249.7,1336.1 C1247.6,1334.5 1245.3,1332.6 1243.5,1331.7 C1241.7,1330.9 1240.6,1330.7 1239.1,1331.1 C1237.7,1331.5 1235.9,1334.0 1234.8,1334.2 C1233.6,1334.4 1233.5,1333.9 1232.3,1332.4 C1231.0,1330.8 1229.2,1327.2 1227.3,1324.9 C1225.5,1322.6 1223.4,1321.2 1221.1,1318.7 C1218.8,1316.2 1215.9,1312.5 1213.6,1310.0 C1211.4,1307.5 1209.1,1306.2 1207.4,1303.8 C1205.8,1301.3 1204.5,1297.7 1203.7,1295.0 C1202.9,1292.4 1202.2,1288.7 1202.4,1287.6 Z" fill="url(#fib45)" opacity="1.0"/>
<path d="M1202.4,1287.6 C1202.6,1286.8 1203.5,1287.5 1204.9,1288.2 C1206.4,1288.9 1213.1,1292.7 1214.9,1293.8 C1216.6,1294.9 1218.4,1295.9 1219.9,1297.5 C1221.3,1299.1 1225.0,1305.3 1227.3,1307.5 C1229.6,1309.7 1236.9,1314.2 1239.8,1316.2 C1242.7,1318.2 1249.3,1323.0 1252.2,1324.9 C1255.1,1326.8 1261.7,1330.5 1264.6,1332.4 C1267.5,1334.3 1274.2,1338.8 1277.1,1341.1 C1280.0,1343.4 1287.2,1349.8 1289.5,1352.3 C1291.8,1354.7 1295.2,1360.0 1297.0,1362.2 C1298.7,1364.4 1302.4,1369.0 1304.4,1370.9 C1306.5,1372.8 1312.7,1377.2 1314.4,1378.4 C1316.1,1379.6 1317.9,1381.1 1319.4,1381.5 C1320.8,1381.9 1326.0,1383.7 1326.8,1382.1 C1327.7,1380.5 1326.4,1369.4 1326.8,1367.8 C1327.3,1366.2 1328.4,1367.1 1330.6,1368.4 C1332.7,1369.8 1343.6,1377.3 1345.5,1379.6 C1347.4,1382.0 1346.3,1386.5 1346.7,1388.3 C1347.2,1390.2 1347.6,1394.5 1349.2,1395.8 C1350.8,1397.1 1358.0,1398.8 1360.4,1399.5 C1362.9,1400.3 1368.2,1401.0 1370.4,1402.0 C1372.5,1403.0 1378.0,1406.4 1379.1,1408.2 C1380.2,1410.1 1380.6,1416.6 1379.7,1418.2 C1378.8,1419.8 1373.7,1421.1 1371.6,1421.9 C1369.5,1422.8 1364.3,1425.2 1361.7,1425.7 C1359.1,1426.1 1351.4,1426.1 1349.2,1425.7 C1347.0,1425.2 1344.5,1423.1 1343.0,1421.9 C1341.6,1420.8 1338.2,1416.7 1336.8,1415.7 C1335.3,1414.7 1332.2,1413.7 1330.6,1413.2 C1329.0,1412.8 1325.0,1412.7 1323.1,1412.0 C1321.2,1411.3 1316.1,1408.3 1314.4,1407.0 C1312.7,1405.7 1309.3,1402.7 1308.2,1400.8 C1307.0,1398.9 1305.5,1393.0 1304.4,1390.8 C1303.4,1388.7 1300.8,1384.2 1299.5,1382.1 C1298.2,1380.1 1294.7,1374.7 1293.2,1373.4 C1291.8,1372.1 1288.9,1371.8 1287.0,1370.9 C1285.1,1370.1 1279.4,1367.1 1277.1,1366.0 C1274.8,1364.8 1268.9,1362.4 1267.1,1361.0 C1265.4,1359.5 1263.2,1355.3 1262.1,1353.5 C1261.1,1351.8 1258.5,1347.5 1257.8,1346.1 C1257.1,1344.6 1256.9,1342.2 1255.9,1341.1 C1255.0,1339.9 1251.2,1337.2 1249.7,1336.1 C1248.3,1335.0 1244.7,1332.3 1243.5,1331.7 C1242.3,1331.2 1240.2,1330.8 1239.1,1331.1 C1238.1,1331.4 1235.6,1334.1 1234.8,1334.2 C1234.0,1334.4 1233.2,1333.5 1232.3,1332.4 C1231.4,1331.3 1228.6,1326.5 1227.3,1324.9 C1226.0,1323.3 1222.7,1320.4 1221.1,1318.7 C1219.5,1316.9 1215.2,1311.7 1213.6,1310.0 C1212.0,1308.2 1208.6,1305.5 1207.4,1303.8 C1206.3,1302.0 1204.3,1296.9 1203.7,1295.0 C1203.1,1293.2 1202.3,1288.4 1202.4,1287.6 Z" fill="none" stroke="#000" stroke-width="1.8" stroke-linejoin="round"/>
</g>
<rect x="1192.60" y="1256.20" width="193.90" height="191.00" fill="none" stroke="#222" stroke-width="1.4" />
<text transform="matrix(0.6104 0 0 0.5688 308.04 1026.23)" font-family="DejaVu Sans" font-size="100">d</text>
<text x="416.20" y="1045.00" font-size="31.33" fill="#000" >Alpha 3</text>
<text x="614.60" y="1045.00" font-size="31.24" fill="#000" >Alpha 7</text>
<text x="833.60" y="1045.00" font-size="31.07" fill="#000" >Control</text>
<text x="1050.50" y="1045.00" font-size="31.59" fill="#000" >Alpha 3</text>
<text x="1251.80" y="1045.00" font-size="31.45" fill="#000" >Alpha 7</text>
<text x="417.10" y="1477.00" font-size="30.87" fill="#000" >Beta 2</text>
<text x="615.50" y="1477.00" font-size="30.80" fill="#000" >Beta 4</text>
<text x="833.80" y="1477.00" font-size="31.07" fill="#000" >Control</text>
<text x="1038.20" y="1477.00" font-size="31.52" fill="#000" >Beta 2</text>
<text x="1239.80" y="1477.00" font-size="31.28" fill="#000" >Beta 4</text>
<text transform="translate(351.76,1375.10) rotate(-90)" x="0" y="0" font-size="40.45">Cranial base</text>
<text transform="translate(1395.63,1182.50) rotate(90)" x="0" y="0" font-size="39.63">Suture</text>
</g>
</svg>
</body></html>
